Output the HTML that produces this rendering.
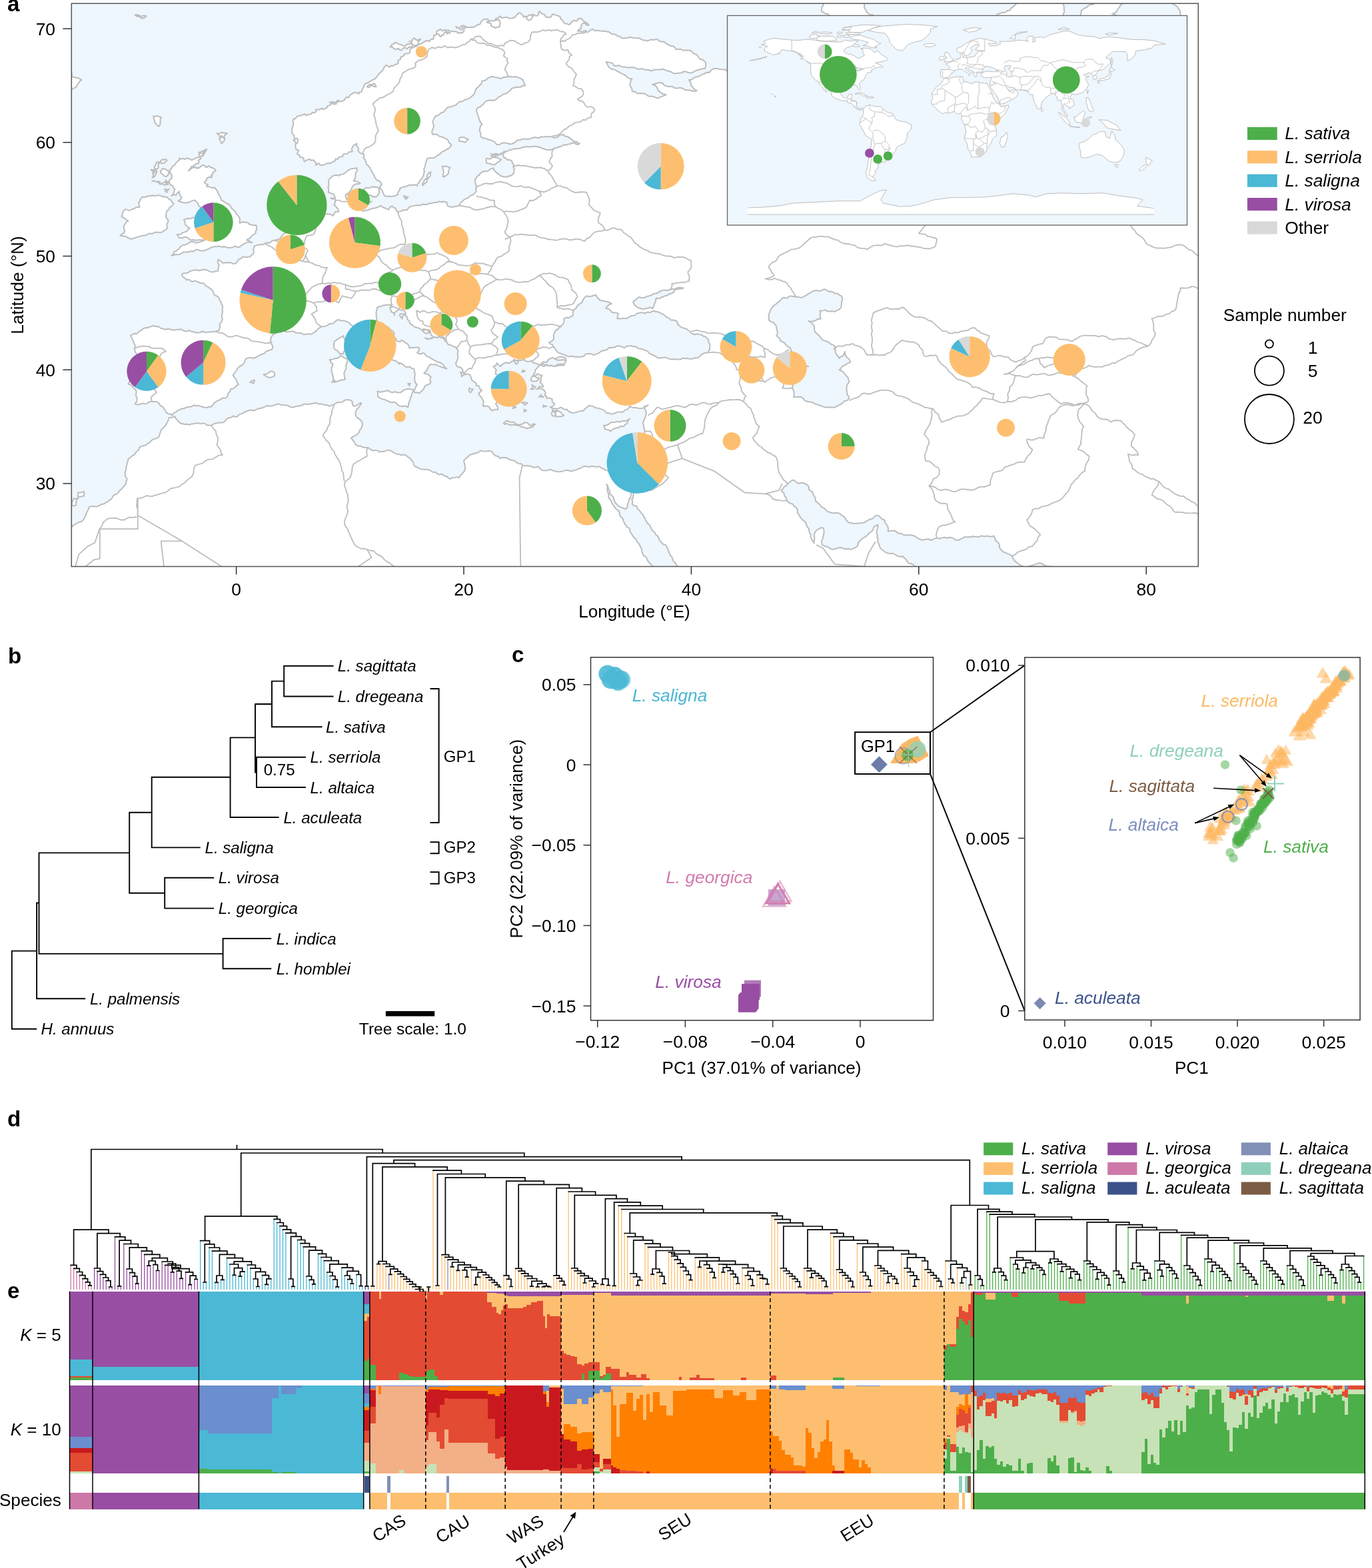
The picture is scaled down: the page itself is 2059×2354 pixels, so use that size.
<!DOCTYPE html><html><head><meta charset="utf-8"><title>Figure</title><style>html,body{margin:0;padding:0;background:#fff;}svg{display:block;}</style></head><body><svg xmlns="http://www.w3.org/2000/svg" width="2059" height="2354" viewBox="0 0 2059 2354" font-family='"Liberation Sans", Arial, Helvetica, sans-serif'><clipPath id="mapclip"><rect x="107.3" y="5.2" width="1691.0" height="845.3"/></clipPath><g clip-path="url(#mapclip)"><rect x="107.3" y="5.2" width="1691" height="845.3" fill="#EEF6FE"/><path d="M13.2,930.7L15.1,926.6L15.5,922.0L18.7,918.7L21.5,915.2L24.1,911.5L27.9,909.1L30.9,905.8L35.0,903.7L37.2,899.8L40.7,897.0L43.4,893.5L47.0,890.9L51.5,890.1L55.8,888.8L59.8,886.5L62.7,882.9L65.9,881.0L68.8,878.6L70.0,875.0L71.9,871.8L72.1,868.2L72.5,864.6L72.7,861.0L72.9,857.3L74.5,854.5L74.6,851.2L75.5,848.1L75.9,844.9L77.6,842.2L78.5,839.1L80.5,836.5L81.5,833.4L84.1,831.8L85.8,829.1L87.0,826.3L87.9,823.4L90.4,821.7L93.3,820.9L95.7,819.0L98.6,818.1L97.7,815.5L97.9,812.8L97.9,810.1L98.9,807.6L98.5,804.9L99.3,802.3L100.2,799.7L102.0,797.6L102.9,794.5L105.4,792.5L107.9,791.1L109.4,788.7L112.1,787.8L114.3,786.2L116.7,784.9L119.2,783.7L122.0,783.3L124.2,781.4L126.0,779.2L126.9,776.6L128.6,774.3L129.1,771.5L130.5,769.1L131.5,766.5L133.0,764.2L133.5,761.4L136.7,760.3L140.0,759.9L143.3,760.4L146.7,760.2L149.4,758.4L152.5,757.1L155.8,756.6L158.6,754.7L161.4,753.5L163.5,751.4L166.2,750.0L168.3,747.8L169.3,744.8L171.7,742.7L174.8,742.1L177.2,740.1L179.2,736.8L182.2,734.4L185.1,731.0L188.3,727.8L189.4,723.4L190.7,719.1L189.2,716.7L187.5,714.5L188.2,711.6L187.3,708.8L189.3,705.7L189.1,702.0L190.3,698.7L190.7,695.2L191.9,692.2L192.5,689.0L195.2,687.2L197.6,684.9L201.6,682.6L204.3,678.8L206.0,677.1L208.1,675.8L208.6,673.5L209.5,671.3L213.4,669.5L217.6,668.8L221.2,666.5L224.9,664.4L227.3,661.1L231.0,659.1L235.0,658.0L238.5,655.9L239.5,652.2L240.9,648.5L242.2,644.7L245.4,642.3L247.3,639.8L249.3,637.5L250.5,634.6L252.2,632.0L252.8,629.4L253.9,626.9L258.3,626.7L262.4,625.2L264.1,628.6L266.9,631.7L269.8,634.8L273.7,636.3L277.8,637.1L281.3,636.8L284.7,637.8L287.9,636.2L291.4,636.3L294.7,634.9L298.3,635.6L301.7,636.3L305.1,635.4L308.3,636.3L310.7,638.4L313.9,638.6L317.0,638.8L320.8,636.3L325.2,635.1L329.6,634.4L334.1,634.6L337.0,632.9L338.9,630.3L341.5,628.4L344.4,626.9L347.5,626.5L350.1,624.6L353.1,625.7L356.3,625.2L359.5,621.9L363.9,620.7L367.6,618.3L371.7,616.7L376.1,615.6L380.5,616.5L384.6,614.9L388.7,613.2L393.1,612.5L397.1,610.8L401.3,609.0L405.8,609.8L410.1,608.9L414.2,607.2L418.6,606.6L422.9,608.1L427.3,608.3L431.7,608.4L435.4,611.0L440.0,611.5L444.2,610.1L448.6,609.4L453.1,608.6L457.0,606.4L461.3,607.0L465.7,606.5L469.9,605.7L474.1,604.7L477.3,606.3L480.9,606.4L484.4,606.8L487.7,608.1L491.4,608.2L494.7,609.9L498.0,608.4L501.4,607.3L504.8,604.8L509.0,604.1L513.3,603.7L516.8,601.3L519.8,600.1L523.0,600.3L526.2,600.8L528.7,603.0L528.9,606.6L530.4,609.8L533.7,609.2L536.6,607.8L539.3,605.8L542.4,604.7L540.6,608.3L538.5,611.8L535.5,614.6L533.8,618.4L533.6,622.8L535.5,626.9L538.6,628.5L541.2,630.8L543.3,633.7L544.1,637.1L543.3,640.3L542.1,643.3L539.7,645.8L539.0,649.1L536.3,651.7L533.3,653.8L530.0,655.4L527.0,657.6L529.7,660.9L532.1,664.4L534.0,667.7L537.1,669.6L540.8,669.5L544.1,671.3L548.2,671.9L552.4,672.0L555.7,674.5L559.4,676.4L562.2,675.9L564.9,676.1L567.6,676.9L569.7,678.8L572.1,677.6L574.9,677.9L577.5,677.4L579.9,676.4L582.9,675.6L585.9,676.5L588.6,677.9L591.1,679.6L593.8,680.8L596.4,682.1L599.4,682.1L602.1,683.2L606.0,682.5L609.7,683.8L612.5,686.4L615.8,688.3L617.7,691.3L620.2,693.8L620.7,697.3L622.6,700.3L626.4,701.7L629.9,703.6L633.8,704.6L637.8,705.0L641.9,704.7L645.7,706.3L649.2,708.7L653.3,708.8L655.8,710.9L658.6,712.5L661.8,711.8L665.0,712.7L667.4,714.8L670.6,715.3L672.8,717.5L675.5,719.1L678.6,717.2L682.2,717.0L685.7,716.1L689.2,717.4L690.6,713.9L693.4,711.4L695.9,708.6L697.7,705.4L698.0,701.9L697.7,698.5L696.8,695.1L696.0,691.8L697.9,689.4L700.2,687.4L702.7,685.7L704.5,683.2L708.9,681.8L713.3,680.5L717.8,679.1L721.6,676.4L725.8,677.6L730.1,677.4L734.5,676.7L738.7,678.1L740.5,681.8L743.8,684.2L747.8,685.3L750.6,688.3L753.3,687.1L756.3,686.8L759.2,687.3L762.0,688.0L764.3,690.0L767.2,690.5L770.0,691.3L772.8,691.8L775.1,694.5L778.4,695.9L781.9,696.3L784.8,698.6L787.5,699.4L790.3,699.1L793.0,699.7L795.8,699.6L798.5,700.8L801.3,701.7L804.3,701.5L807.0,700.3L809.7,702.6L812.1,705.1L815.5,706.4L819.1,706.3L822.6,705.9L825.9,704.7L829.0,706.5L832.6,707.1L836.6,708.3L840.8,708.0L844.9,707.4L848.8,705.9L853.0,706.0L856.9,707.7L860.9,706.4L865.0,705.4L867.5,703.8L870.4,703.5L872.9,702.0L875.2,700.3L879.5,700.1L883.8,700.9L888.0,700.1L892.3,700.3L895.9,700.9L899.6,700.3L902.5,702.6L906.0,703.7L908.1,705.4L910.6,706.4L913.3,707.1L916.0,706.7L918.6,707.4L921.2,706.8L923.8,707.2L926.4,707.1L929.7,708.2L932.9,707.2L936.1,706.1L938.4,703.7L940.6,700.8L943.5,698.6L946.2,695.1L946.5,690.7L948.0,686.7L950.3,683.2L950.9,680.5L951.2,677.8L952.8,675.6L953.8,673.0L955.4,669.5L957.2,666.2L958.3,662.4L960.6,659.3L962.3,655.6L965.8,653.4L967.3,649.7L967.4,645.7L966.2,642.4L965.9,638.9L964.9,635.5L965.7,632.0L967.8,627.9L969.1,623.5L969.9,620.0L969.1,616.5L967.3,613.4L967.4,609.8L970.1,609.4L972.5,608.1L969.8,610.0L966.8,611.3L964.0,613.1L960.6,613.2L956.7,612.5L952.8,612.1L948.8,611.7L945.2,609.8L943.4,612.7L940.8,614.9L937.5,615.9L935.0,618.4L930.6,618.6L926.2,618.8L922.1,620.5L917.9,621.8L914.2,620.2L910.2,620.2L907.7,617.0L904.3,614.9L901.7,614.1L899.2,613.2L896.6,612.6L893.9,612.2L891.6,610.9L889.2,609.5L886.5,609.5L883.8,609.0L881.5,610.8L879.4,612.7L877.2,614.5L875.2,616.7L871.3,616.9L867.5,618.1L863.7,619.2L859.9,620.1L857.3,619.3L854.8,618.5L852.5,616.9L851.0,614.6L848.3,614.7L845.7,614.3L843.6,612.5L841.1,611.5L837.5,613.5L833.4,613.4L829.5,612.7L825.7,611.5L829.7,609.7L832.6,606.4L828.9,603.8L828.6,599.3L824.8,597.6L820.6,597.9L820.2,595.2L817.8,594.0L818.1,591.6L818.9,589.3L816.7,585.9L813.2,583.8L809.2,583.0L805.2,584.2L807.7,582.4L809.6,580.1L812.5,580.7L815.5,580.8L813.7,576.8L810.4,574.0L811.9,571.5L811.3,568.6L812.2,566.0L813.8,563.7L810.2,563.0L807.0,561.2L804.0,563.8L800.1,563.7L801.5,561.2L803.2,558.9L803.1,555.8L805.2,553.5L808.1,550.1L811.8,547.5L813.5,549.4L816.0,550.0L818.3,549.1L820.6,548.4L823.8,549.3L827.1,548.9L830.6,547.7L833.4,550.1L836.5,548.9L839.7,548.6L843.0,548.3L846.2,548.4L846.6,545.6L846.9,542.9L848.1,540.4L849.6,538.1L847.9,537.3L844.2,535.8L840.1,535.4L836.4,537.1L832.6,538.1L830.4,540.8L827.4,542.6L823.9,541.5L820.6,543.3L818.3,545.5L815.1,545.0L813.2,547.3L810.4,548.4L806.3,546.1L801.8,545.0L799.3,544.1L798.4,541.5L795.4,542.5L792.2,542.7L788.8,542.3L786.5,539.8L782.7,540.9L778.8,540.8L774.9,541.1L771.1,539.8L769.8,542.3L767.1,542.9L765.3,544.9L762.6,545.0L759.1,544.2L755.9,545.9L753.2,547.9L750.6,550.1L748.2,547.4L745.5,545.0L744.2,548.8L740.4,550.1L742.6,552.6L744.8,555.3L743.7,558.6L743.8,562.0L746.9,562.6L749.0,564.9L749.1,567.9L750.6,570.6L747.6,573.1L743.8,574.0L746.7,576.5L748.3,580.0L752.2,578.3L755.7,580.8L757.1,583.3L759.9,583.5L762.0,584.9L764.3,585.9L763.9,590.0L760.9,592.8L757.9,591.8L755.1,590.6L752.0,590.7L748.9,591.0L750.8,595.1L750.6,599.6L749.8,602.0L748.0,603.8L745.5,604.4L743.8,606.4L746.7,610.2L747.2,614.9L742.7,614.7L738.7,616.7L736.9,615.0L735.2,613.3L734.3,610.9L731.8,609.8L728.4,609.6L725.0,609.8L725.2,606.7L725.7,603.6L724.7,600.7L723.3,597.9L720.7,594.5L718.2,591.0L720.8,588.5L723.3,585.9L720.6,584.6L719.7,581.7L718.0,579.0L714.8,579.1L714.7,576.0L712.6,573.8L710.3,572.1L707.9,570.6L707.1,567.2L706.0,564.0L703.2,561.4L699.4,562.0L695.3,559.8L694.3,555.2L692.9,552.9L690.8,551.3L688.2,551.2L685.8,550.1L683.9,545.8L685.8,541.5L687.2,537.8L686.9,533.9L686.7,530.0L687.5,526.2L685.4,523.8L684.1,521.1L680.1,520.3L676.8,518.0L672.5,517.2L670.4,513.4L667.5,511.1L665.4,508.0L662.0,506.7L658.4,505.7L656.0,507.2L653.5,505.9L650.7,506.4L648.8,504.4L646.9,502.6L646.0,500.3L645.5,497.8L644.8,495.5L641.7,495.6L638.8,494.4L635.7,494.0L632.8,495.5L629.8,492.9L626.0,492.0L622.1,490.8L619.0,488.2L615.4,485.9L614.1,481.8L611.3,479.5L611.3,475.9L608.5,473.5L608.9,469.9L607.3,467.2L604.8,465.3L601.7,465.4L598.7,464.7L596.2,466.1L594.1,468.0L591.6,470.1L591.9,473.3L590.6,469.4L586.8,468.1L586.8,465.0L584.9,462.6L586.7,460.3L588.5,457.9L585.9,457.4L583.3,457.7L580.8,457.7L578.2,457.9L575.1,458.5L572.3,459.8L569.2,460.2L566.3,461.3L565.6,463.8L565.1,466.4L564.6,468.9L564.6,471.6L564.7,474.6L565.4,477.5L565.3,480.6L566.3,483.5L569.4,483.7L572.1,485.2L575.1,486.2L577.0,488.7L579.7,489.9L582.4,491.3L584.6,493.4L586.8,495.5L589.1,496.9L591.1,498.9L591.2,501.6L591.2,504.4L592.4,506.7L594.3,508.3L594.6,511.0L597.0,512.5L600.2,513.0L602.7,510.8L605.5,512.0L607.5,514.3L610.3,515.3L612.3,517.4L614.2,519.7L614.1,522.8L617.9,522.0L621.7,521.9L625.7,521.3L629.4,522.8L628.7,526.6L626.0,529.6L628.4,531.0L631.1,531.5L633.7,530.5L636.4,530.1L638.2,532.2L639.8,534.4L642.2,535.6L644.8,536.4L646.6,538.1L648.8,539.0L650.8,540.3L653.0,541.3L655.1,542.6L657.1,544.0L659.6,543.8L661.9,545.0L664.4,546.7L665.9,549.4L668.0,551.6L670.4,553.5L667.7,553.0L665.3,551.7L662.6,551.4L660.2,550.1L656.7,548.9L653.7,547.0L650.0,547.6L646.5,546.7L643.3,549.7L641.8,553.8L639.3,557.3L636.3,560.3L639.1,561.2L642.1,561.5L644.0,563.8L646.5,565.4L645.3,569.7L646.5,574.0L644.2,576.7L640.9,577.7L637.9,579.5L636.3,582.5L635.1,584.8L633.3,586.8L631.2,588.3L629.4,590.2L625.7,589.2L621.7,589.3L621.6,586.0L623.1,583.1L624.2,580.1L626.0,577.4L623.3,574.7L622.4,571.0L622.1,567.4L622.6,563.7L622.8,561.1L622.0,558.6L622.1,555.9L620.9,553.5L617.6,553.0L615.3,550.6L612.1,551.0L608.9,550.9L607.0,549.2L605.1,547.3L602.8,546.0L600.4,545.0L596.5,544.3L593.6,541.5L589.0,540.5L585.3,537.4L580.7,536.6L576.5,534.7L573.1,532.3L569.2,530.7L565.5,528.6L562.9,525.3L560.8,523.8L558.4,522.8L555.9,522.1L554.1,520.1L552.4,518.2L550.5,516.4L547.8,516.0L545.8,514.2L543.3,511.2L539.7,509.6L536.5,507.6L533.8,504.8L532.1,500.9L531.0,496.8L530.9,492.4L528.7,488.6L526.0,487.1L524.1,484.6L521.4,483.2L518.4,482.2L515.5,481.6L512.5,481.3L509.5,480.6L506.5,480.1L502.9,482.7L499.6,485.7L495.0,486.0L491.2,488.6L487.0,489.9L482.6,490.3L478.5,492.8L475.1,496.1L471.4,499.1L467.3,501.4L464.2,501.5L461.2,501.2L458.3,502.1L455.3,502.3L451.8,499.9L447.6,499.9L443.5,499.4L440.0,497.2L436.5,497.8L433.0,498.1L429.4,498.2L426.3,496.3L423.8,496.4L421.5,495.6L419.6,497.1L417.2,497.6L413.6,500.6L409.2,502.3L408.0,504.8L406.4,507.0L406.6,509.8L405.8,512.5L406.6,515.1L408.0,517.5L409.2,520.0L409.2,522.8L407.6,524.7L405.1,525.4L402.9,526.6L400.5,527.0L398.5,528.5L396.7,530.3L394.5,531.3L392.2,532.2L389.6,533.2L387.3,534.6L384.9,535.8L382.5,537.3L379.8,538.0L377.1,537.1L374.4,537.0L371.7,537.3L369.4,538.3L368.1,540.4L367.2,542.7L366.5,545.0L363.5,548.0L359.6,550.0L356.4,552.9L354.6,556.9L351.6,560.0L349.5,563.7L352.0,566.9L354.6,570.0L355.8,573.9L358.0,577.4L354.9,579.0L352.6,581.7L349.5,583.5L346.1,584.2L345.3,587.6L342.8,589.9L341.9,593.0L340.9,596.2L337.4,597.8L333.6,597.4L330.8,599.9L327.3,601.3L324.1,602.8L321.3,605.0L319.3,608.0L317.0,610.7L313.4,610.5L310.2,612.1L306.8,611.5L303.4,610.7L300.5,609.6L297.5,608.7L294.4,609.3L291.3,608.2L288.6,609.7L285.6,610.7L282.5,610.9L279.5,611.5L276.2,613.3L272.5,613.7L269.2,615.3L265.8,616.7L264.2,618.6L261.7,619.4L259.8,621.0L259.0,623.5L255.6,621.7L251.8,620.9L248.9,618.4L247.1,614.9L244.7,611.2L240.9,609.1L238.6,605.5L235.1,603.0L231.7,603.1L228.3,603.0L225.5,602.7L222.9,604.0L220.7,605.6L218.0,606.4L214.1,605.5L210.4,606.8L206.5,607.6L202.7,606.4L205.2,602.6L205.8,598.1L204.0,593.9L204.4,589.3L204.5,586.6L203.0,584.4L200.7,583.0L199.3,580.8L196.4,577.8L192.4,576.5L193.8,574.4L194.6,572.0L195.7,569.7L195.8,567.1L195.5,562.7L197.0,558.5L199.4,554.7L202.7,551.8L203.7,547.3L206.4,543.6L205.0,539.2L206.1,534.7L204.8,531.4L203.0,528.2L201.7,524.7L202.7,521.1L202.7,518.2L201.3,515.8L200.6,513.2L199.3,510.8L197.8,507.3L195.8,504.0L198.0,502.7L200.0,501.2L202.5,500.8L205.0,500.9L207.0,499.5L208.5,497.6L210.7,496.4L212.9,495.5L214.8,493.2L217.6,492.3L220.5,492.3L223.2,491.2L226.8,490.1L230.4,489.0L234.0,490.3L237.9,489.9L240.7,492.6L244.6,493.5L248.3,494.8L252.2,493.7L255.4,494.2L258.5,495.4L261.8,495.4L265.1,494.8L268.4,494.8L271.7,494.3L274.6,496.0L277.8,497.2L281.3,497.3L284.3,495.7L287.1,497.8L290.6,498.2L293.7,499.6L297.1,499.5L300.6,499.1L303.4,497.2L305.8,498.4L308.4,498.8L311.0,498.9L313.6,498.5L316.2,498.5L318.8,497.9L321.4,498.1L323.9,497.2L326.6,496.8L329.0,495.5L329.9,491.0L329.9,486.4L332.7,482.7L334.1,478.4L332.9,476.2L333.0,473.7L333.1,471.2L334.2,469.0L333.7,464.3L334.1,459.6L332.5,456.7L331.8,453.5L329.8,450.9L329.0,447.7L326.0,444.7L322.0,443.3L320.3,439.5L318.8,435.7L315.3,433.1L311.9,430.6L308.2,428.8L306.1,425.2L302.0,425.3L298.3,423.8L295.9,422.9L293.6,421.8L291.1,421.9L288.7,422.9L286.4,422.0L284.5,420.3L282.0,419.7L279.5,420.3L278.0,417.9L275.6,416.5L273.5,414.5L272.7,411.8L276.1,410.2L279.9,410.3L283.2,408.6L286.3,406.7L290.5,405.6L294.8,405.3L299.1,406.2L303.4,405.0L307.9,404.5L312.0,406.4L316.1,407.9L320.5,408.4L323.8,407.1L327.3,406.7L327.5,402.3L328.8,398.2L326.8,394.1L327.3,389.6L331.0,391.8L334.1,394.7L336.7,394.5L339.2,394.2L341.8,394.5L344.4,394.1L347.1,394.5L349.4,395.9L352.1,395.7L354.6,394.7L356.5,392.3L358.0,389.6L361.1,388.6L363.3,386.3L366.4,385.4L369.5,386.3L372.5,385.6L375.6,385.3L377.6,382.8L380.2,381.1L380.9,378.0L380.0,375.0L381.0,372.1L381.9,369.1L385.7,368.2L389.5,367.1L393.6,367.5L397.3,365.7L401.2,364.3L405.4,364.6L408.4,361.4L412.6,360.6L416.0,359.7L419.5,358.9L422.1,355.5L424.6,352.1L426.6,350.4L429.1,349.7L430.3,347.5L431.4,345.2L430.6,342.2L431.6,339.2L432.5,336.2L434.8,334.1L437.7,332.2L440.1,329.8L443.4,329.0L446.8,328.2L449.0,326.5L451.6,325.5L454.3,325.3L457.0,325.6L460.7,326.8L464.6,327.5L468.5,326.3L472.4,327.3L474.9,325.2L477.5,323.0L480.7,321.4L484.1,320.5L487.5,321.8L491.2,321.3L495.7,321.6L499.7,323.9L501.4,320.9L503.1,317.9L505.7,318.0L508.2,317.9L507.5,314.0L504.8,311.1L503.5,309.0L501.4,307.7L502.9,304.4L503.1,300.9L502.8,296.5L501.4,292.3L497.3,290.2L492.9,288.9L493.1,285.0L492.5,281.2L493.6,277.4L492.9,273.5L493.6,269.7L496.3,266.7L498.6,264.7L501.4,263.3L505.0,262.7L508.4,263.8L511.4,261.8L515.1,261.6L517.2,260.0L519.4,258.7L521.0,256.5L523.6,255.6L526.1,253.5L529.3,253.0L532.4,252.7L535.5,252.2L535.9,256.3L533.8,259.9L533.4,263.0L533.3,266.2L532.3,269.2L530.4,271.8L533.2,271.9L535.8,272.9L538.4,273.7L540.7,275.3L537.4,276.3L534.0,276.2L531.1,277.9L528.7,280.4L527.5,284.0L525.3,287.2L522.3,290.4L518.5,292.3L519.0,295.8L520.2,299.1L522.1,301.2L523.6,303.4L525.3,307.7L529.3,307.4L533.2,308.2L536.5,310.7L540.7,311.1L541.6,314.5L544.1,317.1L548.0,316.1L551.9,315.5L555.6,314.0L559.4,312.8L562.6,312.5L565.7,311.5L568.8,310.4L571.4,308.5L573.9,310.8L577.1,312.0L580.1,313.6L583.3,314.5L585.1,311.2L588.5,309.4L590.7,311.7L593.8,312.6L594.6,315.7L597.0,317.9L600.5,317.4L603.7,316.2L607.1,315.0L610.7,315.4L612.9,312.5L615.5,310.0L619.1,309.4L622.6,308.4L626.1,308.1L629.5,308.8L632.7,307.0L636.3,306.8L639.1,307.2L641.9,306.5L644.5,305.2L647.5,305.3L650.1,304.3L653.0,304.1L655.9,303.9L658.4,302.6L661.4,302.9L664.4,302.7L667.4,303.1L670.4,303.4L670.7,306.6L672.1,309.4L676.3,310.7L680.7,310.5L685.0,309.6L689.2,308.5L690.3,306.0L691.9,303.7L694.3,302.2L696.0,300.0L698.5,298.5L701.2,297.6L703.7,296.1L705.6,293.9L708.3,292.8L711.0,291.7L712.8,289.4L714.8,287.2L714.2,283.5L715.8,280.1L713.9,277.1L713.1,273.5L713.0,269.9L714.8,266.7L716.6,264.2L719.5,262.9L720.7,260.0L723.3,258.2L727.8,257.0L732.4,256.8L736.0,253.8L740.4,252.2L741.6,256.0L744.6,258.6L747.6,260.9L750.6,263.3L753.3,264.8L756.4,265.3L759.5,265.8L762.6,265.0L765.0,264.0L767.5,263.6L769.4,261.8L771.1,259.9L771.4,256.9L771.7,253.9L770.5,251.0L771.1,247.9L769.1,244.7L767.7,241.1L764.5,240.0L761.2,239.9L758.8,237.5L755.7,236.0L754.9,231.7L755.7,227.5L758.5,227.3L761.2,227.4L763.2,225.5L766.0,224.9L768.6,224.6L771.1,223.7L773.6,223.0L776.2,223.2L778.7,223.1L781.0,222.6L783.3,221.7L785.5,220.7L787.9,220.7L790.2,220.0L792.6,220.3L795.0,220.6L797.6,220.2L800.2,219.9L802.9,219.6L805.5,219.8L808.0,221.1L810.7,220.8L812.9,222.4L815.5,223.2L819.7,224.8L824.1,225.0L828.6,224.5L832.6,222.3L836.1,221.5L839.5,220.2L843.2,219.4L846.2,217.2L849.4,217.8L852.3,216.6L855.5,216.3L858.2,214.7L861.3,214.5L864.1,216.0L867.2,217.2L870.1,215.5L867.1,215.0L865.4,212.5L862.4,212.7L859.9,211.2L856.4,208.4L852.8,205.6L848.3,204.6L844.5,201.9L839.8,202.8L836.5,206.2L831.9,206.8L827.4,205.3L824.8,204.8L822.3,205.4L819.7,205.4L817.1,205.1L814.5,205.9L811.9,205.1L809.7,206.8L807.0,207.0L802.6,206.0L798.4,207.3L794.3,208.9L789.9,208.7L785.3,208.4L781.0,210.0L776.3,210.6L772.8,213.8L770.6,214.9L768.4,216.0L766.0,216.3L763.5,216.1L761.3,214.9L758.9,214.8L756.5,214.1L754.0,214.7L750.0,216.7L745.5,217.2L743.8,214.9L742.1,212.8L739.5,211.7L737.0,210.4L733.0,209.5L729.3,207.8L725.2,207.4L721.6,205.3L721.4,200.9L719.9,196.7L719.9,194.0L720.6,191.3L721.4,188.6L723.3,186.5L721.7,184.1L720.0,181.7L719.1,179.0L718.2,176.2L717.6,173.6L716.4,171.1L715.8,168.5L714.8,166.0L715.6,163.6L717.2,161.6L719.8,161.0L721.6,159.2L725.3,156.5L728.2,152.9L732.3,150.7L737.0,150.6L741.4,150.8L745.3,148.8L748.4,145.6L752.3,143.8L755.1,141.6L758.5,140.8L761.7,139.3L764.3,137.0L766.6,134.8L768.5,132.2L771.8,132.1L774.5,130.2L778.0,131.3L781.5,130.6L784.5,128.6L788.2,128.5L786.3,124.3L784.8,119.9L782.3,118.4L779.8,117.1L777.0,116.3L774.5,114.8L771.6,115.5L768.5,115.6L765.6,115.1L762.6,114.8L759.6,115.9L756.4,115.7L753.6,117.0L750.6,118.0L747.7,116.7L744.6,116.6L741.6,115.8L738.7,114.8L734.6,116.0L731.0,118.2L727.7,121.1L723.3,121.6L722.7,124.2L722.1,126.7L719.6,127.8L718.2,130.2L714.8,132.9L713.1,137.0L711.6,141.2L708.4,144.3L705.1,147.1L701.1,148.9L697.5,149.7L694.5,152.0L690.8,152.5L687.5,154.1L684.6,157.5L680.4,158.9L676.4,160.6L672.1,160.9L669.7,163.2L667.7,166.0L665.3,168.5L661.9,169.4L660.0,171.1L658.1,172.8L655.8,173.8L653.3,174.5L652.0,177.0L650.5,179.3L649.6,182.0L649.9,184.8L650.7,187.8L650.9,191.0L649.6,193.9L648.2,196.7L648.3,199.5L649.9,201.9L653.1,201.5L656.3,202.1L658.7,204.4L661.9,205.3L664.6,206.1L667.2,207.4L670.0,208.4L672.1,210.4L674.0,214.3L677.2,217.2L676.5,219.7L674.6,221.4L672.8,223.2L670.4,224.0L668.5,225.7L666.2,226.8L663.9,227.6L661.9,229.2L658.8,232.2L655.0,234.3L652.1,236.5L648.5,237.3L644.9,237.3L641.4,237.7L640.3,240.6L639.1,243.5L638.5,246.6L638.0,249.6L636.9,252.1L636.0,254.6L636.9,257.2L636.3,259.9L635.7,262.7L634.4,265.4L633.3,268.1L631.1,270.1L629.7,272.2L628.5,274.3L626.7,276.2L626.0,278.7L622.2,277.3L618.3,278.1L614.2,277.6L610.7,279.5L608.1,280.0L605.5,280.7L603.0,281.5L600.4,282.1L600.2,284.9L598.5,287.1L597.0,289.5L597.0,292.3L594.5,293.3L592.1,294.4L589.4,294.6L586.9,295.4L584.3,294.5L581.6,294.7L578.8,294.7L576.5,293.2L574.8,288.9L573.0,284.9L569.7,282.1L571.0,279.2L573.1,277.0L571.6,274.2L569.7,271.8L565.7,270.5L562.9,267.3L561.5,263.4L559.4,259.9L557.4,256.6L556.0,253.1L554.2,250.6L552.0,248.3L549.7,246.0L549.2,242.8L548.0,239.7L545.7,237.3L546.0,234.1L545.8,230.9L543.1,230.8L540.7,229.7L538.6,228.0L537.2,225.7L538.4,223.0L536.7,220.6L534.8,218.3L535.5,215.5L532.2,217.3L529.5,220.0L527.7,223.6L528.7,227.5L526.0,227.9L523.3,228.3L521.5,230.8L518.5,230.9L515.2,231.6L514.2,234.7L511.4,235.5L508.6,236.1L506.8,238.9L503.5,238.6L502.8,241.8L499.7,242.8L495.7,245.2L491.1,245.1L487.1,247.2L482.6,247.9L480.0,247.4L478.4,245.2L476.0,246.3L474.1,247.9L474.1,244.9L472.5,242.4L470.2,240.2L467.0,240.7L464.5,239.0L461.6,239.9L459.2,241.2L457.0,242.8L455.9,240.2L455.7,237.3L453.0,236.3L450.2,236.0L449.3,232.7L446.2,231.4L446.7,228.3L448.5,225.7L444.6,224.5L443.4,220.6L443.5,216.7L445.7,213.4L443.7,210.1L441.7,207.0L441.6,204.2L440.1,201.8L438.1,199.6L438.2,196.7L438.3,192.3L440.0,188.2L440.4,185.2L439.4,182.3L440.2,179.0L443.4,178.0L445.8,174.7L449.7,173.6L453.5,172.9L457.0,171.1L459.2,173.0L462.0,172.3L464.4,171.6L466.9,171.0L469.0,168.8L472.0,169.3L474.5,167.4L474.1,164.3L478.8,164.8L482.9,162.6L485.3,164.1L487.8,162.9L490.6,162.0L491.2,159.2L494.4,158.4L496.9,156.1L500.0,155.1L503.1,154.1L507.1,152.1L511.5,152.3L516.0,151.1L518.5,147.2L520.7,145.6L523.2,146.5L524.4,144.4L525.9,142.5L529.4,139.7L533.8,138.7L536.4,139.2L538.3,141.0L539.4,138.3L542.4,138.1L543.8,134.0L545.8,130.2L547.8,126.0L552.1,124.3L555.6,121.9L559.4,119.9L562.8,118.3L565.2,115.5L567.5,112.6L569.7,109.7L572.8,107.3L575.3,104.1L576.8,100.3L579.9,97.7L582.2,99.5L584.8,100.7L587.2,98.5L590.3,98.9L592.6,96.9L595.5,96.5L598.0,94.2L597.0,90.9L600.8,89.3L601.6,85.3L605.5,84.3L607.2,80.7L611.2,80.6L615.0,79.5L615.2,75.5L617.5,72.1L620.3,71.5L622.7,69.9L625.9,69.6L627.7,67.0L632.1,65.8L635.9,63.2L640.1,61.0L644.8,61.9L646.6,59.0L650.0,58.9L651.1,56.0L651.0,52.9L654.2,52.5L656.5,50.3L659.3,51.6L661.9,53.3L664.7,52.7L665.9,50.0L665.5,47.2L667.4,45.1L669.9,45.9L672.4,45.1L674.6,46.5L677.2,46.5L679.9,47.4L682.8,47.1L685.7,47.7L687.5,50.0L690.7,49.0L694.0,49.2L696.4,46.6L696.0,43.1L700.0,41.0L704.4,41.0L708.9,41.0L713.1,39.7L716.2,37.2L720.1,36.5L721.9,33.1L724.2,30.0L728.1,29.0L732.0,28.4L734.0,32.7L738.7,32.9L742.2,31.4L744.1,28.0L747.7,27.0L750.3,24.2L753.2,27.1L757.2,26.1L761.0,26.0L764.3,27.7L768.7,27.2L772.9,25.8L775.5,22.2L778.9,19.2L781.4,19.7L783.1,21.7L785.1,23.3L785.7,25.8L788.1,24.6L790.5,26.0L792.7,24.9L795.0,24.3L797.3,23.1L799.3,21.5L801.6,22.7L804.0,23.7L806.5,23.4L808.2,21.5L808.0,18.8L810.0,17.0L812.8,20.3L816.9,21.7L819.4,25.6L824.0,26.0L826.9,25.6L828.0,22.9L830.3,21.1L833.0,22.2L835.4,23.1L837.8,23.9L840.6,24.9L841.1,27.7L843.1,29.5L844.8,31.4L846.1,33.7L848.1,35.4L851.1,35.7L853.9,37.1L856.4,35.4L858.2,32.9L861.8,30.7L865.8,31.6L868.2,27.9L872.5,27.6L874.7,30.8L878.0,32.9L881.3,35.0L883.8,38.0L880.6,37.7L878.4,35.3L874.9,34.5L872.7,37.3L872.1,40.2L871.7,43.2L868.9,44.5L866.7,46.5L871.4,46.7L875.1,49.8L877.6,49.1L879.0,46.9L881.2,48.6L883.8,47.4L886.3,44.9L889.7,43.7L892.7,46.2L896.5,45.5L899.7,46.2L902.9,46.4L906.1,46.9L909.4,46.5L911.5,47.8L914.0,47.8L915.8,49.4L917.7,50.8L920.1,51.3L922.5,51.5L924.8,52.3L926.4,54.2L929.9,54.6L932.5,56.9L935.8,57.4L939.1,57.0L942.5,56.8L945.5,55.5L948.7,56.8L952.1,56.8L955.4,57.6L958.8,56.9L961.6,58.7L964.6,60.2L968.0,60.4L971.3,61.5L974.4,60.4L977.7,59.3L981.2,60.1L984.6,58.7L987.9,60.1L990.8,62.2L994.2,62.6L997.5,63.3L1000.1,65.6L1003.3,67.0L1006.4,69.1L1010.1,69.1L1012.9,71.4L1015.0,74.3L1018.5,73.8L1022.0,73.9L1025.2,75.8L1028.9,75.5L1031.3,75.5L1033.7,75.5L1036.0,75.8L1038.2,76.9L1039.5,79.0L1041.4,80.5L1043.7,81.3L1045.9,82.4L1048.1,85.8L1050.7,88.9L1054.8,89.8L1057.9,92.6L1059.2,95.0L1059.1,97.7L1058.9,100.4L1057.9,102.8L1053.4,103.2L1049.2,104.8L1044.7,105.7L1040.8,108.0L1037.3,109.6L1033.4,109.1L1029.9,107.8L1026.1,107.2L1022.9,109.3L1019.2,109.8L1015.5,110.1L1011.8,110.5L1007.9,108.3L1003.7,106.7L999.3,105.7L995.3,103.6L990.9,104.5L986.4,104.4L981.9,104.7L977.7,106.3L974.1,105.3L970.4,104.8L966.7,104.6L963.3,103.0L959.6,103.9L955.8,103.3L952.5,101.4L948.6,101.1L945.2,101.4L941.7,101.6L938.4,100.4L934.9,100.4L931.5,99.6L928.3,98.0L924.9,99.0L921.3,98.6L919.6,95.4L916.3,93.8L912.8,93.4L909.4,92.6L910.9,95.3L912.2,98.1L913.7,100.9L916.2,102.8L918.6,104.2L921.3,104.1L923.7,105.1L925.7,106.8L928.2,107.6L930.3,109.1L932.8,110.1L935.0,111.4L938.5,113.0L941.3,115.7L944.6,118.0L948.6,118.2L946.8,120.4L946.5,123.2L945.6,125.8L945.2,128.5L948.1,132.2L948.6,137.0L953.1,137.7L956.8,140.3L961.3,140.0L965.7,140.4L968.4,141.0L970.7,142.5L972.9,144.1L975.6,144.9L978.4,144.3L981.1,145.1L983.5,146.4L986.2,147.2L989.8,146.5L993.0,144.7L996.6,143.7L999.8,142.1L995.4,141.3L991.5,138.9L988.0,136.1L986.2,131.9L983.5,128.3L979.4,126.7L983.2,125.7L986.9,124.6L990.9,124.0L994.7,125.0L995.9,127.3L998.0,128.5L1000.3,129.3L1002.7,129.9L1005.1,130.0L1007.5,129.7L1009.9,130.2L1011.8,131.9L1016.3,132.5L1020.7,131.6L1025.0,133.0L1028.9,135.3L1033.2,135.2L1037.4,136.0L1041.6,137.3L1045.9,136.1L1043.3,134.9L1041.2,132.8L1039.4,130.5L1037.4,128.5L1036.5,123.9L1034.0,119.9L1036.9,119.9L1039.4,118.6L1041.5,116.5L1044.3,115.9L1047.0,115.0L1049.7,114.3L1051.9,112.5L1054.5,111.4L1057.0,111.0L1058.9,109.2L1061.4,108.7L1063.9,108.9L1065.9,107.4L1067.2,105.3L1069.4,104.1L1071.5,102.8L1075.8,103.1L1080.1,103.9L1084.3,104.2L1088.6,104.6L1092.3,107.4L1096.9,107.9L1101.4,108.1L1105.7,109.7L1106.8,107.4L1107.5,105.0L1109.3,103.1L1110.8,101.1L1108.3,98.4L1105.7,95.8L1104.8,92.0L1102.3,89.2L1099.8,87.5L1098.2,85.1L1096.7,82.6L1095.7,79.9L1095.4,77.1L1094.7,74.3L1094.5,71.4L1093.7,68.7L1096.9,68.7L1099.6,67.1L1102.6,68.2L1105.7,67.9L1109.0,68.4L1112.2,67.5L1115.6,67.7L1118.6,66.1L1121.8,66.8L1125.1,66.6L1128.0,68.0L1131.3,68.7L1133.4,71.6L1136.6,73.3L1139.9,74.4L1143.2,75.5L1146.4,77.5L1148.4,80.7L1151.8,81.3L1154.3,83.7L1157.6,84.3L1160.8,85.2L1163.7,83.3L1167.2,82.7L1170.8,82.5L1174.0,84.1L1177.3,83.5L1180.6,83.3L1183.9,84.4L1187.3,84.0L1189.6,81.4L1192.9,80.3L1196.3,79.7L1199.6,78.9L1202.0,79.5L1204.3,78.5L1206.5,77.4L1208.1,75.6L1210.5,74.8L1212.9,75.2L1215.1,74.1L1216.6,72.1L1219.2,69.9L1222.5,69.0L1225.9,68.9L1229.2,68.5L1232.2,70.1L1235.7,69.9L1239.0,69.3L1242.2,68.7L1245.0,66.7L1247.9,65.0L1251.4,64.9L1254.5,63.2L1257.6,64.8L1261.1,65.3L1264.4,64.2L1267.8,63.6L1269.5,65.5L1271.5,66.9L1273.3,68.7L1275.2,70.2L1277.7,70.4L1280.2,70.4L1282.3,71.9L1284.9,72.1L1288.3,71.5L1291.5,70.5L1294.8,71.4L1298.1,72.3L1300.9,70.4L1303.9,68.9L1307.3,68.9L1310.5,67.9L1313.6,68.8L1316.9,68.9L1320.1,68.0L1323.3,68.4L1326.4,67.3L1329.7,67.0L1332.8,68.4L1336.1,67.9L1338.7,65.6L1341.8,64.2L1345.1,63.3L1348.4,62.5L1351.5,60.9L1355.0,60.5L1358.3,61.3L1361.7,61.9L1365.4,61.2L1369.1,61.6L1372.9,61.3L1376.2,59.6L1379.6,58.0L1382.6,55.7L1385.4,53.2L1387.3,49.9L1390.1,47.5L1392.5,44.8L1394.9,45.6L1397.5,45.5L1400.0,45.1L1402.5,45.9L1405.2,46.3L1407.1,48.2L1408.6,50.3L1410.6,51.9L1413.0,51.4L1415.3,50.3L1417.8,50.6L1420.2,50.2L1422.7,50.2L1425.1,49.4L1427.5,50.4L1430.0,49.9L1433.4,50.2L1436.6,51.5L1439.5,53.3L1442.3,55.2L1445.6,54.5L1448.9,54.2L1452.4,53.6L1455.6,55.0L1458.8,56.3L1461.4,58.4L1464.8,59.0L1467.8,60.5L1471.1,59.3L1474.5,60.0L1477.9,60.6L1481.2,60.2L1483.9,60.7L1486.6,60.8L1488.7,62.5L1491.2,63.6L1493.6,62.3L1496.4,62.0L1499.1,62.7L1501.7,63.6L1504.8,64.7L1507.9,65.4L1511.1,65.5L1514.4,65.3L1516.9,67.7L1520.3,68.3L1522.1,71.1L1523.9,73.8L1526.1,70.8L1527.4,67.3L1529.6,64.3L1532.4,61.9L1529.0,61.1L1525.4,61.1L1522.2,59.7L1518.7,59.1L1516.4,56.3L1513.3,54.5L1509.8,53.8L1506.8,51.6L1503.9,49.3L1501.0,47.1L1497.8,45.4L1494.9,43.1L1497.4,39.2L1498.3,34.6L1498.0,32.0L1496.4,29.9L1494.3,28.4L1493.2,26.0L1495.4,23.7L1497.3,21.1L1500.5,20.5L1503.3,18.9L1506.5,19.0L1509.5,17.9L1512.1,15.9L1515.4,15.8L1517.5,12.4L1520.6,9.9L1523.9,7.5L1525.6,3.8L1526.6,1.0L1528.3,-1.4L1530.4,-3.5L1532.8,-5.4L1532.8,-8.4L1533.2,-11.3L1534.5,-14.0L1535.8,-16.6L1538.8,-15.8L1541.9,-15.9L1544.9,-15.6L1547.7,-14.4L1550.8,-14.9L1553.9,-15.5L1556.5,-13.4L1559.7,-13.1L1562.7,-12.1L1565.9,-12.4L1568.9,-13.2L1572.0,-12.5L1575.3,-12.1L1578.5,-12.9L1580.8,-15.1L1583.6,-16.6L1584.2,-14.1L1586.0,-12.1L1587.9,-10.3L1590.4,-9.3L1590.9,-6.9L1591.1,-4.4L1591.3,-1.9L1592.2,0.4L1594.4,4.4L1596.6,8.4L1596.8,13.0L1597.3,17.5L1595.6,21.8L1593.6,25.9L1591.1,29.9L1590.5,34.6L1591.5,39.1L1594.5,42.6L1595.6,47.2L1593.9,51.6L1592.7,56.0L1592.1,60.4L1591.7,65.1L1588.8,68.7L1591.0,69.9L1592.5,72.0L1593.0,74.5L1594.8,76.4L1596.5,78.3L1597.1,80.8L1596.6,83.3L1597.3,85.8L1598.9,87.9L1601.5,88.6L1602.3,91.2L1604.5,92.7L1607.0,91.8L1609.7,92.1L1612.3,92.6L1614.4,94.3L1616.6,93.2L1618.4,91.6L1620.2,89.9L1621.5,87.8L1622.9,85.8L1624.6,84.0L1626.8,82.9L1628.0,80.7L1629.3,77.0L1631.7,74.0L1632.9,70.3L1634.8,67.0L1631.5,65.1L1629.5,61.8L1627.4,58.7L1626.3,55.0L1624.2,53.8L1622.5,51.9L1620.5,50.3L1619.7,47.8L1618.4,45.8L1616.8,43.9L1615.2,42.0L1614.4,39.7L1613.7,36.1L1614.4,32.4L1615.1,28.7L1617.8,26.0L1620.0,24.3L1621.6,22.0L1622.8,19.3L1622.5,16.5L1624.4,14.6L1626.6,13.1L1628.9,11.7L1631.4,10.7L1633.3,8.5L1635.7,7.0L1638.6,7.0L1641.2,6.0L1643.8,4.7L1646.3,3.3L1649.1,4.0L1651.9,3.8L1656.6,3.6L1660.3,0.8L1664.4,-1.2L1669.0,-1.2L1673.4,0.1L1677.1,2.9L1681.6,2.6L1686.1,3.8L1684.0,6.1L1681.4,7.8L1680.2,10.6L1678.0,12.9L1676.6,15.7L1674.7,18.3L1672.1,20.0L1669.0,20.9L1672.1,22.0L1675.2,23.1L1678.2,24.7L1681.4,25.4L1684.8,25.7L1688.0,24.9L1691.3,25.6L1694.6,26.0L1699.0,26.0L1703.3,24.9L1707.5,26.2L1711.7,27.7L1716.2,28.8L1720.7,29.9L1724.9,31.9L1728.7,34.6L1727.3,37.1L1725.9,39.7L1723.6,41.6L1721.5,43.7L1719.6,46.0L1717.3,48.0L1714.7,49.5L1711.7,49.9L1715.1,51.2L1718.7,51.7L1721.3,54.3L1723.4,57.3L1726.8,56.3L1730.3,55.9L1733.7,56.8L1737.3,56.8L1740.6,57.2L1744.0,56.7L1746.5,54.2L1749.9,53.5L1752.9,51.8L1756.1,50.8L1759.4,51.9L1762.9,51.6L1759.8,48.9L1757.8,45.3L1755.8,41.8L1754.3,38.0L1756.7,36.6L1759.3,35.8L1761.8,36.9L1764.6,36.5L1767.0,35.4L1769.5,34.4L1772.2,33.7L1774.8,34.6L1773.6,30.2L1771.0,26.5L1771.4,22.0L1771.4,17.5L1770.1,15.0L1768.3,12.8L1767.0,10.2L1764.6,8.5L1762.0,7.2L1759.8,5.6L1757.2,4.1L1754.3,3.8L1751.9,1.3L1750.2,-1.8L1749.4,-5.2L1748.4,-8.6L1745.9,-10.9L1743.0,-12.8L1739.9,-14.5L1737.3,-16.6L1976.2,-42.2L1976.2,982.0L13.2,982.0Z" fill="#fff" stroke="#BDBDBD" stroke-width="2" stroke-linejoin="round"/><path d="M851.3,534.7L855.2,535.5L859.1,534.5L862.7,536.0L866.7,535.6L869.9,536.3L873.1,535.5L876.2,534.5L878.4,532.0L881.4,530.9L884.6,530.9L887.8,531.4L890.6,533.0L894.6,531.6L898.5,530.1L901.9,527.5L906.0,526.2L910.6,525.2L913.9,521.7L918.5,522.0L923.0,521.1L926.4,519.3L930.1,519.7L933.7,520.5L936.7,522.5L939.5,520.0L943.2,519.4L946.9,518.9L950.3,520.2L953.0,520.1L955.5,521.1L958.4,523.4L962.2,523.8L965.7,524.8L969.1,526.2L972.0,527.5L973.9,530.0L976.5,531.7L979.4,533.0L981.8,533.8L983.9,535.1L985.9,536.6L988.2,537.7L990.7,537.0L993.2,537.4L995.7,536.8L998.1,536.4L1001.1,537.4L1003.9,538.6L1007.0,539.4L1010.1,539.0L1012.8,539.5L1015.7,539.5L1018.4,539.6L1021.2,539.8L1023.6,538.1L1026.6,537.9L1029.4,538.2L1032.3,538.1L1036.1,539.0L1040.0,538.3L1043.7,537.2L1047.6,537.3L1050.9,534.2L1054.2,531.2L1058.5,529.8L1063.0,529.6L1063.3,526.8L1065.2,524.7L1064.7,522.0L1065.6,519.4L1065.2,516.7L1063.7,514.4L1063.3,511.7L1063.0,509.1L1060.4,507.8L1058.8,505.3L1055.9,504.9L1053.7,503.0L1050.9,502.4L1048.2,501.6L1045.2,501.2L1042.5,502.3L1039.6,501.3L1037.0,499.5L1034.8,497.3L1032.3,495.5L1030.0,493.6L1027.1,493.0L1024.5,491.9L1021.8,491.1L1019.7,489.0L1017.2,487.3L1016.5,484.5L1015.2,481.8L1011.1,480.5L1006.9,480.5L1003.9,477.4L999.8,475.8L997.9,474.0L996.1,472.1L993.6,471.3L991.3,469.9L988.8,468.7L986.2,468.0L983.5,467.9L981.1,466.4L978.5,467.7L975.9,469.0L971.5,468.6L967.5,470.5L963.3,468.9L958.9,469.9L955.6,470.6L953.3,473.1L950.2,473.9L946.9,474.1L944.9,476.0L942.3,476.9L939.9,478.2L937.1,478.1L934.4,477.7L931.8,478.6L929.1,478.0L926.4,478.4L926.7,474.8L928.2,471.6L926.0,469.9L923.3,469.4L920.7,469.3L918.1,468.7L916.5,466.5L914.6,464.5L912.1,463.5L909.4,463.0L910.7,460.5L912.8,458.6L915.0,456.7L917.9,456.2L914.1,453.7L909.6,452.8L905.3,451.6L900.8,451.1L899.1,449.0L896.9,447.3L895.4,444.9L894.0,442.5L890.7,443.8L887.3,444.7L883.8,445.2L880.4,444.2L877.3,446.8L875.0,450.1L873.5,453.9L870.1,456.2L867.5,457.8L865.7,460.3L864.2,463.0L861.6,464.7L859.9,468.8L859.9,473.3L856.8,475.4L853.5,477.1L849.7,476.8L846.2,478.4L846.9,481.2L845.9,484.0L844.9,486.7L842.8,488.6L839.5,490.4L837.8,493.8L834.4,495.5L832.6,498.9L831.2,501.2L830.6,503.8L831.1,506.4L830.9,509.1L827.9,512.3L824.0,514.2L826.3,516.6L829.3,517.4L830.2,520.6L832.6,522.8L834.9,526.3L837.7,529.6L840.7,530.4L843.7,531.6L846.7,532.5L849.6,533.9ZM950.3,452.8L951.0,455.4L952.1,457.9L954.4,459.1L955.8,461.3L958.3,461.9L960.6,463.0L963.0,463.4L965.3,464.0L967.7,463.7L970.0,462.8L972.4,462.5L974.7,461.6L977.2,461.9L979.4,463.0L981.2,459.4L982.3,455.5L984.2,451.8L984.5,447.7L987.5,447.9L990.4,447.7L992.9,445.9L995.9,445.3L998.5,443.8L1001.6,443.8L1003.8,441.8L1006.7,440.8L1009.4,440.0L1011.1,437.9L1012.9,435.8L1014.9,434.0L1017.6,434.1L1020.3,433.6L1023.0,433.6L1025.5,432.3L1021.1,431.8L1016.8,431.8L1012.9,434.0L1008.4,434.0L1005.0,434.7L1001.7,435.9L998.2,435.6L994.7,435.7L991.2,436.9L988.2,439.1L984.8,440.5L981.1,440.8L978.7,442.6L976.0,443.7L973.2,444.6L970.3,445.0L967.8,446.7L964.8,447.2L961.8,446.8L958.9,446.0L956.6,447.5L954.8,449.6L952.5,451.1ZM810.4,547.5L812.9,546.9L815.5,546.4L817.9,547.8L820.6,547.5L823.7,549.1L827.1,548.4L830.1,549.7L833.4,549.7L836.1,547.5L839.5,546.9L842.9,546.5L846.2,547.5L848.1,544.6L849.6,541.5L845.4,540.1L841.0,540.7L836.6,540.7L832.6,539.0L829.0,536.9L825.3,538.6L822.2,540.7L820.6,544.1L817.6,543.6L814.6,543.2L812.9,545.8ZM1153.5,480.1L1154.2,477.3L1153.5,474.5L1153.9,471.8L1155.0,469.2L1155.9,466.6L1157.2,464.1L1158.6,461.8L1160.3,459.6L1164.0,457.0L1167.3,453.9L1171.1,451.2L1174.0,447.7L1176.6,446.8L1179.3,447.5L1182.0,447.0L1184.1,445.0L1186.7,444.4L1189.3,445.0L1192.0,444.8L1194.4,446.0L1198.8,445.9L1202.9,446.9L1206.8,445.1L1210.5,442.9L1213.9,440.6L1217.4,438.5L1221.2,436.7L1225.2,435.7L1228.5,436.9L1231.9,436.4L1235.0,434.9L1238.4,434.3L1241.3,436.0L1244.1,437.8L1247.7,437.5L1250.8,439.1L1253.8,440.8L1257.3,440.5L1259.5,443.1L1262.7,444.2L1264.0,446.7L1264.2,449.5L1263.5,452.1L1263.0,454.8L1262.7,457.6L1262.7,460.3L1261.2,462.7L1259.3,464.7L1255.8,466.2L1252.5,468.1L1248.8,466.9L1244.9,467.8L1241.2,467.0L1237.8,465.4L1234.1,466.6L1230.3,466.4L1231.4,469.4L1230.8,472.5L1230.6,475.6L1232.0,478.4L1229.5,479.3L1227.0,478.6L1225.4,480.6L1222.8,481.3L1220.5,482.2L1218.1,482.8L1215.6,482.4L1213.2,481.8L1215.9,483.1L1218.0,485.1L1220.2,487.1L1221.7,489.6L1222.3,492.6L1222.0,495.6L1223.4,498.2L1225.2,500.6L1228.9,503.2L1231.5,506.9L1234.5,510.4L1238.9,511.9L1243.1,513.5L1246.6,516.4L1250.8,518.2L1254.2,521.1L1253.4,525.3L1254.2,529.6L1255.1,532.0L1256.8,533.8L1258.3,535.8L1259.3,538.1L1261.7,535.4L1265.2,534.3L1266.5,531.1L1267.8,527.9L1268.4,532.4L1270.7,536.4L1274.2,539.2L1276.4,543.3L1274.2,544.8L1271.7,545.6L1269.7,547.5L1267.2,548.3L1264.9,549.7L1262.8,551.3L1261.7,553.8L1259.3,555.2L1262.0,556.5L1264.7,557.8L1266.6,560.1L1268.7,562.2L1270.3,564.8L1272.7,566.6L1273.0,569.7L1274.7,572.3L1273.1,575.3L1271.0,578.1L1270.4,581.6L1270.8,585.1L1270.9,588.5L1271.2,591.9L1273.2,594.7L1274.7,597.9L1273.0,599.6L1271.3,601.3L1268.9,601.8L1266.6,602.4L1263.5,606.0L1259.3,608.1L1257.0,609.4L1254.6,610.5L1252.1,611.7L1249.3,611.5L1246.7,611.3L1244.1,612.1L1241.6,611.0L1238.8,611.5L1235.6,610.6L1232.5,609.3L1229.2,608.3L1226.1,607.1L1222.6,606.6L1219.9,604.3L1216.6,603.5L1213.2,603.0L1210.1,602.6L1207.4,601.0L1205.5,598.4L1203.1,596.5L1200.1,595.5L1197.1,595.9L1194.0,596.1L1191.0,596.2L1191.6,592.7L1191.7,589.1L1190.7,585.8L1189.3,582.5L1189.5,578.5L1191.1,574.9L1191.9,571.0L1191.0,567.1L1194.0,564.8L1195.4,561.2L1196.6,557.6L1199.6,555.2L1202.7,553.3L1206.2,552.1L1209.5,550.3L1213.2,550.1L1209.7,548.9L1206.1,548.3L1202.3,547.6L1199.6,545.0L1197.1,541.1L1194.4,537.3L1190.8,534.1L1189.3,529.6L1187.1,526.1L1186.0,522.1L1182.2,520.4L1179.1,517.6L1177.9,515.3L1175.8,513.9L1173.4,513.0L1171.3,511.8L1170.5,509.4L1169.2,507.3L1167.3,505.7L1165.4,504.0L1166.8,500.7L1166.6,497.2L1165.4,493.9L1165.4,490.3L1163.2,487.0L1160.5,484.0L1156.5,482.9ZM910.2,726.8L911.9,730.5L911.1,734.4L912.3,738.9L913.6,743.4L913.1,745.9L914.0,748.2L915.7,749.9L917.0,752.0L919.0,756.3L921.6,760.2L924.3,764.0L928.2,766.9L929.8,769.4L929.8,772.4L931.0,775.2L933.3,777.1L935.1,779.2L935.4,782.0L936.9,784.2L937.6,786.8L939.6,788.7L940.5,791.4L943.3,792.1L945.2,794.2L945.5,798.1L947.8,801.2L949.6,804.6L952.0,807.5L955.0,810.0L956.4,813.6L959.0,816.3L960.6,819.8L961.8,822.2L962.9,824.7L963.2,827.4L964.0,830.0L965.0,832.3L966.2,834.5L968.6,835.5L970.3,837.4L971.4,839.6L971.9,842.0L973.8,843.6L975.0,845.8L977.1,847.1L978.6,849.1L979.8,851.3L981.3,853.2L982.5,855.5L982.2,858.1L982.9,860.5L984.5,862.5L983.9,866.9L985.5,871.1L985.7,875.5L986.3,879.8L984.6,884.1L985.5,888.5L986.4,893.0L985.0,897.3L985.3,901.9L983.8,906.3L983.5,911.0L985.4,915.3L988.4,918.8L991.1,922.4L994.2,926.0L994.7,930.7L998.5,929.1L1001.8,926.8L1005.9,925.7L1010.0,927.0L1014.0,926.7L1017.6,925.1L1020.6,922.3L1024.6,921.3L1027.9,923.9L1031.8,925.3L1035.5,927.3L1038.1,930.5L1042.1,931.9L1046.3,931.9L1050.4,931.4L1054.5,930.7L1052.8,926.6L1049.1,924.1L1047.0,920.3L1043.3,917.8L1041.2,914.1L1038.8,910.6L1035.7,907.5L1034.5,903.3L1033.5,899.0L1032.7,894.8L1031.1,890.7L1028.0,887.5L1025.9,883.7L1024.3,879.6L1024.5,875.3L1023.7,871.0L1022.1,868.7L1020.8,866.2L1020.5,863.4L1020.9,860.6L1020.2,857.9L1019.0,855.5L1018.7,852.7L1016.9,850.5L1014.9,847.9L1013.6,844.9L1010.8,842.9L1009.6,839.7L1008.6,836.5L1006.0,834.2L1005.1,831.0L1003.3,828.3L1003.0,825.4L1001.6,822.9L1000.3,820.3L998.9,817.8L995.9,817.5L993.5,815.6L991.9,813.1L989.6,811.2L988.9,808.6L987.7,806.3L986.3,803.9L983.8,802.6L983.1,800.0L981.1,798.1L979.0,796.5L977.7,794.2L976.1,790.9L974.5,787.8L971.7,785.4L969.9,782.3L968.3,779.1L966.4,776.1L965.1,772.7L962.3,770.3L960.7,767.6L958.5,765.4L956.3,763.1L955.5,760.0L951.6,759.3L948.6,756.6L949.4,753.1L948.2,749.6L950.3,746.6L950.3,743.0L951.4,738.3L952.1,733.6L949.8,735.3L948.0,737.5L946.9,740.1L946.9,743.0L946.2,746.6L944.0,749.6L943.4,753.3L941.8,756.6L941.7,760.9L939.2,764.3L936.4,763.3L933.8,762.0L930.9,761.1L928.2,760.0L926.3,757.5L923.9,755.5L922.6,752.6L921.3,749.8L921.0,747.2L919.3,745.3L917.9,743.2L915.6,742.0L914.9,739.6L915.0,737.1L913.9,734.9L912.8,732.7L912.1,729.5ZM1182.5,725.9L1180.4,729.0L1176.9,730.6L1175.0,733.7L1172.3,736.1L1173.9,738.2L1176.1,739.7L1176.9,742.2L1177.3,744.7L1179.3,746.3L1180.2,748.8L1181.1,751.1L1182.5,753.2L1185.8,755.6L1189.7,756.8L1192.0,760.2L1195.5,762.3L1197.0,766.1L1197.0,770.2L1199.4,773.5L1201.3,777.1L1203.5,779.2L1205.5,781.4L1208.0,783.2L1209.8,785.6L1210.9,790.2L1213.9,793.9L1214.5,798.6L1216.6,802.7L1216.6,806.3L1218.0,809.6L1219.8,812.6L1221.8,815.5L1221.3,813.0L1222.0,810.5L1222.5,808.0L1222.0,805.5L1221.8,802.8L1222.6,800.3L1224.0,798.2L1225.2,795.9L1227.7,794.8L1230.0,793.2L1232.6,792.3L1235.4,792.5L1236.4,795.8L1236.6,799.3L1236.0,802.7L1235.4,806.1L1234.5,809.1L1233.1,811.9L1233.3,815.0L1233.7,818.1L1237.9,820.1L1242.4,821.1L1246.2,823.8L1250.8,824.9L1253.8,823.7L1257.1,823.1L1260.2,821.9L1263.6,822.5L1266.6,823.8L1269.9,824.2L1273.2,823.7L1276.4,824.9L1279.2,824.2L1281.7,822.8L1284.5,821.8L1286.6,819.8L1287.7,817.5L1287.6,815.0L1289.6,813.6L1290.8,811.4L1294.3,808.2L1298.6,806.1L1301.8,803.4L1304.6,800.2L1308.3,798.0L1310.5,794.2L1311.3,791.7L1312.9,789.7L1315.5,789.2L1317.3,787.4L1317.3,790.8L1316.5,794.2L1315.7,797.5L1315.6,801.0L1316.8,803.9L1316.4,807.0L1317.7,809.8L1317.3,813.0L1319.1,817.4L1320.6,821.9L1322.1,823.7L1323.8,825.5L1325.8,826.7L1327.6,828.3L1331.6,830.4L1336.1,831.0L1340.7,831.0L1344.7,833.4L1347.0,834.7L1349.6,835.3L1352.3,836.0L1354.9,835.1L1357.1,837.9L1360.0,840.0L1361.5,843.3L1364.0,845.8L1367.7,846.2L1370.9,848.1L1373.4,850.8L1375.4,853.9L1378.8,982.0L1600.7,982.0L1592.2,862.5L1590.1,859.8L1588.5,856.9L1585.9,854.7L1583.6,852.2L1580.2,852.0L1577.2,850.2L1573.9,850.6L1570.6,849.9L1567.4,848.6L1564.6,846.8L1561.5,845.3L1558.0,845.4L1553.9,847.4L1549.4,848.7L1545.0,850.0L1541.0,852.2L1537.9,851.2L1534.7,850.3L1531.9,848.6L1529.0,847.1L1525.9,844.5L1522.7,842.1L1520.5,838.8L1518.8,835.1L1515.8,832.6L1512.1,831.5L1508.8,829.5L1505.1,828.3L1502.4,825.5L1500.1,822.3L1499.9,818.3L1498.3,814.7L1495.7,812.8L1493.7,810.3L1492.8,807.3L1491.5,804.4L1489.2,805.5L1486.8,805.4L1484.3,805.5L1482.1,804.6L1477.4,805.2L1472.7,804.4L1469.7,805.8L1466.3,806.0L1463.0,806.0L1459.9,805.0L1456.8,806.2L1453.5,806.0L1450.3,806.5L1447.1,806.1L1444.5,808.4L1441.1,809.3L1438.0,811.0L1434.5,810.7L1431.7,808.6L1428.4,807.3L1424.9,806.8L1421.5,807.8L1417.7,806.8L1413.8,807.6L1410.0,808.4L1406.1,807.8L1401.7,808.9L1397.6,811.0L1393.3,809.3L1388.7,809.8L1384.1,810.7L1379.6,809.3L1375.8,806.8L1372.0,804.4L1369.6,804.0L1367.3,803.2L1364.9,802.9L1362.5,803.3L1360.0,803.2L1357.5,803.6L1355.1,802.6L1353.2,801.0L1350.4,801.1L1347.7,800.3L1345.4,798.8L1343.4,796.8L1340.7,797.0L1338.0,796.4L1335.4,797.4L1332.7,797.6L1333.1,793.0L1331.5,788.7L1328.3,785.2L1327.6,780.5L1324.1,779.7L1321.6,777.1L1319.1,774.6L1315.6,773.7L1312.4,775.3L1310.4,778.3L1307.0,779.2L1303.7,780.5L1300.5,782.4L1297.3,784.4L1293.7,784.9L1290.0,785.6L1287.6,785.9L1285.2,785.6L1282.8,786.1L1280.3,785.8L1277.9,785.0L1275.4,784.9L1273.1,784.0L1271.3,782.2L1269.1,779.9L1267.9,776.9L1265.5,774.8L1262.7,773.4L1260.4,771.0L1257.2,770.1L1254.0,769.9L1250.8,770.3L1248.1,769.9L1245.5,769.0L1242.9,768.2L1240.5,766.8L1238.6,764.8L1236.8,762.7L1234.1,762.0L1232.0,760.0L1230.2,757.6L1227.9,755.5L1225.6,753.5L1223.5,751.3L1223.8,748.1L1222.2,745.3L1220.4,742.7L1220.0,739.6L1217.1,737.0L1213.9,734.9L1213.8,730.9L1211.5,727.6L1208.6,726.5L1205.8,725.0L1202.6,724.8L1199.6,725.9L1196.8,725.0L1194.4,723.4L1192.3,721.3L1189.3,720.8L1185.8,723.2ZM1797.0,879.5L1801.5,878.9L1805.6,880.8L1809.8,880.0L1814.1,879.4L1818.4,880.5L1822.6,882.0L1827.0,881.0L1831.2,879.5L1828.9,883.5L1828.7,888.1L1829.7,892.4L1831.2,896.6L1828.4,894.8L1825.2,894.7L1822.0,894.6L1819.1,896.0L1816.6,897.8L1814.1,899.5L1811.6,901.2L1808.6,902.0L1806.2,903.8L1803.5,905.0L1800.7,905.9L1797.8,906.7L1794.9,907.4L1792.1,908.8L1791.0,911.7L1788.5,913.7L1787.4,916.9L1786.2,920.2L1783.6,922.4L1781.8,925.4L1779.1,927.9L1777.8,931.2L1775.0,933.5L1771.4,934.2L1770.5,938.2L1768.0,941.5L1765.7,944.9L1762.9,947.8L1720.2,982.0L1976.2,982.0L1976.2,862.5L1856.8,862.5L1852.9,864.4L1848.5,864.1L1844.9,861.8L1840.7,861.1L1836.7,861.9L1832.9,863.6L1828.9,863.3L1824.8,863.7L1820.5,864.5L1816.3,863.8L1812.9,866.5L1808.8,867.9L1806.4,871.4L1804.0,874.8L1799.8,876.2Z" fill="#EEF6FE" stroke="#BDBDBD" stroke-width="2" stroke-linejoin="round"/><path d="M257.3,383.6L260.4,383.4L263.2,382.0L266.2,382.3L269.2,381.9L270.9,381.2L272.6,380.4L274.0,379.3L275.6,378.4L277.4,378.5L279.3,378.4L281.1,378.2L282.9,378.5L285.9,377.1L289.3,377.5L292.2,376.0L294.9,374.3L296.9,375.2L299.0,375.8L301.2,376.4L303.4,376.5L305.6,376.2L307.8,376.0L309.7,374.7L311.9,374.3L314.4,373.2L316.5,371.4L319.2,370.9L321.8,370.3L324.5,370.3L327.1,369.6L329.9,369.7L332.4,370.8L334.3,370.9L335.8,369.8L337.4,370.7L339.3,370.9L340.9,371.6L342.6,372.1L344.4,372.1L346.1,371.6L347.9,371.7L349.7,371.5L351.0,370.1L352.8,369.6L354.5,370.2L356.2,370.8L357.9,371.2L359.7,370.8L361.5,369.0L363.7,367.6L365.9,366.2L368.3,365.2L370.6,363.9L373.2,363.1L375.8,364.0L378.5,364.0L376.1,363.5L374.4,361.8L372.3,360.8L370.0,360.6L371.5,359.1L373.6,358.4L375.6,357.4L376.8,355.5L378.0,353.7L380.0,352.6L381.8,351.5L383.6,350.4L383.7,347.3L385.1,344.5L385.1,341.4L384.5,338.4L382.7,338.0L381.0,338.7L379.4,337.8L377.6,337.6L375.9,337.0L374.1,336.7L373.3,335.1L371.7,334.1L368.6,333.9L365.6,333.3L362.5,333.6L359.7,335.0L359.6,332.3L360.0,329.7L359.4,327.1L358.0,324.8L356.3,322.6L354.3,320.7L353.4,318.1L351.2,316.2L349.3,314.1L347.1,312.5L346.1,309.9L344.4,307.7L343.1,306.4L341.3,306.0L339.7,305.3L338.6,303.9L336.9,303.5L335.5,302.4L334.2,301.2L332.4,300.9L331.2,297.8L330.2,294.7L328.2,292.1L327.3,288.9L325.9,286.4L324.1,284.1L322.0,281.5L318.8,282.1L316.6,281.6L314.6,280.7L312.5,279.6L310.2,280.4L310.8,278.5L311.9,277.0L308.8,276.1L306.8,273.5L308.0,272.2L309.5,271.2L310.0,269.5L310.3,267.7L311.9,266.8L313.5,265.9L315.4,265.7L317.0,266.7L317.9,264.9L316.7,263.2L318.6,262.7L319.4,260.9L319.3,259.0L320.7,257.7L322.4,257.4L323.9,256.5L322.8,254.1L320.5,253.1L319.1,251.9L317.4,251.5L315.5,251.2L314.5,249.6L312.2,249.3L310.9,251.2L308.7,250.9L307.7,249.0L305.9,248.2L304.0,248.0L302.3,248.7L301.0,250.1L299.6,251.3L298.3,252.5L296.4,251.8L294.9,253.1L293.9,251.0L291.7,250.8L289.9,252.0L287.9,251.2L287.2,253.0L285.8,254.3L284.3,255.3L282.9,256.5L284.2,254.4L286.0,252.8L287.1,250.3L289.7,249.6L291.1,247.8L293.3,246.9L295.2,245.3L297.7,245.6L298.9,243.2L297.7,240.7L299.9,239.4L301.7,237.7L299.0,235.9L295.9,236.8L293.0,237.6L290.6,239.3L287.6,240.4L285.0,238.5L282.3,238.1L279.5,237.7L277.0,239.1L274.4,237.8L271.8,238.8L269.2,237.7L269.3,240.2L267.1,241.5L265.9,243.2L264.1,244.5L263.0,246.0L262.3,247.9L260.8,249.0L259.0,249.6L257.6,252.2L255.7,254.2L255.3,257.1L255.6,259.9L256.9,261.8L258.1,263.8L257.4,266.1L257.3,268.4L254.7,270.0L253.9,272.9L250.6,272.6L248.8,275.3L251.6,274.2L254.6,274.8L255.9,277.8L259.0,278.7L260.0,281.7L262.4,283.8L261.4,286.5L260.8,289.4L259.6,292.1L257.3,294.0L258.9,293.1L260.8,292.7L262.6,292.4L264.5,292.7L265.0,290.9L266.5,289.6L267.9,288.5L269.2,287.2L268.9,289.6L269.9,291.9L270.7,294.2L272.7,295.7L272.1,297.7L270.9,299.4L269.3,300.6L267.5,301.7L270.4,302.8L273.4,303.7L276.4,304.6L279.5,304.3L281.3,304.2L283.1,304.0L284.7,303.2L286.3,302.4L288.0,301.8L289.6,301.1L291.3,300.5L293.1,300.9L294.6,303.0L296.7,304.6L297.8,306.9L298.3,309.4L300.3,310.3L301.7,312.2L302.5,314.2L303.4,316.2L303.8,318.9L304.8,321.3L304.7,324.1L303.4,326.5L301.2,326.3L299.1,325.6L296.9,325.7L294.7,325.5L292.6,326.6L290.4,326.4L288.3,327.1L286.3,328.2L283.7,328.2L281.0,328.0L278.5,328.8L276.1,329.9L276.7,331.6L277.7,333.1L277.7,334.9L277.8,336.7L279.2,338.3L280.8,339.8L282.4,341.4L284.6,341.8L283.7,343.7L282.0,344.8L281.1,346.6L279.5,347.8L277.7,348.1L276.1,348.8L274.3,349.2L272.7,350.1L271.4,351.6L269.6,352.1L267.7,351.9L265.8,352.1L267.2,354.9L269.2,357.2L271.1,356.8L272.8,357.4L274.7,357.1L276.2,356.0L278.0,355.8L279.8,356.1L281.6,356.7L282.9,358.0L284.7,359.5L286.8,360.4L289.0,359.9L291.3,360.2L293.5,360.8L295.7,360.6L297.9,360.4L300.0,359.7L302.1,360.6L304.3,360.2L306.6,360.0L308.5,358.9L306.4,361.0L303.5,361.8L301.0,363.1L298.3,364.0L296.2,364.3L294.3,364.9L292.7,363.5L290.5,363.3L288.5,362.8L286.5,363.1L284.8,364.1L282.9,364.9L281.5,366.1L279.7,366.6L278.0,367.6L276.1,367.4L273.6,368.7L271.1,369.9L269.6,372.3L267.5,374.3L266.1,375.4L264.8,376.6L263.1,377.3L261.3,377.8L261.1,379.6L260.0,381.1L258.9,382.7ZM252.2,329.9L252.3,331.7L252.3,333.5L251.0,334.9L250.2,336.6L250.3,338.3L250.7,340.0L251.0,341.8L250.5,343.5L247.9,345.2L245.4,346.9L243.1,348.5L240.4,348.9L237.8,348.7L235.1,348.7L232.1,348.7L229.6,350.4L226.8,350.8L223.9,350.6L221.2,351.8L218.7,353.3L215.8,353.8L212.9,353.8L210.5,354.8L207.9,355.4L205.3,356.0L203.0,357.2L200.3,357.8L197.7,358.8L195.0,358.2L192.4,357.2L189.8,355.5L186.7,354.7L183.6,354.0L180.5,353.8L182.2,352.0L184.2,350.7L186.4,349.3L187.3,346.9L186.4,345.4L186.4,343.6L185.8,341.9L185.6,340.1L186.8,337.6L188.5,335.4L189.9,332.9L192.4,331.6L189.7,330.1L187.5,327.8L184.7,326.6L182.2,324.8L183.9,322.2L183.9,319.2L185.5,316.8L187.3,314.5L190.4,314.5L193.0,316.0L195.9,315.4L198.6,314.2L201.3,313.2L203.8,311.6L206.6,311.0L209.5,311.1L209.0,309.4L208.6,307.7L208.4,305.9L207.8,304.3L209.8,302.3L210.6,299.5L212.1,297.1L214.6,295.7L216.6,296.4L218.6,295.9L220.2,294.6L222.3,294.4L224.2,294.2L226.1,293.7L228.1,293.7L230.0,293.2L232.3,294.1L234.7,293.9L237.1,292.9L239.5,293.4L242.0,293.8L243.9,295.4L246.4,295.0L248.8,295.7L250.8,296.1L252.3,297.6L253.6,299.2L255.6,299.8L257.0,301.3L258.0,303.1L259.2,304.6L260.7,306.0L259.6,307.5L258.3,308.7L256.9,309.9L255.3,310.8L254.1,312.4L253.7,314.3L252.2,315.4L250.5,316.2L249.9,318.3L249.3,320.4L249.3,322.6L248.8,324.8L249.8,327.8ZM81.5,101.1L84.2,102.7L87.3,103.5L90.4,104.5L92.9,106.4L96.1,106.2L99.2,105.8L102.4,105.5L105.4,104.6L105.7,106.9L107.2,108.6L107.9,110.9L107.1,113.1L108.5,114.8L110.4,115.9L112.5,116.1L114.6,116.9L116.7,117.0L118.8,117.6L120.5,119.0L122.4,119.9L120.2,121.5L118.7,123.9L116.7,125.9L115.6,128.5L114.3,130.4L112.5,132.0L110.1,132.4L108.3,134.0L106.8,136.0L104.6,136.9L102.4,137.8L100.3,138.7L97.7,139.3L95.1,139.5L93.8,141.8L91.3,143.0L88.8,142.8L86.4,143.0L83.8,143.1L81.5,142.1L80.8,139.4L81.2,136.7L80.7,134.0L79.0,131.8L79.6,129.2L80.2,126.6L81.9,124.4L82.1,121.6L82.0,119.0L81.4,116.5L80.7,114.0L80.8,111.4L81.9,109.0L82.2,106.3L81.4,103.8ZM515.1,504.0L515.9,505.6L516.2,507.5L517.2,509.0L517.6,510.8L518.2,513.4L517.4,516.0L517.6,518.6L517.7,521.2L517.2,523.8L516.8,526.4L515.5,528.7L515.1,531.3L512.5,530.9L509.9,531.3L508.2,528.8L506.4,526.3L503.5,525.1L501.4,522.8L501.4,520.6L500.9,518.5L501.3,516.4L501.4,514.2L502.1,512.4L503.7,511.3L505.3,510.3L506.8,509.1L508.3,508.1L509.9,507.1L511.6,506.3L513.4,505.7ZM511.6,533.9L514.2,535.4L516.6,537.2L519.5,538.0L521.9,539.8L521.7,541.9L520.4,543.5L520.7,545.6L519.7,547.4L519.0,549.4L519.5,551.4L519.4,553.4L518.5,555.2L517.6,556.8L517.0,558.5L516.3,560.2L516.4,562.0L516.9,563.8L516.9,565.6L517.4,567.4L518.5,568.9L516.1,570.4L513.3,570.3L510.6,571.0L508.2,572.3L505.6,572.6L503.2,573.8L500.6,573.2L498.0,574.0L499.3,572.4L500.2,570.5L500.4,568.4L500.2,566.3L499.3,564.5L499.0,562.5L498.7,560.5L498.0,558.6L497.2,555.6L497.7,552.5L498.6,549.6L499.7,546.7L498.1,545.1L496.1,544.0L495.9,541.7L494.6,539.8L497.6,539.9L500.6,539.1L503.4,537.7L506.5,538.1L509.2,536.1ZM566.3,587.6L568.4,587.6L570.1,588.8L572.1,588.2L574.1,588.3L575.9,587.4L577.9,587.3L579.9,587.0L581.6,585.9L583.4,586.9L585.0,588.3L587.0,588.5L588.9,589.3L590.8,588.4L593.0,588.3L595.0,588.7L597.0,589.3L600.4,589.6L603.3,587.9L605.8,585.7L608.9,584.6L612.1,583.8L615.4,584.1L618.5,584.7L621.7,585.1L620.5,586.4L619.5,587.9L618.8,589.5L618.0,591.1L617.5,592.9L617.8,594.8L616.4,596.1L615.8,597.9L615.4,599.6L615.2,601.4L614.1,602.8L613.5,604.6L613.2,606.3L613.0,608.1L612.5,609.8L612.4,611.5L610.0,610.3L607.5,609.3L604.8,610.3L602.1,609.8L599.0,609.3L596.6,607.2L594.5,605.0L591.8,603.6L588.7,603.8L585.6,603.9L583.0,602.1L579.9,601.3L577.0,599.7L573.7,599.2L570.7,597.9L568.0,596.2L567.0,594.2L566.9,591.9L567.1,589.7ZM755.7,635.4L757.2,634.2L758.6,632.9L760.1,631.5L762.2,631.7L763.5,633.2L765.6,633.4L767.5,634.2L769.4,633.7L772.6,634.4L773.8,637.4L776.7,637.1L779.5,638.0L782.0,636.9L784.7,636.5L786.8,634.2L789.9,634.6L792.0,634.9L793.1,636.8L794.9,637.7L796.1,639.3L798.3,638.7L799.3,636.6L801.5,636.7L803.5,637.1L801.0,638.0L800.1,640.5L797.9,641.6L795.5,642.1L793.0,642.4L790.7,643.4L788.5,642.3L786.2,641.3L783.8,641.0L781.4,640.5L779.6,639.1L777.6,638.0L775.2,638.7L773.2,637.1L771.0,638.0L768.7,637.5L766.4,638.3L764.3,637.1L762.1,637.1L760.9,635.3L759.1,636.1L757.5,637.1ZM906.0,638.8L909.3,638.8L912.4,637.5L915.1,635.5L917.9,633.7L920.1,633.9L922.3,634.1L924.4,633.5L926.4,632.6L928.7,632.9L930.8,633.7L932.7,632.4L935.0,632.0L937.8,632.4L940.4,631.2L943.1,630.5L945.2,628.6L943.5,629.8L942.8,631.8L941.5,633.5L941.3,635.6L939.5,636.6L937.8,637.7L936.6,639.3L935.0,640.5L932.8,639.9L930.4,640.1L928.8,641.8L926.4,642.3L923.6,643.0L920.8,643.8L918.4,645.5L916.2,647.4L914.3,646.0L912.2,645.1L909.9,644.8L907.7,644.0L907.1,641.3ZM395.6,562.0L398.9,561.8L401.9,560.3L404.8,558.7L407.5,556.9L409.3,557.6L410.8,558.7L412.0,560.2L412.6,562.0L411.7,564.1L409.9,565.5L407.7,566.0L405.8,567.1L403.6,566.4L401.2,566.3L399.4,564.7L397.3,563.7ZM375.1,574.0L377.0,573.1L378.1,571.4L380.0,571.3L381.9,570.6L381.5,573.3L380.2,575.7L377.9,574.2ZM542.4,287.2L544.0,285.5L546.0,284.1L547.8,282.6L550.0,281.6L552.4,282.5L554.9,281.9L557.0,280.7L559.4,280.4L562.0,280.7L564.6,281.1L567.1,281.6L569.7,282.1L568.9,283.7L568.7,285.5L569.1,287.2L569.7,288.9L568.1,290.5L567.7,292.8L565.9,294.0L564.6,295.7L562.0,295.0L559.5,295.7L557.7,293.7L555.2,293.0L552.6,293.0L550.5,294.4L548.3,295.5L545.8,295.7L544.6,293.6L542.4,292.3L542.7,289.8ZM521.9,292.3L524.8,291.5L527.8,290.8L530.7,289.4L533.8,289.8L535.4,290.5L537.1,291.1L538.4,292.3L539.0,294.0L536.6,296.4L533.8,298.3L531.3,297.6L528.7,298.1L526.2,297.3L523.6,297.4L522.9,294.8ZM663.6,249.6L666.6,250.0L669.7,249.5L672.5,250.7L675.5,251.4L674.3,253.8L672.9,256.2L673.3,259.0L672.1,261.6L670.5,262.8L669.0,264.2L666.9,264.6L665.3,265.9L664.6,263.5L665.4,261.2L665.8,258.8L665.3,256.5L665.1,254.7L664.4,253.1L664.2,251.3ZM634.5,278.7L635.6,277.1L636.9,275.6L638.5,274.6L640.2,273.7L640.7,271.7L640.6,269.8L642.0,268.4L643.1,266.7L645.0,265.2L646.1,263.0L646.0,260.6L646.5,258.2L644.7,258.9L643.1,259.9L642.6,261.8L641.0,263.0L641.5,264.8L641.1,266.7L639.7,267.8L638.4,269.0L637.2,270.3L636.3,271.8L635.6,273.6L634.3,275.0L634.1,276.8ZM730.1,237.7L733.1,238.4L736.1,238.4L738.6,236.7L741.5,235.7L744.3,236.5L747.2,236.6L749.4,238.6L752.3,239.4L750.1,241.9L747.1,243.6L744.4,245.5L742.1,247.9L739.2,246.9L736.2,246.0L733.1,245.4L730.1,244.5L729.9,242.8L729.5,241.1L729.4,239.3ZM737.0,230.9L739.2,232.4L742.0,232.5L744.6,232.4L747.2,232.6L745.3,233.2L744.0,234.7L742.1,235.2L740.4,236.0L739.2,233.1ZM689.2,207.0L690.9,206.4L692.6,206.0L694.4,206.2L696.2,205.9L698.0,206.7L699.1,208.3L701.0,208.5L702.8,208.7L701.5,209.9L700.6,211.6L699.3,212.9L697.7,213.8L695.7,212.8L693.6,212.3L691.4,212.3L689.2,212.1L689.2,209.5ZM747.2,575.7L749.4,576.9L751.7,576.3L754.0,576.0L756.3,576.4L758.2,578.1L760.7,577.9L762.3,579.6L764.3,580.8L766.0,583.5L768.4,585.7L770.1,586.5L771.0,588.0L772.9,588.5L774.5,587.6L773.3,586.0L771.6,584.9L769.7,585.6L767.7,585.9L766.1,584.3L763.9,584.0L761.6,584.3L759.9,582.8L758.0,581.6L756.7,579.8L754.4,579.8L752.3,579.1L749.1,578.4ZM798.4,565.4L801.1,564.9L803.6,565.8L805.9,567.4L808.7,567.1L808.4,568.8L808.2,570.5L806.4,570.9L805.2,572.3L803.0,572.5L800.9,572.0L798.4,572.4L796.7,570.6L797.2,567.9ZM829.1,614.9L830.4,616.5L832.3,617.3L834.1,616.4L836.0,615.8L834.4,618.0L833.7,620.7L833.5,623.7L830.9,625.2L829.3,623.4L827.4,621.8L827.9,619.9L829.1,618.6L829.0,616.8ZM332.4,203.6L334.4,206.1L337.5,207.0L336.8,209.4L336.1,211.9L334.2,213.6L332.4,215.5L331.6,213.7L331.0,211.9L330.4,210.1L329.0,208.7L330.9,206.3ZM298.3,229.2L300.3,228.2L302.4,227.6L304.6,227.4L306.8,227.5L305.7,229.1L304.2,230.4L305.3,232.2L305.1,234.3L303.1,233.7L301.4,234.7L299.5,234.1L298.3,232.6L299.2,230.9ZM230.0,174.5L233.1,174.7L236.2,173.9L238.9,175.6L241.9,176.2L241.3,178.0L240.4,179.5L240.6,181.3L240.6,183.2L240.3,185.0L240.6,186.9L239.2,188.1L238.5,189.9L236.1,188.5L234.4,186.2L232.6,184.0L231.7,181.4L231.6,179.6L230.7,178.0L230.8,176.2ZM243.6,239.4L245.7,240.2L247.4,238.9L249.3,239.4L250.5,241.1L248.1,242.8L246.4,245.1L243.5,245.3L240.9,243.9L238.4,245.3L237.0,247.7L238.1,250.4L236.8,253.1L234.8,253.9L232.9,254.9L230.7,255.9L230.0,258.2L229.3,260.4L230.0,262.6L230.3,265.1L228.3,266.7L230.1,266.2L231.7,265.1L233.1,263.8L233.6,261.9L234.7,260.2L235.5,258.3L234.8,256.3L233.4,254.8L231.7,252.3L232.3,249.4L233.9,247.2L234.6,244.5L237.3,243.2L240.2,243.8L241.4,241.2ZM243.6,253.1L246.3,253.5L249.0,254.1L250.9,256.3L253.9,256.5L253.0,258.4L254.2,260.2L252.4,261.2L252.2,263.3L249.4,264.9L246.2,264.2L244.3,261.9L241.9,259.9L240.9,258.1L241.4,256.1L242.9,254.9ZM1233.7,17.5L1235.9,18.4L1237.7,19.9L1240.0,20.7L1242.3,20.8L1243.8,22.6L1245.9,23.8L1247.5,25.6L1249.8,26.3L1252.0,25.3L1254.4,24.8L1256.8,25.4L1259.2,25.9L1261.5,26.3L1263.9,26.6L1266.1,27.7L1267.8,29.4L1269.9,29.2L1271.7,28.1L1273.6,27.6L1275.6,27.1L1277.6,27.4L1279.6,27.1L1281.6,27.5L1283.7,27.4L1285.7,28.0L1287.4,29.3L1289.4,29.4L1291.5,29.4L1293.6,29.2L1295.6,30.0L1297.6,29.7L1299.5,29.0L1301.4,30.2L1303.7,30.4L1305.8,29.9L1308.0,29.8L1309.9,30.9L1312.0,31.5L1313.9,32.8L1314.8,34.9L1316.8,34.4L1318.8,34.4L1320.9,34.9L1322.9,34.1L1324.7,32.9L1326.8,32.6L1328.9,32.4L1331.0,32.9L1328.9,32.8L1326.9,32.2L1324.8,31.6L1322.7,32.0L1320.7,31.5L1319.2,29.8L1317.4,28.8L1315.8,27.5L1314.0,26.6L1312.4,25.2L1311.5,23.3L1309.6,22.3L1307.4,22.6L1305.4,21.6L1303.6,20.5L1302.0,19.2L1300.2,17.3L1299.3,14.8L1297.7,12.7L1297.0,10.1L1297.4,7.4L1296.2,4.9L1294.3,3.0L1293.5,0.4L1291.3,1.2L1289.0,1.6L1286.8,1.4L1284.5,1.6L1282.2,1.1L1279.9,0.4L1278.7,-1.7L1276.5,-2.7L1274.2,-2.6L1272.2,-3.7L1270.4,-5.2L1268.1,-5.5L1265.7,-5.2L1263.6,-6.3L1261.4,-5.6L1259.3,-4.7L1255.9,-4.2L1252.6,-4.6L1249.8,-2.7L1246.7,-1.4L1243.4,-0.7L1240.3,0.3L1238.7,-0.2L1237.0,-0.6L1235.4,0.2L1233.7,0.4L1233.7,2.7L1234.9,4.6L1235.6,6.8L1235.0,9.0L1233.4,10.7L1233.2,13.1L1232.8,15.3ZM1191.0,53.3L1192.9,53.4L1194.4,54.4L1196.2,54.4L1198.0,54.6L1199.5,55.6L1201.3,55.9L1203.0,56.0L1204.7,56.8L1202.9,57.5L1201.3,58.6L1199.4,57.9L1197.5,58.4L1196.1,59.6L1194.5,60.6L1192.6,60.7L1191.0,61.9L1187.7,61.5L1184.4,60.9L1181.4,59.2L1179.1,56.8L1181.6,54.7L1184.6,53.3L1187.8,53.3ZM1353.2,36.3L1355.3,37.1L1357.5,37.9L1359.7,38.7L1362.1,38.1L1364.3,39.0L1366.5,39.7L1367.8,41.6L1369.6,43.3L1372.0,43.3L1374.0,44.5L1376.2,45.5L1378.5,45.9L1380.6,44.8L1383.0,44.8L1385.3,44.4L1387.3,43.1L1386.2,44.4L1384.8,45.4L1383.0,45.4L1381.4,46.2L1379.7,45.8L1378.0,45.3L1376.2,45.6L1374.7,46.5L1373.5,47.9L1371.8,48.4L1370.1,47.9L1368.3,48.4L1366.8,47.7L1365.1,47.4L1363.3,47.4L1361.7,48.2L1361.3,46.3L1361.1,44.4L1359.9,42.9L1358.7,41.4L1357.2,40.2L1355.8,39.0L1354.2,37.9ZM202.7,22.6L204.9,22.3L207.2,22.5L209.3,23.2L211.1,24.7L213.3,24.3L215.4,23.7L217.6,23.5L219.7,24.3L218.1,25.4L216.7,26.8L214.8,27.0L212.9,27.7L210.6,26.1L208.1,24.6L205.1,24.4ZM117.3,739.6L119.5,739.4L121.7,739.3L123.8,738.7L125.9,737.8L126.0,739.6L126.6,741.3L126.0,742.9L125.9,744.7L123.7,744.9L121.6,745.6L119.4,745.9L117.3,746.4L116.7,744.7L117.0,743.0L117.1,741.3ZM110.5,748.1L112.2,748.6L113.9,748.9L115.6,748.4L117.3,748.1L115.2,750.0L114.4,752.8L114.1,755.6L113.9,758.3L112.3,759.3L110.5,759.2L108.7,759.2L107.1,760.0L108.0,757.0L108.0,753.8L109.7,751.1ZM84.9,756.6L86.6,756.7L88.3,756.6L90.0,756.4L91.7,756.6L90.8,758.2L90.5,759.9L90.0,761.7L90.0,763.5L87.5,762.8L84.9,763.5L85.1,761.7L85.7,760.0L85.7,758.2ZM66.1,749.8L67.9,749.9L69.5,750.7L71.2,751.1L72.9,750.9L74.6,750.3L76.3,749.7L78.0,749.3L79.8,749.8L78.6,752.7L77.2,755.5L75.3,758.0L72.9,760.0L71.0,757.3L67.9,756.0L67.7,752.7ZM585.0,70.4L587.8,69.3L588.1,66.3L590.9,66.0L592.6,63.8L595.1,64.2L597.3,65.5L599.5,67.0L602.1,67.0L604.2,68.4L606.7,68.7L609.5,68.5L610.8,66.0L613.4,66.1L615.7,65.2L618.3,66.1L619.2,68.7L617.5,70.8L614.9,70.5L612.6,71.5L611.2,73.4L608.9,71.7L606.0,71.8L604.0,73.6L602.1,75.5L599.5,74.9L598.1,72.6L595.8,73.5L593.3,73.9L591.0,73.1L589.6,71.1L587.3,70.6ZM614.1,61.9L616.6,62.2L618.9,61.0L619.5,58.3L622.0,57.2L623.7,59.4L626.2,60.5L628.6,59.3L631.1,58.5L630.0,60.8L627.6,62.0L628.1,64.5L627.7,67.0L625.7,67.3L623.7,67.9L621.7,68.2L619.7,67.7L618.6,65.9L617.7,64.0L616.4,62.0ZM655.0,49.9L654.8,47.5L656.7,45.9L658.9,45.4L660.5,43.7L662.4,45.0L664.3,46.3L666.5,45.4L668.7,44.8L669.4,47.1L671.0,48.8L673.5,48.3L675.5,49.9L673.1,49.1L671.1,50.6L669.7,48.5L667.2,48.4L666.6,50.6L665.5,52.5L662.9,52.6L661.9,55.0L659.4,54.1L659.1,51.6L656.9,51.2ZM684.1,39.7L685.7,41.1L687.7,42.1L689.6,41.0L691.7,40.6L692.9,38.5L695.4,38.4L697.3,39.3L699.4,39.7L697.0,39.7L694.6,40.4L693.6,42.6L692.6,44.8L690.1,44.0L688.5,41.9L685.8,41.8ZM730.1,32.9L732.4,32.0L734.9,32.2L737.1,30.8L739.6,31.5L742.1,31.3L744.1,30.0L746.6,30.1L748.9,29.4L750.2,31.9L750.6,34.6L750.1,36.5L750.2,38.4L749.1,40.4L746.9,40.5L745.0,41.1L743.3,42.2L741.9,40.7L739.8,40.3L738.2,39.4L736.7,38.4L737.1,36.5L736.3,34.8L733.0,34.5ZM788.2,24.3L789.8,25.2L791.7,24.7L792.8,23.4L794.2,22.3L797.2,23.1L800.1,24.3L798.5,26.9L796.7,29.4L793.8,30.5L791.1,29.2L790.1,26.4ZM550.9,130.2L553.0,128.0L555.4,126.4L558.6,127.3L561.1,125.0L563.3,127.3L564.6,130.2L562.8,130.3L561.1,129.7L559.6,128.6L557.7,128.6L555.6,128.8L554.6,130.8L552.6,131.5ZM494.6,154.1L496.4,153.5L498.2,153.7L500.1,152.8L501.8,154.1L503.8,154.2L505.7,153.6L507.8,152.8L508.2,150.6L506.4,150.9L505.2,152.3L504.0,153.9L504.8,155.8L502.2,156.6L499.6,155.6L497.6,153.3ZM440.0,210.4L441.8,210.1L443.2,208.7L445.0,207.7L446.8,208.7L447.2,210.5L446.5,212.2L446.5,214.2L445.1,215.5L443.3,214.5L443.0,212.5L441.5,211.4ZM228.3,271.8L231.1,271.6L233.7,272.8L236.6,273.3L238.9,275.0L242.0,276.2L244.7,274.3L247.9,273.4L248.8,270.1L249.0,272.4L251.1,273.3L250.5,275.4L252.2,277.0L250.3,276.6L248.8,277.6L247.0,277.8L245.4,277.0L242.7,275.9L240.0,276.8L240.1,273.7L237.5,272.0L235.3,273.1L232.9,272.6L230.8,271.2ZM247.1,283.8L248.6,284.8L250.5,284.6L252.4,285.0L253.9,283.8L251.3,285.8L250.5,288.9L248.1,286.8ZM226.6,254.8L228.4,254.9L230.3,255.2L232.3,254.8L233.4,253.1L232.3,255.8L233.0,258.6L230.3,260.2L230.0,263.3L230.7,260.8L229.9,258.4L228.3,256.5ZM298.3,229.2L301.5,228.5L304.3,226.8L307.2,225.4L310.2,224.0L309.5,225.8L308.4,227.4L307.2,228.9L306.8,230.9L304.7,230.2L302.4,230.6L300.5,229.5ZM325.6,200.1L327.5,200.5L329.5,200.2L331.3,199.3L333.3,199.0L335.2,199.2L337.1,199.8L339.0,200.0L340.9,200.1L339.2,201.5L337.4,202.8L336.4,204.8L335.8,207.0L332.8,205.9L329.6,205.2L328.3,202.1ZM634.5,497.2L635.5,495.5L637.5,495.3L639.2,495.0L640.9,495.2L643.4,497.4L646.5,498.9L644.7,499.6L642.9,499.0L641.6,500.5L639.7,500.6L636.9,499.3ZM638.0,507.4L640.7,509.0L643.9,508.8L646.9,508.1L649.9,507.4L647.0,507.2L644.8,509.1L643.1,508.6L641.4,508.2L639.7,507.6ZM600.4,471.6L602.2,471.5L603.8,471.0L605.5,471.4L607.2,471.6L606.5,473.6L604.4,474.4L603.6,476.3L603.8,478.4L602.2,477.2L601.1,475.5L599.9,473.7ZM783.1,604.7L785.2,604.2L787.3,603.8L789.3,604.9L791.6,604.7L789.9,606.4L788.2,608.1L785.7,606.2ZM779.6,591.0L781.5,592.5L783.9,592.3L786.3,592.5L788.2,591.0L787.8,592.8L786.5,594.1L784.7,593.6L783.1,594.5L781.5,592.6ZM798.4,577.4L800.5,579.8L803.5,580.8L802.6,582.8L800.9,584.0L798.8,584.6L796.7,584.2L798.4,583.1L799.4,581.3L799.3,579.2ZM812.1,592.8L813.2,595.0L815.5,596.2L813.5,596.0L812.1,594.7L810.4,595.5L808.7,596.2L810.3,594.4ZM771.1,609.8L772.9,610.5L774.5,611.5L771.9,612.3L769.4,613.2L770.3,611.5ZM786.5,614.9L788.5,615.2L789.9,616.7L787.7,616.6L786.5,618.4L787.2,616.7ZM815.5,608.1L817.6,610.3L820.6,609.8L817.6,609.4L815.5,611.5ZM704.5,582.5L706.8,584.2L709.7,584.2L708.0,586.8L706.2,589.3L704.5,588.2L703.7,586.4L703.9,584.4ZM690.9,558.6L692.9,559.5L695.0,558.9L695.7,561.0L697.7,562.0L694.9,563.4L692.6,565.4L692.9,563.6L692.7,561.8L691.7,560.2ZM784.8,555.2L786.0,557.0L788.2,556.9L785.8,558.2L783.1,558.6L784.1,557.0ZM771.1,541.5L772.9,540.7L774.7,541.5L776.5,542.1L777.9,543.3L776.8,545.5L774.5,546.7L773.0,544.0ZM598.7,545.0L600.4,545.0L598.7,546.7ZM612.4,575.7L614.1,575.9L615.8,575.7L614.9,577.4L614.1,579.1L613.1,577.4ZM600.4,621.8L602.0,623.5L603.8,625.2L601.3,625.0L598.7,625.2L599.6,623.5ZM501.4,570.6L503.1,572.3L501.3,572.2L499.7,573.1ZM530.4,506.6L532.1,508.3L530.4,508.0L528.7,508.3ZM496.3,297.4L498.8,297.5L501.4,297.4L499.7,299.1L498.0,298.3ZM545.8,302.6L548.8,302.9L551.8,302.4L554.7,303.0L557.7,302.6L554.9,303.9L552.6,306.0L550.9,305.1L549.0,304.6L547.2,303.9ZM605.5,294.0L607.2,294.5L608.9,295.2L610.5,296.0L612.4,295.7L610.8,297.6L608.9,299.1L607.6,296.3ZM453.6,324.8L455.7,324.8L457.9,324.7L460.0,325.3L462.1,324.8L459.7,325.9L457.0,326.5L455.1,326.1ZM438.2,329.9L440.2,329.7L441.9,328.7L443.2,327.2L445.1,326.5L444.0,329.4L441.7,331.6L440.1,330.4ZM757.5,229.2L754.3,229.8L751.7,231.7L748.5,232.2L745.5,230.9L743.1,230.8L740.8,231.5L739.0,233.0L737.0,234.3L739.3,232.7L742.1,232.1L744.7,233.1L747.5,232.9L750.2,232.0L752.0,229.9L754.8,230.2ZM846.2,623.5L843.5,625.2L840.4,625.3L837.3,625.5L834.3,625.2L833.9,622.9L832.9,620.8L831.8,618.7L830.9,616.7L833.0,617.1L835.2,617.6L837.4,617.2L839.6,617.7L841.3,619.1L842.9,620.6L844.2,622.5Z" fill="#fff" stroke="#BDBDBD" stroke-width="2" stroke-linejoin="round"/><path d="M202.7,522.8L205.6,521.7L208.5,520.4L211.6,520.3L214.6,519.4L218.9,520.2L223.3,520.1L227.2,522.4L231.7,522.8L236.8,522.8L241.9,522.8L245.9,524.6L248.8,527.9L244.7,528.9L241.5,531.5L239.8,535.3L236.8,538.1L235.9,541.0L235.7,544.1L236.6,547.0L236.8,550.1L233.9,555.0L231.7,560.3L233.2,565.5L235.1,570.6L232.8,573.0L231.7,576.2L231.0,579.4L230.0,582.5L232.7,585.8L235.1,589.3L232.6,591.0L230.2,593.0L227.9,595.0L226.6,597.9L228.3,603.0M323.9,498.0L328.8,499.7L334.0,500.0L338.4,502.8L342.7,505.7L345.8,505.4L348.9,505.8L351.7,504.3L354.8,503.5L357.7,504.6L360.7,505.3L363.6,506.6L366.5,507.4L370.3,507.5L373.8,508.9L376.6,511.5L380.2,512.5L383.6,512.7L387.1,512.9L390.4,513.8L393.9,514.2L397.5,515.3L401.2,515.3L404.8,514.5L408.4,513.4M398.1,366.1L402.8,368.5L407.5,370.8L410.1,372.7L412.6,374.7L415.5,376.3L417.8,378.5L422.6,380.7L426.3,384.5L431.4,384.1L436.5,384.5L438.2,387.9L441.6,390.3L445.7,390.8L449.8,390.6L453.6,392.2L458.7,393.0L463.8,393.5L469.2,395.4L474.1,398.2L478.5,398.7L482.4,400.8L486.7,401.9L491.2,401.6L489.2,405.3L488.3,409.5L486.0,413.0L484.3,416.9L483.9,421.2L483.5,425.5L477.7,426.6L472.4,428.9L468.1,431.3L464.8,435.0L461.6,438.6L458.7,442.5L457.1,446.2L457.0,450.2L460.6,451.6L464.4,452.5L468.0,453.9L471.5,455.3L472.8,458.1L474.8,460.4L475.1,463.5L475.8,466.4L471.6,469.1L467.3,471.6L469.7,474.1L471.8,476.9L473.4,480.0L474.1,483.5L477.8,487.6L482.6,490.3M412.6,361.5L416.5,362.1L420.4,362.6L424.4,362.3L428.0,360.6L431.0,360.5L434.0,360.2L437.0,359.9L440.0,359.7L443.4,361.5L447.3,361.6L450.2,364.0L453.6,365.7L455.0,368.5L455.3,371.7L459.3,373.0L462.1,376.0L460.1,379.2L458.7,382.8L457.2,388.1L453.6,392.2M458.7,382.8L459.7,385.6L460.6,388.5L462.4,390.9L463.8,393.5M455.3,371.7L456.1,367.8L457.0,364.0L458.1,358.7L460.4,353.8L465.6,353.1L470.7,352.1L472.4,347.8L474.1,343.5L474.7,340.0L476.0,336.8L477.0,333.4L477.5,329.9L477.5,328.2M503.1,300.9L506.2,300.6L509.2,300.7L511.9,302.4L515.1,302.6L519.3,302.7L523.6,302.6M597.0,317.9L598.4,323.1L600.4,328.2L602.3,330.7L603.0,333.9L602.7,337.1L603.8,340.1L605.4,344.2L605.5,348.7L606.7,353.3L608.1,357.9L608.8,362.8L607.2,367.4L603.0,366.7L598.7,367.4L595.6,369.5L592.5,371.6L588.8,372.4L585.0,372.6L580.8,373.9L576.3,374.5L572.0,375.6L568.0,377.7L564.6,378.8L561.1,379.4L564.9,383.4L569.7,386.2L570.4,389.3L572.2,391.9L574.2,394.3L576.5,396.4L580.3,398.2L582.8,401.5L586.2,404.0L590.2,405.0L587.1,407.7L583.3,409.2L579.4,410.5L576.5,413.5L575.7,418.9L573.1,423.8L568.0,424.7L562.9,423.8L557.8,425.5L552.4,425.6L547.0,426.0L542.4,428.9L538.9,429.2L535.6,430.2L532.1,430.2L528.7,430.6L523.4,429.5L518.5,427.2L514.1,426.6L510.1,424.8L505.6,425.2L501.4,423.8L497.3,425.4L492.9,424.8L488.7,425.9L484.3,425.5M471.5,454.5L477.0,453.0L482.6,453.6L486.6,451.8L490.6,450.5L494.4,448.4L498.0,446.0L500.3,448.4L502.7,450.8L505.1,453.1L508.2,454.5L510.7,449.3L513.4,444.2L516.8,445.1L520.2,445.8L523.6,446.9L527.0,447.7L529.4,445.6L531.1,443.0L532.9,440.4L533.8,437.4L530.0,436.5L526.2,435.5L522.4,434.2L518.5,434.0L518.7,430.6L518.5,427.2M533.8,437.4L538.1,436.7L542.3,435.4L546.6,435.5L550.9,435.7L554.4,435.8L557.7,434.3L561.1,433.6L564.6,434.0L567.5,435.7L570.8,436.0L573.8,437.2L576.5,439.2L579.7,439.9L583.1,440.3L586.0,441.9L588.5,444.2L586.8,449.4L586.8,453.8L588.5,457.9M588.5,444.2L592.4,444.4L596.0,446.0L599.9,446.3L603.8,446.0L608.3,445.5L612.6,444.2L617.0,443.2L620.9,440.8L625.3,440.1L629.4,438.3L630.6,435.2L632.2,432.3L634.9,430.2L636.3,427.2L639.3,425.6L642.0,423.6L643.8,420.8L646.5,418.6L644.9,413.5L643.1,408.4L639.4,406.2L635.1,406.0L630.9,405.6L627.1,403.7L622.9,403.2L619.0,401.7L614.8,402.2L610.7,401.6L605.4,401.0L600.1,401.6L595.1,403.1L590.2,405.0M607.2,369.1L610.3,369.5L613.1,371.1L616.1,371.5L619.2,370.8L622.7,370.6L626.2,370.4L629.5,371.6L632.8,372.6L635.0,377.1L638.0,381.1L642.7,382.2L647.5,381.6L652.3,381.4L656.7,379.4L659.8,381.8L663.6,382.7L667.0,384.5L670.4,386.2L673.0,389.6L675.5,393.0M643.1,408.4L646.6,406.2L650.7,405.6L654.7,405.0L658.4,403.3L661.1,400.2L664.7,398.5L667.8,396.0L670.4,393.0L675.5,393.0L679.9,394.0L684.1,395.4L688.0,397.7L692.6,398.2L697.9,398.8L703.2,398.9L708.5,397.5L713.1,394.7L716.3,395.3L719.6,395.3L722.9,395.6L726.2,395.6L729.0,397.4L732.4,398.0L735.5,399.1L738.7,399.9L737.1,402.9L736.0,406.2L733.4,408.7L731.8,411.8M646.5,418.6L650.3,419.7L654.1,420.5L658.0,421.2L661.9,422.1L665.2,420.8L668.6,420.2L672.3,420.3L675.5,418.6L680.9,418.0L685.6,415.4L690.6,413.4L696.0,413.5L700.2,412.1L704.3,410.8L708.7,410.2L713.1,410.1L717.7,411.2L722.5,410.7L727.2,410.9L731.8,411.8L735.7,413.0L739.5,414.2L742.1,417.3L745.5,419.5L742.1,421.5L738.8,423.5L735.3,425.3L731.8,427.2L728.0,429.4L725.3,432.9L723.4,436.9L721.6,440.8L716.7,443.8L711.3,445.8L706.8,449.6L701.1,451.1L698.3,449.9L695.3,449.4L692.2,449.3L689.2,449.4L686.1,450.4L683.2,451.8L680.0,452.8L677.2,454.5L673.2,455.1L669.4,453.9L665.6,455.1L661.9,456.2L658.7,456.0L655.8,454.7L652.7,454.4L649.9,452.8L646.6,450.5L643.4,448.0L640.0,445.8L636.3,444.2L633.2,440.8L629.4,438.3M738.7,399.9L740.4,396.2L743.1,393.1L744.6,389.4L747.2,386.2L752.1,384.8L756.1,381.7L760.7,379.5L764.3,376.0L763.7,371.2L765.3,366.6L766.5,362.0L766.0,357.2L763.6,355.4L761.3,353.3L759.4,351.0L757.5,348.7L759.1,344.9L761.1,341.3L761.3,337.2L762.6,333.3L762.1,329.0L760.4,325.1L758.2,321.4L755.7,317.9L753.1,315.5L750.1,313.5L746.7,312.4L743.8,310.2L740.3,310.3L736.7,309.9L733.4,311.5L729.8,311.3L726.8,313.3L723.2,313.6L719.8,314.5L716.3,315.1L712.7,315.1L709.4,313.7L706.4,311.8L703.0,310.6L699.5,310.6L696.1,309.6L692.7,309.0L689.2,308.5M743.8,310.2L741.8,305.8L742.1,300.9L739.0,300.6L735.9,300.5L732.8,299.6L730.3,297.8L727.1,297.8L724.3,296.5L721.3,295.6L718.2,295.7L714.8,294.0M713.9,281.2L717.8,279.2L721.9,278.0L725.8,275.9L730.1,275.3L734.5,276.0L739.0,276.0L743.0,274.2L747.4,273.1L751.8,273.0L756.1,274.0L760.4,274.8L764.3,277.0L768.1,279.3L772.6,279.9L777.1,280.3L781.4,278.7L784.7,280.2L788.2,281.3L791.8,280.8L795.5,281.4L798.8,282.9L802.2,284.1L805.5,285.5L808.7,287.2L811.2,290.2L812.1,294.0L807.7,295.8L804.2,299.1L799.8,301.0L795.0,300.9L792.4,305.9L789.9,311.1L785.4,313.4L780.7,315.2L776.1,317.1L771.1,317.9L767.3,317.5L763.4,317.6L759.6,317.2L755.7,317.9M769.4,250.5L773.5,249.0L777.8,248.0L782.1,248.9L786.5,248.3L789.4,249.3L792.4,249.5L795.3,250.8L798.4,250.5L801.4,251.8L804.7,251.5L807.8,251.9L811.0,251.1L813.9,252.7L817.1,252.8L819.5,255.0L822.3,256.5L826.3,253.6L829.1,249.6L826.8,246.1L824.0,242.8L825.9,238.6L828.7,234.9L828.2,230.3L829.1,225.7L832.6,222.3M822.3,256.5L823.3,259.5L825.5,261.7L827.7,264.0L829.1,266.7L830.8,269.7L832.6,272.7L834.4,275.6L836.0,278.7L833.2,280.8L829.8,281.7L826.6,283.2L824.0,285.5L820.3,286.9L816.6,288.3L812.6,287.5L808.7,287.2M829.1,204.4L832.1,203.5L835.2,203.9L837.7,202.2L840.4,200.7L842.8,198.9L844.5,196.4L846.8,194.4L849.6,193.3L852.5,191.0L855.2,188.5L858.8,187.5L861.6,184.9L865.1,183.7L868.9,183.4L872.4,182.2L875.2,179.7L878.7,180.3L881.4,177.9L884.4,176.7L887.6,176.2L887.1,172.8L888.3,169.6L891.4,167.8L892.3,164.3L889.8,161.1L885.9,160.0L881.8,161.0L878.4,158.4L876.7,154.8L874.1,151.8L870.0,151.5L866.7,148.9L870.0,146.7L873.5,144.7L875.5,141.1L875.2,137.0L872.3,133.1L867.5,132.8L864.0,130.1L859.9,128.5L861.5,124.2L861.4,119.6L863.5,115.6L865.0,111.4L861.2,107.4L858.3,102.7L853.3,100.2L849.6,96.0L851.4,92.3L854.3,89.4L854.5,84.9L858.2,82.4L854.0,79.6L852.2,74.9L847.4,75.6L842.8,73.8L841.8,70.9L842.2,67.8L841.1,65.0L841.1,61.9L844.3,61.5L847.5,61.9L850.1,59.8L853.0,58.5L856.7,56.2L858.7,52.3L862.9,51.9L866.7,49.9L870.3,50.1L873.6,48.6L876.5,45.9L880.4,46.5M762.6,114.8L760.8,109.3L757.5,104.6L759.4,99.1L762.6,94.3L760.8,91.3L761.2,87.8L758.5,86.0L755.7,84.1L757.5,78.9L755.9,76.3L753.9,74.0L750.8,73.4L748.3,71.6L742.5,70.8L737.0,68.7L733.9,67.7L730.6,67.8L728.1,65.7L724.8,64.9L721.4,65.1L718.0,64.8L714.9,63.2L713.1,60.2L709.3,60.6L706.2,58.5L710.6,58.3L713.6,55.2L717.6,54.3L721.6,55.0L724.5,58.8L728.3,61.6L732.0,65.0L737.0,65.3L739.7,67.0L742.9,67.8L745.9,69.1L749.2,68.7L752.8,68.2L756.2,68.9L757.3,65.1L760.9,63.6L765.9,60.6L771.8,61.2L776.5,64.2L781.4,67.0L785.2,66.3L788.6,64.4L792.4,63.3L795.0,60.2L796.2,57.2L795.9,54.0L797.2,51.1L798.4,48.2L802.9,48.1L807.3,48.2L811.4,46.6L815.5,44.8L818.3,46.2L821.4,45.6L824.6,44.6L827.4,46.5L830.2,45.2L833.4,45.4L836.6,44.5L839.4,46.5L842.3,47.5L845.3,47.4L847.9,49.1L849.6,51.6L845.9,52.4L844.3,55.8L841.5,58.2L841.1,61.9M544.1,230.9L545.4,227.2L547.1,223.7L550.4,221.3L554.3,220.6L558.8,217.5L562.9,213.8L563.7,209.3L563.4,204.7L565.2,200.4L568.0,196.7L566.2,191.6L564.6,186.5L563.8,183.0L563.6,179.5L562.3,176.2L561.1,172.8L562.7,167.8L562.9,162.6L561.1,159.2L559.4,155.8L561.9,153.5L564.5,151.4L567.2,149.5L569.7,147.2L575.4,146.0L580.2,142.7L585.4,140.2L590.2,137.0L590.8,133.9L592.3,131.0L594.6,128.8L597.0,126.7L599.5,122.8L600.5,118.3L603.1,114.3L603.8,109.7L608.5,107.4L612.7,104.2L617.8,103.2L622.6,101.1L624.0,98.1L622.9,94.9L625.5,93.2L627.7,90.9L632.6,90.0L636.9,87.7L641.0,84.2L641.4,78.9L643.6,74.0L648.2,71.3L653.5,72.5L658.4,70.4L663.1,71.6L667.0,68.7L671.7,71.5L677.1,70.4L682.3,71.6L687.5,70.4L691.0,69.0L694.3,67.1L698.5,66.9L701.1,63.6L704.8,62.2L706.2,58.5M836.0,278.7L839.0,278.8L842.0,279.2L844.6,281.0L847.7,281.4L850.7,282.0L853.1,283.9L855.6,285.6L858.2,287.2L863.5,289.2L869.2,288.5L874.8,288.2L880.4,288.9L882.1,293.5L884.2,297.9L884.6,302.8L883.8,307.7L887.6,311.4L891.1,315.4L895.9,317.7L900.8,319.6L900.0,323.1L898.2,326.2L898.0,329.8L897.4,333.3L900.4,335.9L903.7,338.3L905.9,341.6L907.7,345.2L904.0,346.7L900.0,346.8L896.1,347.6L892.3,348.7L888.5,352.2L885.3,356.3L880.4,358.3L876.9,362.3L872.0,359.9L866.7,358.9L863.4,358.8L860.3,359.8L857.1,360.0L853.9,360.4L851.0,358.8L847.6,358.4L844.4,358.8L841.1,358.9L838.0,360.0L834.7,360.8L831.5,360.1L828.2,359.8L824.9,359.1L821.6,359.4L818.8,357.8L815.5,357.2L812.2,356.8L808.9,356.1L806.2,354.2L803.0,353.1L799.7,353.2L796.4,352.9L793.0,353.3L789.9,352.1L785.6,352.3L781.4,351.5L777.1,352.6L772.8,352.1L769.3,354.5L765.1,355.3L761.7,358.0L757.5,358.9M907.7,345.2L910.8,345.8L913.9,344.9L916.6,343.3L919.5,342.1L922.6,342.6L925.4,343.9L928.5,344.6L931.6,344.4L934.2,346.7L936.1,349.7L939.4,351.2L941.8,353.8L946.6,356.1L949.7,360.3L952.6,364.8L957.2,367.4L959.0,369.9L961.5,371.6L964.2,372.9L966.6,374.7L969.5,375.5L972.4,376.4L974.8,378.3L977.7,379.4L980.9,379.7L984.1,380.7L987.4,380.9L990.6,381.0L993.5,382.8L996.7,383.6L999.9,384.5L1003.3,384.5L1007.8,385.0L1011.9,387.1L1016.3,386.0L1020.8,385.7L1025.2,385.9L1029.5,387.4L1033.2,389.8L1037.4,391.3L1037.3,396.4L1037.4,401.6L1035.0,405.1L1032.3,408.4L1033.1,411.8L1034.7,415.0L1034.2,418.5L1034.0,422.1L1030.6,422.5L1027.8,424.3L1024.5,423.6L1021.2,424.2L1018.0,424.3L1014.8,425.1L1011.6,425.9L1008.4,425.5L1008.5,429.9L1006.7,434.0M808.7,413.5L812.4,412.1L816.0,410.5L820.1,411.2L824.0,410.1L827.3,410.7L830.4,411.6L833.6,412.8L836.0,415.2L840.4,416.3L844.9,416.6L849.0,418.4L853.0,420.3L854.2,424.4L856.9,427.6L857.4,431.7L858.2,435.7L861.3,437.3L863.7,439.8L865.7,442.6L866.7,446.0L863.4,449.8L861.6,454.5L858.9,456.6L855.5,457.3L852.2,457.9L849.1,459.0L845.7,459.3L842.3,458.8L839.1,460.1L836.0,461.3M808.7,413.5L811.7,415.0L814.2,417.3L816.4,419.8L818.9,422.1L821.8,426.0L825.3,429.3L829.6,431.8L832.6,435.7L834.5,439.7L835.5,444.0L835.4,448.4L836.0,452.8L836.4,457.0L836.0,461.3L839.0,462.8L842.3,463.1L845.5,464.1L848.8,463.8L852.1,463.4L855.3,464.4L858.5,465.4L861.6,466.4M745.5,419.5L750.2,420.2L754.9,419.9L759.5,418.6L764.3,419.5L768.7,420.4L772.5,422.8L776.9,423.6L781.4,423.8L786.7,422.9L792.1,423.2L796.9,420.7L801.8,418.6L805.6,416.5L808.7,413.5M701.1,451.1L703.8,453.6L706.4,456.4L709.7,458.0L713.1,459.6L716.5,464.1L721.6,466.4L725.3,469.5L729.9,471.2L734.5,472.6L738.7,475.0L740.0,479.4L742.1,483.5L745.2,484.1L747.8,485.8L750.9,486.0L754.0,485.6L756.1,487.9L758.4,490.0L761.2,491.3L764.3,492.0L767.6,492.1L770.8,492.6L774.0,493.7L777.0,495.0L780.1,493.7L783.2,492.6L786.5,493.0L789.9,492.9L794.3,492.0L798.5,490.0L803.0,489.2L807.0,486.9L811.2,488.1L815.5,487.6L819.8,487.9L824.0,486.9L828.9,486.8L833.7,488.0L838.3,489.3L842.8,491.2M586.8,461.3L590.8,460.2L594.4,462.4L598.4,463.0L602.1,461.3L605.7,461.2L609.1,460.1L612.2,458.2L615.8,457.9L620.3,454.5L622.6,449.4L626.1,448.2L629.2,446.2L632.5,444.4L636.3,444.2M624.3,466.4L627.6,467.0L630.3,468.9L633.2,467.4L636.3,466.4L640.1,468.8L644.5,469.7L648.7,467.8L653.3,468.1L656.8,468.7L659.7,470.7L662.6,468.6L666.2,468.6L669.2,466.6L672.7,467.2L675.8,468.6L678.9,469.9L683.1,469.6L685.8,466.4L683.3,463.6L682.0,460.1L679.8,457.2L677.2,454.5M624.3,466.4L625.9,469.3L625.6,472.5L626.5,475.5L627.7,478.4L630.4,481.5L634.5,481.9L634.7,486.0L638.0,488.6L641.8,489.7L645.8,490.3L648.0,493.6L649.9,497.2L654.0,500.8L658.4,504.0L662.3,504.5L665.8,506.3L669.0,508.7L670.4,512.5M678.9,469.9L682.0,471.2L684.1,473.8L683.9,477.2L685.8,480.1L685.5,483.9L683.7,487.3L686.1,490.2L687.5,493.7L684.4,495.2L681.1,495.5L678.7,497.7L675.5,498.9L673.4,502.3L670.0,504.6L669.3,508.6L670.4,512.5M687.5,493.7L691.3,495.9L695.3,497.5L698.0,500.9L701.1,504.0L700.4,507.4L701.1,510.8L697.0,512.3L692.6,512.5L690.7,515.0L689.2,517.6L687.1,520.0L685.8,522.8M701.1,510.8L702.9,516.3L706.2,521.1L704.3,526.0L704.5,531.3L707.0,533.1L708.9,535.5L711.0,537.6L713.1,539.8L713.2,543.7L710.9,546.8L709.5,550.2L707.9,553.5L704.1,553.1L701.1,555.4L698.9,558.2L696.0,560.3M706.2,521.1L709.6,518.8L713.6,518.1L717.6,517.9L721.6,517.6L725.4,517.0L729.2,516.4L733.1,516.0L737.0,515.9L739.7,513.4L741.3,510.0L744.7,508.5L747.2,505.7L744.1,503.7L741.0,501.6L738.5,498.9L737.0,495.5L739.3,493.0L740.7,490.0L742.1,486.9L742.1,483.5M737.0,515.9L739.6,518.1L742.7,519.4L745.2,521.7L747.2,524.5L746.2,528.7L745.5,533.0L741.5,533.5L737.9,535.3L734.0,535.4L730.1,536.4L725.9,537.7L721.4,537.2L716.8,537.2L713.1,539.8M745.5,533.0L749.0,533.1L752.3,531.7L755.7,531.5L759.2,531.3L762.7,530.8L766.1,529.9L769.2,528.1L772.8,527.9L775.8,526.4L778.9,525.5L782.2,526.4L785.5,525.7L788.8,526.1L792.0,526.6L795.2,526.4L798.4,526.2L803.5,526.2L806.1,524.1L809.3,523.2L812.4,522.1L815.5,521.1L819.9,521.3L824.0,523.2L828.1,521.3L832.6,521.1M803.5,526.2L806.4,529.4L808.7,533.0L806.7,535.8L803.8,537.6L801.7,540.3L798.4,541.5M1063.0,529.6L1067.2,528.8L1071.5,528.7L1075.8,529.3L1080.1,529.6L1083.4,532.3L1087.5,533.5L1091.2,535.8L1095.4,536.4L1098.1,540.6L1100.6,545.0L1104.1,549.6L1105.7,555.2L1109.5,554.8L1113.1,556.1L1115.9,558.7L1119.3,560.3L1114.9,562.6L1110.8,565.4L1110.8,569.9L1109.1,574.0L1110.5,578.4L1112.5,582.5L1112.7,586.1L1114.5,589.3L1116.6,592.1L1119.3,594.5L1116.8,598.4L1115.9,603.0L1112.8,601.3L1109.5,600.0L1105.9,599.9L1102.4,600.1L1098.9,600.3L1095.4,600.0L1092.0,600.6L1088.6,601.3L1083.1,601.7L1078.4,604.7L1075.3,604.7L1072.3,605.2L1069.2,605.5L1066.4,606.9L1063.4,606.4L1060.4,605.8L1057.6,604.5L1054.5,604.7L1051.2,605.6L1048.2,607.2L1044.8,608.0L1041.4,607.3L1038.0,606.8L1034.7,607.9L1031.6,609.5L1028.9,611.5L1024.6,610.9L1020.4,609.8L1016.1,608.8L1011.8,609.8L1008.6,610.6L1005.6,612.1L1002.3,612.1L999.2,613.3L995.9,614.1L992.5,613.9L989.5,612.3L986.2,611.5L982.6,615.7L979.4,620.1L975.7,621.4L972.5,623.5M967.4,647.4L971.7,647.5L975.9,647.4L978.2,650.5L979.4,654.2L976.3,655.8L973.3,657.3L970.5,659.5L969.1,662.7L967.8,666.3L965.7,669.6L962.5,669.3L959.4,670.0L956.9,672.2L953.8,673.0M965.7,669.6L965.5,674.8L964.0,679.8L966.9,682.2L970.6,683.0L974.0,684.3L977.7,684.9L982.0,684.4L986.2,683.2L990.0,681.0L993.2,678.0L996.4,675.1L1000.3,673.0L1004.1,670.8L1008.6,670.4L1012.7,668.8L1016.9,667.9L1021.5,665.3L1026.5,663.8L1030.8,660.9L1035.1,657.9L1040.2,657.0L1044.8,654.4L1049.4,652.0L1054.5,650.8L1056.1,645.8L1057.3,640.7L1057.5,635.5L1057.9,630.3L1059.8,626.5L1061.2,622.5L1063.2,618.8L1065.0,615.0L1067.9,611.9L1071.7,609.8L1075.7,608.1L1078.4,604.7M1016.9,667.9L1023.7,688.3L986.2,700.3L1003.3,717.4L994.7,725.9L977.7,736.1L952.1,736.1M962.3,679.8L961.6,684.9L960.8,690.0L960.2,695.1L960.6,700.3L960.6,703.3L959.9,706.3L959.7,709.3L958.9,712.2L957.2,717.8L956.4,723.6L954.8,729.3L952.1,734.4M939.2,703.7L950.3,734.4M783.9,698.6L779.6,717.4L781.4,862.5M551.8,672.1L550.7,675.2L550.1,678.4L550.7,681.7L550.9,684.9L545.6,687.6L540.5,690.7L535.3,693.5L530.4,696.9L528.6,701.9L528.2,707.2L527.2,712.4L525.3,717.4L522.9,719.3L520.6,721.2L518.3,723.2L516.8,725.9L517.4,730.3L519.0,734.5L520.1,738.9L521.9,743.0L521.8,746.2L522.8,749.4L522.4,752.6L521.9,755.8L520.8,758.9L520.7,762.2L522.0,765.2L521.9,768.6L520.8,772.9L519.0,777.0L517.3,781.2L516.8,785.6L518.6,790.1L521.6,793.9L523.1,798.4L525.3,802.7L527.0,807.2L529.0,811.5L531.3,815.7L533.8,819.8L537.9,821.7L541.9,823.8L546.5,823.7L550.9,824.9L555.8,826.5L560.9,827.2L564.4,831.0L568.9,833.6L573.5,835.9L576.6,840.0L580.6,843.1L585.0,845.4L587.8,847.8L590.8,850.0L593.9,852.0L597.0,853.9M501.4,608.1L499.8,612.4L498.0,616.7L497.7,621.9L495.5,626.8L495.3,632.0L494.6,637.1L491.8,641.3L490.1,646.1L486.7,649.8L484.3,654.2L487.1,657.1L488.9,660.7L492.0,663.1L494.6,666.2L495.5,669.6L496.8,672.8L499.1,675.6L501.7,677.9L502.3,681.4L504.2,684.4L506.0,687.4L508.2,690.1L509.8,694.0L511.3,697.9L512.4,702.0L512.9,706.2L515.0,709.9L515.7,714.1L515.9,718.3L516.8,722.5M317.0,638.8L320.2,643.3L323.9,647.4L324.7,652.7L327.1,657.4L326.7,662.7L325.6,667.9L328.0,671.5L330.7,675.1L331.5,679.5L334.1,683.2L328.5,683.6L323.7,686.5L318.8,689.3L313.1,689.6L308.1,692.0L303.8,695.6L298.4,697.0L293.1,698.6L291.5,701.8L290.5,705.2L290.7,708.8L289.7,712.2L287.4,716.3L283.4,718.7L280.1,721.8L277.0,725.0L272.8,727.1L269.6,730.4L265.1,731.5L260.7,732.7L257.1,733.0L254.0,735.0L251.4,737.3L248.6,739.6L245.0,739.5L241.8,741.2L238.4,741.8L235.1,743.0L231.4,743.8L227.9,745.3L224.1,744.8L220.4,744.2L216.9,745.5L213.5,747.2L209.8,748.0L206.1,748.1L205.5,751.1L205.7,754.1L205.2,757.0L205.1,760.0L206.1,763.0L207.0,765.9L206.9,769.0L206.1,772.0M113.1,852.2L113.1,849.7L118.4,832.2L131.7,820.1L142.4,814.8L149.2,794.2M125.9,852.2L129.3,849.7L141.2,840.3L149.8,838.6L149.8,794.2L206.8,794.2L206.8,748.8M206.8,773.7L273.3,812.4L331.4,849.8L354.6,864.2M246.2,852.2L241.6,812.3L273.3,812.4M149.2,794.2L153.0,789.6L154.9,783.9L157.9,782.2L160.0,779.5L164.6,778.1L169.4,777.6L175.2,777.9L180.5,780.5L183.9,780.4L187.3,780.5L190.4,778.1L194.1,776.6L199.9,777.0L205.4,775.6M457.0,905.1L557.7,836.9L550.9,824.9M1115.9,603.0L1118.7,605.4L1121.2,608.1L1123.3,611.2L1126.5,613.1L1127.8,616.5L1129.1,619.9L1130.9,623.2L1131.3,626.9L1133.6,630.5L1134.0,634.7L1136.5,638.0L1139.8,640.5L1137.5,645.1L1136.0,649.9L1132.7,653.7L1129.6,657.6L1132.1,661.9L1135.5,665.4L1138.7,669.2L1143.2,671.3L1145.0,673.9L1147.4,676.0L1150.2,677.4L1152.4,679.7L1155.5,680.2L1158.2,682.1L1160.8,683.8L1163.7,684.9L1165.4,687.6L1166.2,690.6L1167.2,693.6L1167.2,696.7L1167.3,699.8L1167.6,702.8L1168.2,705.8L1168.8,708.8L1171.3,713.1L1174.0,717.4L1175.6,720.2L1178.2,722.1L1180.2,724.5L1182.5,726.8M1174.0,725.9L1168.8,736.1L1148.4,741.3L1117.6,739.6L1071.5,707.1L1023.7,688.3M1148.4,741.3L1152.7,742.4L1156.6,744.6L1159.2,748.4L1163.3,750.5L1167.7,750.5L1172.0,751.7L1176.4,751.9L1180.8,751.5M1225.2,818.1L1235.4,823.2L1252.5,847.1L1296.9,850.5L1303.7,830.0L1313.9,813.0M1119.3,560.3L1122.5,563.4L1126.7,564.9L1129.1,568.6L1131.3,572.3L1135.7,572.4L1140.0,571.6L1144.4,571.8L1148.4,574.0L1150.6,571.3L1153.6,569.8L1156.4,567.7L1159.6,566.6L1162.9,565.8L1166.0,564.5L1169.4,563.9L1172.3,562.0L1174.4,564.6L1176.9,566.9L1179.0,569.4L1180.8,572.3L1178.9,574.8L1176.2,576.6L1175.8,579.8L1174.0,582.5L1177.8,582.8L1181.6,583.4L1185.5,582.9L1189.3,582.5M1095.4,536.4L1098.8,535.7L1102.1,534.6L1105.5,533.6L1109.0,533.3L1112.6,533.9L1116.0,532.7L1119.3,533.8L1122.8,534.7L1124.9,536.9L1127.8,538.3L1130.7,539.5L1133.0,541.5L1131.9,544.9L1131.3,548.4L1132.6,551.7L1133.0,555.2L1134.9,557.6L1137.4,559.5L1138.6,562.3L1140.8,564.5L1143.0,566.7L1144.2,569.5L1145.9,572.1L1148.4,574.0M1122.8,534.7L1125.9,535.5L1129.0,536.2L1132.3,535.7L1135.5,536.3L1138.8,535.8L1141.9,534.8L1145.1,535.9L1148.4,536.4L1148.2,533.0L1147.6,529.6L1146.7,526.2L1146.6,522.8M1037.4,497.2L1040.8,497.2L1043.9,495.8L1047.3,495.9L1050.5,497.0L1053.6,498.2L1056.9,498.1L1060.0,499.2L1063.0,500.6L1067.2,499.9L1071.5,499.7L1075.8,500.1L1080.1,500.6L1083.5,501.4L1086.5,503.1L1089.9,503.1L1093.3,503.5L1096.4,504.9L1099.5,506.2L1102.7,507.6L1105.7,509.1L1108.9,508.3L1112.2,508.6L1115.5,509.3L1118.8,508.8L1121.5,510.8L1124.6,512.2L1127.9,512.5L1131.3,512.5L1135.0,515.3L1139.1,517.4L1143.4,519.4L1146.6,522.8L1151.8,524.6L1155.9,528.1L1160.4,531.1L1165.4,533.0L1170.6,532.0L1175.5,530.4L1179.8,527.3L1184.2,524.5M1274.7,601.3L1279.6,599.0L1284.7,597.4L1289.8,595.2L1293.5,591.0L1297.8,590.4L1302.1,591.5L1306.6,591.4L1310.5,589.3L1316.0,587.7L1321.3,585.8L1327.0,585.8L1332.7,585.9L1336.5,587.2L1340.3,588.7L1342.9,591.8L1346.4,593.9L1350.3,594.4L1354.2,595.4L1357.9,596.7L1361.7,597.9L1364.7,600.1L1367.5,602.3L1370.7,604.3L1374.3,605.1L1377.8,606.3L1380.9,608.2L1384.4,609.3L1387.3,611.5L1390.3,611.9L1393.3,612.3L1396.2,613.5L1399.3,613.2L1398.0,618.4L1398.7,623.6L1397.6,628.7L1396.4,633.8L1394.5,638.7L1391.7,643.1L1388.7,647.4L1387.3,652.5L1389.9,655.5L1392.5,658.5L1393.9,662.2L1394.2,666.2L1392.4,669.0L1391.0,672.0L1390.9,675.4L1389.7,678.6L1388.0,681.6L1387.8,685.1L1388.4,688.4L1389.0,691.8L1394.5,692.6L1399.0,695.8L1402.9,699.7L1407.8,702.0L1409.9,706.9L1409.5,712.2L1405.7,716.8L1400.3,719.4L1399.4,722.3L1398.4,725.1L1396.5,727.4L1394.2,729.3L1396.4,731.5L1398.5,733.9L1399.7,736.8L1401.0,739.6L1401.8,742.6L1402.2,745.7L1402.9,748.8L1404.4,751.5L1408.3,753.9L1412.4,755.9L1417.0,755.7L1421.5,756.6L1421.7,760.8L1422.6,764.8L1424.7,768.3L1426.6,772.0L1428.1,775.1L1429.1,778.5L1430.8,781.6L1433.4,783.9L1430.3,784.2L1427.5,785.8L1424.5,786.7L1421.5,787.3L1418.5,788.6L1415.3,788.5L1412.3,789.4L1409.5,790.8L1407.1,794.6L1405.9,798.9L1404.9,803.4L1406.1,807.8M1394.2,729.3L1399.1,730.2L1403.9,731.9L1407.9,735.1L1412.9,736.1L1417.3,734.7L1421.8,735.1L1426.1,736.3L1430.2,738.2L1434.6,738.0L1438.5,735.9L1442.7,734.4L1447.1,734.4L1452.2,735.0L1457.3,735.9L1462.4,735.1L1467.0,732.4L1471.8,730.7L1476.9,731.1L1481.6,729.4L1486.3,727.6L1486.2,723.2L1487.2,718.9L1489.0,714.9L1489.8,710.5L1493.0,709.0L1496.4,708.0L1499.9,707.2L1503.4,706.3L1506.2,703.9L1508.4,701.0L1512.0,700.1L1515.4,698.6L1521.0,697.2L1526.1,694.5L1531.8,693.6L1537.6,693.5L1539.9,688.4L1543.1,683.8L1547.1,679.8L1549.5,674.7L1545.8,672.0L1543.3,668.1L1541.5,663.9L1541.0,659.3L1544.3,659.7L1547.4,660.7L1550.8,660.5L1553.8,659.1L1557.0,658.1L1560.0,656.7L1563.2,657.5L1566.6,657.6L1566.8,653.2L1568.6,649.1L1570.1,645.0L1570.0,640.5L1572.2,636.5L1573.2,631.9L1575.3,627.9L1576.8,623.5L1581.5,621.2L1585.5,617.7L1588.0,613.1L1592.2,609.8L1596.3,608.0L1600.7,607.4L1605.2,607.6L1609.4,609.3L1613.7,608.4L1617.5,606.1L1622.0,605.5L1626.3,606.4M1399.3,613.2L1401.7,615.4L1403.1,618.4L1405.7,620.2L1408.3,622.0L1409.2,625.1L1409.6,628.3L1412.0,630.6L1412.9,633.7L1417.3,632.3L1421.6,630.5L1426.1,629.5L1430.0,626.9L1433.5,626.4L1436.5,624.7L1440.0,624.7L1443.4,624.4L1446.8,623.8L1449.9,622.1L1453.1,620.8L1455.6,618.4L1458.4,616.2L1460.7,613.6L1462.9,610.8L1465.8,608.9L1467.8,605.9L1470.6,603.7L1472.5,600.8L1474.4,597.9L1478.3,597.8L1482.1,598.8L1485.9,599.2L1489.8,599.6L1495.1,601.6L1500.5,603.8L1506.3,604.7L1511.9,603.0L1515.0,602.9L1518.1,603.4L1520.8,601.9L1523.9,601.3L1527.4,598.2L1531.8,596.7L1536.4,596.2L1541.0,596.2L1543.9,597.0L1546.9,597.3L1549.9,596.6L1552.9,596.2L1558.2,593.8L1564.1,593.9L1569.5,592.0L1575.1,591.0L1578.7,595.5L1583.1,599.4L1587.7,602.8L1592.2,606.4L1597.3,604.7L1602.7,604.9L1607.8,606.3L1612.9,607.8L1618.2,608.1L1623.2,606.0L1628.3,604.9L1633.1,603.0M1259.3,519.4L1264.6,519.8L1269.6,517.7L1274.8,517.7L1279.8,515.9L1282.7,518.2L1286.2,519.1L1289.7,520.1L1292.9,521.9L1295.8,524.1L1297.8,527.1L1299.3,530.5L1302.0,533.0L1306.3,532.5L1310.5,533.0L1310.2,529.0L1309.7,525.1L1308.3,521.3L1308.0,517.3L1308.9,513.4L1309.1,509.3L1308.6,505.3L1307.6,501.4L1309.0,497.6L1308.4,493.5L1307.7,489.5L1308.9,485.6L1307.8,481.7L1308.5,477.6L1309.8,473.8L1310.5,469.9L1315.6,467.1L1321.2,465.6L1326.5,463.4L1332.0,461.8L1334.5,463.6L1337.5,464.2L1340.5,464.1L1343.5,463.8L1346.5,463.5L1349.5,464.0L1351.9,462.1L1354.9,461.3L1357.6,462.8L1359.7,465.1L1361.9,467.1L1363.8,469.6L1365.9,471.9L1368.6,473.4L1371.2,475.1L1374.2,475.9L1377.3,476.3L1380.3,475.7L1383.3,476.5L1386.4,476.9L1389.1,478.3L1391.7,479.9L1394.4,481.5L1397.6,481.8L1401.8,485.7L1406.0,489.6L1410.5,493.2L1414.6,497.2L1417.8,497.1L1421.0,497.6L1423.5,499.8L1426.7,500.5L1429.9,500.4L1432.7,498.9L1435.9,499.4L1439.0,499.0L1441.8,497.4L1444.9,497.3L1447.9,496.2L1451.0,496.4L1454.0,495.3L1456.2,492.9L1459.3,492.4L1462.4,492.0L1464.9,494.1L1467.1,496.5L1470.2,497.7L1472.4,500.1L1475.5,500.9L1478.5,502.2L1481.5,503.2L1484.6,504.0L1483.6,508.4L1481.2,512.2L1480.4,516.6L1481.2,521.1L1483.3,524.6L1486.4,527.3L1487.8,531.2L1489.8,534.7L1492.8,535.3L1495.8,534.5L1498.8,533.7L1501.8,534.0L1504.7,534.9L1507.6,535.9L1510.6,535.9L1513.7,536.4L1515.7,539.4L1518.8,541.3L1522.0,542.9L1525.6,543.3L1528.5,541.3L1532.0,540.6L1535.2,539.1L1537.6,536.4L1542.1,534.2L1545.4,530.2L1548.3,526.0L1549.5,521.1L1553.0,518.8L1556.9,517.8L1560.8,516.5L1564.9,515.9L1567.1,511.5L1570.0,507.4L1574.9,505.6L1580.1,505.9L1585.3,506.5L1589.7,509.4L1594.7,509.7L1599.7,509.6L1604.5,511.1L1609.2,512.5L1612.7,509.6L1616.9,508.2L1620.2,505.1L1624.6,504.0L1627.6,503.3L1630.6,503.6L1633.6,503.7L1636.6,503.8L1639.7,504.0L1642.8,503.6L1645.7,504.4L1648.5,505.7L1651.4,504.7L1654.4,504.0L1657.4,505.0L1660.5,505.3L1662.5,507.7L1665.3,509.1L1668.4,509.4L1671.4,510.2L1677.1,508.6L1683.0,508.3L1688.9,508.9L1694.6,507.4L1698.1,509.1L1701.8,510.6L1705.4,512.2L1708.9,514.0L1712.7,515.0L1716.2,516.7L1719.7,518.5L1723.6,519.4M1250.8,524.5L1254.4,520.9L1259.3,519.4M1310.5,533.0L1314.8,532.4L1319.1,533.5L1323.3,532.8L1327.6,533.0L1331.2,530.5L1335.4,529.3L1338.8,526.6L1341.4,523.1L1343.2,519.1L1346.5,516.2L1349.9,513.6L1353.2,510.8L1356.5,511.3L1359.6,512.7L1363.0,512.5L1366.2,513.6L1369.6,513.4L1372.9,514.3L1375.8,516.1L1378.8,517.6L1380.8,522.2L1384.5,525.5L1385.2,530.3L1387.3,534.7L1391.7,534.8L1395.8,533.4L1400.2,534.2L1404.4,533.0L1406.2,535.5L1407.2,538.5L1408.7,541.2L1410.6,543.6L1412.3,546.3L1415.0,547.9L1417.2,550.1L1419.8,551.8L1422.4,555.2L1425.0,558.8L1428.6,561.3L1431.5,564.7L1434.6,567.8L1438.5,570.0L1442.9,570.8L1447.1,572.3L1450.8,573.6L1454.3,575.5L1457.5,578.1L1459.5,581.6L1463.5,581.0L1467.4,582.1L1471.3,583.3L1474.4,585.9L1478.8,586.9L1482.8,588.9L1486.9,591.1L1491.5,591.0L1490.4,595.3L1489.8,599.6M1511.9,603.0L1513.0,597.4L1512.2,591.7L1514.8,586.6L1515.4,580.8L1519.1,577.6L1521.4,573.2L1522.3,568.3L1523.9,563.7L1519.5,562.8L1515.6,560.8L1511.2,561.2L1506.8,562.0L1511.6,561.0L1515.9,558.8L1520.5,557.1L1523.9,553.5L1526.9,549.5L1531.2,547.0L1534.9,543.9L1539.3,541.5L1537.6,536.4M1523.9,553.5L1527.2,550.0L1531.7,548.2L1536.4,547.1L1540.3,544.2L1544.5,542.1L1549.0,540.8L1553.3,538.7L1558.0,538.1L1560.4,541.6L1561.0,545.7L1564.5,548.1L1566.6,551.8L1569.8,550.9L1572.6,549.0L1575.8,548.2L1578.9,547.0L1582.2,546.1L1585.5,545.7L1588.9,545.7L1592.2,546.7L1595.4,547.9L1597.9,550.2L1599.9,553.0L1602.4,555.2L1599.6,557.6L1596.0,558.5L1592.5,559.8L1588.8,559.7L1585.2,560.2L1582.1,562.0L1578.5,562.5L1575.1,563.7L1571.9,562.9L1569.0,561.3L1565.7,560.7L1562.4,561.5L1559.2,562.1L1556.0,562.7L1552.8,562.1L1549.5,562.0L1546.5,563.6L1543.7,565.6L1540.4,566.5L1536.9,566.1L1533.7,565.1L1530.6,564.0L1527.2,564.4L1523.9,563.7M1558.0,538.1L1561.0,537.7L1564.0,537.2L1567.1,537.3L1570.0,536.4L1573.5,536.1L1576.8,537.2L1580.3,537.1L1583.6,538.1L1588.5,537.5L1593.4,537.7L1598.4,538.5L1602.4,541.5L1604.0,545.1L1606.1,548.3L1607.2,551.9L1609.2,555.2L1612.5,558.0L1616.1,560.3L1614.1,562.7L1612.7,565.4L1617.9,568.1L1622.0,572.3L1626.8,575.6L1631.4,579.1L1630.4,582.0L1630.2,585.1L1630.2,588.2L1630.0,591.2L1630.7,594.3L1632.4,596.9L1633.3,599.9L1633.1,603.0M1609.2,565.4L1611.6,562.3L1614.5,559.6L1617.2,556.8L1620.7,554.9L1624.4,553.5L1628.1,552.3L1631.6,550.6L1634.8,548.4L1637.7,550.2L1641.0,550.7L1644.3,551.1L1647.7,550.7L1651.0,550.7L1654.3,550.9L1657.2,549.2L1660.5,548.4L1664.0,547.8L1667.0,545.9L1670.5,545.0L1674.0,545.2L1676.6,542.8L1679.8,541.2L1682.9,539.6L1686.1,538.1L1689.6,536.6L1692.7,534.3L1696.4,533.2L1700.2,532.6L1702.8,529.8L1705.1,526.7L1708.4,524.7L1711.7,522.8L1714.6,521.6L1717.5,520.6L1720.6,520.3L1723.6,519.4M1626.3,606.4L1631.9,607.8L1636.2,611.6L1638.8,616.6L1643.4,620.1L1645.1,622.7L1646.6,625.3L1649.1,627.3L1651.9,628.6L1655.9,629.6L1660.0,629.3L1663.9,630.8L1666.9,633.7L1670.5,631.6L1674.6,631.0L1678.6,631.4L1682.6,632.0L1685.0,634.8L1687.7,637.3L1689.7,640.3L1692.5,642.7L1695.0,645.3L1698.3,647.1L1700.6,649.9L1703.1,652.5L1701.6,656.7L1699.9,660.8L1697.9,665.0L1698.0,669.6L1701.1,672.5L1704.0,675.7L1707.0,679.0L1708.3,683.2L1704.4,682.5L1700.5,683.3L1696.6,682.8L1692.9,681.5L1694.3,687.2L1695.1,693.0L1697.0,695.3L1698.6,697.8L1699.2,700.8L1699.7,703.7L1702.8,705.4L1705.4,707.7L1708.0,709.9L1711.2,711.3L1714.7,712.2L1717.3,714.6L1720.5,715.9L1723.6,717.4L1727.5,719.0L1731.7,718.7L1735.0,721.3L1739.0,722.5M1626.3,606.4L1624.3,609.1L1622.2,611.7L1619.8,614.0L1617.8,616.7L1617.9,620.0L1617.1,623.3L1617.8,626.6L1619.0,629.7L1620.2,632.8L1622.3,635.4L1624.4,637.9L1626.3,640.5L1624.1,644.4L1623.7,648.9L1623.3,653.3L1622.9,657.6L1622.0,662.1L1622.1,666.7L1619.6,670.5L1617.8,674.7L1622.6,676.2L1627.0,678.6L1630.6,682.1L1634.8,684.9L1633.6,690.7L1630.4,695.7L1628.5,701.3L1628.0,707.1L1624.8,708.9L1621.9,711.3L1619.7,714.2L1617.8,717.4L1614.6,719.3L1612.2,722.0L1609.9,724.9L1607.5,727.6L1605.5,732.9L1603.0,737.9L1598.9,741.8L1595.6,746.4L1592.7,749.3L1589.2,751.4L1585.5,753.1L1581.7,754.4L1577.9,756.0L1574.4,758.1L1570.6,759.4L1566.6,760.0L1562.2,761.2L1558.4,763.8L1553.8,763.3L1549.5,765.2L1548.6,769.6L1546.7,773.7L1544.2,777.4L1541.0,780.5L1543.2,784.6L1545.2,788.9L1549.1,791.5L1552.9,794.2L1555.0,796.3L1557.1,798.5L1559.2,800.7L1561.4,802.7L1557.8,806.7L1556.5,811.9L1552.7,815.6L1549.5,819.8L1543.9,821.1L1539.6,824.8L1534.2,826.4L1529.0,828.3L1526.2,829.8L1524.2,832.1L1521.4,833.6L1518.8,835.1M1723.6,717.4L1727.5,719.0L1731.7,718.7L1735.0,721.3L1739.0,722.5L1742.3,726.2L1745.3,730.3L1749.5,733.0L1754.3,734.4L1756.5,736.7L1759.1,738.6L1761.8,740.2L1764.2,742.2L1767.2,743.2L1770.2,744.3L1773.3,745.1L1776.5,744.7L1778.6,747.2L1781.3,749.0L1784.2,750.4L1786.8,752.4L1789.8,753.6L1792.8,755.0L1795.1,757.4L1797.0,760.0M1739.0,722.5L1738.0,728.3L1734.4,733.0L1730.8,737.5L1728.7,743.0L1732.7,745.7L1736.5,748.7L1741.3,749.8L1745.8,751.5L1747.4,754.1L1749.8,756.1L1752.2,758.1L1754.9,759.5L1757.3,761.4L1759.3,763.6L1760.5,766.6L1762.9,768.6L1766.1,769.0L1769.3,768.7L1772.5,769.3L1775.7,769.1L1778.7,770.4L1782.0,770.4L1785.3,770.4L1788.5,770.3L1792.9,770.0L1797.2,771.0L1801.7,770.8L1805.6,768.6M1723.6,519.4L1727.1,515.2L1729.0,510.1L1732.4,505.8L1733.9,500.6L1731.2,495.4L1731.3,489.5L1730.6,483.8L1728.7,478.4L1733.1,477.0L1737.3,475.0L1741.9,475.1L1746.4,474.2L1750.3,471.6L1754.9,470.9L1758.4,467.7L1762.9,466.4L1765.2,462.5L1765.6,458.1L1766.4,453.7L1767.2,449.4L1768.0,445.0L1769.0,440.8L1771.2,436.8L1771.4,432.3L1775.9,432.5L1780.4,432.7L1784.8,431.9L1788.9,429.9L1793.2,430.8L1797.2,432.7L1801.4,434.2L1805.6,435.7M1153.5,401.6L1154.5,398.6L1156.8,396.4L1159.0,394.0L1162.0,393.0L1164.8,391.2L1166.5,388.2L1168.2,385.4L1170.6,383.1L1173.6,381.9L1176.5,380.3L1179.4,378.8L1182.5,377.7L1185.0,375.9L1187.6,374.3L1192.0,374.2L1196.3,373.2L1200.5,371.6L1203.8,368.6L1207.1,365.8L1210.2,362.9L1213.4,360.0L1216.6,357.2L1220.9,356.0L1225.2,355.7L1229.5,354.8L1233.9,354.7L1238.3,355.7L1242.8,355.1L1246.7,357.2L1250.8,358.9L1254.0,360.2L1257.5,360.3L1260.1,362.6L1263.0,364.5L1266.2,365.5L1269.6,366.0L1273.0,365.9L1276.2,367.1L1279.6,368.0L1283.0,368.3L1285.5,370.7L1288.7,372.1L1292.0,372.8L1295.4,372.9L1298.7,373.3L1302.0,374.3L1304.7,372.1L1307.6,370.2L1310.7,368.6L1314.2,368.3L1317.7,367.8L1321.2,368.6L1324.7,367.9L1327.6,365.7L1330.6,367.0L1333.8,367.6L1336.9,368.7L1340.1,369.4L1343.4,370.1L1346.7,370.4L1349.8,369.3L1353.2,369.1L1356.2,369.4L1359.2,368.7L1362.2,368.4L1365.2,368.6L1368.1,369.8L1371.2,369.7L1374.2,370.0L1377.1,370.8L1380.4,370.8L1383.5,372.0L1386.6,373.0L1389.9,373.1L1393.2,373.5L1396.5,372.9L1399.6,371.9L1402.7,370.8L1404.2,368.1L1404.8,365.0L1405.8,362.0L1406.1,358.9L1402.9,357.1L1399.3,356.5L1396.0,355.1L1392.3,355.0L1389.7,352.4L1386.1,351.3L1382.4,351.2L1378.8,350.4L1382.6,345.9L1385.9,341.1L1390.5,337.3L1395.9,335.0L1397.7,331.0L1398.4,326.6L1398.6,322.3L1399.3,317.9L1403.4,317.2L1407.5,316.4L1411.1,314.3L1414.2,311.5L1418.4,311.8L1422.5,311.2L1426.2,309.3L1430.0,307.7L1434.4,308.2L1438.7,307.8L1442.9,309.2L1447.2,309.6L1451.5,308.6L1455.9,308.9L1460.0,307.3L1464.2,306.0L1467.0,304.2L1470.3,303.6L1473.2,302.0L1476.6,301.6L1479.7,303.0L1483.0,303.8L1486.2,302.7L1489.7,302.7L1492.7,301.4L1495.9,300.7L1499.2,300.0L1502.4,300.7L1505.7,300.6L1508.9,300.0L1512.1,300.5L1515.4,300.9L1520.8,300.3L1526.1,299.4L1531.5,300.4L1536.9,300.3L1541.8,297.8L1547.1,296.3L1552.5,295.4L1558.0,295.7L1560.7,300.7L1564.9,304.5L1567.4,309.6L1570.0,314.5L1574.7,316.6L1579.7,317.6L1584.8,317.7L1589.6,315.8L1594.7,316.7L1599.6,315.3L1604.1,317.8L1609.2,317.9L1614.4,318.6L1619.0,321.1L1622.1,325.2L1626.3,328.2L1629.9,323.8L1633.6,319.6L1638.8,317.3L1643.9,315.0L1649.0,312.4L1654.7,312.6L1660.1,311.3L1665.6,311.1L1669.4,313.9L1672.5,317.6L1677.0,318.9L1681.5,320.3L1685.4,323.1L1687.5,327.4L1690.7,330.8L1694.6,333.3L1696.5,338.2L1699.2,342.7L1703.2,346.1L1705.7,350.8L1710.2,353.7L1714.5,356.8L1717.9,360.9L1720.2,365.7L1723.1,367.5L1726.3,368.6L1729.2,370.4L1732.4,371.4L1735.6,372.5L1739.1,372.5L1742.4,372.5L1745.8,372.6L1749.1,372.6L1752.3,371.9L1755.6,371.4L1758.8,370.8L1761.6,368.9L1764.9,368.4L1768.1,367.2L1771.4,367.4L1776.4,368.6L1780.4,371.8L1784.4,374.9L1789.3,376.3L1792.6,380.2L1796.7,383.1L1800.6,386.5L1805.6,387.9M1153.5,401.6L1155.9,404.4L1157.6,407.6L1159.6,410.7L1162.0,413.5L1158.9,415.5L1155.5,416.8L1152.0,418.0L1148.4,418.6L1151.7,419.2L1155.0,419.9L1158.5,419.7L1161.5,417.9L1164.7,418.7L1167.6,420.2L1171.0,420.4L1174.0,422.1L1178.0,423.2L1181.4,425.6L1183.1,429.5L1186.5,432.1L1188.2,435.7L1190.5,439.0L1192.9,442.2L1194.4,446.0" fill="none" stroke="#BDBDBD" stroke-width="1.8" stroke-linejoin="round"/><path d="M320.4,333.6L320.40,304.30A29.3,29.3 0 0 1 320.40,362.90Z" fill="#4DAF4A"/><path d="M320.4,333.6L320.40,362.90A29.3,29.3 0 0 1 292.53,342.65Z" fill="#FDBF6F"/><path d="M320.4,333.6L292.53,342.65A29.3,29.3 0 0 1 303.18,309.90Z" fill="#4BB8D6"/><path d="M320.4,333.6L303.18,309.90A29.3,29.3 0 0 1 320.40,304.30Z" fill="#984EA3"/><path d="M445.4,307.9L445.40,262.80A45.1,45.1 0 1 1 417.53,272.44Z" fill="#4DAF4A"/><path d="M445.4,307.9L417.53,272.44A45.1,45.1 0 0 1 445.40,262.80Z" fill="#FDBF6F"/><path d="M538,299.8L538.00,282.80A17,17 0 0 1 552.72,308.30Z" fill="#4DAF4A"/><path d="M538,299.8L552.72,308.30A17,17 0 1 1 538.00,282.80Z" fill="#FDBF6F"/><path d="M435.9,374.6L435.90,352.60A22,22 0 0 1 456.82,367.80Z" fill="#4DAF4A"/><path d="M435.9,374.6L456.82,367.80A22,22 0 1 1 435.90,352.60Z" fill="#FDBF6F"/><path d="M532.5,364.3L532.50,325.80A38.5,38.5 0 0 1 570.70,369.13Z" fill="#4DAF4A"/><path d="M532.5,364.3L570.70,369.13A38.5,38.5 0 1 1 522.93,327.01Z" fill="#FDBF6F"/><path d="M532.5,364.3L522.93,327.01A38.5,38.5 0 0 1 532.50,325.80Z" fill="#984EA3"/><path d="M409.7,450.5L409.70,400.30A50.2,50.2 0 1 1 404.98,500.48Z" fill="#4DAF4A"/><path d="M409.7,450.5L404.98,500.48A50.2,50.2 0 0 1 360.71,439.55Z" fill="#FDBF6F"/><path d="M409.7,450.5L360.71,439.55A50.2,50.2 0 0 1 361.96,434.99Z" fill="#4BB8D6"/><path d="M409.7,450.5L361.96,434.99A50.2,50.2 0 0 1 409.70,400.30Z" fill="#984EA3"/><path d="M496.8,440.7L496.80,427.30A13.4,13.4 0 0 1 496.80,454.10Z" fill="#FDBF6F"/><path d="M496.8,440.7L496.80,454.10A13.4,13.4 0 0 1 496.80,427.30Z" fill="#984EA3"/><circle cx="585" cy="426.2" r="17.2" fill="#4DAF4A"/><path d="M220,557.4L220.00,527.80A29.6,29.6 0 0 1 237.40,533.45Z" fill="#4DAF4A"/><path d="M220,557.4L237.40,533.45A29.6,29.6 0 0 1 237.40,581.35Z" fill="#FDBF6F"/><path d="M220,557.4L237.40,581.35A29.6,29.6 0 0 1 202.60,581.35Z" fill="#4BB8D6"/><path d="M220,557.4L202.60,581.35A29.6,29.6 0 0 1 220.00,527.80Z" fill="#984EA3"/><path d="M305.1,544.3L305.10,510.80A33.5,33.5 0 0 1 319.36,513.99Z" fill="#4DAF4A"/><path d="M305.1,544.3L319.36,513.99A33.5,33.5 0 0 1 305.10,577.80Z" fill="#FDBF6F"/><path d="M305.1,544.3L305.10,577.80A33.5,33.5 0 0 1 279.29,565.65Z" fill="#4BB8D6"/><path d="M305.1,544.3L279.29,565.65A33.5,33.5 0 0 1 305.10,510.80Z" fill="#984EA3"/><path d="M555.4,518.9L555.40,479.70A39.2,39.2 0 0 1 565.15,480.93Z" fill="#4DAF4A"/><path d="M555.4,518.9L565.15,480.93A39.2,39.2 0 1 1 540.97,555.35Z" fill="#FDBF6F"/><path d="M555.4,518.9L540.97,555.35A39.2,39.2 0 0 1 555.40,479.70Z" fill="#4BB8D6"/><circle cx="632.3" cy="77.6" r="8.6" fill="#FDBF6F"/><path d="M611.1,181.6L611.10,161.80A19.8,19.8 0 0 1 611.10,201.40Z" fill="#4DAF4A"/><path d="M611.1,181.6L611.10,201.40A19.8,19.8 0 0 1 611.10,161.80Z" fill="#FDBF6F"/><path d="M991.7,249.7L991.70,214.80A34.9,34.9 0 0 1 991.70,284.60Z" fill="#FDBF6F"/><path d="M991.7,249.7L991.70,284.60A34.9,34.9 0 0 1 967.02,274.38Z" fill="#4BB8D6"/><path d="M991.7,249.7L967.02,274.38A34.9,34.9 0 0 1 991.70,214.80Z" fill="#D9D9D9"/><path d="M618.4,386.8L618.40,364.80A22,22 0 0 1 639.32,380.00Z" fill="#4DAF4A"/><path d="M618.4,386.8L639.32,380.00A22,22 0 1 1 597.48,380.00Z" fill="#FDBF6F"/><path d="M618.4,386.8L597.48,380.00A22,22 0 0 1 618.40,364.80Z" fill="#D9D9D9"/><circle cx="680.9" cy="361" r="22" fill="#FDBF6F"/><circle cx="713.5" cy="404.8" r="8.6" fill="#FDBF6F"/><path d="M888.4,410.7L888.40,397.30A13.4,13.4 0 0 1 888.40,424.10Z" fill="#4DAF4A"/><path d="M888.4,410.7L888.40,424.10A13.4,13.4 0 0 1 888.40,397.30Z" fill="#FDBF6F"/><circle cx="686.4" cy="441.2" r="35.6" fill="#FDBF6F"/><path d="M608.3,451.3L608.30,437.90A13.4,13.4 0 0 1 608.30,464.70Z" fill="#4DAF4A"/><path d="M608.3,451.3L608.30,464.70A13.4,13.4 0 0 1 608.30,437.90Z" fill="#FDBF6F"/><circle cx="773.7" cy="456" r="17" fill="#FDBF6F"/><path d="M662.4,487.6L662.40,470.70A16.9,16.9 0 0 1 677.04,496.05Z" fill="#4DAF4A"/><path d="M662.4,487.6L677.04,496.05A16.9,16.9 0 1 1 662.40,470.70Z" fill="#FDBF6F"/><circle cx="709.3" cy="483.1" r="8.6" fill="#4DAF4A"/><path d="M781.3,511L781.30,482.50A28.5,28.5 0 0 1 799.47,489.04Z" fill="#4DAF4A"/><path d="M781.3,511L799.47,489.04A28.5,28.5 0 1 1 756.33,524.73Z" fill="#FDBF6F"/><path d="M781.3,511L756.33,524.73A28.5,28.5 0 0 1 781.30,482.50Z" fill="#4BB8D6"/><path d="M763.7,583.8L763.70,556.80A27,27 0 1 1 736.70,583.80Z" fill="#FDBF6F"/><path d="M763.7,583.8L736.70,583.80A27,27 0 0 1 763.70,556.80Z" fill="#4BB8D6"/><path d="M940.7,572L940.70,535.00A37,37 0 0 1 963.43,542.80Z" fill="#4DAF4A"/><path d="M940.7,572L963.43,542.80A37,37 0 1 1 904.83,562.92Z" fill="#FDBF6F"/><path d="M940.7,572L904.83,562.92A37,37 0 0 1 928.69,537.00Z" fill="#4BB8D6"/><path d="M940.7,572L928.69,537.00A37,37 0 0 1 940.70,535.00Z" fill="#D9D9D9"/><circle cx="600.2" cy="624.8" r="8.6" fill="#FDBF6F"/><path d="M956.4,694.9L956.40,649.10A45.8,45.8 0 0 1 988.79,727.29Z" fill="#FDBF6F"/><path d="M956.4,694.9L988.79,727.29A45.8,45.8 0 1 1 949.24,649.66Z" fill="#4BB8D6"/><path d="M956.4,694.9L949.24,649.66A45.8,45.8 0 0 1 956.40,649.10Z" fill="#D9D9D9"/><path d="M880.9,766.6L880.90,744.60A22,22 0 0 1 893.83,784.40Z" fill="#4DAF4A"/><path d="M880.9,766.6L893.83,784.40A22,22 0 1 1 880.90,744.60Z" fill="#FDBF6F"/><path d="M1005.5,639.1L1005.50,615.10A24,24 0 0 1 1005.50,663.10Z" fill="#4DAF4A"/><path d="M1005.5,639.1L1005.50,663.10A24,24 0 0 1 1005.50,615.10Z" fill="#FDBF6F"/><circle cx="1098.1" cy="662.3" r="13.4" fill="#FDBF6F"/><path d="M1104.5,520.8L1104.50,496.90A23.9,23.9 0 1 1 1083.80,508.85Z" fill="#FDBF6F"/><path d="M1104.5,520.8L1083.80,508.85A23.9,23.9 0 0 1 1104.50,496.90Z" fill="#4BB8D6"/><circle cx="1127.7" cy="555.7" r="19.7" fill="#FDBF6F"/><path d="M1185.2,552.6L1185.20,527.10A25.5,25.5 0 1 1 1165.55,536.35Z" fill="#FDBF6F"/><path d="M1185.2,552.6L1165.55,536.35A25.5,25.5 0 0 1 1185.20,527.10Z" fill="#D9D9D9"/><path d="M1262.7,670.1L1262.70,650.10A20,20 0 0 1 1282.70,670.10Z" fill="#4DAF4A"/><path d="M1262.7,670.1L1282.70,670.10A20,20 0 1 1 1262.70,650.10Z" fill="#FDBF6F"/><path d="M1455.1,535.6L1455.10,504.90A30.7,30.7 0 1 1 1427.17,522.85Z" fill="#FDBF6F"/><path d="M1455.1,535.6L1427.17,522.85A30.7,30.7 0 0 1 1438.50,509.77Z" fill="#4BB8D6"/><path d="M1455.1,535.6L1438.50,509.77A30.7,30.7 0 0 1 1455.10,504.90Z" fill="#D9D9D9"/><circle cx="1604.7" cy="540.1" r="24" fill="#FDBF6F"/><circle cx="1509.5" cy="642.2" r="13.4" fill="#FDBF6F"/></g><rect x="107.3" y="5.2" width="1691" height="845.3" fill="none" stroke="#555" stroke-width="1.5"/><clipPath id="insclip"><rect x="1091.5" y="23.4" width="690" height="314.6"/></clipPath><g clip-path="url(#insclip)"><rect x="1091.5" y="23.4" width="690" height="314.6" fill="#EEF6FE"/><path d="M1142.3,67.0L1152.5,69.6L1147.4,72.1L1147.4,76.3L1152.5,78.9L1159.3,82.3L1169.4,80.6L1172.8,74.6L1179.6,75.5L1189.8,76.8L1198.2,80.6L1203.3,85.7L1210.1,91.6L1216.0,95.8L1216.9,100.1L1216.5,106.8L1217.7,112.8L1222.6,119.4L1228.4,122.8L1230.8,127.2L1233.8,130.6L1237.2,135.6L1240.6,139.0L1239.8,136.5L1237.2,128.9L1233.0,124.6L1235.5,125.1L1238.9,129.7L1242.3,134.8L1247.4,139.0L1248.2,144.1L1252.5,147.2L1257.6,149.2L1264.3,151.4L1269.4,151.2L1272.8,154.4L1277.9,155.6L1281.3,158.5L1281.8,161.1L1284.7,162.8L1287.2,163.9L1291.4,165.6L1294.8,163.9L1296.0,164.4L1295.7,166.1L1295.7,171.2L1293.5,175.5L1291.4,177.2L1291.4,181.4L1289.7,186.5L1293.1,191.6L1296.5,198.3L1299.1,203.4L1307.9,209.3L1307.5,217.0L1306.2,225.4L1305.8,232.2L1302.8,240.7L1302.5,245.8L1301.6,252.6L1299.1,259.3L1301.6,267.0L1308.4,271.2L1314.3,271.2L1310.9,267.0L1310.1,264.4L1315.2,259.3L1312.6,256.8L1316.0,254.2L1318.6,250.0L1316.9,247.5L1321.9,244.1L1329.6,242.4L1328.7,236.5L1333.8,237.3L1337.2,235.3L1340.6,230.5L1344.3,226.3L1344.8,222.1L1351.6,217.5L1357.5,215.3L1360.9,207.7L1361.8,200.0L1367.7,193.2L1367.7,187.3L1359.2,183.1L1352.4,182.2L1344.8,179.7L1342.3,175.5L1338.9,170.4L1330.4,167.8L1325.3,163.6L1321.9,159.9L1315.2,160.0L1308.4,158.5L1305.0,157.3L1299.1,159.7L1296.5,162.8L1293.1,161.9L1288.9,162.8L1285.5,159.4L1285.5,152.6L1283.0,150.9L1277.4,150.9L1277.9,146.7L1278.7,141.6L1273.6,141.9L1272.0,146.5L1266.9,147.2L1264.3,145.0L1261.8,140.7L1262.3,134.3L1262.0,130.9L1266.9,128.0L1274.5,128.5L1276.2,126.7L1283.0,127.7L1286.4,128.9L1287.2,132.3L1289.7,135.3L1291.3,133.9L1290.4,129.7L1289.1,126.3L1292.3,122.1L1297.4,118.7L1298.2,115.3L1301.6,109.4L1308.4,107.7L1307.5,105.1L1313.5,102.6L1317.7,100.9L1323.6,101.4L1325.3,100.1L1317.7,95.8L1313.5,94.5L1321.9,92.9L1330.4,90.7L1332.6,89.0L1329.6,85.7L1322.8,82.3L1317.7,75.8L1311.8,78.9L1308.4,74.6L1303.3,72.4L1294.8,72.1L1294.8,78.9L1297.4,83.1L1292.3,85.7L1288.1,88.2L1283.0,84.3L1277.9,81.9L1270.3,80.6L1266.9,78.0L1266.9,74.6L1271.1,71.3L1277.9,69.6L1281.3,66.2L1284.7,63.6L1288.1,61.9L1283.0,60.2L1277.9,61.9L1274.5,61.1L1267.7,60.2L1264.3,62.8L1257.6,63.1L1244.0,62.3L1232.1,61.9L1223.7,60.2L1210.1,59.1L1198.2,60.6L1188.1,60.1L1172.8,58.7L1161.8,57.2L1152.5,59.4L1145.7,61.9L1149.1,65.3ZM1303.3,45.8L1311.8,41.6L1325.3,39.1L1359.2,36.5L1384.6,37.4L1406.7,39.9L1396.5,43.3L1396.5,48.4L1389.7,56.0L1382.9,61.1L1372.8,62.8L1362.6,67.0L1354.1,76.3L1345.7,74.6L1340.6,69.6L1335.5,64.5L1333.8,57.7L1328.7,50.1L1315.2,48.4ZM1274.5,56.0L1283.0,53.5L1291.4,53.1L1298.2,55.2L1306.7,58.0L1311.8,59.1L1313.5,61.1L1320.2,64.5L1322.1,65.2L1318.6,67.0L1316.0,68.7L1312.6,70.4L1316.9,71.6L1311.8,72.1L1305.8,70.6L1301.6,68.7L1294.8,68.5L1299.9,66.2L1303.3,63.6L1296.5,61.9L1291.4,60.2L1283.0,59.4L1276.2,57.7ZM1274.5,48.4L1288.1,48.7L1294.8,48.4L1299.9,45.8L1305.0,45.0L1311.8,41.6L1321.9,39.1L1311.8,37.7L1294.8,37.2L1274.5,39.9L1269.4,41.6L1264.3,44.1L1274.5,45.8ZM1271.1,51.6L1281.3,51.3L1291.4,51.8L1288.1,49.2L1277.9,48.4L1269.4,49.2ZM1227.1,60.6L1237.2,61.9L1249.1,61.4L1255.9,60.1L1254.2,57.7L1249.1,54.3L1235.5,54.3L1227.1,55.2L1225.4,57.7ZM1214.3,56.3L1216.9,52.1L1223.7,51.8L1230.4,54.3L1225.4,57.2L1218.6,57.7ZM1255.9,56.0L1262.6,56.0L1264.3,53.5L1257.6,52.6ZM1266.0,56.0L1272.8,56.0L1274.5,52.6L1266.0,53.0ZM1230.4,50.4L1244.0,50.9L1249.1,49.2L1240.6,48.0L1230.4,48.5ZM1264.3,45.8L1276.2,44.1L1277.9,40.8L1266.0,40.8L1264.3,42.4ZM1255.9,49.9L1262.6,50.6L1264.3,48.4L1257.6,48.0ZM1279.6,69.6L1289.7,70.4L1289.7,67.9L1282.1,66.2L1279.6,67.9ZM1291.4,72.9L1294.8,72.4L1293.1,73.8ZM1218.6,49.2L1227.1,49.7L1228.7,48.2L1222.0,47.0ZM1150.8,84.8L1138.9,88.2L1125.4,90.6L1125.4,91.2L1138.9,89.0L1150.8,85.5ZM1162.8,143.8L1164.7,145.0L1162.8,146.0ZM1158.9,141.4L1160.0,141.9L1159.1,142.1ZM1156.4,140.4L1157.1,140.6L1156.6,140.9ZM1167.7,80.1L1169.1,79.7L1168.6,81.1ZM1196.6,79.7L1201.6,80.6L1204.2,84.8L1200.8,84.0ZM1202.5,86.8L1204.2,88.2L1203.3,89.6L1201.6,88.2ZM1210.1,91.9L1217.7,96.0L1216.9,95.5L1211.8,93.3ZM1283.0,141.1L1288.1,138.7L1295.7,140.7L1301.3,143.8L1295.7,144.3L1291.4,141.2ZM1300.9,144.5L1310.9,145.8L1310.9,147.0L1300.9,147.3ZM1410.9,112.3L1412.1,104.6L1424.5,104.3L1425.0,100.1L1419.4,96.0L1424.5,94.0L1429.7,91.8L1434.6,89.0L1441.4,87.2L1440.9,82.3L1444.8,80.2L1444.8,85.7L1450.7,86.5L1462.6,84.8L1467.7,77.2L1477.8,76.3L1469.4,75.8L1463.4,74.6L1469.9,67.9L1464.3,66.5L1456.6,72.1L1458.8,76.7L1454.9,81.4L1451.1,84.0L1448.2,83.1L1446.0,78.0L1440.5,79.7L1435.5,76.3L1436.0,72.6L1443.9,69.6L1450.7,64.5L1460.9,59.4L1470.7,57.5L1479.5,58.9L1494.8,63.3L1496.5,65.3L1486.3,65.3L1482.9,64.8L1486.3,69.1L1495.6,68.7L1501.5,66.0L1500.4,61.9L1504.9,62.4L1516.8,61.9L1528.7,60.2L1538.8,61.1L1543.1,62.4L1540.5,58.5L1543.9,54.3L1550.7,54.3L1549.8,63.6L1554.1,61.8L1552.4,56.9L1562.5,55.2L1566.8,56.9L1574.4,52.6L1596.4,46.7L1604.9,46.7L1618.5,52.6L1630.3,54.3L1643.9,55.2L1649.0,57.7L1664.2,55.2L1681.2,56.9L1698.1,59.4L1715.0,59.4L1732.0,61.1L1748.9,66.2L1732.0,67.9L1728.6,72.1L1718.4,74.6L1704.9,76.3L1703.2,83.1L1698.1,88.2L1692.2,91.6L1691.3,80.6L1689.6,77.7L1681.2,77.2L1669.3,77.5L1659.1,86.5L1665.9,89.0L1666.7,95.0L1664.2,96.7L1655.7,104.3L1649.0,106.0L1646.4,109.4L1643.9,112.8L1646.1,115.3L1645.6,118.4L1641.3,119.5L1640.8,115.3L1637.9,111.1L1632.9,108.9L1632.0,111.1L1626.9,111.6L1626.6,113.1L1628.6,115.0L1634.6,114.6L1630.3,117.0L1629.5,118.7L1631.7,123.8L1633.7,126.3L1632.0,130.6L1629.5,134.8L1624.4,139.0L1619.3,140.4L1614.2,142.4L1612.5,141.6L1608.3,141.6L1606.6,144.1L1606.1,146.1L1607.4,148.3L1611.3,151.7L1612.2,157.7L1608.3,160.2L1604.9,163.4L1604.6,160.2L1601.5,159.4L1597.3,155.1L1595.1,161.1L1597.1,166.1L1600.7,171.2L1602.4,175.5L1598.6,173.3L1596.9,168.7L1593.6,164.4L1593.9,159.4L1592.2,150.0L1587.1,150.9L1586.3,145.8L1583.4,142.4L1582.0,139.9L1577.8,141.1L1573.9,143.3L1571.0,145.0L1566.4,149.9L1562.9,155.1L1562.2,160.5L1558.3,164.4L1556.6,161.9L1553.7,156.3L1551.4,150.9L1550.3,145.8L1550.0,141.6L1545.9,142.4L1543.1,138.2L1539.7,135.0L1531.4,135.3L1524.1,134.3L1522.4,131.9L1514.1,130.6L1509.5,127.2L1508.2,128.2L1511.9,133.1L1514.4,136.8L1522.4,133.6L1526.3,138.0L1528.3,139.9L1524.9,145.8L1521.0,148.3L1515.1,151.2L1509.3,154.3L1503.2,156.0L1500.4,156.3L1499.2,151.7L1495.6,143.3L1493.1,140.7L1490.0,135.6L1486.3,130.6L1486.1,128.0L1485.4,124.6L1487.1,119.5L1488.0,116.2L1478.7,116.5L1472.7,114.5L1471.9,110.2L1476.1,108.5L1474.4,108.0L1471.0,108.9L1466.0,109.4L1466.0,114.5L1463.4,115.3L1460.0,108.5L1459.7,106.8L1454.1,104.3L1450.2,100.6L1447.8,102.6L1454.1,107.7L1458.3,109.9L1454.1,113.6L1453.4,110.2L1447.3,106.8L1443.9,103.4L1438.9,104.3L1432.1,106.0L1432.1,107.3L1427.0,110.6L1426.1,113.6L1423.6,115.6L1417.7,117.0L1412.1,115.3ZM1417.0,117.3L1423.6,118.5L1432.1,115.6L1444.4,114.8L1445.6,122.1L1453.3,123.8L1460.0,126.3L1460.9,123.8L1466.0,122.9L1477.7,125.1L1481.7,125.0L1482.2,127.3L1484.6,131.4L1487.5,137.5L1490.5,146.7L1493.9,151.7L1500.4,156.8L1501.5,160.2L1513.7,158.0L1513.1,161.9L1508.3,170.4L1500.7,178.0L1494.8,183.9L1493.1,189.0L1495.6,195.8L1495.6,203.4L1489.7,208.5L1486.8,216.1L1482.1,222.1L1479.5,228.0L1472.7,235.1L1464.3,235.6L1458.3,236.1L1457.5,231.4L1452.4,222.9L1451.6,216.1L1447.0,207.7L1449.9,197.5L1447.7,188.2L1442.9,179.0L1443.6,172.1L1441.4,170.4L1436.3,170.9L1432.1,167.3L1425.3,169.5L1419.4,169.2L1414.3,170.5L1407.5,166.1L1404.1,161.9L1399.0,156.8L1397.3,153.1L1399.9,146.7L1398.2,142.4L1399.9,137.8L1405.0,130.7L1410.6,127.2L1415.5,120.4ZM1619.3,215.3L1620.2,222.1L1621.8,228.8L1621.8,235.6L1626.9,237.3L1636.3,235.4L1645.6,231.5L1654.0,233.1L1660.0,238.2L1664.2,242.0L1674.4,244.1L1681.2,241.5L1686.7,232.2L1687.1,225.4L1682.8,217.8L1674.4,210.2L1673.2,203.4L1668.4,196.1L1666.7,203.4L1665.4,207.7L1660.0,205.1L1658.8,198.3L1651.5,197.1L1647.3,200.0L1642.2,201.7L1639.6,202.6L1633.7,208.5L1628.6,211.9L1621.8,214.4ZM1672.7,247.1L1678.3,247.5L1676.9,251.4L1673.5,250.0ZM1648.8,120.4L1651.5,118.0L1656.6,117.5L1660.0,115.5L1664.2,112.8L1664.2,109.4L1666.7,108.0L1667.6,111.1L1665.9,115.3L1665.2,117.8L1662.5,119.0L1659.1,119.4L1655.7,121.1L1650.7,120.7ZM1664.2,106.8L1666.7,101.1L1673.5,104.6L1669.3,106.8ZM1646.9,121.2L1649.8,120.4L1649.8,124.6L1647.8,125.0ZM1667.6,100.1L1670.1,94.1L1668.4,86.0L1667.6,91.6ZM1416.8,93.3L1429.5,91.6L1429.9,88.5L1426.1,85.7L1423.6,80.2L1421.9,78.7L1418.5,78.7L1417.3,83.1L1421.9,86.5L1419.0,88.2L1418.5,90.6ZM1416.8,87.9L1416.1,89.6L1410.0,90.4L1410.0,86.5L1413.4,84.3L1417.2,85.5ZM1386.3,67.0L1389.7,65.5L1401.6,65.3L1404.1,67.5L1396.5,70.6L1388.9,69.9ZM1510.5,198.3L1512.6,204.3L1507.5,220.2L1503.2,221.2L1500.4,215.3L1502.1,206.0L1506.6,204.3ZM1588.5,168.5L1593.0,171.2L1602.9,179.7L1606.6,187.8L1603.2,187.5L1596.9,181.4L1592.2,174.6ZM1611.7,175.5L1615.1,175.5L1625.2,166.1L1628.6,169.5L1626.1,176.3L1623.5,184.8L1614.2,183.1ZM1604.9,189.5L1621.0,191.2L1613.4,191.2L1606.6,189.9ZM1629.5,187.3L1631.2,176.3L1638.8,175.5L1632.0,179.7L1635.4,184.8L1632.0,186.5ZM1649.0,179.7L1660.8,180.5L1676.1,188.2L1682.0,195.8L1665.9,193.2L1660.8,191.6L1655.7,184.8ZM1630.3,146.7L1633.7,146.7L1637.1,156.0L1641.3,166.1L1638.8,167.8L1633.7,166.1L1630.3,154.3ZM1719.6,236.3L1729.4,241.5L1723.5,248.3L1720.1,244.9ZM1719.3,246.6L1721.8,248.3L1716.7,253.4L1711.7,256.8L1709.1,255.1L1715.0,249.2ZM1562.5,161.4L1565.6,165.3L1563.4,167.8L1562.2,164.4ZM1631.2,135.6L1633.7,135.6L1632.0,140.7ZM1445.6,45.0L1460.9,41.6L1472.7,42.4L1464.3,46.7L1454.1,48.4ZM1515.1,57.7L1520.2,53.5L1528.7,48.4L1542.2,47.5L1523.6,51.8L1523.6,58.5ZM1588.0,44.1L1596.4,40.8L1604.9,44.1ZM1659.1,50.9L1667.6,49.2L1677.8,50.1L1664.2,52.6ZM1138.9,70.4L1142.3,70.4L1140.6,71.3Z" fill="#fff" stroke="#BDBDBD" stroke-width="1" stroke-linejoin="round"/><path d="M1122.0,322.0L1122.0,310.2L1147.4,311.0L1172.8,308.5L1189.8,305.1L1223.7,303.4L1257.6,301.7L1291.4,301.7L1299.9,296.6L1320.2,286.4L1330.4,285.3L1325.3,293.2L1321.9,300.0L1325.3,305.1L1350.7,310.2L1367.7,309.3L1379.5,306.8L1401.6,300.0L1427.0,296.6L1452.4,296.6L1477.8,295.8L1494.8,294.1L1520.2,290.7L1545.6,293.2L1554.1,295.8L1571.0,290.7L1596.4,289.8L1621.8,290.7L1655.7,289.8L1681.2,294.1L1706.6,297.5L1715.0,300.0L1706.6,309.3L1732.0,311.0L1732.0,322.0Z" fill="#fff"/><path d="M1122.0,311.9L1147.4,311.0L1172.8,308.5L1189.8,305.1L1223.7,303.4L1257.6,301.7L1291.4,301.7L1299.9,296.6L1320.2,286.4L1330.4,285.3L1325.3,293.2L1321.9,300.0L1325.3,305.1L1350.7,310.2L1367.7,309.3L1379.5,306.8L1401.6,300.0L1427.0,296.6L1452.4,296.6L1477.8,295.8L1494.8,294.1L1520.2,290.7L1545.6,293.2L1554.1,295.8L1571.0,290.7L1596.4,289.8L1621.8,290.7L1655.7,289.8L1681.2,294.1L1706.6,297.5L1715.0,300.0L1706.6,309.3L1732.0,312.7M1122.0,322.0L1732.0,322.0" fill="none" stroke="#BDBDBD" stroke-width="1"/><path d="M1473.6,106.8L1476.1,108.2L1482.9,106.8L1488.0,107.7L1497.3,107.7L1494.8,104.3L1490.5,101.8L1482.9,100.1L1478.7,99.2L1475.8,102.6ZM1506.6,102.6L1508.3,99.2L1516.8,98.4L1516.8,101.8L1513.4,102.6L1516.8,106.8L1518.5,109.4L1518.5,115.0L1513.4,115.6L1510.0,114.3L1510.9,109.7L1509.2,107.2ZM1271.1,99.2L1277.9,95.8L1283.8,99.2L1277.9,106.8L1288.1,106.0L1291.4,104.3L1296.5,103.4Z" fill="#EEF6FE" stroke="#BDBDBD" stroke-width="1" stroke-linejoin="round"/><path d="M1188.1,60.1L1188.1,75.8L1194.9,78.0L1201.6,83.1L1206.7,84.8M1218.6,95.0L1266.0,95.0L1276.2,96.7L1283.8,99.2L1287.2,106.8L1293.1,104.8L1299.9,101.8L1306.7,101.8L1312.1,98.4L1313.5,101.8M1228.6,122.9L1238.9,125.0L1243.7,125.0L1246.5,124.1L1249.9,128.0L1252.5,128.9L1255.9,127.5L1258.4,131.4L1262.3,134.1M1271.1,153.4L1272.0,148.3L1276.2,147.8L1276.2,150.9M1275.3,154.4L1277.9,151.7L1284.7,152.6L1286.4,156.0M1282.1,159.4L1284.7,160.2L1286.4,163.6L1291.4,164.4L1296.0,164.4M1305.0,157.7L1305.0,164.4L1312.6,167.8L1312.6,174.6L1308.4,176.3L1309.2,179.7L1308.4,184.8L1303.3,181.4L1299.9,178.0L1293.5,175.5M1312.6,167.8L1323.6,168.7L1325.3,163.6M1323.6,168.7L1328.7,171.2L1332.1,174.6L1338.9,174.1L1339.7,170.9M1299.9,178.0L1291.1,183.9M1308.4,184.8L1303.3,193.2L1307.5,196.6L1310.1,200.0L1310.1,206.8L1307.9,209.0M1310.1,196.6L1316.9,194.9L1325.3,200.9L1328.7,206.0L1328.7,211.9L1321.9,215.3L1316.9,215.3L1312.6,216.6L1310.1,208.5M1328.7,211.9L1334.6,217.8L1333.8,224.6L1327.9,224.3L1321.9,215.3M1334.6,221.2L1336.3,223.7L1329.6,229.3L1336.3,235.3M1327.9,224.3L1327.9,235.6M1312.6,216.6L1310.9,223.7L1308.4,233.9L1306.7,245.8L1305.8,254.2L1304.1,262.7L1310.1,266.1M1412.3,131.1L1412.3,133.9L1406.7,133.9L1406.7,141.9L1398.2,141.9M1412.3,131.1L1418.5,135.6L1433.8,145.8L1437.2,145.0L1446.5,138.2L1450.7,139.9L1452.4,139.0M1418.5,135.6L1417.7,150.9L1406.7,153.4L1406.7,156.0L1398.7,156.8M1423.6,118.7L1424.5,123.8L1418.5,127.2L1412.3,129.4M1441.4,115.3L1439.7,120.4L1443.1,127.2L1443.9,135.6L1446.5,138.2M1446.6,122.1L1443.9,126.3M1469.4,124.3L1469.4,140.7L1467.7,144.1L1467.7,163.6M1452.4,139.0L1454.1,144.1L1453.3,155.1L1450.7,157.7L1452.4,162.8L1451.6,166.1L1454.1,165.3L1464.3,159.4L1466.8,163.6L1467.7,163.6M1433.8,145.8L1433.8,155.1L1427.0,159.4L1422.2,161.9L1422.8,169.5M1433.8,155.1L1432.9,158.5L1432.1,167.0M1447.3,155.1L1450.7,157.7M1432.9,158.5L1440.5,156.0L1447.3,155.1M1441.4,170.4L1443.9,166.1L1449.9,160.2L1451.6,166.1M1443.6,174.1L1446.1,174.3L1454.1,174.6L1454.1,172.1L1458.3,171.2L1465.1,170.4L1472.7,169.5L1479.5,171.7L1484.6,170.4L1487.8,170.2M1454.1,174.6L1456.6,179.7L1454.1,184.8L1447.7,188.2M1467.7,163.6L1473.6,161.9L1482.9,161.1L1484.6,163.6L1484.6,170.4M1482.9,140.7L1489.5,140.7M1488.0,152.6L1488.8,153.8L1491.4,156.8L1494.8,153.4L1499.0,156.8M1488.8,153.8L1486.3,157.7L1484.6,163.6M1487.8,170.2L1491.4,171.7L1496.5,171.2L1497.8,171.4L1499.9,170.0L1502.4,169.7L1508.3,164.4L1508.3,159.0M1496.5,171.2L1496.5,180.9M1484.6,170.4L1484.6,176.3L1484.6,179.7L1490.5,183.9L1493.4,186.0M1477.8,179.7L1484.6,179.7M1476.1,180.5L1477.0,185.6L1478.7,191.9L1482.9,194.1L1486.3,197.5L1495.4,195.8M1482.9,194.1L1482.9,201.7L1477.8,204.3L1470.2,208.5L1466.0,208.2L1464.3,200.0L1467.7,196.6L1474.4,198.3L1478.7,191.9M1447.3,187.3L1449.0,186.5L1454.1,188.2L1456.6,191.6L1464.3,189.9L1467.7,196.6M1464.3,200.0L1464.3,208.2L1460.9,208.5L1447.0,207.3M1460.9,208.5L1460.9,215.3L1460.9,219.9L1460.9,226.3L1455.8,226.3M1460.9,215.3L1467.7,221.2L1472.7,218.7L1477.0,215.6L1481.2,215.3L1480.9,222.1M1470.2,208.5L1477.0,215.6M1481.2,215.3L1482.1,205.1L1486.3,197.5M1477.8,100.9L1480.4,99.2M1487.1,116.2L1498.7,115.1L1502.9,110.7L1500.7,108.2L1494.8,104.3M1488.0,122.1L1493.1,123.8L1498.2,125.5L1505.8,128.9L1508.3,127.2M1491.4,127.2L1486.3,128.0M1501.5,115.3L1504.9,118.7L1508.3,126.3M1502.9,110.7L1508.3,111.9L1510.0,112.8M1501.5,109.4L1503.2,108.0L1506.1,108.2M1494.8,104.3L1507.5,107.7M1488.8,128.0L1490.5,126.3L1493.1,123.8L1493.9,128.4M1500.4,156.3L1501.5,150.0L1505.8,148.7L1515.1,145.8L1516.8,149.2M1513.4,136.5L1521.0,139.5L1522.4,134.3M1518.2,114.8L1523.6,113.6L1530.4,116.0L1530.4,118.7L1530.4,124.6L1533.7,128.0L1531.5,135.3M1530.4,116.0L1537.1,114.5L1545.6,114.5L1553.2,115.0M1530.4,124.6L1533.7,128.0L1539.7,127.3L1544.8,124.6L1547.3,120.4L1553.2,115.0M1532.0,134.8L1543.9,137.3M1542.2,137.8L1547.3,130.6L1552.4,126.3L1554.1,122.1L1557.5,117.8L1562.5,122.9L1564.2,127.2L1569.3,131.4L1576.1,130.9L1576.4,133.1L1582.9,132.3L1591.3,130.2L1592.2,135.6L1586.6,137.3L1583.7,140.7M1576.4,133.1L1577.8,140.7M1583.7,142.1L1584.6,136.5M1592.2,135.6L1593.9,140.7L1598.1,141.6L1596.4,147.5L1593.9,150.0M1598.1,141.6L1599.8,139.9L1607.4,139.9L1610.0,141.6M1599.8,139.9L1604.9,147.5L1607.4,149.2M1596.4,147.5L1603.2,147.8L1605.8,153.4L1601.5,154.3L1599.8,156.5M1516.8,106.8L1521.0,108.0L1521.9,101.8L1530.4,102.6L1538.8,105.1L1538.8,107.7L1543.9,108.5L1547.3,106.0L1551.5,106.0L1562.5,106.0L1563.4,101.8L1567.6,97.5L1571.9,98.4L1575.3,95.0M1506.3,95.0L1509.2,92.4L1515.1,90.7L1521.9,92.3L1531.2,91.9L1530.4,88.2L1537.1,85.7L1545.6,84.8L1551.5,86.5L1557.1,86.0L1562.5,91.6L1567.6,91.6L1575.3,94.6L1582.9,92.4L1593.0,89.9L1599.8,90.7L1608.3,93.3L1615.1,94.1L1623.5,93.6L1626.1,94.0L1630.3,89.0L1640.5,89.0L1643.9,94.0L1649.0,96.7L1655.7,95.8L1652.3,101.8L1648.1,106.0M1575.3,94.6L1579.5,96.8L1582.9,101.8L1589.7,105.6L1598.1,106.0L1604.9,107.7L1615.1,105.1L1616.8,101.8L1623.5,100.9L1629.5,98.4L1626.1,94.0M1553.2,115.0L1557.5,114.0L1562.5,117.8L1562.5,122.9M1637.1,110.2L1641.3,107.2L1648.1,106.0M1640.5,113.6L1644.7,112.8M1466.0,95.0L1467.7,89.9L1467.7,86.5L1472.7,83.1L1474.4,80.6L1473.6,77.5M1450.7,86.5L1452.4,91.6L1450.7,95.0L1455.8,96.7L1465.1,96.7M1465.1,96.7L1467.7,96.7L1476.1,97.5L1474.4,100.9M1440.5,95.0L1437.2,99.2L1438.9,103.4M1423.9,104.5L1432.1,106.0M1415.1,106.8L1414.3,115.0M1447.3,78.0L1450.7,71.3L1455.8,62.8L1460.9,61.1M1467.7,66.2L1467.7,62.8L1460.9,61.1M1477.8,76.3L1477.8,59.4M1437.2,90.7L1438.9,87.3M1431.2,91.6L1437.2,93.3M1443.1,97.5L1449.0,97.5L1454.9,99.2L1459.2,100.1L1464.3,97.5M1452.4,100.9L1459.2,101.8L1465.1,103.1L1475.3,103.8M1459.2,106.8L1462.6,109.4L1465.1,108.5L1471.0,107.7" fill="none" stroke="#BDBDBD" stroke-width="0.9" stroke-linejoin="round"/><path d="M1237.7,77.4L1237.70,66.60A10.8,10.8 0 0 1 1237.70,88.20Z" fill="#4DAF4A"/><path d="M1237.7,77.4L1237.70,88.20A10.8,10.8 0 0 1 1237.70,66.60Z" fill="#D9D9D9"/><circle cx="1257.9" cy="111.7" r="27.8" fill="#4DAF4A"/><circle cx="1304.9" cy="229.9" r="6.9" fill="#984EA3"/><circle cx="1317.2" cy="238.9" r="6.9" fill="#4DAF4A"/><circle cx="1332.6" cy="234.1" r="6.9" fill="#4DAF4A"/><circle cx="1600.3" cy="119.9" r="20.4" fill="#4DAF4A"/><path d="M1491.3,178.1L1491.30,167.80A10.3,10.3 0 0 1 1491.30,188.40Z" fill="#FDBF6F"/><path d="M1491.3,178.1L1491.30,188.40A10.3,10.3 0 0 1 1491.30,167.80Z" fill="#D9D9D9"/><circle cx="1470.6" cy="227.9" r="7" fill="#D9D9D9"/><circle cx="1629.5" cy="184.3" r="6.6" fill="#D9D9D9"/></g><rect x="1091.5" y="23.4" width="690" height="314.6" fill="none" stroke="#666" stroke-width="1.3"/><line x1="94.4" y1="725.9" x2="107.3" y2="725.9" stroke="#333" stroke-width="1.5"/><text x="83" y="735.4" font-size="26.4" text-anchor="end" fill="#000">30</text><line x1="94.4" y1="555.2" x2="107.3" y2="555.2" stroke="#333" stroke-width="1.5"/><text x="83" y="564.7" font-size="26.4" text-anchor="end" fill="#000">40</text><line x1="94.4" y1="384.5" x2="107.3" y2="384.5" stroke="#333" stroke-width="1.5"/><text x="83" y="394" font-size="26.4" text-anchor="end" fill="#000">50</text><line x1="94.4" y1="213.8" x2="107.3" y2="213.8" stroke="#333" stroke-width="1.5"/><text x="83" y="223.3" font-size="26.4" text-anchor="end" fill="#000">60</text><line x1="94.4" y1="43.1" x2="107.3" y2="43.1" stroke="#333" stroke-width="1.5"/><text x="83" y="52.6" font-size="26.4" text-anchor="end" fill="#000">70</text><line x1="354.6" y1="850.5" x2="354.6" y2="862.5" stroke="#333" stroke-width="1.5"/><text x="354.6" y="893.5" font-size="26.4" text-anchor="middle" fill="#000">0</text><line x1="696" y1="850.5" x2="696" y2="862.5" stroke="#333" stroke-width="1.5"/><text x="696" y="893.5" font-size="26.4" text-anchor="middle" fill="#000">20</text><line x1="1037.4" y1="850.5" x2="1037.4" y2="862.5" stroke="#333" stroke-width="1.5"/><text x="1037.4" y="893.5" font-size="26.4" text-anchor="middle" fill="#000">40</text><line x1="1378.8" y1="850.5" x2="1378.8" y2="862.5" stroke="#333" stroke-width="1.5"/><text x="1378.8" y="893.5" font-size="26.4" text-anchor="middle" fill="#000">60</text><line x1="1720.2" y1="850.5" x2="1720.2" y2="862.5" stroke="#333" stroke-width="1.5"/><text x="1720.2" y="893.5" font-size="26.4" text-anchor="middle" fill="#000">80</text><text x="952" y="927" font-size="26.2" text-anchor="middle" fill="#000">Longitude (°E)</text><text x="0" y="0" font-size="26.2" text-anchor="middle" transform="translate(35,428) rotate(-90)">Latitude (°N)</text><text x="11" y="17" font-size="33" text-anchor="start" fill="#000" font-weight="bold">a</text><rect x="1871.9" y="190.8" width="44.8" height="19.2" fill="#4DAF4A"/><text x="1928.3" y="209.4" font-size="26.3" text-anchor="start" fill="#000" font-style="italic">L. sativa</text><rect x="1871.9" y="226.2" width="44.8" height="19.2" fill="#FDBF6F"/><text x="1928.3" y="244.8" font-size="26.3" text-anchor="start" fill="#000" font-style="italic">L. serriola</text><rect x="1871.9" y="261.6" width="44.8" height="19.2" fill="#4BB8D6"/><text x="1928.3" y="280.2" font-size="26.3" text-anchor="start" fill="#000" font-style="italic">L. saligna</text><rect x="1871.9" y="297" width="44.8" height="19.2" fill="#984EA3"/><text x="1928.3" y="315.6" font-size="26.3" text-anchor="start" fill="#000" font-style="italic">L. virosa</text><rect x="1871.9" y="332.4" width="44.8" height="19.2" fill="#D9D9D9"/><text x="1928.3" y="351" font-size="26.3" text-anchor="start" fill="#000">Other</text><text x="1928.3" y="482.3" font-size="26.2" text-anchor="middle" fill="#000">Sample number</text><circle cx="1904.9" cy="516.3" r="6" fill="none" stroke="#000" stroke-width="1.8"/><text x="1970" y="530.6" font-size="26.5" text-anchor="middle" fill="#000">1</text><circle cx="1904.9" cy="556.6" r="22" fill="none" stroke="#000" stroke-width="1.8"/><text x="1970" y="566.2" font-size="26.5" text-anchor="middle" fill="#000">5</text><circle cx="1904.9" cy="629" r="37" fill="none" stroke="#000" stroke-width="1.8"/><text x="1970" y="636.4" font-size="26.5" text-anchor="middle" fill="#000">20</text><path d="M17.8,1427.6L17.8,1544.7M17.8,1544.7L54.3,1544.7M17.8,1427.6L55.1,1427.6M55.1,1355.5L55.1,1499.3M55.1,1499.3L127.2,1499.3M55.1,1355.5L58.5,1355.5M58.5,1280.4L58.5,1431.9M58.5,1431.9L334.6,1431.9M334.6,1409L334.6,1454.3M334.6,1409L406.3,1409M334.6,1454.3L406.3,1454.3M58.5,1280.4L194.2,1280.4M194.2,1219.8L194.2,1340.7M194.2,1340.7L247.2,1340.7M247.2,1317.8L247.2,1363.6M247.2,1317.8L320.2,1317.8M247.2,1363.6L320.2,1363.6M194.2,1219.8L227.7,1219.8M227.7,1166.8L227.7,1272.4M227.7,1272.4L299.8,1272.4M227.7,1166.8L345.6,1166.8M345.6,1107.4L345.6,1227M345.6,1227L417.7,1227M345.6,1107.4L383,1107.4M383,1057L383,1159.6M383,1159.6L385,1159.6M385,1136.7L385,1182M385,1136.7L458,1136.7M385,1182L458,1182M384.2,1136.7L384.2,1159.6M383,1057L408,1057M408,1022.6L408,1091.3M408,1091.3L482.6,1091.3M408,1022.6L426.2,1022.6M426.2,999.7L426.2,1045.5M426.2,999.7L499.6,999.7M426.2,1045.5L499.6,1045.5" stroke="#000" stroke-width="1.9" fill="none" stroke-linecap="square"/><text x="506.8" y="1008.2" font-size="24.1" text-anchor="start" fill="#000" font-style="italic">L. sagittata</text><text x="506.8" y="1054" font-size="24.1" text-anchor="start" fill="#000" font-style="italic">L. dregeana</text><text x="489" y="1099.8" font-size="24.1" text-anchor="start" fill="#000" font-style="italic">L. sativa</text><text x="465.6" y="1145.2" font-size="24.1" text-anchor="start" fill="#000" font-style="italic">L. serriola</text><text x="465.6" y="1190.5" font-size="24.1" text-anchor="start" fill="#000" font-style="italic">L. altaica</text><text x="425.4" y="1235.5" font-size="24.1" text-anchor="start" fill="#000" font-style="italic">L. aculeata</text><text x="307.5" y="1280.9" font-size="24.1" text-anchor="start" fill="#000" font-style="italic">L. saligna</text><text x="327.8" y="1326.3" font-size="24.1" text-anchor="start" fill="#000" font-style="italic">L. virosa</text><text x="327.8" y="1372.1" font-size="24.1" text-anchor="start" fill="#000" font-style="italic">L. georgica</text><text x="414.8" y="1417.5" font-size="24.1" text-anchor="start" fill="#000" font-style="italic">L. indica</text><text x="414.8" y="1462.8" font-size="24.1" text-anchor="start" fill="#000" font-style="italic">L. homblei</text><text x="134.9" y="1507.8" font-size="24.1" text-anchor="start" fill="#000" font-style="italic">L. palmensis</text><text x="61.5" y="1553.2" font-size="24.1" text-anchor="start" fill="#000" font-style="italic">H. annuus</text><text x="395.7" y="1163.8" font-size="24.1" text-anchor="start" fill="#000">0.75</text><path d="M645.5,1034L658.6,1034L658.6,1235L645.5,1235M645.5,1264.3L658.6,1264.3L658.6,1281.3L645.5,1281.3M645.5,1309.3L658.6,1309.3L658.6,1326.7L645.5,1326.7" stroke="#000" stroke-width="2" fill="none"/><text x="665.8" y="1143.9" font-size="24" text-anchor="start" fill="#000">GP1</text><text x="665.8" y="1280.4" font-size="24" text-anchor="start" fill="#000">GP2</text><text x="665.8" y="1325.8" font-size="24" text-anchor="start" fill="#000">GP3</text><rect x="578.9" y="1518" width="73.3" height="7.6" fill="#000"/><text x="619.4" y="1552.7" font-size="24.5" text-anchor="middle" fill="#000">Tree scale: 1.0</text><text x="12" y="996" font-size="33" text-anchor="start" fill="#000" font-weight="bold">b</text><rect x="886.5" y="986.8" width="514" height="545" fill="none" stroke="#333" stroke-width="1.5"/><line x1="875.5" y1="1027.8" x2="886.5" y2="1027.8" stroke="#333" stroke-width="1.5"/><text x="864.5" y="1037.3" font-size="26.5" text-anchor="end" fill="#000">0.05</text><line x1="875.5" y1="1148.1" x2="886.5" y2="1148.1" stroke="#333" stroke-width="1.5"/><text x="864.5" y="1157.6" font-size="26.5" text-anchor="end" fill="#000">0</text><line x1="875.5" y1="1268.8" x2="886.5" y2="1268.8" stroke="#333" stroke-width="1.5"/><text x="864.5" y="1278.3" font-size="26.5" text-anchor="end" fill="#000">−0.05</text><line x1="875.5" y1="1389.5" x2="886.5" y2="1389.5" stroke="#333" stroke-width="1.5"/><text x="864.5" y="1399" font-size="26.5" text-anchor="end" fill="#000">−0.10</text><line x1="875.5" y1="1510.2" x2="886.5" y2="1510.2" stroke="#333" stroke-width="1.5"/><text x="864.5" y="1519.7" font-size="26.5" text-anchor="end" fill="#000">−0.15</text><line x1="896.7" y1="1531.8" x2="896.7" y2="1542.3" stroke="#333" stroke-width="1.5"/><text x="896.7" y="1573" font-size="26.5" text-anchor="middle" fill="#000">−0.12</text><line x1="1028.4" y1="1531.8" x2="1028.4" y2="1542.3" stroke="#333" stroke-width="1.5"/><text x="1028.4" y="1573" font-size="26.5" text-anchor="middle" fill="#000">−0.08</text><line x1="1159.7" y1="1531.8" x2="1159.7" y2="1542.3" stroke="#333" stroke-width="1.5"/><text x="1159.7" y="1573" font-size="26.5" text-anchor="middle" fill="#000">−0.04</text><line x1="1291" y1="1531.8" x2="1291" y2="1542.3" stroke="#333" stroke-width="1.5"/><text x="1291" y="1573" font-size="26.5" text-anchor="middle" fill="#000">0</text><text x="1143" y="1612.2" font-size="26.1" text-anchor="middle" fill="#000">PC1 (37.01% of variance)</text><text x="0" y="0" font-size="26.1" text-anchor="middle" transform="translate(783.5,1259.3) rotate(-90)">PC2 (22.09% of variance)</text><text x="768" y="993.6" font-size="33" text-anchor="start" fill="#000" font-weight="bold">c</text><circle cx="911.8" cy="1011.8" r="13.4" fill="#4BB8D6" fill-opacity="0.9"/><circle cx="916.3" cy="1020.5" r="13.4" fill="#4BB8D6" fill-opacity="0.9"/><circle cx="922.5" cy="1014.5" r="13.4" fill="#4BB8D6" fill-opacity="0.9"/><circle cx="927" cy="1022.5" r="13.4" fill="#4BB8D6" fill-opacity="0.85"/><circle cx="931.2" cy="1019.8" r="13.4" fill="#4BB8D6" fill-opacity="0.8"/><circle cx="933.5" cy="1020.5" r="13.4" fill="#4BB8D6" fill-opacity="0.45"/><circle cx="928" cy="1024" r="13.4" fill="#4BB8D6" fill-opacity="0.5"/><text x="948.7" y="1053.2" font-size="26.3" text-anchor="start" fill="#4AB6D3" font-style="italic">L. saligna</text><rect x="1152.9" y="1335.2" width="25.1" height="24.5" fill="#C9A5D1"/><path d="M1161.9,1331.3L1145.1,1360.8L1179.2,1360.8Z" fill="none" stroke="#D27CAE" stroke-opacity=".5" stroke-width="2.6"/><path d="M1170.5,1323.4L1154,1353L1187.5,1353Z" fill="none" stroke="#D27CAE" stroke-opacity=".5" stroke-width="2.6"/><path d="M1167.4,1326.8L1149.6,1356.1L1184.7,1356.1Z" fill="none" stroke="#D27CAE" stroke-width="2.8"/><text x="999.2" y="1325.7" font-size="26.3" text-anchor="start" fill="#D27CAE" font-style="italic">L. georgica</text><rect x="1117" y="1471.6" width="25" height="25" fill="#984EA3" fill-opacity=".75"/><rect x="1113" y="1477" width="27" height="24" fill="#984EA3"/><path d="M1108,1493.7L1111,1490L1139,1490L1138.5,1514L1134,1519.7L1108,1519.7Z" fill="#984EA3"/><text x="983.3" y="1483.2" font-size="26.3" text-anchor="start" fill="#984EA3" font-style="italic">L. virosa</text><path d="M1336.2,1145.9L1353,1117L1366,1109L1377.2,1104.8L1394,1134.3L1380,1143L1370,1146Z" fill="#FDB863"/><circle cx="1377.2" cy="1124.8" r="12.3" fill="#8FCFB9" fill-opacity=".8"/><circle cx="1355.4" cy="1134.6" r="12" fill="none" stroke="#8190B6" stroke-width="1.6" stroke-opacity=".7"/><circle cx="1362" cy="1133.5" r="9" fill="#4DAF4A" fill-opacity=".75"/><path d="M1350,1121L1376,1146M1376,1121L1350,1146" stroke="#7C5C44" stroke-width="1.6" stroke-opacity=".7"/><path d="M1344.5,1132.8L1382.3,1132.8M1363.4,1114L1363.4,1151.7" stroke="#8ECFBB" stroke-width="1.6" stroke-opacity=".8"/><path d="M1319.4,1135.3L1331.8,1147.7L1319.4,1160.1L1307,1147.7Z" fill="#6B7DA8"/><rect x="1283.1" y="1099.2" width="112.9" height="62.8" fill="none" stroke="#000" stroke-width="2"/><text x="1292" y="1129.2" font-size="25.5" text-anchor="start" fill="#000">GP1</text><line x1="1396" y1="1099.2" x2="1537.8" y2="998.9" stroke="#000" stroke-width="2"/><line x1="1396" y1="1162" x2="1537.8" y2="1517.5" stroke="#000" stroke-width="2"/><rect x="1537.8" y="987" width="503.3" height="544.3" fill="none" stroke="#333" stroke-width="1.5"/><line x1="1528.1" y1="998.9" x2="1537.8" y2="998.9" stroke="#333" stroke-width="1.5"/><text x="1515.5" y="1008.4" font-size="26.5" text-anchor="end" fill="#000">0.010</text><line x1="1528.1" y1="1258.4" x2="1537.8" y2="1258.4" stroke="#333" stroke-width="1.5"/><text x="1515.5" y="1267.9" font-size="26.5" text-anchor="end" fill="#000">0.005</text><line x1="1528.1" y1="1517.5" x2="1537.8" y2="1517.5" stroke="#333" stroke-width="1.5"/><text x="1515.5" y="1527" font-size="26.5" text-anchor="end" fill="#000">0</text><line x1="1597.9" y1="1531.3" x2="1597.9" y2="1541.3" stroke="#333" stroke-width="1.5"/><text x="1597.9" y="1574" font-size="26.5" text-anchor="middle" fill="#000">0.010</text><line x1="1727.5" y1="1531.3" x2="1727.5" y2="1541.3" stroke="#333" stroke-width="1.5"/><text x="1727.5" y="1574" font-size="26.5" text-anchor="middle" fill="#000">0.015</text><line x1="1857" y1="1531.3" x2="1857" y2="1541.3" stroke="#333" stroke-width="1.5"/><text x="1857" y="1574" font-size="26.5" text-anchor="middle" fill="#000">0.020</text><line x1="1986.6" y1="1531.3" x2="1986.6" y2="1541.3" stroke="#333" stroke-width="1.5"/><text x="1986.6" y="1574" font-size="26.5" text-anchor="middle" fill="#000">0.025</text><text x="1788.3" y="1612" font-size="26.1" text-anchor="middle" fill="#000">PC1</text><g fill="#FDB863" fill-opacity=".55"><path d="M1976.8,1059.7L1968.6,1073.8L1984.9,1073.8Z"/><path d="M1988.9,1038.5L1979.9,1054.1L1998.0,1054.1Z"/><path d="M1953.8,1080.0L1945.6,1094.2L1961.9,1094.2Z"/><path d="M1982.3,1046.2L1973.9,1060.8L1990.8,1060.8Z"/><path d="M1999.0,1029.2L1990.2,1044.5L2007.8,1044.5Z"/><path d="M2025.1,1003.9L2016.5,1018.7L2033.7,1018.7Z"/><path d="M1963.7,1070.9L1954.1,1087.6L1973.3,1087.6Z"/><path d="M1961.5,1065.1L1952.8,1080.2L1970.3,1080.2Z"/><path d="M1991.2,1037.9L1982.7,1052.4L1999.6,1052.4Z"/><path d="M1997.7,1026.9L1988.5,1042.8L2006.8,1042.8Z"/><path d="M1982.4,1049.2L1973.0,1065.5L1991.8,1065.5Z"/><path d="M1966.4,1059.2L1956.6,1076.1L1976.1,1076.1Z"/><path d="M2001.4,1030.9L1993.2,1045.2L2009.6,1045.2Z"/><path d="M1981.3,1045.7L1972.4,1061.3L1990.3,1061.3Z"/><path d="M1952.7,1073.9L1943.5,1089.7L1961.8,1089.7Z"/><path d="M2011.8,1014.0L2002.6,1029.9L2021.0,1029.9Z"/><path d="M1988.0,1034.7L1978.1,1051.8L1997.9,1051.8Z"/><path d="M1984.7,1041.5L1975.3,1057.8L1994.1,1057.8Z"/><path d="M2001.9,1028.9L1993.4,1043.7L2010.5,1043.7Z"/><path d="M1978.7,1049.6L1969.8,1065.1L1987.7,1065.1Z"/><path d="M1964.4,1068.0L1954.9,1084.5L1973.9,1084.5Z"/><path d="M1961.1,1073.2L1951.3,1090.1L1970.8,1090.1Z"/><path d="M1954.6,1075.4L1944.9,1092.3L1964.4,1092.3Z"/><path d="M2010.7,1012.9L2001.8,1028.2L2019.5,1028.2Z"/><path d="M1981.8,1048.1L1973.5,1062.5L1990.1,1062.5Z"/><path d="M1964.5,1069.5L1955.6,1085.0L1973.5,1085.0Z"/><path d="M1993.2,1033.9L1984.4,1049.2L2002.1,1049.2Z"/><path d="M1972.2,1048.0L1962.8,1064.2L1981.6,1064.2Z"/><path d="M1985.3,1037.4L1977.2,1051.5L1993.4,1051.5Z"/><path d="M2015.9,1001.3L2006.3,1017.9L2025.5,1017.9Z"/><path d="M1978.5,1050.1L1969.3,1066.1L1987.8,1066.1Z"/><path d="M1957.9,1078.2L1949.6,1092.6L1966.2,1092.6Z"/><path d="M1975.9,1054.6L1967.6,1069.0L1984.2,1069.0Z"/><path d="M1958.7,1073.1L1949.0,1089.9L1968.5,1089.9Z"/><path d="M1996.1,1033.5L1987.4,1048.6L2004.8,1048.6Z"/><path d="M1981.0,1054.8L1971.0,1072.1L1991.0,1072.1Z"/><path d="M1983.6,1044.5L1975.4,1058.7L1991.8,1058.7Z"/><path d="M1975.5,1060.0L1967.2,1074.4L1983.9,1074.4Z"/><path d="M1956.5,1079.5L1948.2,1093.9L1964.8,1093.9Z"/><path d="M1993.0,1036.7L1983.1,1053.9L2003.0,1053.9Z"/><path d="M2011.8,1009.0L2003.1,1024.1L2020.5,1024.1Z"/><path d="M1964.1,1063.7L1954.6,1080.3L1973.7,1080.3Z"/><path d="M1975.8,1059.0L1965.9,1076.2L1985.8,1076.2Z"/><path d="M2013.3,1006.0L2003.8,1022.5L2022.8,1022.5Z"/><path d="M1965.5,1063.9L1957.5,1077.8L1973.6,1077.8Z"/><path d="M1953.6,1081.3L1944.2,1097.5L1963.0,1097.5Z"/><path d="M2013.4,1004.5L2003.4,1021.7L2023.4,1021.7Z"/><path d="M2017.7,1005.6L2009.2,1020.3L2026.1,1020.3Z"/><path d="M1966.8,1068.7L1957.0,1085.7L1976.6,1085.7Z"/><path d="M2007.2,1012.7L1997.6,1029.3L2016.8,1029.3Z"/><path d="M1955.0,1068.5L1945.4,1085.1L1964.6,1085.1Z"/><path d="M2003.0,1019.8L1993.4,1036.4L2012.5,1036.4Z"/><path d="M1977.4,1047.1L1968.6,1062.3L1986.2,1062.3Z"/><path d="M1983.9,1048.0L1975.6,1062.4L1992.2,1062.4Z"/><path d="M1964.0,1075.9L1954.4,1092.5L1973.7,1092.5Z"/><path d="M1965.5,1061.9L1956.2,1078.0L1974.8,1078.0Z"/><path d="M1975.3,1053.6L1967.2,1067.5L1983.3,1067.5Z"/><path d="M2018.2,998.1L2008.3,1015.2L2028.0,1015.2Z"/><path d="M1985.6,1042.8L1977.2,1057.3L1994.0,1057.3Z"/><path d="M1969.1,1063.0L1960.0,1078.9L1978.3,1078.9Z"/><path d="M1969.0,1060.3L1959.2,1077.3L1978.8,1077.3Z"/><path d="M1973.6,1052.8L1963.8,1069.8L1983.4,1069.8Z"/><path d="M1984.0,1045.4L1974.9,1061.1L1993.1,1061.1Z"/><path d="M1991.3,1039.9L1983.0,1054.4L1999.7,1054.4Z"/><path d="M1952.7,1079.7L1943.8,1095.2L1961.7,1095.2Z"/><path d="M2000.7,1021.3L1991.6,1036.9L2009.7,1036.9Z"/><path d="M1991.1,1034.6L1982.0,1050.4L2000.3,1050.4Z"/><path d="M1968.7,1066.4L1959.7,1082.0L1977.7,1082.0Z"/><path d="M1991.7,1029.2L1982.8,1044.6L2000.6,1044.6Z"/><path d="M1991.9,1030.9L1982.5,1047.2L2001.3,1047.2Z"/><path d="M1980.9,1042.9L1971.0,1060.0L1990.8,1060.0Z"/><path d="M2005.2,1019.9L1996.7,1034.7L2013.7,1034.7Z"/><path d="M1995.7,1034.7L1987.4,1049.0L2003.9,1049.0Z"/><path d="M1959.6,1072.7L1951.1,1087.4L1968.1,1087.4Z"/><path d="M1955.0,1070.2L1945.2,1087.2L1964.8,1087.2Z"/><path d="M1962.0,1065.6L1953.7,1079.9L1970.3,1079.9Z"/><path d="M2015.5,1007.9L2005.6,1025.0L2025.4,1025.0Z"/><path d="M1972.3,1049.0L1962.7,1065.8L1982.0,1065.8Z"/><path d="M1960.6,1070.3L1951.9,1085.4L1969.2,1085.4Z"/><path d="M1964.0,1071.1L1956.0,1085.0L1972.1,1085.0Z"/><path d="M1990.3,1036.9L1981.7,1051.9L1999.0,1051.9Z"/><path d="M1994.8,1029.4L1984.8,1046.6L2004.7,1046.6Z"/><path d="M2008.3,1017.4L1999.8,1032.1L2016.9,1032.1Z"/><path d="M1955.1,1077.0L1946.9,1091.3L1963.4,1091.3Z"/><path d="M1985.5,1044.7L1977.0,1059.5L1994.0,1059.5Z"/><path d="M1965.3,1067.1L1955.9,1083.4L1974.7,1083.4Z"/><path d="M1961.8,1076.2L1953.0,1091.5L1970.7,1091.5Z"/><path d="M1960.4,1073.5L1950.7,1090.1L1970.0,1090.1Z"/><path d="M1958.4,1073.1L1948.7,1090.0L1968.2,1090.0Z"/><path d="M1982.1,1046.8L1972.2,1063.8L1991.9,1063.8Z"/><path d="M1972.9,1063.0L1964.4,1077.7L1981.3,1077.7Z"/><path d="M1960.1,1074.2L1951.7,1088.8L1968.5,1088.8Z"/><path d="M1972.4,1061.4L1963.8,1076.2L1981.0,1076.2Z"/><path d="M1988.0,1044.3L1980.0,1058.2L1996.1,1058.2Z"/><path d="M1973.6,1061.5L1964.5,1077.3L1982.7,1077.3Z"/><path d="M1959.5,1068.2L1951.3,1082.4L1967.7,1082.4Z"/><path d="M2006.7,1015.2L1997.0,1032.0L2016.3,1032.0Z"/><path d="M1975.7,1048.2L1965.7,1065.4L1985.7,1065.4Z"/><path d="M1977.9,1049.2L1968.7,1065.3L1987.2,1065.3Z"/><path d="M1979.8,1050.2L1971.6,1064.5L1988.1,1064.5Z"/><path d="M1956.8,1074.4L1948.5,1088.8L1965.2,1088.8Z"/><path d="M1960.7,1069.3L1951.3,1085.5L1970.0,1085.5Z"/><path d="M1971.8,1061.2L1962.9,1076.6L1980.8,1076.6Z"/><path d="M1961.2,1068.5L1951.3,1085.7L1971.1,1085.7Z"/><path d="M2018.3,1000.2L2008.4,1017.4L2028.2,1017.4Z"/><path d="M1973.6,1056.7L1964.8,1071.9L1982.4,1071.9Z"/><path d="M1983.6,1042.7L1974.5,1058.3L1992.6,1058.3Z"/><path d="M1952.3,1082.8L1943.5,1098.1L1961.0,1098.1Z"/><path d="M1957.0,1079.3L1948.6,1093.9L1965.5,1093.9Z"/><path d="M1988.9,1032.4L1979.6,1048.6L1998.2,1048.6Z"/><path d="M2003.9,1021.3L1995.3,1036.3L2012.6,1036.3Z"/><path d="M2023.3,1004.5L2014.0,1020.6L2032.6,1020.6Z"/><path d="M1957.8,1072.4L1948.5,1088.4L1967.0,1088.4Z"/><path d="M2003.9,1020.0L1994.8,1035.6L2012.9,1035.6Z"/><path d="M1989.6,1034.9L1980.0,1051.7L1999.3,1051.7Z"/><path d="M1995.8,1030.5L1986.5,1046.8L2005.2,1046.8Z"/><path d="M1969.4,1063.5L1960.7,1078.6L1978.1,1078.6Z"/><path d="M1961.0,1069.5L1951.7,1085.6L1970.2,1085.6Z"/><path d="M1994.6,1028.3L1986.6,1042.2L2002.6,1042.2Z"/><path d="M2007.8,1012.7L1998.7,1028.4L2016.9,1028.4Z"/><path d="M2001.9,1030.2L1993.4,1044.9L2010.4,1044.9Z"/><path d="M1956.8,1081.1L1948.4,1095.7L1965.2,1095.7Z"/><path d="M2006.7,1020.8L1997.9,1036.0L2015.4,1036.0Z"/><path d="M1983.8,1037.5L1974.6,1053.5L1993.0,1053.5Z"/><path d="M1998.2,1030.4L1989.7,1045.1L2006.7,1045.1Z"/><path d="M2002.9,1025.5L1994.9,1039.4L2011.0,1039.4Z"/><path d="M1955.8,1080.7L1946.4,1097.0L1965.2,1097.0Z"/><path d="M1998.5,1029.9L1989.6,1045.3L2007.5,1045.3Z"/><path d="M1988.5,1048.5L1980.1,1063.0L1996.9,1063.0Z"/><path d="M2020.9,1001.4L2012.0,1016.8L2029.8,1016.8Z"/><path d="M2012.1,1014.4L2003.5,1029.1L2020.6,1029.1Z"/><path d="M1968.3,1063.6L1959.1,1079.5L1977.5,1079.5Z"/><path d="M1955.8,1069.8L1947.6,1084.1L1964.1,1084.1Z"/><path d="M2004.2,1013.6L1994.8,1029.9L2013.6,1029.9Z"/><path d="M1970.5,1061.7L1962.5,1075.7L1978.6,1075.7Z"/><path d="M1949.5,1082.0L1940.9,1096.9L1958.1,1096.9Z"/><path d="M1960.6,1071.6L1951.0,1088.3L1970.3,1088.3Z"/><path d="M1952.1,1076.7L1943.9,1091.0L1960.4,1091.0Z"/><path d="M2015.6,999.9L2007.0,1014.8L2024.2,1014.8Z"/><path d="M1970.9,1057.8L1961.7,1073.7L1980.1,1073.7Z"/><path d="M1975.4,1054.2L1967.3,1068.2L1983.5,1068.2Z"/><path d="M1960.2,1070.3L1950.3,1087.4L1970.0,1087.4Z"/><path d="M1969.2,1065.5L1960.8,1080.1L1977.5,1080.1Z"/><path d="M1983.1,1048.7L1973.5,1065.4L1992.8,1065.4Z"/><path d="M2001.2,1026.2L1992.1,1041.9L2010.3,1041.9Z"/><path d="M2006.2,1024.3L1997.3,1039.7L2015.1,1039.7Z"/><path d="M2003.4,1019.1L1995.3,1033.1L2011.5,1033.1Z"/><path d="M2018.8,1008.5L2010.2,1023.6L2027.5,1023.6Z"/><path d="M1972.4,1049.7L1963.9,1064.4L1980.9,1064.4Z"/><path d="M1996.9,1031.8L1988.1,1047.0L2005.7,1047.0Z"/><path d="M1943.0,1089.1L1933.5,1105.6L1952.5,1105.6Z"/><path d="M1950.0,1095.1L1940.5,1111.6L1959.5,1111.6Z"/><path d="M1957.0,1089.1L1947.5,1105.6L1966.5,1105.6Z"/><path d="M1962.0,1079.1L1952.5,1095.6L1971.5,1095.6Z"/><path d="M1966.0,1093.1L1956.5,1109.6L1975.5,1109.6Z"/><path d="M1947.0,1083.1L1937.5,1099.6L1956.5,1099.6Z"/><path d="M1985.0,1001.1L1975.5,1017.6L1994.5,1017.6Z"/><path d="M1990.0,1009.1L1980.5,1025.6L1999.5,1025.6Z"/><path d="M1835.7,1226.9L1825.4,1244.7L1846.0,1244.7Z"/><path d="M1873.8,1192.6L1863.3,1210.7L1884.3,1210.7Z"/><path d="M1868.4,1192.4L1859.7,1207.5L1877.1,1207.5Z"/><path d="M1856.8,1205.3L1847.8,1220.9L1865.8,1220.9Z"/><path d="M1885.6,1168.6L1876.2,1184.7L1894.9,1184.7Z"/><path d="M1858.8,1193.2L1849.6,1209.1L1867.9,1209.1Z"/><path d="M1820.3,1252.0L1811.6,1267.2L1829.1,1267.2Z"/><path d="M1867.4,1175.6L1858.5,1191.1L1876.4,1191.1Z"/><path d="M1846.2,1216.9L1836.8,1233.2L1855.6,1233.2Z"/><path d="M1929.4,1117.8L1920.9,1132.6L1938.0,1132.6Z"/><path d="M1816.6,1231.8L1807.1,1248.2L1826.0,1248.2Z"/><path d="M1886.5,1170.6L1876.2,1188.5L1896.9,1188.5Z"/><path d="M1916.5,1131.3L1907.5,1146.9L1925.5,1146.9Z"/><path d="M1830.3,1236.9L1820.4,1254.0L1840.2,1254.0Z"/><path d="M1922.3,1118.9L1912.2,1136.2L1932.3,1136.2Z"/><path d="M1866.5,1187.0L1856.5,1204.4L1876.6,1204.4Z"/><path d="M1846.8,1213.6L1837.7,1229.4L1855.9,1229.4Z"/><path d="M1829.7,1236.5L1819.8,1253.7L1839.5,1253.7Z"/><path d="M1832.3,1234.3L1822.6,1251.1L1842.0,1251.1Z"/><path d="M1860.5,1204.7L1852.0,1219.4L1869.0,1219.4Z"/><path d="M1839.9,1210.6L1830.1,1227.6L1849.7,1227.6Z"/><path d="M1913.7,1135.0L1904.7,1150.6L1922.7,1150.6Z"/><path d="M1924.5,1121.1L1916.0,1135.9L1933.1,1135.9Z"/><path d="M1870.4,1178.8L1861.4,1194.4L1879.4,1194.4Z"/><path d="M1894.3,1160.8L1885.7,1175.7L1902.9,1175.7Z"/><path d="M1848.6,1207.5L1839.7,1222.9L1857.5,1222.9Z"/><path d="M1906.3,1139.7L1897.4,1155.1L1915.2,1155.1Z"/><path d="M1923.7,1132.2L1914.8,1147.7L1932.7,1147.7Z"/><path d="M1840.7,1212.8L1830.3,1230.8L1851.1,1230.8Z"/><path d="M1873.1,1186.7L1863.8,1202.8L1882.4,1202.8Z"/><path d="M1893.6,1161.0L1884.4,1177.1L1902.9,1177.1Z"/><path d="M1841.7,1219.7L1833.1,1234.6L1850.3,1234.6Z"/><path d="M1815.2,1244.3L1804.9,1262.0L1825.5,1262.0Z"/><path d="M1908.5,1153.3L1899.4,1169.2L1917.7,1169.2Z"/><path d="M1842.4,1220.4L1833.9,1235.2L1851.0,1235.2Z"/><path d="M1888.6,1165.5L1879.4,1181.4L1897.8,1181.4Z"/><path d="M1837.7,1225.1L1828.5,1241.0L1846.9,1241.0Z"/><path d="M1932.2,1134.5L1923.3,1150.0L1941.2,1150.0Z"/><path d="M1859.2,1192.6L1849.9,1208.9L1868.6,1208.9Z"/><path d="M1816.9,1239.7L1806.5,1257.6L1827.2,1257.6Z"/><path d="M1831.6,1230.7L1823.0,1245.6L1840.1,1245.6Z"/><path d="M1864.8,1187.1L1856.2,1202.0L1873.4,1202.0Z"/><path d="M1827.3,1246.6L1818.3,1262.2L1836.3,1262.2Z"/><path d="M1903.9,1149.0L1894.8,1164.7L1912.9,1164.7Z"/><path d="M1922.8,1121.4L1912.9,1138.6L1932.8,1138.6Z"/><path d="M1851.3,1205.8L1841.3,1223.1L1861.4,1223.1Z"/><path d="M1914.0,1121.9L1905.5,1136.7L1922.6,1136.7Z"/><path d="M1832.0,1217.3L1821.6,1235.4L1842.4,1235.4Z"/><path d="M1859.4,1202.4L1849.9,1218.8L1868.9,1218.8Z"/><path d="M1924.7,1135.9L1914.7,1153.2L1934.7,1153.2Z"/><path d="M1910.4,1135.3L1901.2,1151.1L1919.6,1151.1Z"/><path d="M1847.2,1213.2L1838.6,1228.2L1855.9,1228.2Z"/><path d="M1837.7,1218.3L1829.1,1233.3L1846.4,1233.3Z"/><path d="M1815.5,1239.3L1805.1,1257.4L1826.0,1257.4Z"/><path d="M1919.7,1134.6L1911.1,1149.6L1928.4,1149.6Z"/><path d="M1819.8,1234.1L1810.4,1250.4L1829.2,1250.4Z"/><path d="M1837.1,1219.5L1827.3,1236.5L1847.0,1236.5Z"/><path d="M1904.4,1146.0L1895.7,1161.1L1913.1,1161.1Z"/><path d="M1910.3,1145.9L1901.0,1161.9L1919.5,1161.9Z"/><path d="M1900.8,1156.6L1891.8,1172.1L1909.8,1172.1Z"/><path d="M1836.6,1222.7L1827.4,1238.5L1845.7,1238.5Z"/><path d="M1865.3,1196.2L1856.3,1211.7L1874.3,1211.7Z"/><path d="M1901.0,1131.8L1892.3,1146.9L1909.7,1146.9Z"/><path d="M1872.8,1176.2L1862.5,1194.1L1883.2,1194.1Z"/><path d="M1819.1,1244.1L1810.2,1259.5L1828.0,1259.5Z"/><path d="M1918.9,1117.1L1909.6,1133.1L1928.1,1133.1Z"/><path d="M1911.7,1136.7L1901.6,1154.1L1921.7,1154.1Z"/><path d="M1928.0,1129.9L1918.3,1146.8L1937.7,1146.8Z"/><path d="M1838.5,1221.2L1829.6,1236.6L1847.4,1236.6Z"/><path d="M1839.6,1210.2L1830.7,1225.6L1848.5,1225.6Z"/></g><g fill="#4DAF4A" fill-opacity=".5"><circle cx="1855.8" cy="1267.5" r="6.8"/><circle cx="1865.2" cy="1252.7" r="6.8"/><circle cx="1894.3" cy="1205.1" r="6.8"/><circle cx="1859.4" cy="1259.3" r="6.8"/><circle cx="1888.9" cy="1217.9" r="6.8"/><circle cx="1888.7" cy="1213.9" r="6.8"/><circle cx="1873.8" cy="1241.3" r="6.8"/><circle cx="1882.6" cy="1224.5" r="6.8"/><circle cx="1900.9" cy="1200.1" r="6.8"/><circle cx="1866.2" cy="1248.5" r="6.8"/><circle cx="1859.4" cy="1263.0" r="6.8"/><circle cx="1892.1" cy="1206.3" r="6.8"/><circle cx="1879.3" cy="1230.8" r="6.8"/><circle cx="1880.0" cy="1219.4" r="6.8"/><circle cx="1859.5" cy="1256.7" r="6.8"/><circle cx="1882.5" cy="1228.8" r="6.8"/><circle cx="1883.1" cy="1225.4" r="6.8"/><circle cx="1882.7" cy="1222.1" r="6.8"/><circle cx="1870.7" cy="1254.5" r="6.8"/><circle cx="1903.0" cy="1191.9" r="6.8"/><circle cx="1897.3" cy="1199.0" r="6.8"/><circle cx="1887.4" cy="1217.2" r="6.8"/><circle cx="1895.2" cy="1208.6" r="6.8"/><circle cx="1898.4" cy="1200.1" r="6.8"/><circle cx="1865.0" cy="1250.4" r="6.8"/><circle cx="1876.8" cy="1237.5" r="6.8"/><circle cx="1892.4" cy="1210.2" r="6.8"/><circle cx="1884.0" cy="1222.1" r="6.8"/><circle cx="1899.7" cy="1204.4" r="6.8"/><circle cx="1881.9" cy="1222.2" r="6.8"/><circle cx="1874.9" cy="1232.2" r="6.8"/><circle cx="1886.1" cy="1216.5" r="6.8"/><circle cx="1856.0" cy="1261.3" r="6.8"/><circle cx="1868.7" cy="1243.0" r="6.8"/><circle cx="1880.2" cy="1233.2" r="6.8"/><circle cx="1864.0" cy="1258.9" r="6.8"/><circle cx="1858.6" cy="1259.2" r="6.8"/><circle cx="1858.3" cy="1261.2" r="6.8"/><circle cx="1892.7" cy="1207.0" r="6.8"/><circle cx="1857.2" cy="1260.9" r="6.8"/><circle cx="1905.9" cy="1197.4" r="6.8"/><circle cx="1904.3" cy="1185.7" r="6.8"/><circle cx="1869.2" cy="1250.1" r="6.8"/><circle cx="1904.2" cy="1192.5" r="6.8"/><circle cx="1895.7" cy="1205.5" r="6.8"/><circle cx="1873.9" cy="1237.2" r="6.8"/><circle cx="1899.3" cy="1202.3" r="6.8"/><circle cx="1858.3" cy="1254.2" r="6.8"/><circle cx="1866.8" cy="1252.3" r="6.8"/><circle cx="1873.9" cy="1241.4" r="6.8"/><circle cx="1868.2" cy="1251.4" r="6.8"/><circle cx="1902.1" cy="1201.7" r="6.8"/><circle cx="1859.0" cy="1255.7" r="6.8"/><circle cx="1876.5" cy="1235.7" r="6.8"/><circle cx="1885.7" cy="1220.7" r="6.8"/><circle cx="1902.9" cy="1188.7" r="6.8"/><circle cx="1894.6" cy="1212.8" r="6.8"/><circle cx="1882.0" cy="1225.0" r="6.8"/><circle cx="1880.1" cy="1235.5" r="6.8"/><circle cx="1860.1" cy="1259.6" r="6.8"/><circle cx="1891.0" cy="1216.7" r="6.8"/><circle cx="1888.8" cy="1215.4" r="6.8"/><circle cx="1860.7" cy="1265.3" r="6.8"/><circle cx="1872.5" cy="1232.2" r="6.8"/><circle cx="1863.9" cy="1258.7" r="6.8"/><circle cx="1860.4" cy="1263.4" r="6.8"/><circle cx="1861.0" cy="1258.4" r="6.8"/><circle cx="1883.6" cy="1220.3" r="6.8"/><circle cx="1885.6" cy="1218.4" r="6.8"/><circle cx="1902.0" cy="1196.2" r="6.8"/><circle cx="1858.3" cy="1254.0" r="6.8"/><circle cx="1892.9" cy="1207.5" r="6.8"/><circle cx="1855.6" cy="1261.6" r="6.8"/><circle cx="1872.2" cy="1236.6" r="6.8"/><circle cx="1901.8" cy="1192.8" r="6.8"/><circle cx="1903.3" cy="1198.1" r="6.8"/><circle cx="1876.6" cy="1235.4" r="6.8"/><circle cx="1897.5" cy="1206.8" r="6.8"/><circle cx="1903.2" cy="1195.7" r="6.8"/><circle cx="1882.6" cy="1219.2" r="6.8"/><circle cx="1897.0" cy="1205.9" r="6.8"/><circle cx="1876.4" cy="1244.1" r="6.8"/><circle cx="1894.5" cy="1206.0" r="6.8"/><circle cx="1897.4" cy="1198.9" r="6.8"/><circle cx="1890.9" cy="1209.9" r="6.8"/><circle cx="1862.1" cy="1257.8" r="6.8"/><circle cx="1873.1" cy="1236.0" r="6.8"/><circle cx="1897.1" cy="1199.7" r="6.8"/><circle cx="1879.5" cy="1225.2" r="6.8"/><circle cx="1881.8" cy="1229.3" r="6.8"/><circle cx="1838.5" cy="1148" r="6.8"/><circle cx="1846" cy="1280" r="6.8"/><circle cx="1851" cy="1288" r="6.8"/><circle cx="1855" cy="1232" r="6.8"/><circle cx="1869" cy="1240" r="6.8"/><circle cx="1886" cy="1240" r="6.8"/><circle cx="1862" cy="1186" r="6.8"/></g><circle cx="2017.2" cy="1014.2" r="8.8" fill="#8FB8A0" fill-opacity=".9"/><circle cx="1842.8" cy="1226.3" r="8.6" fill="none" stroke="#7C8DBD" stroke-width="1.8"/><circle cx="1863.4" cy="1207.6" r="8.6" fill="none" stroke="#7C8DBD" stroke-width="1.8"/><path d="M1895,1183L1911.5,1199M1911.5,1183L1895,1199" stroke="#7C5C44" stroke-width="2"/><path d="M1902,1176.5L1927,1176.5M1913,1165L1913,1188" stroke="#8ECFBB" stroke-width="2"/><path d="M1560.6,1497.3L1569.6,1506.3L1560.6,1515.3L1551.6,1506.3Z" fill="#6B7DA8" fill-opacity=".9"/><line x1="1860.4" y1="1133.7" x2="1901.6" y2="1163.2" stroke="#000" stroke-width="1.6"/><path d="M1908.9,1168.4L1903.6,1160.3L1899.6,1166.0Z" fill="#000"/><line x1="1860.4" y1="1133.7" x2="1894.9" y2="1173.9" stroke="#000" stroke-width="1.6"/><path d="M1900.7,1180.7L1897.5,1171.6L1892.2,1176.2Z" fill="#000"/><line x1="1821.2" y1="1183.3" x2="1883.1" y2="1186.6" stroke="#000" stroke-width="1.6"/><path d="M1892.1,1187.1L1883.3,1183.1L1883.0,1190.1Z" fill="#000"/><line x1="1793.2" y1="1235.6" x2="1821" y2="1229.1" stroke="#000" stroke-width="1.6"/><path d="M1829.8,1227.0L1820.2,1225.7L1821.8,1232.5Z" fill="#000"/><line x1="1793.2" y1="1235.6" x2="1844.1" y2="1211.5" stroke="#000" stroke-width="1.6"/><path d="M1852.2,1207.6L1842.6,1208.3L1845.6,1214.6Z" fill="#000"/><text x="1802.5" y="1061.3" font-size="26.3" text-anchor="start" fill="#FDB863" font-style="italic">L. serriola</text><text x="1695.4" y="1135.5" font-size="26.3" text-anchor="start" fill="#8ECFBB" font-style="italic">L. dregeana</text><text x="1664.4" y="1188.9" font-size="26.3" text-anchor="start" fill="#7C5C44" font-style="italic">L. sagittata</text><text x="1663.6" y="1246.8" font-size="26.3" text-anchor="start" fill="#7C8DBD" font-style="italic">L. altaica</text><text x="1895.9" y="1279.7" font-size="26.3" text-anchor="start" fill="#4DAF4A" font-style="italic">L. sativa</text><text x="1583" y="1507.4" font-size="26.3" text-anchor="start" fill="#3B5289" font-style="italic">L. aculeata</text><path d="M132.7,1929.9L132.7,1936.0M137.2,1929.9L137.2,1936.0M128.3,1924.8L128.3,1936.0M123.9,1919.7L123.9,1936.0M119.5,1914.6L119.5,1936.0M115.0,1909.5L115.0,1936.0M110.6,1904.4L110.6,1936.0M106.2,1899.3L106.2,1936.0" stroke="#CD78A8" stroke-width="1.3" fill="none"/><path d="M163.7,1932.0L163.7,1936.0M168.1,1932.0L168.1,1936.0M159.2,1922.7L159.2,1936.0M154.8,1918.0L154.8,1936.0M150.4,1913.3L150.4,1936.0M146.0,1908.7L146.0,1936.0M141.6,1904.0L141.6,1936.0M176.9,1930.9L176.9,1936.0M181.4,1930.9L181.4,1936.0M203.5,1927.2L203.5,1936.0M207.9,1927.2L207.9,1936.0M199.0,1916.2L199.0,1936.0M194.6,1910.6L194.6,1936.0M190.2,1905.0L190.2,1936.0M221.1,1900.1L221.1,1936.0M225.6,1900.1L225.6,1936.0M234.4,1907.5L234.4,1936.0M238.8,1907.5L238.8,1936.0M230.0,1898.6L230.0,1936.0M256.5,1909.9L256.5,1936.0M260.9,1909.9L260.9,1936.0M269.8,1919.3L269.8,1936.0M274.2,1919.3L274.2,1936.0M265.3,1908.2L265.3,1936.0M252.1,1897.0L252.1,1936.0M283.0,1928.7L283.0,1936.0M287.4,1928.7L287.4,1936.0M291.9,1920.5L291.9,1936.0M296.3,1920.5L296.3,1936.0M278.6,1909.9L278.6,1936.0M247.7,1899.3L247.7,1936.0M243.2,1894.0L243.2,1936.0M216.7,1883.4L216.7,1936.0M212.3,1878.1L212.3,1936.0M185.8,1867.5L185.8,1936.0M172.5,1856.9L172.5,1936.0" stroke="#984EA3" stroke-width="1.3" fill="none"/><path d="M305.1,1925.0L305.1,1936.0M309.5,1925.0L309.5,1936.0M322.8,1925.4L322.8,1936.0M327.2,1925.4L327.2,1936.0M331.6,1921.4L331.6,1936.0M336.1,1921.4L336.1,1936.0M349.3,1914.4L349.3,1936.0M353.7,1914.4L353.7,1936.0M358.2,1916.1L358.2,1936.0M362.6,1916.1L362.6,1936.0M367.0,1909.2L367.0,1936.0M344.9,1898.0L344.9,1936.0M384.7,1931.5L384.7,1936.0M389.1,1931.5L389.1,1936.0M380.3,1920.0L380.3,1936.0M397.9,1928.4L397.9,1936.0M402.4,1928.4L402.4,1936.0M406.8,1919.8L406.8,1936.0M393.5,1914.6L393.5,1936.0M375.8,1904.2L375.8,1936.0M371.4,1899.0L371.4,1936.0M340.5,1888.6L340.5,1936.0M318.4,1878.2L318.4,1936.0M314.0,1873.0L314.0,1936.0M300.7,1862.6L300.7,1936.0M437.7,1931.4L437.7,1936.0M442.1,1931.4L442.1,1936.0M433.3,1920.0L433.3,1936.0M468.7,1927.9L468.7,1936.0M473.1,1927.9L473.1,1936.0M464.2,1921.3L464.2,1936.0M459.8,1916.0L459.8,1936.0M504.0,1931.9L504.0,1936.0M508.4,1931.9L508.4,1936.0M499.6,1921.0L499.6,1936.0M495.2,1915.5L495.2,1936.0M490.8,1910.0L490.8,1936.0M526.1,1927.2L526.1,1936.0M530.5,1927.2L530.5,1936.0M521.7,1920.6L521.7,1936.0M517.3,1915.0L517.3,1936.0M539.4,1930.6L539.4,1936.0M543.8,1930.6L543.8,1936.0M535.0,1913.5L535.0,1936.0M512.9,1903.1L512.9,1936.0M486.3,1892.7L486.3,1936.0M481.9,1887.5L481.9,1936.0M477.5,1882.3L477.5,1936.0M455.4,1871.9L455.4,1936.0M451.0,1866.7L451.0,1936.0M446.6,1861.5L446.6,1936.0M428.9,1851.1L428.9,1936.0M424.5,1845.9L424.5,1936.0M420.0,1840.7L420.0,1936.0M415.6,1835.5L415.6,1936.0M411.2,1830.3L411.2,1936.0" stroke="#4BB8D6" stroke-width="1.3" fill="none"/><path d="M548.2,1930.8L548.2,1936.0M552.6,1930.8L552.6,1936.0" stroke="#3B5289" stroke-width="1.3" fill="none"/><path d="M557.1,1930.8L557.1,1936.0M561.5,1930.8L561.5,1936.0M565.9,1897.6L565.9,1936.0M570.3,1897.6L570.3,1936.0M588.0,1913.4L588.0,1936.0M627.8,1932.0L627.8,1936.0M632.2,1932.0L632.2,1936.0M641.0,1932.0L641.0,1936.0M645.5,1932.0L645.5,1936.0M636.6,1943.1L636.6,1936.0M623.4,1935.5L623.4,1936.0M618.9,1931.7L618.9,1936.0M614.5,1927.9L614.5,1936.0M610.1,1924.1L610.1,1936.0M605.7,1920.3L605.7,1936.0M601.3,1916.5L601.3,1936.0M596.8,1912.7L596.8,1936.0M592.4,1908.9L592.4,1936.0M579.2,1901.3L579.2,1936.0M574.7,1897.5L574.7,1936.0M654.3,1930.0L654.3,1936.0M658.7,1930.0L658.7,1936.0M676.4,1901.9L676.4,1936.0M680.8,1901.9L680.8,1936.0M685.2,1907.3L685.2,1936.0M689.7,1907.3L689.7,1936.0M698.5,1917.2L698.5,1936.0M702.9,1917.2L702.9,1936.0M694.1,1906.8L694.1,1936.0M711.8,1928.7L711.8,1936.0M716.2,1928.7L716.2,1936.0M720.6,1917.4L720.6,1936.0M747.1,1932.0L747.1,1936.0M751.5,1932.0L751.5,1936.0M742.7,1929.2L742.7,1936.0M738.3,1925.4L738.3,1936.0M733.9,1921.6L733.9,1936.0M729.4,1917.8L729.4,1936.0M725.0,1914.0L725.0,1936.0M707.3,1906.4L707.3,1936.0M667.6,1887.4L667.6,1936.0M663.1,1883.6L663.1,1936.0M764.8,1931.5L764.8,1936.0M769.2,1931.5L769.2,1936.0M760.4,1920.4L760.4,1936.0M756.0,1914.8L756.0,1936.0M795.7,1931.2L795.7,1936.0M800.2,1931.2L800.2,1936.0M804.6,1932.0L804.6,1936.0M809.0,1932.0L809.0,1936.0M813.4,1932.0L813.4,1936.0M817.8,1932.0L817.8,1936.0M822.3,1932.0L822.3,1936.0M826.7,1932.0L826.7,1936.0M791.3,1919.5L791.3,1936.0M786.9,1915.7L786.9,1936.0M782.5,1911.9L782.5,1936.0M778.1,1908.1L778.1,1936.0M773.6,1904.3L773.6,1936.0M844.4,1929.1L844.4,1936.0M848.8,1929.1L848.8,1936.0M839.9,1923.4L839.9,1936.0M835.5,1919.1L835.5,1936.0M831.1,1914.8L831.1,1936.0M875.3,1926.0L875.3,1936.0M879.7,1926.0L879.7,1936.0M888.6,1932.0L888.6,1936.0M893.0,1932.0L893.0,1936.0M897.4,1926.8L897.4,1936.0M884.1,1923.0L884.1,1936.0M870.9,1915.4L870.9,1936.0M866.5,1911.6L866.5,1936.0M862.0,1907.8L862.0,1936.0M857.6,1904.0L857.6,1936.0M901.8,1928.3L901.8,1936.0M906.2,1928.3L906.2,1936.0M910.7,1929.6L910.7,1936.0M915.1,1929.6L915.1,1936.0M919.5,1930.4L919.5,1936.0M923.9,1930.4L923.9,1936.0M954.9,1929.6L954.9,1936.0M959.3,1929.6L959.3,1936.0M963.7,1922.0L963.7,1936.0M950.4,1917.0L950.4,1936.0M946.0,1912.0L946.0,1936.0M977.0,1913.1L977.0,1936.0M981.4,1913.1L981.4,1936.0M994.6,1927.2L994.6,1936.0M999.1,1927.2L999.1,1936.0M990.2,1915.8L990.2,1936.0M985.8,1910.4L985.8,1936.0M1034.4,1921.6L1034.4,1936.0M1038.8,1921.6L1038.8,1936.0M1030.0,1913.6L1030.0,1936.0M1025.6,1908.0L1025.6,1936.0M1021.2,1902.4L1021.2,1936.0M1016.7,1896.8L1016.7,1936.0M1012.3,1891.2L1012.3,1936.0M1007.9,1885.6L1007.9,1936.0M1003.5,1880.0L1003.5,1936.0M1047.7,1902.4L1047.7,1936.0M1052.1,1902.4L1052.1,1936.0M1069.8,1918.4L1069.8,1936.0M1074.2,1918.4L1074.2,1936.0M1065.4,1909.8L1065.4,1936.0M1060.9,1904.2L1060.9,1936.0M1056.5,1898.6L1056.5,1936.0M1083.0,1909.9L1083.0,1936.0M1087.5,1909.9L1087.5,1936.0M1105.1,1927.0L1105.1,1936.0M1109.6,1927.0L1109.6,1936.0M1100.7,1917.4L1100.7,1936.0M1096.3,1912.6L1096.3,1936.0M1091.9,1907.7L1091.9,1936.0M1078.6,1898.0L1078.6,1936.0M1127.2,1930.2L1127.2,1936.0M1131.7,1930.2L1131.7,1936.0M1122.8,1920.6L1122.8,1936.0M1118.4,1915.0L1118.4,1936.0M1149.3,1927.8L1149.3,1936.0M1153.8,1927.8L1153.8,1936.0M1144.9,1920.0L1144.9,1936.0M1140.5,1919.1L1140.5,1936.0M1136.1,1913.9L1136.1,1936.0M1114.0,1903.5L1114.0,1936.0M1043.3,1887.9L1043.3,1936.0M972.5,1872.3L972.5,1936.0M968.1,1867.1L968.1,1936.0M941.6,1856.7L941.6,1936.0M937.2,1851.5L937.2,1936.0M1198.0,1932.0L1198.0,1936.0M1202.4,1932.0L1202.4,1936.0M1193.5,1924.0L1193.5,1936.0M1189.1,1920.0L1189.1,1936.0M1184.7,1916.0L1184.7,1936.0M1180.3,1912.0L1180.3,1936.0M1175.9,1908.0L1175.9,1936.0M1171.4,1904.0L1171.4,1936.0M1215.6,1918.2L1215.6,1936.0M1220.1,1918.2L1220.1,1936.0M1237.7,1931.7L1237.7,1936.0M1242.2,1931.7L1242.2,1936.0M1233.3,1923.0L1233.3,1936.0M1228.9,1919.2L1228.9,1936.0M1224.5,1915.4L1224.5,1936.0M1211.2,1907.8L1211.2,1936.0M1206.8,1904.0L1206.8,1936.0M1277.5,1932.0L1277.5,1936.0M1281.9,1932.0L1281.9,1936.0M1273.1,1923.3L1273.1,1936.0M1268.7,1919.0L1268.7,1936.0M1264.3,1914.7L1264.3,1936.0M1259.8,1910.3L1259.8,1936.0M1255.4,1906.0L1255.4,1936.0M1304.0,1930.6L1304.0,1936.0M1308.5,1930.6L1308.5,1936.0M1299.6,1921.0L1299.6,1936.0M1295.2,1915.5L1295.2,1936.0M1290.8,1910.0L1290.8,1936.0M1330.6,1925.6L1330.6,1936.0M1335.0,1925.6L1335.0,1936.0M1343.8,1926.9L1343.8,1936.0M1348.2,1926.9L1348.2,1936.0M1339.4,1920.0L1339.4,1936.0M1326.1,1912.0L1326.1,1936.0M1321.7,1908.0L1321.7,1936.0M1317.3,1904.0L1317.3,1936.0M1312.9,1900.0L1312.9,1936.0M1370.3,1931.1L1370.3,1936.0M1374.8,1931.1L1374.8,1936.0M1379.2,1920.8L1379.2,1936.0M1365.9,1915.2L1365.9,1936.0M1361.5,1909.6L1361.5,1936.0M1357.1,1904.0L1357.1,1936.0M1410.1,1931.5L1410.1,1936.0M1414.5,1931.5L1414.5,1936.0M1405.7,1923.3L1405.7,1936.0M1401.3,1919.0L1401.3,1936.0M1396.9,1914.7L1396.9,1936.0M1392.4,1910.3L1392.4,1936.0M1388.0,1906.0L1388.0,1936.0M1383.6,1893.0L1383.6,1936.0M1352.7,1882.6L1352.7,1936.0M1286.4,1867.0L1286.4,1936.0M1251.0,1856.6L1251.0,1936.0M1246.6,1851.4L1246.6,1936.0M1167.0,1835.8L1167.0,1936.0M1162.6,1830.6L1162.6,1936.0M1158.2,1825.4L1158.2,1936.0M932.8,1815.5L932.8,1936.0M928.3,1810.2L928.3,1936.0M853.2,1789.0L853.2,1936.0M649.9,1757.2L649.9,1936.0M1427.8,1925.8L1427.8,1936.0M1432.2,1925.8L1432.2,1936.0M1423.4,1920.0L1423.4,1936.0M1445.5,1926.2L1445.5,1936.0M1458.7,1929.0L1458.7,1936.0M1436.6,1903.4L1436.6,1936.0M1419.0,1893.0L1419.0,1936.0" stroke="#FDBF6F" stroke-width="1.3" fill="none"/><path d="M583.6,1913.4L583.6,1936.0M672.0,1891.2L672.0,1936.0" stroke="#8190B6" stroke-width="1.3" fill="none"/><path d="M1441.1,1926.2L1441.1,1936.0M1449.9,1918.0L1449.9,1936.0" stroke="#8ECFBB" stroke-width="1.3" fill="none"/><path d="M1454.3,1929.0L1454.3,1936.0" stroke="#7C5C44" stroke-width="1.3" fill="none"/><path d="M1472.0,1930.0L1472.0,1936.0M1476.4,1930.0L1476.4,1936.0M1467.6,1920.6L1467.6,1936.0M1463.2,1915.0L1463.2,1936.0M1489.7,1909.9L1489.7,1936.0M1494.1,1909.9L1494.1,1936.0M1507.4,1921.6L1507.4,1936.0M1511.8,1921.6L1511.8,1936.0M1502.9,1915.2L1502.9,1936.0M1498.5,1909.6L1498.5,1936.0M1525.0,1905.1L1525.0,1936.0M1529.5,1905.1L1529.5,1936.0M1520.6,1898.0L1520.6,1936.0M1533.9,1911.0L1533.9,1936.0M1538.3,1911.0L1538.3,1936.0M1542.7,1903.0L1542.7,1936.0M1547.1,1904.9L1547.1,1936.0M1551.6,1904.9L1551.6,1936.0M1564.8,1913.3L1564.8,1936.0M1569.2,1913.3L1569.2,1936.0M1560.4,1907.0L1560.4,1936.0M1556.0,1903.2L1556.0,1936.0M1516.2,1888.0L1516.2,1936.0M1573.7,1895.9L1573.7,1936.0M1578.1,1895.9L1578.1,1936.0M1591.3,1908.8L1591.3,1936.0M1595.8,1908.8L1595.8,1936.0M1604.6,1918.7L1604.6,1936.0M1609.0,1918.7L1609.0,1936.0M1617.9,1921.6L1617.9,1936.0M1622.3,1921.6L1622.3,1936.0M1613.4,1912.9L1613.4,1936.0M1600.2,1905.3L1600.2,1936.0M1586.9,1897.6L1586.9,1936.0M1582.5,1893.8L1582.5,1936.0M1644.4,1920.4L1644.4,1936.0M1648.8,1920.4L1648.8,1936.0M1662.1,1929.1L1662.1,1936.0M1666.5,1929.1L1666.5,1936.0M1657.6,1919.0L1657.6,1936.0M1653.2,1914.7L1653.2,1936.0M1640.0,1906.0L1640.0,1936.0M1635.5,1901.7L1635.5,1936.0M1631.1,1897.3L1631.1,1936.0M1626.7,1893.0L1626.7,1936.0M1684.2,1924.8L1684.2,1936.0M1688.6,1924.8L1688.6,1936.0M1679.7,1919.2L1679.7,1936.0M1675.3,1913.6L1675.3,1936.0M1670.9,1908.0L1670.9,1936.0M1697.4,1904.9L1697.4,1936.0M1701.8,1904.9L1701.8,1936.0M1715.1,1921.9L1715.1,1936.0M1719.5,1921.9L1719.5,1936.0M1723.9,1918.8L1723.9,1936.0M1728.4,1918.8L1728.4,1936.0M1710.7,1906.3L1710.7,1936.0M1706.3,1901.1L1706.3,1936.0M1741.6,1915.8L1741.6,1936.0M1746.0,1915.8L1746.0,1936.0M1737.2,1906.6L1737.2,1936.0M1763.7,1918.9L1763.7,1936.0M1768.1,1918.9L1768.1,1936.0M1759.3,1912.5L1759.3,1936.0M1754.9,1907.6L1754.9,1936.0M1750.5,1902.8L1750.5,1936.0M1732.8,1893.0L1732.8,1936.0M1799.1,1929.6L1799.1,1936.0M1803.5,1929.6L1803.5,1936.0M1794.7,1921.3L1794.7,1936.0M1790.2,1916.0L1790.2,1936.0M1785.8,1910.7L1785.8,1936.0M1781.4,1905.3L1781.4,1936.0M1777.0,1900.0L1777.0,1936.0M1816.8,1909.0L1816.8,1936.0M1821.2,1909.0L1821.2,1936.0M1843.3,1922.7L1843.3,1936.0M1847.7,1922.7L1847.7,1936.0M1838.9,1918.0L1838.9,1936.0M1834.4,1913.3L1834.4,1936.0M1830.0,1908.7L1830.0,1936.0M1825.6,1904.0L1825.6,1936.0M1812.3,1894.7L1812.3,1936.0M1807.9,1890.0L1807.9,1936.0M1883.1,1927.9L1883.1,1936.0M1887.5,1927.9L1887.5,1936.0M1878.6,1922.0L1878.6,1936.0M1874.2,1917.0L1874.2,1936.0M1869.8,1912.0L1869.8,1936.0M1865.4,1907.0L1865.4,1936.0M1861.0,1902.0L1861.0,1936.0M1856.5,1897.0L1856.5,1936.0M1922.8,1927.8L1922.8,1936.0M1927.3,1927.8L1927.3,1936.0M1918.4,1922.2L1918.4,1936.0M1914.0,1917.4L1914.0,1936.0M1909.6,1912.5L1909.6,1936.0M1905.2,1907.6L1905.2,1936.0M1900.7,1902.8L1900.7,1936.0M1896.3,1897.9L1896.3,1936.0M1891.9,1893.0L1891.9,1936.0M1953.8,1929.8L1953.8,1936.0M1958.2,1929.8L1958.2,1936.0M1949.4,1921.3L1949.4,1936.0M1944.9,1916.0L1944.9,1936.0M1940.5,1910.7L1940.5,1936.0M1936.1,1905.3L1936.1,1936.0M1931.7,1900.0L1931.7,1936.0M1980.3,1914.3L1980.3,1936.0M1984.7,1914.3L1984.7,1936.0M2002.4,1926.1L2002.4,1936.0M2006.8,1926.1L2006.8,1936.0M1998.0,1918.2L1998.0,1936.0M1993.6,1913.6L1993.6,1936.0M1989.1,1909.0L1989.1,1936.0M1975.9,1899.8L1975.9,1936.0M1971.5,1895.2L1971.5,1936.0M1967.0,1890.6L1967.0,1936.0M1962.6,1886.0L1962.6,1936.0M2011.2,1906.7L2011.2,1936.0M2015.7,1906.7L2015.7,1936.0M2037.8,1925.2L2037.8,1936.0M2042.2,1925.2L2042.2,1936.0M2033.3,1917.4L2033.3,1936.0M2028.9,1912.6L2028.9,1936.0M2024.5,1907.7L2024.5,1936.0M2020.1,1902.9L2020.1,1936.0M2046.6,1885.5L2046.6,1936.0M1852.1,1866.0L1852.1,1936.0M1772.6,1854.3L1772.6,1936.0M1693.0,1842.6L1693.0,1936.0M1485.3,1823.1L1485.3,1936.0M1480.8,1819.2L1480.8,1936.0" stroke="#4DAF4A" stroke-width="1.3" fill="none"/><path d="M132.7,1929.9L137.2,1929.9M134.9,1924.8L134.9,1929.9M128.3,1924.8L134.9,1924.8M131.6,1919.7L131.6,1924.8M123.9,1919.7L131.6,1919.7M127.8,1914.6L127.8,1919.7M119.5,1914.6L127.8,1914.6M123.6,1909.5L123.6,1914.6M115.0,1909.5L123.6,1909.5M119.3,1904.4L119.3,1909.5M110.6,1904.4L119.3,1904.4M115.0,1899.3L115.0,1904.4M106.2,1899.3L115.0,1899.3M163.7,1932.0L168.1,1932.0M165.9,1922.7L165.9,1932.0M159.2,1922.7L165.9,1922.7M162.6,1918.0L162.6,1922.7M154.8,1918.0L162.6,1918.0M158.7,1913.3L158.7,1918.0M150.4,1913.3L158.7,1913.3M154.6,1908.7L154.6,1913.3M146.0,1908.7L154.6,1908.7M150.3,1904.0L150.3,1908.7M141.6,1904.0L150.3,1904.0M176.9,1930.9L181.4,1930.9M203.5,1927.2L207.9,1927.2M205.7,1916.2L205.7,1927.2M199.0,1916.2L205.7,1916.2M202.3,1910.6L202.3,1916.2M194.6,1910.6L202.3,1910.6M198.5,1905.0L198.5,1910.6M190.2,1905.0L198.5,1905.0M221.1,1900.1L225.6,1900.1M234.4,1907.5L238.8,1907.5M236.6,1898.6L236.6,1907.5M230.0,1898.6L236.6,1898.6M223.3,1893.0L223.3,1900.1M233.3,1893.0L233.3,1898.6M223.3,1893.0L233.3,1893.0M256.5,1909.9L260.9,1909.9M269.8,1919.3L274.2,1919.3M272.0,1908.2L272.0,1919.3M265.3,1908.2L272.0,1908.2M258.7,1902.6L258.7,1909.9M268.6,1902.6L268.6,1908.2M258.7,1902.6L268.6,1902.6M263.7,1897.0L263.7,1902.6M252.1,1897.0L263.7,1897.0M283.0,1928.7L287.4,1928.7M291.9,1920.5L296.3,1920.5M285.2,1915.2L285.2,1928.7M294.1,1915.2L294.1,1920.5M285.2,1915.2L294.1,1915.2M289.6,1909.9L289.6,1915.2M278.6,1909.9L289.6,1909.9M257.9,1904.6L257.9,1897.0M284.1,1904.6L284.1,1909.9M257.9,1904.6L284.1,1904.6M271.0,1899.3L271.0,1904.6M247.7,1899.3L271.0,1899.3M259.3,1894.0L259.3,1899.3M243.2,1894.0L259.3,1894.0M228.3,1888.7L228.3,1893.0M251.3,1888.7L251.3,1894.0M228.3,1888.7L251.3,1888.7M239.8,1883.4L239.8,1888.7M216.7,1883.4L239.8,1883.4M228.3,1878.1L228.3,1883.4M212.3,1878.1L228.3,1878.1M194.3,1872.8L194.3,1905.0M220.3,1872.8L220.3,1878.1M194.3,1872.8L220.3,1872.8M207.3,1867.5L207.3,1872.8M185.8,1867.5L207.3,1867.5M179.1,1862.2L179.1,1930.9M196.5,1862.2L196.5,1867.5M179.1,1862.2L196.5,1862.2M187.8,1856.9L187.8,1862.2M172.5,1856.9L187.8,1856.9M145.9,1851.6L145.9,1904.0M180.2,1851.6L180.2,1856.9M145.9,1851.6L180.2,1851.6M110.6,1846.1L110.6,1899.3M163.0,1846.1L163.0,1851.6M110.6,1846.1L163.0,1846.1M305.1,1925.0L309.5,1925.0M322.8,1925.4L327.2,1925.4M331.6,1921.4L336.1,1921.4M325.0,1915.0L325.0,1925.4M333.8,1915.0L333.8,1921.4M325.0,1915.0L333.8,1915.0M349.3,1914.4L353.7,1914.4M358.2,1916.1L362.6,1916.1M360.4,1909.2L360.4,1916.1M360.4,1909.2L367.0,1909.2M351.5,1903.6L351.5,1914.4M363.7,1903.6L363.7,1909.2M351.5,1903.6L363.7,1903.6M357.6,1898.0L357.6,1903.6M344.9,1898.0L357.6,1898.0M384.7,1931.5L389.1,1931.5M386.9,1920.0L386.9,1931.5M380.3,1920.0L386.9,1920.0M397.9,1928.4L402.4,1928.4M400.1,1919.8L400.1,1928.4M400.1,1919.8L406.8,1919.8M403.5,1914.6L403.5,1919.8M393.5,1914.6L403.5,1914.6M383.6,1909.4L383.6,1920.0M398.5,1909.4L398.5,1914.6M383.6,1909.4L398.5,1909.4M391.0,1904.2L391.0,1909.4M375.8,1904.2L391.0,1904.2M383.4,1899.0L383.4,1904.2M371.4,1899.0L383.4,1899.0M351.2,1893.8L351.2,1898.0M377.4,1893.8L377.4,1899.0M351.2,1893.8L377.4,1893.8M364.3,1888.6L364.3,1893.8M340.5,1888.6L364.3,1888.6M329.4,1883.4L329.4,1915.0M352.4,1883.4L352.4,1888.6M329.4,1883.4L352.4,1883.4M340.9,1878.2L340.9,1883.4M318.4,1878.2L340.9,1878.2M329.6,1873.0L329.6,1878.2M314.0,1873.0L329.6,1873.0M307.3,1867.8L307.3,1925.0M321.8,1867.8L321.8,1873.0M307.3,1867.8L321.8,1867.8M314.6,1862.6L314.6,1867.8M300.7,1862.6L314.6,1862.6M437.7,1931.4L442.1,1931.4M439.9,1920.0L439.9,1931.4M433.3,1920.0L439.9,1920.0M468.7,1927.9L473.1,1927.9M470.9,1921.3L470.9,1927.9M464.2,1921.3L470.9,1921.3M467.5,1916.0L467.5,1921.3M459.8,1916.0L467.5,1916.0M504.0,1931.9L508.4,1931.9M506.2,1921.0L506.2,1931.9M499.6,1921.0L506.2,1921.0M502.9,1915.5L502.9,1921.0M495.2,1915.5L502.9,1915.5M499.0,1910.0L499.0,1915.5M490.8,1910.0L499.0,1910.0M526.1,1927.2L530.5,1927.2M528.3,1920.6L528.3,1927.2M521.7,1920.6L528.3,1920.6M525.0,1915.0L525.0,1920.6M517.3,1915.0L525.0,1915.0M539.4,1930.6L543.8,1930.6M541.6,1913.5L541.6,1930.6M535.0,1913.5L541.6,1913.5M521.1,1908.3L521.1,1915.0M538.3,1908.3L538.3,1913.5M521.1,1908.3L538.3,1908.3M529.7,1903.1L529.7,1908.3M512.9,1903.1L529.7,1903.1M494.9,1897.9L494.9,1910.0M521.3,1897.9L521.3,1903.1M494.9,1897.9L521.3,1897.9M508.1,1892.7L508.1,1897.9M486.3,1892.7L508.1,1892.7M497.2,1887.5L497.2,1892.7M481.9,1887.5L497.2,1887.5M489.6,1882.3L489.6,1887.5M477.5,1882.3L489.6,1882.3M463.7,1877.1L463.7,1916.0M483.5,1877.1L483.5,1882.3M463.7,1877.1L483.5,1877.1M473.6,1871.9L473.6,1877.1M455.4,1871.9L473.6,1871.9M464.5,1866.7L464.5,1871.9M451.0,1866.7L464.5,1866.7M457.7,1861.5L457.7,1866.7M446.6,1861.5L457.7,1861.5M436.6,1856.3L436.6,1920.0M452.1,1856.3L452.1,1861.5M436.6,1856.3L452.1,1856.3M444.4,1851.1L444.4,1856.3M428.9,1851.1L444.4,1851.1M436.6,1845.9L436.6,1851.1M424.5,1845.9L436.6,1845.9M430.5,1840.7L430.5,1845.9M420.0,1840.7L430.5,1840.7M425.3,1835.5L425.3,1840.7M415.6,1835.5L425.3,1835.5M420.4,1830.3L420.4,1835.5M411.2,1830.3L420.4,1830.3M307.6,1825.9L307.6,1862.6M415.8,1825.9L415.8,1830.3M307.6,1825.9L415.8,1825.9M548.2,1930.8L552.6,1930.8M557.1,1930.8L561.5,1930.8M565.9,1897.6L570.3,1897.6M583.6,1913.4L588.0,1913.4M627.8,1932.0L632.2,1932.0M641.0,1932.0L645.5,1932.0M643.2,1943.1L643.2,1932.0M636.6,1943.1L643.2,1943.1M630.0,1939.3L630.0,1932.0M639.9,1939.3L639.9,1943.1M630.0,1939.3L639.9,1939.3M635.0,1935.5L635.0,1939.3M623.4,1935.5L635.0,1935.5M629.2,1931.7L629.2,1935.5M618.9,1931.7L629.2,1931.7M624.0,1927.9L624.0,1931.7M614.5,1927.9L624.0,1927.9M619.3,1924.1L619.3,1927.9M610.1,1924.1L619.3,1924.1M614.7,1920.3L614.7,1924.1M605.7,1920.3L614.7,1920.3M610.2,1916.5L610.2,1920.3M601.3,1916.5L610.2,1916.5M605.7,1912.7L605.7,1916.5M596.8,1912.7L605.7,1912.7M601.3,1908.9L601.3,1912.7M592.4,1908.9L601.3,1908.9M585.8,1905.1L585.8,1913.4M596.8,1905.1L596.8,1908.9M585.8,1905.1L596.8,1905.1M591.3,1901.3L591.3,1905.1M579.2,1901.3L591.3,1901.3M585.2,1897.5L585.2,1901.3M574.7,1897.5L585.2,1897.5M568.1,1893.7L568.1,1897.6M580.0,1893.7L580.0,1897.5M568.1,1893.7L580.0,1893.7M654.3,1930.0L658.7,1930.0M676.4,1901.9L680.8,1901.9M685.2,1907.3L689.7,1907.3M698.5,1917.2L702.9,1917.2M700.7,1906.8L700.7,1917.2M694.1,1906.8L700.7,1906.8M711.8,1928.7L716.2,1928.7M714.0,1917.4L714.0,1928.7M714.0,1917.4L720.6,1917.4M747.1,1932.0L751.5,1932.0M749.3,1929.2L749.3,1932.0M742.7,1929.2L749.3,1929.2M746.0,1925.4L746.0,1929.2M738.3,1925.4L746.0,1925.4M742.1,1921.6L742.1,1925.4M733.9,1921.6L742.1,1921.6M738.0,1917.8L738.0,1921.6M729.4,1917.8L738.0,1917.8M733.7,1914.0L733.7,1917.8M725.0,1914.0L733.7,1914.0M717.3,1910.2L717.3,1917.4M729.4,1910.2L729.4,1914.0M717.3,1910.2L729.4,1910.2M723.3,1906.4L723.3,1910.2M707.3,1906.4L723.3,1906.4M697.4,1902.6L697.4,1906.8M715.3,1902.6L715.3,1906.4M697.4,1902.6L715.3,1902.6M687.4,1898.8L687.4,1907.3M706.4,1898.8L706.4,1902.6M687.4,1898.8L706.4,1898.8M678.6,1895.0L678.6,1901.9M696.9,1895.0L696.9,1898.8M678.6,1895.0L696.9,1895.0M687.7,1891.2L687.7,1895.0M672.0,1891.2L687.7,1891.2M679.9,1887.4L679.9,1891.2M667.6,1887.4L679.9,1887.4M673.7,1883.6L673.7,1887.4M663.1,1883.6L673.7,1883.6M764.8,1931.5L769.2,1931.5M767.0,1920.4L767.0,1931.5M760.4,1920.4L767.0,1920.4M763.7,1914.8L763.7,1920.4M756.0,1914.8L763.7,1914.8M795.7,1931.2L800.2,1931.2M804.6,1932.0L809.0,1932.0M813.4,1932.0L817.8,1932.0M822.3,1932.0L826.7,1932.0M815.6,1930.9L815.6,1932.0M824.5,1930.9L824.5,1932.0M815.6,1930.9L824.5,1930.9M806.8,1927.1L806.8,1932.0M820.0,1927.1L820.0,1930.9M806.8,1927.1L820.0,1927.1M797.9,1923.3L797.9,1931.2M813.4,1923.3L813.4,1927.1M797.9,1923.3L813.4,1923.3M805.7,1919.5L805.7,1923.3M791.3,1919.5L805.7,1919.5M798.5,1915.7L798.5,1919.5M786.9,1915.7L798.5,1915.7M792.7,1911.9L792.7,1915.7M782.5,1911.9L792.7,1911.9M787.6,1908.1L787.6,1911.9M778.1,1908.1L787.6,1908.1M782.8,1904.3L782.8,1908.1M773.6,1904.3L782.8,1904.3M844.4,1929.1L848.8,1929.1M846.6,1923.4L846.6,1929.1M839.9,1923.4L846.6,1923.4M843.2,1919.1L843.2,1923.4M835.5,1919.1L843.2,1919.1M839.4,1914.8L839.4,1919.1M831.1,1914.8L839.4,1914.8M875.3,1926.0L879.7,1926.0M888.6,1932.0L893.0,1932.0M890.8,1926.8L890.8,1932.0M890.8,1926.8L897.4,1926.8M894.1,1923.0L894.1,1926.8M884.1,1923.0L894.1,1923.0M877.5,1919.2L877.5,1926.0M889.1,1919.2L889.1,1923.0M877.5,1919.2L889.1,1919.2M883.3,1915.4L883.3,1919.2M870.9,1915.4L883.3,1915.4M877.1,1911.6L877.1,1915.4M866.5,1911.6L877.1,1911.6M871.8,1907.8L871.8,1911.6M862.0,1907.8L871.8,1907.8M866.9,1904.0L866.9,1907.8M857.6,1904.0L866.9,1904.0M901.8,1928.3L906.2,1928.3M910.7,1929.6L915.1,1929.6M904.0,1919.8L904.0,1928.3M912.9,1919.8L912.9,1929.6M904.0,1919.8L912.9,1919.8M919.5,1930.4L923.9,1930.4M954.9,1929.6L959.3,1929.6M957.1,1922.0L957.1,1929.6M957.1,1922.0L963.7,1922.0M960.4,1917.0L960.4,1922.0M950.4,1917.0L960.4,1917.0M955.4,1912.0L955.4,1917.0M946.0,1912.0L955.4,1912.0M977.0,1913.1L981.4,1913.1M994.6,1927.2L999.1,1927.2M996.8,1915.8L996.8,1927.2M990.2,1915.8L996.8,1915.8M993.5,1910.4L993.5,1915.8M985.8,1910.4L993.5,1910.4M979.2,1905.0L979.2,1913.1M989.7,1905.0L989.7,1910.4M979.2,1905.0L989.7,1905.0M1034.4,1921.6L1038.8,1921.6M1036.6,1913.6L1036.6,1921.6M1030.0,1913.6L1036.6,1913.6M1033.3,1908.0L1033.3,1913.6M1025.6,1908.0L1033.3,1908.0M1029.4,1902.4L1029.4,1908.0M1021.2,1902.4L1029.4,1902.4M1025.3,1896.8L1025.3,1902.4M1016.7,1896.8L1025.3,1896.8M1021.0,1891.2L1021.0,1896.8M1012.3,1891.2L1021.0,1891.2M1016.7,1885.6L1016.7,1891.2M1007.9,1885.6L1016.7,1885.6M1012.3,1880.0L1012.3,1885.6M1003.5,1880.0L1012.3,1880.0M1047.7,1902.4L1052.1,1902.4M1069.8,1918.4L1074.2,1918.4M1072.0,1909.8L1072.0,1918.4M1065.4,1909.8L1072.0,1909.8M1068.7,1904.2L1068.7,1909.8M1060.9,1904.2L1068.7,1904.2M1064.8,1898.6L1064.8,1904.2M1056.5,1898.6L1064.8,1898.6M1049.9,1893.0L1049.9,1902.4M1060.7,1893.0L1060.7,1898.6M1049.9,1893.0L1060.7,1893.0M1083.0,1909.9L1087.5,1909.9M1105.1,1927.0L1109.6,1927.0M1107.3,1917.4L1107.3,1927.0M1100.7,1917.4L1107.3,1917.4M1104.0,1912.6L1104.0,1917.4M1096.3,1912.6L1104.0,1912.6M1100.2,1907.7L1100.2,1912.6M1091.9,1907.7L1100.2,1907.7M1085.2,1902.9L1085.2,1909.9M1096.0,1902.9L1096.0,1907.7M1085.2,1902.9L1096.0,1902.9M1090.6,1898.0L1090.6,1902.9M1078.6,1898.0L1090.6,1898.0M1127.2,1930.2L1131.7,1930.2M1129.4,1920.6L1129.4,1930.2M1122.8,1920.6L1129.4,1920.6M1126.1,1915.0L1126.1,1920.6M1118.4,1915.0L1126.1,1915.0M1149.3,1927.8L1153.8,1927.8M1151.5,1920.0L1151.5,1927.8M1144.9,1920.0L1151.5,1920.0M1148.2,1919.1L1148.2,1920.0M1140.5,1919.1L1148.2,1919.1M1144.4,1913.9L1144.4,1919.1M1136.1,1913.9L1144.4,1913.9M1122.3,1908.7L1122.3,1915.0M1140.2,1908.7L1140.2,1913.9M1122.3,1908.7L1140.2,1908.7M1131.2,1903.5L1131.2,1908.7M1114.0,1903.5L1131.2,1903.5M1084.6,1898.3L1084.6,1898.0M1122.6,1898.3L1122.6,1903.5M1084.6,1898.3L1122.6,1898.3M1055.3,1893.1L1055.3,1893.0M1103.6,1893.1L1103.6,1898.3M1055.3,1893.1L1103.6,1893.1M1079.4,1887.9L1079.4,1893.1M1043.3,1887.9L1079.4,1887.9M1007.9,1882.7L1007.9,1880.0M1061.3,1882.7L1061.3,1887.9M1007.9,1882.7L1061.3,1882.7M984.4,1877.5L984.4,1905.0M1034.6,1877.5L1034.6,1882.7M984.4,1877.5L1034.6,1877.5M1009.5,1872.3L1009.5,1877.5M972.5,1872.3L1009.5,1872.3M991.0,1867.1L991.0,1872.3M968.1,1867.1L991.0,1867.1M950.7,1861.9L950.7,1912.0M979.6,1861.9L979.6,1867.1M950.7,1861.9L979.6,1861.9M965.1,1856.7L965.1,1861.9M941.6,1856.7L965.1,1856.7M953.4,1851.5L953.4,1856.7M937.2,1851.5L953.4,1851.5M1198.0,1932.0L1202.4,1932.0M1200.2,1924.0L1200.2,1932.0M1193.5,1924.0L1200.2,1924.0M1196.8,1920.0L1196.8,1924.0M1189.1,1920.0L1196.8,1920.0M1193.0,1916.0L1193.0,1920.0M1184.7,1916.0L1193.0,1916.0M1188.8,1912.0L1188.8,1916.0M1180.3,1912.0L1188.8,1912.0M1184.6,1908.0L1184.6,1912.0M1175.9,1908.0L1184.6,1908.0M1180.2,1904.0L1180.2,1908.0M1171.4,1904.0L1180.2,1904.0M1215.6,1918.2L1220.1,1918.2M1237.7,1931.7L1242.2,1931.7M1239.9,1923.0L1239.9,1931.7M1233.3,1923.0L1239.9,1923.0M1236.6,1919.2L1236.6,1923.0M1228.9,1919.2L1236.6,1919.2M1232.8,1915.4L1232.8,1919.2M1224.5,1915.4L1232.8,1915.4M1217.8,1911.6L1217.8,1918.2M1228.6,1911.6L1228.6,1915.4M1217.8,1911.6L1228.6,1911.6M1223.2,1907.8L1223.2,1911.6M1211.2,1907.8L1223.2,1907.8M1217.2,1904.0L1217.2,1907.8M1206.8,1904.0L1217.2,1904.0M1277.5,1932.0L1281.9,1932.0M1279.7,1923.3L1279.7,1932.0M1273.1,1923.3L1279.7,1923.3M1276.4,1919.0L1276.4,1923.3M1268.7,1919.0L1276.4,1919.0M1272.5,1914.7L1272.5,1919.0M1264.3,1914.7L1272.5,1914.7M1268.4,1910.3L1268.4,1914.7M1259.8,1910.3L1268.4,1910.3M1264.1,1906.0L1264.1,1910.3M1255.4,1906.0L1264.1,1906.0M1304.0,1930.6L1308.5,1930.6M1306.2,1921.0L1306.2,1930.6M1299.6,1921.0L1306.2,1921.0M1302.9,1915.5L1302.9,1921.0M1295.2,1915.5L1302.9,1915.5M1299.1,1910.0L1299.1,1915.5M1290.8,1910.0L1299.1,1910.0M1330.6,1925.6L1335.0,1925.6M1343.8,1926.9L1348.2,1926.9M1346.0,1920.0L1346.0,1926.9M1339.4,1920.0L1346.0,1920.0M1332.8,1916.0L1332.8,1925.6M1342.7,1916.0L1342.7,1920.0M1332.8,1916.0L1342.7,1916.0M1337.7,1912.0L1337.7,1916.0M1326.1,1912.0L1337.7,1912.0M1331.9,1908.0L1331.9,1912.0M1321.7,1908.0L1331.9,1908.0M1326.8,1904.0L1326.8,1908.0M1317.3,1904.0L1326.8,1904.0M1322.1,1900.0L1322.1,1904.0M1312.9,1900.0L1322.1,1900.0M1370.3,1931.1L1374.8,1931.1M1372.5,1920.8L1372.5,1931.1M1372.5,1920.8L1379.2,1920.8M1375.9,1915.2L1375.9,1920.8M1365.9,1915.2L1375.9,1915.2M1370.9,1909.6L1370.9,1915.2M1361.5,1909.6L1370.9,1909.6M1366.2,1904.0L1366.2,1909.6M1357.1,1904.0L1366.2,1904.0M1410.1,1931.5L1414.5,1931.5M1412.3,1923.3L1412.3,1931.5M1405.7,1923.3L1412.3,1923.3M1409.0,1919.0L1409.0,1923.3M1401.3,1919.0L1409.0,1919.0M1405.1,1914.7L1405.1,1919.0M1396.9,1914.7L1405.1,1914.7M1401.0,1910.3L1401.0,1914.7M1392.4,1910.3L1401.0,1910.3M1396.7,1906.0L1396.7,1910.3M1388.0,1906.0L1396.7,1906.0M1392.4,1893.0L1392.4,1906.0M1383.6,1893.0L1392.4,1893.0M1361.6,1887.8L1361.6,1904.0M1388.0,1887.8L1388.0,1893.0M1361.6,1887.8L1388.0,1887.8M1374.8,1882.6L1374.8,1887.8M1352.7,1882.6L1374.8,1882.6M1317.5,1877.4L1317.5,1900.0M1363.7,1877.4L1363.7,1882.6M1317.5,1877.4L1363.7,1877.4M1294.9,1872.2L1294.9,1910.0M1340.6,1872.2L1340.6,1877.4M1294.9,1872.2L1340.6,1872.2M1317.8,1867.0L1317.8,1872.2M1286.4,1867.0L1317.8,1867.0M1259.8,1861.8L1259.8,1906.0M1302.1,1861.8L1302.1,1867.0M1259.8,1861.8L1302.1,1861.8M1280.9,1856.6L1280.9,1861.8M1251.0,1856.6L1280.9,1856.6M1265.9,1851.4L1265.9,1856.6M1246.6,1851.4L1265.9,1851.4M1212.0,1846.2L1212.0,1904.0M1256.3,1846.2L1256.3,1851.4M1212.0,1846.2L1256.3,1846.2M1175.8,1841.0L1175.8,1904.0M1234.1,1841.0L1234.1,1846.2M1175.8,1841.0L1234.1,1841.0M1205.0,1835.8L1205.0,1841.0M1167.0,1835.8L1205.0,1835.8M1186.0,1830.6L1186.0,1835.8M1162.6,1830.6L1186.0,1830.6M1174.3,1825.4L1174.3,1830.6M1158.2,1825.4L1174.3,1825.4M945.3,1820.8L945.3,1851.5M1166.2,1820.8L1166.2,1825.4M945.3,1820.8L1166.2,1820.8M1055.7,1815.5L1055.7,1820.8M932.8,1815.5L1055.7,1815.5M994.2,1810.2L994.2,1815.5M928.3,1810.2L994.2,1810.2M921.7,1804.9L921.7,1930.4M961.3,1804.9L961.3,1810.2M921.7,1804.9L961.3,1804.9M908.4,1799.6L908.4,1919.8M941.5,1799.6L941.5,1804.9M908.4,1799.6L941.5,1799.6M862.3,1794.3L862.3,1904.0M925.0,1794.3L925.0,1799.6M862.3,1794.3L925.0,1794.3M893.6,1789.0L893.6,1794.3M853.2,1789.0L893.6,1789.0M835.2,1783.7L835.2,1914.8M873.4,1783.7L873.4,1789.0M835.2,1783.7L873.4,1783.7M778.2,1778.4L778.2,1904.3M854.3,1778.4L854.3,1783.7M778.2,1778.4L854.3,1778.4M759.8,1773.1L759.8,1914.8M816.3,1773.1L816.3,1778.4M759.8,1773.1L816.3,1773.1M668.4,1767.8L668.4,1883.6M788.0,1767.8L788.0,1773.1M668.4,1767.8L788.0,1767.8M656.5,1762.5L656.5,1930.0M728.2,1762.5L728.2,1767.8M656.5,1762.5L728.2,1762.5M692.4,1757.2L692.4,1762.5M649.9,1757.2L692.4,1757.2M574.0,1751.9L574.0,1893.7M671.1,1751.9L671.1,1757.2M574.0,1751.9L671.1,1751.9M559.3,1746.6L559.3,1930.8M622.6,1746.6L622.6,1751.9M559.3,1746.6L622.6,1746.6M1427.8,1925.8L1432.2,1925.8M1430.0,1920.0L1430.0,1925.8M1423.4,1920.0L1430.0,1920.0M1441.1,1926.2L1445.5,1926.2M1443.3,1918.0L1443.3,1926.2M1443.3,1918.0L1449.9,1918.0M1454.3,1929.0L1458.7,1929.0M1446.6,1908.6L1446.6,1918.0M1456.5,1908.6L1456.5,1929.0M1446.6,1908.6L1456.5,1908.6M1451.5,1903.4L1451.5,1908.6M1436.6,1903.4L1451.5,1903.4M1426.7,1898.2L1426.7,1920.0M1444.1,1898.2L1444.1,1903.4M1426.7,1898.2L1444.1,1898.2M1435.4,1893.0L1435.4,1898.2M1419.0,1893.0L1435.4,1893.0M1472.0,1930.0L1476.4,1930.0M1474.2,1920.6L1474.2,1930.0M1467.6,1920.6L1474.2,1920.6M1470.9,1915.0L1470.9,1920.6M1463.2,1915.0L1470.9,1915.0M1489.7,1909.9L1494.1,1909.9M1507.4,1921.6L1511.8,1921.6M1509.6,1915.2L1509.6,1921.6M1502.9,1915.2L1509.6,1915.2M1506.2,1909.6L1506.2,1915.2M1498.5,1909.6L1506.2,1909.6M1491.9,1904.0L1491.9,1909.9M1502.4,1904.0L1502.4,1909.6M1491.9,1904.0L1502.4,1904.0M1525.0,1905.1L1529.5,1905.1M1527.2,1898.0L1527.2,1905.1M1520.6,1898.0L1527.2,1898.0M1533.9,1911.0L1538.3,1911.0M1536.1,1903.0L1536.1,1911.0M1536.1,1903.0L1542.7,1903.0M1547.1,1904.9L1551.6,1904.9M1564.8,1913.3L1569.2,1913.3M1567.0,1907.0L1567.0,1913.3M1560.4,1907.0L1567.0,1907.0M1563.7,1903.2L1563.7,1907.0M1556.0,1903.2L1563.7,1903.2M1549.3,1899.4L1549.3,1904.9M1559.8,1899.4L1559.8,1903.2M1549.3,1899.4L1559.8,1899.4M1539.4,1895.6L1539.4,1903.0M1554.6,1895.6L1554.6,1899.4M1539.4,1895.6L1554.6,1895.6M1523.9,1891.8L1523.9,1898.0M1547.0,1891.8L1547.0,1895.6M1523.9,1891.8L1547.0,1891.8M1535.5,1888.0L1535.5,1891.8M1516.2,1888.0L1535.5,1888.0M1573.7,1895.9L1578.1,1895.9M1591.3,1908.8L1595.8,1908.8M1604.6,1918.7L1609.0,1918.7M1617.9,1921.6L1622.3,1921.6M1620.1,1912.9L1620.1,1921.6M1613.4,1912.9L1620.1,1912.9M1606.8,1909.1L1606.8,1918.7M1616.7,1909.1L1616.7,1912.9M1606.8,1909.1L1616.7,1909.1M1611.8,1905.3L1611.8,1909.1M1600.2,1905.3L1611.8,1905.3M1593.5,1901.5L1593.5,1908.8M1606.0,1901.5L1606.0,1905.3M1593.5,1901.5L1606.0,1901.5M1599.8,1897.6L1599.8,1901.5M1586.9,1897.6L1599.8,1897.6M1593.3,1893.8L1593.3,1897.6M1582.5,1893.8L1593.3,1893.8M1575.9,1890.0L1575.9,1895.9M1587.9,1890.0L1587.9,1893.8M1575.9,1890.0L1587.9,1890.0M1525.8,1878.6L1525.8,1888.0M1581.9,1878.6L1581.9,1890.0M1525.8,1878.6L1581.9,1878.6M1644.4,1920.4L1648.8,1920.4M1662.1,1929.1L1666.5,1929.1M1664.3,1919.0L1664.3,1929.1M1657.6,1919.0L1664.3,1919.0M1660.9,1914.7L1660.9,1919.0M1653.2,1914.7L1660.9,1914.7M1646.6,1910.3L1646.6,1920.4M1657.1,1910.3L1657.1,1914.7M1646.6,1910.3L1657.1,1910.3M1651.8,1906.0L1651.8,1910.3M1640.0,1906.0L1651.8,1906.0M1645.9,1901.7L1645.9,1906.0M1635.5,1901.7L1645.9,1901.7M1640.7,1897.3L1640.7,1901.7M1631.1,1897.3L1640.7,1897.3M1635.9,1893.0L1635.9,1897.3M1626.7,1893.0L1635.9,1893.0M1684.2,1924.8L1688.6,1924.8M1686.4,1919.2L1686.4,1924.8M1679.7,1919.2L1686.4,1919.2M1683.0,1913.6L1683.0,1919.2M1675.3,1913.6L1683.0,1913.6M1679.2,1908.0L1679.2,1913.6M1670.9,1908.0L1679.2,1908.0M1697.4,1904.9L1701.8,1904.9M1715.1,1921.9L1719.5,1921.9M1723.9,1918.8L1728.4,1918.8M1717.3,1911.4L1717.3,1921.9M1726.1,1911.4L1726.1,1918.8M1717.3,1911.4L1726.1,1911.4M1721.7,1906.3L1721.7,1911.4M1710.7,1906.3L1721.7,1906.3M1716.2,1901.1L1716.2,1906.3M1706.3,1901.1L1716.2,1901.1M1699.6,1896.0L1699.6,1904.9M1711.2,1896.0L1711.2,1901.1M1699.6,1896.0L1711.2,1896.0M1741.6,1915.8L1746.0,1915.8M1743.8,1906.6L1743.8,1915.8M1737.2,1906.6L1743.8,1906.6M1763.7,1918.9L1768.1,1918.9M1765.9,1912.5L1765.9,1918.9M1759.3,1912.5L1765.9,1912.5M1762.6,1907.6L1762.6,1912.5M1754.9,1907.6L1762.6,1907.6M1758.7,1902.8L1758.7,1907.6M1750.5,1902.8L1758.7,1902.8M1740.5,1897.9L1740.5,1906.6M1754.6,1897.9L1754.6,1902.8M1740.5,1897.9L1754.6,1897.9M1747.5,1893.0L1747.5,1897.9M1732.8,1893.0L1747.5,1893.0M1799.1,1929.6L1803.5,1929.6M1801.3,1921.3L1801.3,1929.6M1794.7,1921.3L1801.3,1921.3M1798.0,1916.0L1798.0,1921.3M1790.2,1916.0L1798.0,1916.0M1794.1,1910.7L1794.1,1916.0M1785.8,1910.7L1794.1,1910.7M1790.0,1905.3L1790.0,1910.7M1781.4,1905.3L1790.0,1905.3M1785.7,1900.0L1785.7,1905.3M1777.0,1900.0L1785.7,1900.0M1816.8,1909.0L1821.2,1909.0M1843.3,1922.7L1847.7,1922.7M1845.5,1918.0L1845.5,1922.7M1838.9,1918.0L1845.5,1918.0M1842.2,1913.3L1842.2,1918.0M1834.4,1913.3L1842.2,1913.3M1838.3,1908.7L1838.3,1913.3M1830.0,1908.7L1838.3,1908.7M1834.2,1904.0L1834.2,1908.7M1825.6,1904.0L1834.2,1904.0M1819.0,1899.3L1819.0,1909.0M1829.9,1899.3L1829.9,1904.0M1819.0,1899.3L1829.9,1899.3M1824.4,1894.7L1824.4,1899.3M1812.3,1894.7L1824.4,1894.7M1818.4,1890.0L1818.4,1894.7M1807.9,1890.0L1818.4,1890.0M1883.1,1927.9L1887.5,1927.9M1885.3,1922.0L1885.3,1927.9M1878.6,1922.0L1885.3,1922.0M1881.9,1917.0L1881.9,1922.0M1874.2,1917.0L1881.9,1917.0M1878.1,1912.0L1878.1,1917.0M1869.8,1912.0L1878.1,1912.0M1873.9,1907.0L1873.9,1912.0M1865.4,1907.0L1873.9,1907.0M1869.7,1902.0L1869.7,1907.0M1861.0,1902.0L1869.7,1902.0M1865.3,1897.0L1865.3,1902.0M1856.5,1897.0L1865.3,1897.0M1922.8,1927.8L1927.3,1927.8M1925.0,1922.2L1925.0,1927.8M1918.4,1922.2L1925.0,1922.2M1921.7,1917.4L1921.7,1922.2M1914.0,1917.4L1921.7,1917.4M1917.9,1912.5L1917.9,1917.4M1909.6,1912.5L1917.9,1912.5M1913.7,1907.6L1913.7,1912.5M1905.2,1907.6L1913.7,1907.6M1909.4,1902.8L1909.4,1907.6M1900.7,1902.8L1909.4,1902.8M1905.1,1897.9L1905.1,1902.8M1896.3,1897.9L1905.1,1897.9M1900.7,1893.0L1900.7,1897.9M1891.9,1893.0L1900.7,1893.0M1953.8,1929.8L1958.2,1929.8M1956.0,1921.3L1956.0,1929.8M1949.4,1921.3L1956.0,1921.3M1952.7,1916.0L1952.7,1921.3M1944.9,1916.0L1952.7,1916.0M1948.8,1910.7L1948.8,1916.0M1940.5,1910.7L1948.8,1910.7M1944.7,1905.3L1944.7,1910.7M1936.1,1905.3L1944.7,1905.3M1940.4,1900.0L1940.4,1905.3M1931.7,1900.0L1940.4,1900.0M1980.3,1914.3L1984.7,1914.3M2002.4,1926.1L2006.8,1926.1M2004.6,1918.2L2004.6,1926.1M1998.0,1918.2L2004.6,1918.2M2001.3,1913.6L2001.3,1918.2M1993.6,1913.6L2001.3,1913.6M1997.4,1909.0L1997.4,1913.6M1989.1,1909.0L1997.4,1909.0M1982.5,1904.4L1982.5,1914.3M1993.3,1904.4L1993.3,1909.0M1982.5,1904.4L1993.3,1904.4M1987.9,1899.8L1987.9,1904.4M1975.9,1899.8L1987.9,1899.8M1981.9,1895.2L1981.9,1899.8M1971.5,1895.2L1981.9,1895.2M1976.7,1890.6L1976.7,1895.2M1967.0,1890.6L1976.7,1890.6M1971.8,1886.0L1971.8,1890.6M1962.6,1886.0L1971.8,1886.0M2011.2,1906.7L2015.7,1906.7M2037.8,1925.2L2042.2,1925.2M2040.0,1917.4L2040.0,1925.2M2033.3,1917.4L2040.0,1917.4M2036.6,1912.6L2036.6,1917.4M2028.9,1912.6L2036.6,1912.6M2032.8,1907.7L2032.8,1912.6M2024.5,1907.7L2032.8,1907.7M2028.6,1902.9L2028.6,1907.7M2020.1,1902.9L2028.6,1902.9M2013.4,1898.0L2013.4,1906.7M2024.4,1898.0L2024.4,1902.9M2013.4,1898.0L2024.4,1898.0M2018.9,1885.5L2018.9,1898.0M2018.9,1885.5L2046.6,1885.5M1967.2,1881.6L1967.2,1886.0M2032.7,1881.6L2032.7,1885.5M1967.2,1881.6L2032.7,1881.6M1936.0,1877.7L1936.0,1900.0M2000.0,1877.7L2000.0,1881.6M1936.0,1877.7L2000.0,1877.7M1896.3,1873.8L1896.3,1893.0M1968.0,1873.8L1968.0,1877.7M1896.3,1873.8L1968.0,1873.8M1860.9,1869.9L1860.9,1897.0M1932.1,1869.9L1932.1,1873.8M1860.9,1869.9L1932.1,1869.9M1896.5,1866.0L1896.5,1869.9M1852.1,1866.0L1896.5,1866.0M1813.1,1862.1L1813.1,1890.0M1874.3,1862.1L1874.3,1866.0M1813.1,1862.1L1874.3,1862.1M1781.3,1858.2L1781.3,1900.0M1843.7,1858.2L1843.7,1862.1M1781.3,1858.2L1843.7,1858.2M1812.5,1854.3L1812.5,1858.2M1772.6,1854.3L1812.5,1854.3M1740.2,1850.4L1740.2,1893.0M1792.5,1850.4L1792.5,1854.3M1740.2,1850.4L1792.5,1850.4M1705.4,1846.5L1705.4,1896.0M1766.3,1846.5L1766.3,1850.4M1705.4,1846.5L1766.3,1846.5M1735.9,1842.6L1735.9,1846.5M1693.0,1842.6L1735.9,1842.6M1675.0,1838.7L1675.0,1908.0M1714.4,1838.7L1714.4,1842.6M1675.0,1838.7L1714.4,1838.7M1631.3,1834.8L1631.3,1893.0M1694.7,1834.8L1694.7,1838.7M1631.3,1834.8L1694.7,1834.8M1553.9,1830.9L1553.9,1878.6M1663.0,1830.9L1663.0,1834.8M1553.9,1830.9L1663.0,1830.9M1497.1,1827.0L1497.1,1904.0M1608.4,1827.0L1608.4,1830.9M1497.1,1827.0L1608.4,1827.0M1552.8,1823.1L1552.8,1827.0M1485.3,1823.1L1552.8,1823.1M1519.0,1819.2L1519.0,1823.1M1480.8,1819.2L1519.0,1819.2M1467.0,1815.3L1467.0,1915.0M1499.9,1815.3L1499.9,1819.2M1467.0,1815.3L1499.9,1815.3M1427.2,1809.5L1427.2,1893.0M1483.5,1809.5L1483.5,1815.3M1427.2,1809.5L1483.5,1809.5M590.9,1741.6L590.9,1746.6M1455.3,1741.6L1455.3,1809.5M590.9,1741.6L1455.3,1741.6M550.4,1736.6L550.4,1930.8M1023.1,1736.6L1023.1,1741.6M550.4,1736.6L1023.1,1736.6M361.7,1731.0L361.7,1825.9M786.8,1731.0L786.8,1736.6M361.7,1731.0L786.8,1731.0M136.8,1725.5L136.8,1846.1M574.2,1725.5L574.2,1731.0M136.8,1725.5L574.2,1725.5M355.5,1719.5L355.5,1725.5" stroke="#000" stroke-width="1.7" fill="none" stroke-linecap="square"/><text x="11" y="1691" font-size="33" text-anchor="start" fill="#000" font-weight="bold">d</text><rect x="1476.1" y="1715.3" width="44.2" height="19" fill="#4DAF4A"/><text x="1533.1" y="1732.8" font-size="26" text-anchor="start" fill="#000" font-style="italic">L. sativa</text><rect x="1476.1" y="1744.9" width="44.2" height="19" fill="#FDBF6F"/><text x="1533.1" y="1762.4" font-size="26" text-anchor="start" fill="#000" font-style="italic">L. serriola</text><rect x="1476.1" y="1774.5" width="44.2" height="19" fill="#4BB8D6"/><text x="1533.1" y="1792" font-size="26" text-anchor="start" fill="#000" font-style="italic">L. saligna</text><rect x="1662.2" y="1715.3" width="44.2" height="19" fill="#984EA3"/><text x="1719.2" y="1732.8" font-size="26" text-anchor="start" fill="#000" font-style="italic">L. virosa</text><rect x="1662.2" y="1744.9" width="44.2" height="19" fill="#CD78A8"/><text x="1719.2" y="1762.4" font-size="26" text-anchor="start" fill="#000" font-style="italic">L. georgica</text><rect x="1662.2" y="1774.5" width="44.2" height="19" fill="#3B5289"/><text x="1719.2" y="1792" font-size="26" text-anchor="start" fill="#000" font-style="italic">L. aculeata</text><rect x="1862.7" y="1715.3" width="44.2" height="19" fill="#8190B6"/><text x="1919.7" y="1732.8" font-size="26" text-anchor="start" fill="#000" font-style="italic">L. altaica</text><rect x="1862.7" y="1744.9" width="44.2" height="19" fill="#8ECFBB"/><text x="1919.7" y="1762.4" font-size="26" text-anchor="start" fill="#000" font-style="italic">L. dregeana</text><rect x="1862.7" y="1774.5" width="44.2" height="19" fill="#7C5C44"/><text x="1919.7" y="1792" font-size="26" text-anchor="start" fill="#000" font-style="italic">L. sagittata</text><g shape-rendering="crispEdges"><rect x="104" y="1939" width="35" height="101.5" fill="#984EA3"/><rect x="104" y="2040.5" width="35" height="25.5" fill="#4BB8D6"/><rect x="104" y="2066" width="35" height="1.5" fill="#E44B33"/><rect x="104" y="2067.5" width="35" height="4.5" fill="#4DAF4A"/><rect x="139" y="1939" width="159.4" height="113" fill="#984EA3"/><rect x="139" y="2052" width="159.4" height="20" fill="#4BB8D6"/><rect x="298.4" y="1939" width="247.3" height="133" fill="#4BB8D6"/><rect x="545.7" y="1939" width="5" height="19" fill="#984EA3"/><rect x="545.7" y="1958" width="5" height="14" fill="#4BB8D6"/><rect x="545.7" y="1972" width="5" height="10.6" fill="#FDBF6F"/><rect x="545.7" y="1982.6" width="5" height="60.4" fill="#E44B33"/><rect x="545.7" y="2043" width="5" height="29" fill="#4DAF4A"/><rect x="550.7" y="1939" width="4.2" height="19" fill="#984EA3"/><rect x="550.7" y="1958" width="4.2" height="14" fill="#4BB8D6"/><rect x="550.7" y="1972" width="4.2" height="5" fill="#FDBF6F"/><rect x="550.7" y="1977" width="4.2" height="63" fill="#E44B33"/><rect x="550.7" y="2040" width="4.2" height="32" fill="#4DAF4A"/><rect x="554.9" y="1939" width="8.8" height="109.5" fill="#E44B33"/><rect x="554.9" y="2048.5" width="8.8" height="23.5" fill="#4DAF4A"/><rect x="563.7" y="1939" width="5" height="133" fill="#E44B33"/><rect x="568.7" y="1939" width="3.3" height="11" fill="#FDBF6F"/><rect x="568.7" y="1950" width="3.3" height="122" fill="#E44B33"/><rect x="572" y="1939" width="27" height="133" fill="#E44B33"/><rect x="599" y="1939" width="7" height="121.5" fill="#E44B33"/><rect x="599" y="2060.5" width="7" height="11.5" fill="#4DAF4A"/><rect x="606" y="1939" width="7" height="124" fill="#E44B33"/><rect x="606" y="2063" width="7" height="9" fill="#4DAF4A"/><rect x="613" y="1939" width="7" height="126.5" fill="#E44B33"/><rect x="613" y="2065.5" width="7" height="6.5" fill="#4DAF4A"/><rect x="620" y="1939" width="18.8" height="128" fill="#E44B33"/><rect x="620" y="2067" width="18.8" height="5" fill="#4DAF4A"/><rect x="638.8" y="1939" width="2.2" height="12" fill="#FDBF6F"/><rect x="638.8" y="1951" width="2.2" height="109" fill="#E44B33"/><rect x="638.8" y="2060" width="2.2" height="12" fill="#4DAF4A"/><rect x="641" y="1939" width="4" height="118" fill="#E44B33"/><rect x="641" y="2057" width="4" height="15" fill="#4DAF4A"/><rect x="645" y="1939" width="7" height="117" fill="#E44B33"/><rect x="645" y="2056" width="7" height="16" fill="#4DAF4A"/><rect x="652" y="1939" width="4.5" height="127" fill="#E44B33"/><rect x="652" y="2066" width="4.5" height="6" fill="#4DAF4A"/><rect x="656.5" y="1939" width="3.5" height="133" fill="#E44B33"/><rect x="660" y="1939" width="5" height="5" fill="#FDBF6F"/><rect x="660" y="1944" width="5" height="128" fill="#E44B33"/><rect x="665" y="1939" width="66" height="133" fill="#E44B33"/><rect x="731" y="1939" width="7" height="2" fill="#984EA3"/><rect x="731" y="1941" width="7" height="14" fill="#FDBF6F"/><rect x="731" y="1955" width="7" height="117" fill="#E44B33"/><rect x="738" y="1939" width="7" height="2" fill="#984EA3"/><rect x="738" y="1941" width="7" height="21" fill="#FDBF6F"/><rect x="738" y="1962" width="7" height="110" fill="#E44B33"/><rect x="745" y="1939" width="3" height="3" fill="#984EA3"/><rect x="745" y="1942" width="3" height="29" fill="#FDBF6F"/><rect x="745" y="1971" width="3" height="101" fill="#E44B33"/><rect x="748" y="1939" width="4" height="3" fill="#984EA3"/><rect x="748" y="1942" width="4" height="31" fill="#FDBF6F"/><rect x="748" y="1973" width="4" height="99" fill="#E44B33"/><rect x="752" y="1939" width="3" height="3" fill="#984EA3"/><rect x="752" y="1942" width="3" height="25" fill="#FDBF6F"/><rect x="752" y="1967" width="3" height="105" fill="#E44B33"/><rect x="755" y="1939" width="3.2" height="4" fill="#984EA3"/><rect x="755" y="1943" width="3.2" height="17" fill="#FDBF6F"/><rect x="755" y="1960" width="3.2" height="112" fill="#E44B33"/><rect x="758.2" y="1939" width="3.8" height="6" fill="#984EA3"/><rect x="758.2" y="1945" width="3.8" height="13" fill="#FDBF6F"/><rect x="758.2" y="1958" width="3.8" height="114" fill="#E44B33"/><rect x="762" y="1939" width="23" height="7" fill="#984EA3"/><rect x="762" y="1946" width="23" height="18" fill="#FDBF6F"/><rect x="762" y="1964" width="23" height="108" fill="#E44B33"/><rect x="785" y="1939" width="5" height="7" fill="#984EA3"/><rect x="785" y="1946" width="5" height="16" fill="#FDBF6F"/><rect x="785" y="1962" width="5" height="110" fill="#E44B33"/><rect x="790" y="1939" width="7" height="7" fill="#984EA3"/><rect x="790" y="1946" width="7" height="13" fill="#FDBF6F"/><rect x="790" y="1959" width="7" height="113" fill="#E44B33"/><rect x="797" y="1939" width="9" height="7" fill="#984EA3"/><rect x="797" y="1946" width="9" height="9" fill="#FDBF6F"/><rect x="797" y="1955" width="9" height="117" fill="#E44B33"/><rect x="806" y="1939" width="9" height="7" fill="#984EA3"/><rect x="806" y="1946" width="9" height="7" fill="#FDBF6F"/><rect x="806" y="1953" width="9" height="119" fill="#E44B33"/><rect x="815" y="1939" width="3" height="7" fill="#984EA3"/><rect x="815" y="1946" width="3" height="30" fill="#FDBF6F"/><rect x="815" y="1976" width="3" height="96" fill="#E44B33"/><rect x="818" y="1939" width="3" height="7" fill="#984EA3"/><rect x="818" y="1946" width="3" height="48" fill="#FDBF6F"/><rect x="818" y="1994" width="3" height="78" fill="#E44B33"/><rect x="821" y="1939" width="4" height="7" fill="#984EA3"/><rect x="821" y="1946" width="4" height="27" fill="#FDBF6F"/><rect x="821" y="1973" width="4" height="99" fill="#E44B33"/><rect x="825" y="1939" width="17.1" height="7" fill="#984EA3"/><rect x="825" y="1946" width="17.1" height="30" fill="#FDBF6F"/><rect x="825" y="1976" width="17.1" height="96" fill="#E44B33"/><rect x="842.1" y="1939" width="3.9" height="5" fill="#984EA3"/><rect x="842.1" y="1944" width="3.9" height="84" fill="#FDBF6F"/><rect x="842.1" y="2028" width="3.9" height="44" fill="#E44B33"/><rect x="846" y="1939" width="4" height="5" fill="#984EA3"/><rect x="846" y="1944" width="4" height="88" fill="#FDBF6F"/><rect x="846" y="2032" width="4" height="40" fill="#E44B33"/><rect x="850" y="1939" width="6" height="5" fill="#984EA3"/><rect x="850" y="1944" width="6" height="90" fill="#FDBF6F"/><rect x="850" y="2034" width="6" height="38" fill="#E44B33"/><rect x="856" y="1939" width="6" height="5" fill="#984EA3"/><rect x="856" y="1944" width="6" height="92" fill="#FDBF6F"/><rect x="856" y="2036" width="6" height="36" fill="#E44B33"/><rect x="862" y="1939" width="4" height="5" fill="#984EA3"/><rect x="862" y="1944" width="4" height="93" fill="#FDBF6F"/><rect x="862" y="2037" width="4" height="35" fill="#E44B33"/><rect x="866" y="1939" width="7" height="5" fill="#984EA3"/><rect x="866" y="1944" width="7" height="104" fill="#FDBF6F"/><rect x="866" y="2048" width="7" height="24" fill="#E44B33"/><rect x="873" y="1939" width="4" height="5" fill="#984EA3"/><rect x="873" y="1944" width="4" height="106" fill="#FDBF6F"/><rect x="873" y="2050" width="4" height="12" fill="#E44B33"/><rect x="873" y="2062" width="4" height="10" fill="#4DAF4A"/><rect x="877" y="1939" width="6" height="5" fill="#984EA3"/><rect x="877" y="1944" width="6" height="103" fill="#FDBF6F"/><rect x="877" y="2047" width="6" height="25" fill="#E44B33"/><rect x="883" y="1939" width="7.9" height="5" fill="#984EA3"/><rect x="883" y="1944" width="7.9" height="101" fill="#FDBF6F"/><rect x="883" y="2045" width="7.9" height="13" fill="#E44B33"/><rect x="883" y="2058" width="7.9" height="14" fill="#4DAF4A"/><rect x="890.9" y="1939" width="9.1" height="2" fill="#984EA3"/><rect x="890.9" y="1941" width="9.1" height="104" fill="#FDBF6F"/><rect x="890.9" y="2045" width="9.1" height="13" fill="#E44B33"/><rect x="890.9" y="2058" width="9.1" height="14" fill="#4DAF4A"/><rect x="900" y="1939" width="5" height="2" fill="#984EA3"/><rect x="900" y="1941" width="5" height="125" fill="#FDBF6F"/><rect x="900" y="2066" width="5" height="3" fill="#E44B33"/><rect x="900" y="2069" width="5" height="3" fill="#4DAF4A"/><rect x="905" y="1939" width="4" height="2" fill="#984EA3"/><rect x="905" y="1941" width="4" height="123" fill="#FDBF6F"/><rect x="905" y="2064" width="4" height="2" fill="#E44B33"/><rect x="905" y="2066" width="4" height="6" fill="#4DAF4A"/><rect x="909" y="1939" width="8" height="2" fill="#984EA3"/><rect x="909" y="1941" width="8" height="111" fill="#FDBF6F"/><rect x="909" y="2052" width="8" height="10" fill="#E44B33"/><rect x="909" y="2062" width="8" height="10" fill="#4DAF4A"/><rect x="917" y="1939" width="13" height="6" fill="#984EA3"/><rect x="917" y="1945" width="13" height="110" fill="#FDBF6F"/><rect x="917" y="2055" width="13" height="17" fill="#E44B33"/><rect x="930" y="1939" width="10" height="6" fill="#984EA3"/><rect x="930" y="1945" width="10" height="122" fill="#FDBF6F"/><rect x="930" y="2067" width="10" height="5" fill="#E44B33"/><rect x="940" y="1939" width="4" height="6" fill="#984EA3"/><rect x="940" y="1945" width="4" height="115" fill="#FDBF6F"/><rect x="940" y="2060" width="4" height="12" fill="#E44B33"/><rect x="944" y="1939" width="11" height="6" fill="#984EA3"/><rect x="944" y="1945" width="11" height="119" fill="#FDBF6F"/><rect x="944" y="2064" width="11" height="8" fill="#E44B33"/><rect x="955" y="1939" width="7" height="6" fill="#984EA3"/><rect x="955" y="1945" width="7" height="123" fill="#FDBF6F"/><rect x="955" y="2068" width="7" height="4" fill="#E44B33"/><rect x="962" y="1939" width="8" height="6" fill="#984EA3"/><rect x="962" y="1945" width="8" height="118" fill="#FDBF6F"/><rect x="962" y="2063" width="8" height="9" fill="#E44B33"/><rect x="970" y="1939" width="5" height="6" fill="#984EA3"/><rect x="970" y="1945" width="5" height="124" fill="#FDBF6F"/><rect x="970" y="2069" width="5" height="3" fill="#E44B33"/><rect x="975" y="1939" width="44" height="6" fill="#984EA3"/><rect x="975" y="1945" width="44" height="127" fill="#FDBF6F"/><rect x="1019" y="1939" width="4" height="6" fill="#984EA3"/><rect x="1019" y="1945" width="4" height="122" fill="#FDBF6F"/><rect x="1019" y="2067" width="4" height="5" fill="#E44B33"/><rect x="1023" y="1939" width="12" height="6" fill="#984EA3"/><rect x="1023" y="1945" width="12" height="127" fill="#FDBF6F"/><rect x="1035" y="1939" width="10" height="6" fill="#984EA3"/><rect x="1035" y="1945" width="10" height="123" fill="#FDBF6F"/><rect x="1035" y="2068" width="10" height="4" fill="#E44B33"/><rect x="1045" y="1939" width="5" height="6" fill="#984EA3"/><rect x="1045" y="1945" width="5" height="119" fill="#FDBF6F"/><rect x="1045" y="2064" width="5" height="8" fill="#E44B33"/><rect x="1050" y="1939" width="22" height="6" fill="#984EA3"/><rect x="1050" y="1945" width="22" height="124" fill="#FDBF6F"/><rect x="1050" y="2069" width="22" height="3" fill="#E44B33"/><rect x="1072" y="1939" width="40" height="6" fill="#984EA3"/><rect x="1072" y="1945" width="40" height="127" fill="#FDBF6F"/><rect x="1112" y="1939" width="8" height="6" fill="#984EA3"/><rect x="1112" y="1945" width="8" height="123" fill="#FDBF6F"/><rect x="1112" y="2068" width="8" height="4" fill="#E44B33"/><rect x="1120" y="1939" width="35.9" height="6" fill="#984EA3"/><rect x="1120" y="1945" width="35.9" height="127" fill="#FDBF6F"/><rect x="1155.9" y="1939" width="9.1" height="3" fill="#984EA3"/><rect x="1155.9" y="1942" width="9.1" height="123" fill="#FDBF6F"/><rect x="1155.9" y="2065" width="9.1" height="7" fill="#E44B33"/><rect x="1165" y="1939" width="44" height="3" fill="#984EA3"/><rect x="1165" y="1942" width="44" height="130" fill="#FDBF6F"/><rect x="1209" y="1939" width="41" height="4" fill="#984EA3"/><rect x="1209" y="1943" width="41" height="129" fill="#FDBF6F"/><rect x="1250" y="1939" width="17" height="2" fill="#984EA3"/><rect x="1250" y="1941" width="17" height="127" fill="#FDBF6F"/><rect x="1250" y="2068" width="17" height="4" fill="#4DAF4A"/><rect x="1267" y="1939" width="40" height="2" fill="#984EA3"/><rect x="1267" y="1941" width="40" height="131" fill="#FDBF6F"/><rect x="1307" y="1939" width="110" height="133" fill="#FDBF6F"/><rect x="1417" y="1939" width="4.4" height="81" fill="#FDBF6F"/><rect x="1417" y="2020" width="4.4" height="6" fill="#E44B33"/><rect x="1417" y="2026" width="4.4" height="46" fill="#4DAF4A"/><rect x="1421.4" y="1939" width="4.5" height="79" fill="#FDBF6F"/><rect x="1421.4" y="2018" width="4.5" height="54" fill="#4DAF4A"/><rect x="1425.9" y="1939" width="8.9" height="79" fill="#FDBF6F"/><rect x="1425.9" y="2018" width="8.9" height="4" fill="#E44B33"/><rect x="1425.9" y="2022" width="8.9" height="50" fill="#4DAF4A"/><rect x="1434.8" y="1939" width="4.5" height="38" fill="#FDBF6F"/><rect x="1434.8" y="1977" width="4.5" height="18" fill="#E44B33"/><rect x="1434.8" y="1995" width="4.5" height="77" fill="#4DAF4A"/><rect x="1439.3" y="1939" width="4.5" height="22" fill="#FDBF6F"/><rect x="1439.3" y="1961" width="4.5" height="19" fill="#E44B33"/><rect x="1439.3" y="1980" width="4.5" height="92" fill="#4DAF4A"/><rect x="1443.8" y="1939" width="4.5" height="29" fill="#FDBF6F"/><rect x="1443.8" y="1968" width="4.5" height="16" fill="#E44B33"/><rect x="1443.8" y="1984" width="4.5" height="88" fill="#4DAF4A"/><rect x="1448.2" y="1939" width="4.5" height="31" fill="#FDBF6F"/><rect x="1448.2" y="1970" width="4.5" height="19" fill="#E44B33"/><rect x="1448.2" y="1989" width="4.5" height="83" fill="#4DAF4A"/><rect x="1452.7" y="1939" width="4.4" height="19" fill="#FDBF6F"/><rect x="1452.7" y="1958" width="4.4" height="24" fill="#E44B33"/><rect x="1452.7" y="1982" width="4.4" height="90" fill="#4DAF4A"/><rect x="1457.1" y="1939" width="4.2" height="1" fill="#FDBF6F"/><rect x="1457.1" y="1940" width="4.2" height="67" fill="#E44B33"/><rect x="1457.1" y="2007" width="4.2" height="65" fill="#4DAF4A"/><rect x="1461.2" y="1939" width="1.8" height="2" fill="#984EA3"/><rect x="1461.2" y="1941" width="1.8" height="131" fill="#4DAF4A"/><rect x="1463" y="1939" width="12" height="2" fill="#984EA3"/><rect x="1463" y="1941" width="12" height="3" fill="#E44B33"/><rect x="1463" y="1944" width="12" height="128" fill="#4DAF4A"/><rect x="1475" y="1939" width="3.5" height="2" fill="#984EA3"/><rect x="1475" y="1941" width="3.5" height="131" fill="#4DAF4A"/><rect x="1478.5" y="1939" width="15.5" height="2" fill="#984EA3"/><rect x="1478.5" y="1941" width="15.5" height="10" fill="#FDBF6F"/><rect x="1478.5" y="1951" width="15.5" height="121" fill="#4DAF4A"/><rect x="1494" y="1939" width="24" height="2" fill="#984EA3"/><rect x="1494" y="1941" width="24" height="131" fill="#4DAF4A"/><rect x="1518" y="1939" width="10" height="2" fill="#984EA3"/><rect x="1518" y="1941" width="10" height="6" fill="#E44B33"/><rect x="1518" y="1947" width="10" height="125" fill="#4DAF4A"/><rect x="1528" y="1939" width="61" height="2" fill="#984EA3"/><rect x="1528" y="1941" width="61" height="131" fill="#4DAF4A"/><rect x="1589" y="1939" width="15" height="2" fill="#984EA3"/><rect x="1589" y="1941" width="15" height="12" fill="#E44B33"/><rect x="1589" y="1953" width="15" height="119" fill="#4DAF4A"/><rect x="1604" y="1939" width="25" height="2" fill="#984EA3"/><rect x="1604" y="1941" width="25" height="16" fill="#E44B33"/><rect x="1604" y="1957" width="25" height="115" fill="#4DAF4A"/><rect x="1629" y="1939" width="84" height="2" fill="#984EA3"/><rect x="1629" y="1941" width="84" height="131" fill="#4DAF4A"/><rect x="1713" y="1939" width="67" height="6" fill="#984EA3"/><rect x="1713" y="1945" width="67" height="127" fill="#4DAF4A"/><rect x="1780" y="1939" width="4" height="6" fill="#984EA3"/><rect x="1780" y="1945" width="4" height="12" fill="#FDBF6F"/><rect x="1780" y="1957" width="4" height="115" fill="#4DAF4A"/><rect x="1784" y="1939" width="85" height="6" fill="#984EA3"/><rect x="1784" y="1945" width="85" height="127" fill="#4DAF4A"/><rect x="1869" y="1939" width="4" height="6" fill="#984EA3"/><rect x="1869" y="1945" width="4" height="2" fill="#FDBF6F"/><rect x="1869" y="1947" width="4" height="125" fill="#4DAF4A"/><rect x="1873" y="1939" width="119" height="6" fill="#984EA3"/><rect x="1873" y="1945" width="119" height="127" fill="#4DAF4A"/><rect x="1992" y="1939" width="9.5" height="6" fill="#984EA3"/><rect x="1992" y="1945" width="9.5" height="8" fill="#FDBF6F"/><rect x="1992" y="1953" width="9.5" height="119" fill="#4DAF4A"/><rect x="2001.5" y="1939" width="12.1" height="6" fill="#984EA3"/><rect x="2001.5" y="1945" width="12.1" height="127" fill="#4DAF4A"/><rect x="2013.6" y="1939" width="4.9" height="6" fill="#984EA3"/><rect x="2013.6" y="1945" width="4.9" height="12" fill="#FDBF6F"/><rect x="2013.6" y="1957" width="4.9" height="115" fill="#4DAF4A"/><rect x="2018.5" y="1939" width="30.3" height="6" fill="#984EA3"/><rect x="2018.5" y="1945" width="30.3" height="127" fill="#4DAF4A"/><rect x="104" y="2079.5" width="35" height="77.5" fill="#984EA3"/><rect x="104" y="2157" width="35" height="17" fill="#6A8ECE"/><rect x="104" y="2174" width="35" height="7" fill="#C9191E"/><rect x="104" y="2181" width="35" height="28" fill="#E44B33"/><rect x="104" y="2209" width="35" height="3" fill="#C7E2B6"/><rect x="139" y="2079.5" width="159.4" height="132.5" fill="#984EA3"/><rect x="298.4" y="2079.5" width="13.4" height="67" fill="#6A8ECE"/><rect x="298.4" y="2146.5" width="13.4" height="58.5" fill="#4BB8D6"/><rect x="298.4" y="2205" width="13.4" height="7" fill="#4DAF4A"/><rect x="311.8" y="2079.5" width="96.2" height="72.5" fill="#6A8ECE"/><rect x="311.8" y="2152" width="96.2" height="54" fill="#4BB8D6"/><rect x="311.8" y="2206" width="96.2" height="6" fill="#4DAF4A"/><rect x="408" y="2079.5" width="10.3" height="19.5" fill="#6A8ECE"/><rect x="408" y="2099" width="10.3" height="111" fill="#4BB8D6"/><rect x="408" y="2210" width="10.3" height="2" fill="#4DAF4A"/><rect x="418.3" y="2079.5" width="3.7" height="132.5" fill="#4BB8D6"/><rect x="422" y="2079.5" width="22" height="13.5" fill="#6A8ECE"/><rect x="422" y="2093" width="22" height="117" fill="#4BB8D6"/><rect x="422" y="2210" width="22" height="2" fill="#4DAF4A"/><rect x="444" y="2079.5" width="9" height="4.5" fill="#6A8ECE"/><rect x="444" y="2084" width="9" height="128" fill="#4BB8D6"/><rect x="453" y="2079.5" width="92.7" height="132.5" fill="#4BB8D6"/><rect x="545.7" y="2079.5" width="9.2" height="12.2" fill="#984EA3"/><rect x="545.7" y="2091.7" width="9.2" height="15.3" fill="#6A8ECE"/><rect x="545.7" y="2107" width="9.2" height="5" fill="#4BB8D6"/><rect x="545.7" y="2112" width="9.2" height="5" fill="#FF7F00"/><rect x="545.7" y="2117" width="9.2" height="31" fill="#C9191E"/><rect x="545.7" y="2148" width="9.2" height="18" fill="#E44B33"/><rect x="545.7" y="2166" width="9.2" height="27" fill="#F3AF86"/><rect x="545.7" y="2193" width="9.2" height="15.5" fill="#C7E2B6"/><rect x="545.7" y="2208.5" width="9.2" height="3.5" fill="#4DAF4A"/><rect x="554.9" y="2079.5" width="8.8" height="5.5" fill="#6A8ECE"/><rect x="554.9" y="2085" width="8.8" height="1.5" fill="#FF7F00"/><rect x="554.9" y="2086.5" width="8.8" height="25.5" fill="#C9191E"/><rect x="554.9" y="2112" width="8.8" height="25" fill="#E44B33"/><rect x="554.9" y="2137" width="8.8" height="60" fill="#F3AF86"/><rect x="554.9" y="2197" width="8.8" height="15" fill="#C7E2B6"/><rect x="563.7" y="2079.5" width="4.3" height="1.5" fill="#6A8ECE"/><rect x="563.7" y="2081" width="4.3" height="131" fill="#F3AF86"/><rect x="568" y="2079.5" width="4" height="13.5" fill="#FF7F00"/><rect x="568" y="2093" width="4" height="119" fill="#F3AF86"/><rect x="572" y="2079.5" width="27" height="1.5" fill="#6A8ECE"/><rect x="572" y="2081" width="27" height="131" fill="#F3AF86"/><rect x="599" y="2079.5" width="7" height="1.5" fill="#6A8ECE"/><rect x="599" y="2081" width="7" height="126" fill="#F3AF86"/><rect x="599" y="2207" width="7" height="5" fill="#C7E2B6"/><rect x="606" y="2079.5" width="32.8" height="1.5" fill="#6A8ECE"/><rect x="606" y="2081" width="32.8" height="131" fill="#F3AF86"/><rect x="638.8" y="2079.5" width="4.2" height="6.5" fill="#6A8ECE"/><rect x="638.8" y="2086" width="4.2" height="4" fill="#FF7F00"/><rect x="638.8" y="2090" width="4.2" height="50" fill="#C9191E"/><rect x="638.8" y="2140" width="4.2" height="22" fill="#E44B33"/><rect x="638.8" y="2162" width="4.2" height="40" fill="#F3AF86"/><rect x="638.8" y="2202" width="4.2" height="10" fill="#C7E2B6"/><rect x="643" y="2079.5" width="12" height="2.5" fill="#6A8ECE"/><rect x="643" y="2082" width="12" height="4" fill="#FF7F00"/><rect x="643" y="2086" width="12" height="35" fill="#C9191E"/><rect x="643" y="2121" width="12" height="29" fill="#E44B33"/><rect x="643" y="2150" width="12" height="48" fill="#F3AF86"/><rect x="643" y="2198" width="12" height="14" fill="#C7E2B6"/><rect x="655" y="2079.5" width="5" height="2.5" fill="#6A8ECE"/><rect x="655" y="2082" width="5" height="4" fill="#FF7F00"/><rect x="655" y="2086" width="5" height="42" fill="#C9191E"/><rect x="655" y="2128" width="5" height="36" fill="#E44B33"/><rect x="655" y="2164" width="5" height="48" fill="#F3AF86"/><rect x="660" y="2079.5" width="7" height="2.5" fill="#6A8ECE"/><rect x="660" y="2082" width="7" height="5" fill="#FF7F00"/><rect x="660" y="2087" width="7" height="22" fill="#C9191E"/><rect x="660" y="2109" width="7" height="66" fill="#E44B33"/><rect x="660" y="2175" width="7" height="37" fill="#F3AF86"/><rect x="667" y="2079.5" width="6" height="2.5" fill="#6A8ECE"/><rect x="667" y="2082" width="6" height="5" fill="#FF7F00"/><rect x="667" y="2087" width="6" height="12" fill="#C9191E"/><rect x="667" y="2099" width="6" height="47" fill="#E44B33"/><rect x="667" y="2146" width="6" height="66" fill="#F3AF86"/><rect x="673" y="2079.5" width="59" height="1.5" fill="#6A8ECE"/><rect x="673" y="2081" width="59" height="7" fill="#FF7F00"/><rect x="673" y="2088" width="59" height="12" fill="#C9191E"/><rect x="673" y="2100" width="59" height="66" fill="#E44B33"/><rect x="673" y="2166" width="59" height="46" fill="#F3AF86"/><rect x="732" y="2079.5" width="11" height="1.5" fill="#6A8ECE"/><rect x="732" y="2081" width="11" height="12" fill="#FF7F00"/><rect x="732" y="2093" width="11" height="37" fill="#C9191E"/><rect x="732" y="2130" width="11" height="52" fill="#E44B33"/><rect x="732" y="2182" width="11" height="30" fill="#F3AF86"/><rect x="743" y="2079.5" width="7" height="1.5" fill="#6A8ECE"/><rect x="743" y="2081" width="7" height="15" fill="#FF7F00"/><rect x="743" y="2096" width="7" height="64" fill="#C9191E"/><rect x="743" y="2160" width="7" height="30" fill="#E44B33"/><rect x="743" y="2190" width="7" height="22" fill="#F3AF86"/><rect x="750" y="2079.5" width="8.2" height="1.5" fill="#6A8ECE"/><rect x="750" y="2081" width="8.2" height="11" fill="#FF7F00"/><rect x="750" y="2092" width="8.2" height="65" fill="#C9191E"/><rect x="750" y="2157" width="8.2" height="31" fill="#E44B33"/><rect x="750" y="2188" width="8.2" height="24" fill="#F3AF86"/><rect x="758.2" y="2079.5" width="2.8" height="122.5" fill="#C9191E"/><rect x="758.2" y="2202" width="2.8" height="10" fill="#F3AF86"/><rect x="761" y="2079.5" width="54" height="127" fill="#C9191E"/><rect x="761" y="2206.5" width="54" height="5.5" fill="#F3AF86"/><rect x="815" y="2079.5" width="5" height="9.5" fill="#6A8ECE"/><rect x="815" y="2089" width="5" height="4" fill="#FF7F00"/><rect x="815" y="2093" width="5" height="113" fill="#C9191E"/><rect x="815" y="2206" width="5" height="6" fill="#F3AF86"/><rect x="820" y="2079.5" width="4" height="8.5" fill="#6A8ECE"/><rect x="820" y="2088" width="4" height="17" fill="#FDBF6F"/><rect x="820" y="2105" width="4" height="7" fill="#FF7F00"/><rect x="820" y="2112" width="4" height="94" fill="#C9191E"/><rect x="820" y="2206" width="4" height="6" fill="#F3AF86"/><rect x="824" y="2079.5" width="18.1" height="3.5" fill="#FDBF6F"/><rect x="824" y="2083" width="18.1" height="124.5" fill="#C9191E"/><rect x="824" y="2207.5" width="18.1" height="4.5" fill="#F3AF86"/><rect x="842.1" y="2079.5" width="3.9" height="5.5" fill="#6A8ECE"/><rect x="842.1" y="2085" width="3.9" height="68" fill="#FDBF6F"/><rect x="842.1" y="2153" width="3.9" height="50" fill="#C9191E"/><rect x="842.1" y="2203" width="3.9" height="9" fill="#E44B33"/><rect x="846" y="2079.5" width="10" height="28.5" fill="#6A8ECE"/><rect x="846" y="2108" width="10" height="30" fill="#FDBF6F"/><rect x="846" y="2138" width="10" height="23" fill="#FF7F00"/><rect x="846" y="2161" width="10" height="43" fill="#C9191E"/><rect x="846" y="2204" width="10" height="8" fill="#E44B33"/><rect x="856" y="2079.5" width="10" height="28.5" fill="#6A8ECE"/><rect x="856" y="2108" width="10" height="34" fill="#FDBF6F"/><rect x="856" y="2142" width="10" height="22" fill="#FF7F00"/><rect x="856" y="2164" width="10" height="40" fill="#C9191E"/><rect x="856" y="2204" width="10" height="8" fill="#E44B33"/><rect x="866" y="2079.5" width="7" height="20.5" fill="#6A8ECE"/><rect x="866" y="2100" width="7" height="52" fill="#FDBF6F"/><rect x="866" y="2152" width="7" height="26" fill="#FF7F00"/><rect x="866" y="2178" width="7" height="20" fill="#C9191E"/><rect x="866" y="2198" width="7" height="14" fill="#E44B33"/><rect x="873" y="2079.5" width="10" height="28.5" fill="#6A8ECE"/><rect x="873" y="2108" width="10" height="42" fill="#FDBF6F"/><rect x="873" y="2150" width="10" height="26" fill="#FF7F00"/><rect x="873" y="2176" width="10" height="30" fill="#C9191E"/><rect x="873" y="2206" width="10" height="6" fill="#E44B33"/><rect x="883" y="2079.5" width="7.9" height="18.5" fill="#6A8ECE"/><rect x="883" y="2098" width="7.9" height="52" fill="#FDBF6F"/><rect x="883" y="2150" width="7.9" height="25" fill="#FF7F00"/><rect x="883" y="2175" width="7.9" height="30" fill="#C9191E"/><rect x="883" y="2205" width="7.9" height="7" fill="#E44B33"/><rect x="890.9" y="2079.5" width="9.1" height="12.5" fill="#6A8ECE"/><rect x="890.9" y="2092" width="9.1" height="91" fill="#FDBF6F"/><rect x="890.9" y="2183" width="9.1" height="12" fill="#C9191E"/><rect x="890.9" y="2195" width="9.1" height="8" fill="#E44B33"/><rect x="890.9" y="2203" width="9.1" height="6" fill="#C7E2B6"/><rect x="890.9" y="2209" width="9.1" height="3" fill="#4DAF4A"/><rect x="900" y="2079.5" width="5" height="6.5" fill="#6A8ECE"/><rect x="900" y="2086" width="5" height="119" fill="#FDBF6F"/><rect x="900" y="2205" width="5" height="4" fill="#E44B33"/><rect x="900" y="2209" width="5" height="3" fill="#C7E2B6"/><rect x="905" y="2079.5" width="12" height="10.5" fill="#6A8ECE"/><rect x="905" y="2090" width="12" height="100" fill="#FDBF6F"/><rect x="905" y="2190" width="12" height="8" fill="#C9191E"/><rect x="905" y="2198" width="12" height="8" fill="#E44B33"/><rect x="905" y="2206" width="12" height="6" fill="#C7E2B6"/><rect x="917" y="2079.5" width="3" height="1.5" fill="#6A8ECE"/><rect x="917" y="2081" width="3" height="5" fill="#FDBF6F"/><rect x="917" y="2086" width="3" height="114" fill="#FF7F00"/><rect x="917" y="2200" width="3" height="12" fill="#C9191E"/><rect x="920" y="2079.5" width="5" height="1.5" fill="#6A8ECE"/><rect x="920" y="2081" width="5" height="29" fill="#FDBF6F"/><rect x="920" y="2110" width="5" height="93" fill="#FF7F00"/><rect x="920" y="2203" width="5" height="9" fill="#C9191E"/><rect x="925" y="2079.5" width="5" height="1.5" fill="#6A8ECE"/><rect x="925" y="2081" width="5" height="76" fill="#FDBF6F"/><rect x="925" y="2157" width="5" height="48" fill="#FF7F00"/><rect x="925" y="2205" width="5" height="7" fill="#C9191E"/><rect x="930" y="2079.5" width="10" height="1.5" fill="#6A8ECE"/><rect x="930" y="2081" width="10" height="27" fill="#FDBF6F"/><rect x="930" y="2108" width="10" height="99" fill="#FF7F00"/><rect x="930" y="2207" width="10" height="5" fill="#E44B33"/><rect x="940" y="2079.5" width="10" height="1.5" fill="#6A8ECE"/><rect x="940" y="2081" width="10" height="10" fill="#FDBF6F"/><rect x="940" y="2091" width="10" height="117" fill="#FF7F00"/><rect x="940" y="2208" width="10" height="4" fill="#E44B33"/><rect x="950" y="2079.5" width="5" height="1.5" fill="#6A8ECE"/><rect x="950" y="2081" width="5" height="37" fill="#FDBF6F"/><rect x="950" y="2118" width="5" height="90" fill="#FF7F00"/><rect x="950" y="2208" width="5" height="4" fill="#E44B33"/><rect x="955" y="2079.5" width="5" height="1.5" fill="#6A8ECE"/><rect x="955" y="2081" width="5" height="19" fill="#FDBF6F"/><rect x="955" y="2100" width="5" height="109" fill="#FF7F00"/><rect x="955" y="2209" width="5" height="3" fill="#E44B33"/><rect x="960" y="2079.5" width="5" height="1.5" fill="#6A8ECE"/><rect x="960" y="2081" width="5" height="13" fill="#FDBF6F"/><rect x="960" y="2094" width="5" height="115" fill="#FF7F00"/><rect x="960" y="2209" width="5" height="3" fill="#E44B33"/><rect x="965" y="2079.5" width="5" height="52.5" fill="#FDBF6F"/><rect x="965" y="2132" width="5" height="80" fill="#FF7F00"/><rect x="970" y="2079.5" width="5" height="13.5" fill="#FDBF6F"/><rect x="970" y="2093" width="5" height="116" fill="#FF7F00"/><rect x="970" y="2209" width="5" height="3" fill="#C9191E"/><rect x="975" y="2079.5" width="5" height="40.5" fill="#FDBF6F"/><rect x="975" y="2120" width="5" height="92" fill="#FF7F00"/><rect x="980" y="2079.5" width="10" height="10.5" fill="#FDBF6F"/><rect x="980" y="2090" width="10" height="122" fill="#FF7F00"/><rect x="990" y="2079.5" width="10" height="30.5" fill="#FDBF6F"/><rect x="990" y="2110" width="10" height="102" fill="#FF7F00"/><rect x="1000" y="2079.5" width="10" height="45.5" fill="#FDBF6F"/><rect x="1000" y="2125" width="10" height="87" fill="#FF7F00"/><rect x="1010" y="2079.5" width="20" height="8.5" fill="#FDBF6F"/><rect x="1010" y="2088" width="20" height="124" fill="#FF7F00"/><rect x="1030" y="2079.5" width="42" height="6" fill="#FDBF6F"/><rect x="1030" y="2085.5" width="42" height="126.5" fill="#FF7F00"/><rect x="1072" y="2079.5" width="13" height="19.5" fill="#FDBF6F"/><rect x="1072" y="2099" width="13" height="113" fill="#FF7F00"/><rect x="1085" y="2079.5" width="15" height="7.5" fill="#FDBF6F"/><rect x="1085" y="2087" width="15" height="125" fill="#FF7F00"/><rect x="1100" y="2079.5" width="10" height="15.5" fill="#FDBF6F"/><rect x="1100" y="2095" width="10" height="117" fill="#FF7F00"/><rect x="1110" y="2079.5" width="10" height="10.5" fill="#FDBF6F"/><rect x="1110" y="2090" width="10" height="122" fill="#FF7F00"/><rect x="1120" y="2079.5" width="15" height="22.5" fill="#FDBF6F"/><rect x="1120" y="2102" width="15" height="110" fill="#FF7F00"/><rect x="1135" y="2079.5" width="20.9" height="6" fill="#FDBF6F"/><rect x="1135" y="2085.5" width="20.9" height="126.5" fill="#FF7F00"/><rect x="1155.9" y="2079.5" width="4.1" height="5.5" fill="#6A8ECE"/><rect x="1155.9" y="2085" width="4.1" height="64" fill="#FDBF6F"/><rect x="1155.9" y="2149" width="4.1" height="56" fill="#FF7F00"/><rect x="1155.9" y="2205" width="4.1" height="7" fill="#C9191E"/><rect x="1160" y="2079.5" width="5" height="5.5" fill="#6A8ECE"/><rect x="1160" y="2085" width="5" height="71" fill="#FDBF6F"/><rect x="1160" y="2156" width="5" height="49" fill="#FF7F00"/><rect x="1160" y="2205" width="5" height="7" fill="#E44B33"/><rect x="1165" y="2079.5" width="4" height="76.5" fill="#FDBF6F"/><rect x="1165" y="2156" width="4" height="52" fill="#FF7F00"/><rect x="1165" y="2208" width="4" height="4" fill="#E44B33"/><rect x="1169" y="2079.5" width="4" height="6.5" fill="#6A8ECE"/><rect x="1169" y="2086" width="4" height="77" fill="#FDBF6F"/><rect x="1169" y="2163" width="4" height="45" fill="#FF7F00"/><rect x="1169" y="2208" width="4" height="4" fill="#E44B33"/><rect x="1173" y="2079.5" width="5" height="6.5" fill="#6A8ECE"/><rect x="1173" y="2086" width="5" height="91" fill="#FDBF6F"/><rect x="1173" y="2177" width="5" height="31" fill="#FF7F00"/><rect x="1173" y="2208" width="5" height="4" fill="#E44B33"/><rect x="1178" y="2079.5" width="9" height="7.5" fill="#6A8ECE"/><rect x="1178" y="2087" width="9" height="97" fill="#FDBF6F"/><rect x="1178" y="2184" width="9" height="24" fill="#FF7F00"/><rect x="1178" y="2208" width="9" height="4" fill="#E44B33"/><rect x="1187" y="2079.5" width="4" height="7.5" fill="#6A8ECE"/><rect x="1187" y="2087" width="4" height="101" fill="#FDBF6F"/><rect x="1187" y="2188" width="4" height="20" fill="#FF7F00"/><rect x="1187" y="2208" width="4" height="4" fill="#E44B33"/><rect x="1191" y="2079.5" width="13" height="7.5" fill="#6A8ECE"/><rect x="1191" y="2087" width="13" height="113" fill="#FDBF6F"/><rect x="1191" y="2200" width="13" height="8" fill="#FF7F00"/><rect x="1191" y="2208" width="13" height="4" fill="#E44B33"/><rect x="1204" y="2079.5" width="5" height="7.5" fill="#6A8ECE"/><rect x="1204" y="2087" width="5" height="115" fill="#FDBF6F"/><rect x="1204" y="2202" width="5" height="6" fill="#FF7F00"/><rect x="1204" y="2208" width="5" height="4" fill="#E44B33"/><rect x="1209" y="2079.5" width="4" height="64.5" fill="#FDBF6F"/><rect x="1209" y="2144" width="4" height="68" fill="#FF7F00"/><rect x="1213" y="2079.5" width="5" height="71.5" fill="#FDBF6F"/><rect x="1213" y="2151" width="5" height="61" fill="#FF7F00"/><rect x="1218" y="2079.5" width="4" height="94.5" fill="#FDBF6F"/><rect x="1218" y="2174" width="4" height="38" fill="#FF7F00"/><rect x="1222" y="2079.5" width="5" height="109.5" fill="#FDBF6F"/><rect x="1222" y="2189" width="5" height="23" fill="#FF7F00"/><rect x="1227" y="2079.5" width="4" height="100.5" fill="#FDBF6F"/><rect x="1227" y="2180" width="4" height="32" fill="#FF7F00"/><rect x="1231" y="2079.5" width="5" height="84.5" fill="#FDBF6F"/><rect x="1231" y="2164" width="5" height="48" fill="#FF7F00"/><rect x="1236" y="2079.5" width="4" height="81.5" fill="#FDBF6F"/><rect x="1236" y="2161" width="4" height="51" fill="#FF7F00"/><rect x="1240" y="2079.5" width="4" height="52.5" fill="#FDBF6F"/><rect x="1240" y="2132" width="4" height="80" fill="#FF7F00"/><rect x="1244" y="2079.5" width="5" height="84.5" fill="#FDBF6F"/><rect x="1244" y="2164" width="5" height="48" fill="#FF7F00"/><rect x="1249" y="2079.5" width="4" height="5.5" fill="#6A8ECE"/><rect x="1249" y="2085" width="4" height="115" fill="#FDBF6F"/><rect x="1249" y="2200" width="4" height="8" fill="#FF7F00"/><rect x="1249" y="2208" width="4" height="4" fill="#C9191E"/><rect x="1253" y="2079.5" width="14" height="5.5" fill="#6A8ECE"/><rect x="1253" y="2085" width="14" height="123" fill="#FDBF6F"/><rect x="1253" y="2208" width="14" height="4" fill="#C9191E"/><rect x="1267" y="2079.5" width="9" height="96.5" fill="#FDBF6F"/><rect x="1267" y="2176" width="9" height="36" fill="#FF7F00"/><rect x="1276" y="2079.5" width="4" height="101.5" fill="#FDBF6F"/><rect x="1276" y="2181" width="4" height="31" fill="#FF7F00"/><rect x="1280" y="2079.5" width="4" height="111.5" fill="#FDBF6F"/><rect x="1280" y="2191" width="4" height="21" fill="#FF7F00"/><rect x="1284" y="2079.5" width="5" height="1.5" fill="#6A8ECE"/><rect x="1284" y="2081" width="5" height="110" fill="#FDBF6F"/><rect x="1284" y="2191" width="5" height="21" fill="#FF7F00"/><rect x="1289" y="2079.5" width="4" height="1.5" fill="#6A8ECE"/><rect x="1289" y="2081" width="4" height="122" fill="#FDBF6F"/><rect x="1289" y="2203" width="4" height="9" fill="#FF7F00"/><rect x="1293" y="2079.5" width="5" height="1.5" fill="#6A8ECE"/><rect x="1293" y="2081" width="5" height="111" fill="#FDBF6F"/><rect x="1293" y="2192" width="5" height="20" fill="#FF7F00"/><rect x="1298" y="2079.5" width="4" height="1.5" fill="#6A8ECE"/><rect x="1298" y="2081" width="4" height="117" fill="#FDBF6F"/><rect x="1298" y="2198" width="4" height="14" fill="#FF7F00"/><rect x="1302" y="2079.5" width="5" height="1.5" fill="#6A8ECE"/><rect x="1302" y="2081" width="5" height="122" fill="#FDBF6F"/><rect x="1302" y="2203" width="5" height="9" fill="#FF7F00"/><rect x="1307" y="2079.5" width="13" height="1.5" fill="#6A8ECE"/><rect x="1307" y="2081" width="13" height="131" fill="#FDBF6F"/><rect x="1320" y="2079.5" width="97" height="132.5" fill="#FDBF6F"/><rect x="1417" y="2079.5" width="4.4" height="7.5" fill="#6A8ECE"/><rect x="1417" y="2087" width="4.4" height="73" fill="#FDBF6F"/><rect x="1417" y="2160" width="4.4" height="6" fill="#FF7F00"/><rect x="1417" y="2166" width="4.4" height="10" fill="#E44B33"/><rect x="1417" y="2176" width="4.4" height="14" fill="#C7E2B6"/><rect x="1417" y="2190" width="4.4" height="22" fill="#4DAF4A"/><rect x="1421.4" y="2079.5" width="4.5" height="75.5" fill="#FDBF6F"/><rect x="1421.4" y="2155" width="4.5" height="2" fill="#E44B33"/><rect x="1421.4" y="2157" width="4.5" height="3" fill="#C7E2B6"/><rect x="1421.4" y="2160" width="4.5" height="52" fill="#4DAF4A"/><rect x="1425.9" y="2079.5" width="8.9" height="10.5" fill="#6A8ECE"/><rect x="1425.9" y="2090" width="8.9" height="78" fill="#FDBF6F"/><rect x="1425.9" y="2168" width="8.9" height="12" fill="#E44B33"/><rect x="1425.9" y="2180" width="8.9" height="28" fill="#C7E2B6"/><rect x="1425.9" y="2208" width="8.9" height="4" fill="#4DAF4A"/><rect x="1434.8" y="2079.5" width="4.5" height="10.5" fill="#6A8ECE"/><rect x="1434.8" y="2090" width="4.5" height="22" fill="#FDBF6F"/><rect x="1434.8" y="2112" width="4.5" height="12" fill="#FF7F00"/><rect x="1434.8" y="2124" width="4.5" height="19" fill="#E44B33"/><rect x="1434.8" y="2143" width="4.5" height="7" fill="#F3AF86"/><rect x="1434.8" y="2150" width="4.5" height="22" fill="#C7E2B6"/><rect x="1434.8" y="2172" width="4.5" height="40" fill="#4DAF4A"/><rect x="1439.3" y="2079.5" width="4.5" height="14.5" fill="#6A8ECE"/><rect x="1439.3" y="2094" width="4.5" height="14" fill="#FDBF6F"/><rect x="1439.3" y="2108" width="4.5" height="7" fill="#FF7F00"/><rect x="1439.3" y="2115" width="4.5" height="26" fill="#E44B33"/><rect x="1439.3" y="2141" width="4.5" height="6" fill="#F3AF86"/><rect x="1439.3" y="2147" width="4.5" height="35" fill="#C7E2B6"/><rect x="1439.3" y="2182" width="4.5" height="30" fill="#4DAF4A"/><rect x="1443.8" y="2079.5" width="4.5" height="13.5" fill="#6A8ECE"/><rect x="1443.8" y="2093" width="4.5" height="17" fill="#FDBF6F"/><rect x="1443.8" y="2110" width="4.5" height="7" fill="#FF7F00"/><rect x="1443.8" y="2117" width="4.5" height="23" fill="#E44B33"/><rect x="1443.8" y="2140" width="4.5" height="10" fill="#F3AF86"/><rect x="1443.8" y="2150" width="4.5" height="23" fill="#C7E2B6"/><rect x="1443.8" y="2173" width="4.5" height="39" fill="#4DAF4A"/><rect x="1448.2" y="2079.5" width="4.5" height="13.5" fill="#6A8ECE"/><rect x="1448.2" y="2093" width="4.5" height="29" fill="#FF7F00"/><rect x="1448.2" y="2122" width="4.5" height="28" fill="#E44B33"/><rect x="1448.2" y="2150" width="4.5" height="2" fill="#F3AF86"/><rect x="1448.2" y="2152" width="4.5" height="28" fill="#C7E2B6"/><rect x="1448.2" y="2180" width="4.5" height="32" fill="#4DAF4A"/><rect x="1452.7" y="2079.5" width="4.4" height="13.5" fill="#6A8ECE"/><rect x="1452.7" y="2093" width="4.4" height="16" fill="#FDBF6F"/><rect x="1452.7" y="2109" width="4.4" height="4" fill="#FF7F00"/><rect x="1452.7" y="2113" width="4.4" height="24" fill="#E44B33"/><rect x="1452.7" y="2137" width="4.4" height="8" fill="#F3AF86"/><rect x="1452.7" y="2145" width="4.4" height="36" fill="#C7E2B6"/><rect x="1452.7" y="2181" width="4.4" height="31" fill="#4DAF4A"/><rect x="1457.1" y="2079.5" width="4.2" height="10.5" fill="#E44B33"/><rect x="1457.1" y="2090" width="4.2" height="68" fill="#F3AF86"/><rect x="1457.1" y="2158" width="4.2" height="52" fill="#C7E2B6"/><rect x="1457.1" y="2210" width="4.2" height="2" fill="#4DAF4A"/><rect x="1461.2" y="2079.5" width="4.3" height="8.9" fill="#6A8ECE"/><rect x="1461.2" y="2088.4" width="4.3" height="7.2" fill="#E44B33"/><rect x="1461.2" y="2095.6" width="4.3" height="111.7" fill="#C7E2B6"/><rect x="1461.2" y="2207.3" width="4.3" height="4.7" fill="#4DAF4A"/><rect x="1465.6" y="2079.5" width="4.5" height="17.8" fill="#6A8ECE"/><rect x="1465.6" y="2097.3" width="4.5" height="19" fill="#E44B33"/><rect x="1465.6" y="2116.3" width="4.5" height="60.8" fill="#C7E2B6"/><rect x="1465.6" y="2177.1" width="4.5" height="34.9" fill="#4DAF4A"/><rect x="1470.1" y="2079.5" width="4.4" height="15" fill="#6A8ECE"/><rect x="1470.1" y="2094.5" width="4.4" height="16.2" fill="#E44B33"/><rect x="1470.1" y="2110.7" width="4.4" height="50.8" fill="#C7E2B6"/><rect x="1470.1" y="2161.5" width="4.4" height="50.5" fill="#4DAF4A"/><rect x="1474.5" y="2079.5" width="4.5" height="11.1" fill="#6A8ECE"/><rect x="1474.5" y="2090.6" width="4.5" height="11.2" fill="#E44B33"/><rect x="1474.5" y="2101.8" width="4.5" height="88.2" fill="#C7E2B6"/><rect x="1474.5" y="2190" width="4.5" height="22" fill="#4DAF4A"/><rect x="1479" y="2079.5" width="4.5" height="20.6" fill="#6A8ECE"/><rect x="1479" y="2100.1" width="4.5" height="5" fill="#FDBF6F"/><rect x="1479" y="2105.1" width="4.5" height="21.2" fill="#E44B33"/><rect x="1479" y="2126.3" width="4.5" height="44.7" fill="#C7E2B6"/><rect x="1479" y="2171" width="4.5" height="41" fill="#4DAF4A"/><rect x="1483.5" y="2079.5" width="4.4" height="20.6" fill="#6A8ECE"/><rect x="1483.5" y="2100.1" width="4.4" height="4.5" fill="#FDBF6F"/><rect x="1483.5" y="2104.6" width="4.4" height="21.7" fill="#E44B33"/><rect x="1483.5" y="2126.3" width="4.4" height="46.4" fill="#C7E2B6"/><rect x="1483.5" y="2172.7" width="4.4" height="39.3" fill="#4DAF4A"/><rect x="1487.9" y="2079.5" width="4.5" height="19.5" fill="#6A8ECE"/><rect x="1487.9" y="2099" width="4.5" height="3.9" fill="#FDBF6F"/><rect x="1487.9" y="2102.9" width="4.5" height="19" fill="#E44B33"/><rect x="1487.9" y="2121.9" width="4.5" height="49.1" fill="#C7E2B6"/><rect x="1487.9" y="2171" width="4.5" height="41" fill="#4DAF4A"/><rect x="1492.4" y="2079.5" width="3.9" height="23.4" fill="#6A8ECE"/><rect x="1492.4" y="2102.9" width="3.9" height="26.2" fill="#E44B33"/><rect x="1492.4" y="2129.1" width="3.9" height="1.1" fill="#F3AF86"/><rect x="1492.4" y="2130.2" width="3.9" height="59.8" fill="#C7E2B6"/><rect x="1492.4" y="2190" width="3.9" height="22" fill="#4DAF4A"/><rect x="1496.3" y="2079.5" width="4.5" height="11.7" fill="#6A8ECE"/><rect x="1496.3" y="2091.2" width="4.5" height="11.7" fill="#E44B33"/><rect x="1496.3" y="2102.9" width="4.5" height="96" fill="#C7E2B6"/><rect x="1496.3" y="2198.9" width="4.5" height="13.1" fill="#4DAF4A"/><rect x="1500.8" y="2079.5" width="4.4" height="12.2" fill="#6A8ECE"/><rect x="1500.8" y="2091.7" width="4.4" height="11.8" fill="#E44B33"/><rect x="1500.8" y="2103.5" width="4.4" height="90.4" fill="#C7E2B6"/><rect x="1500.8" y="2193.9" width="4.4" height="18.1" fill="#4DAF4A"/><rect x="1505.2" y="2079.5" width="4.5" height="11.7" fill="#6A8ECE"/><rect x="1505.2" y="2091.2" width="4.5" height="10.6" fill="#E44B33"/><rect x="1505.2" y="2101.8" width="4.5" height="99.9" fill="#C7E2B6"/><rect x="1505.2" y="2201.7" width="4.5" height="10.3" fill="#4DAF4A"/><rect x="1509.7" y="2079.5" width="4.5" height="13.4" fill="#6A8ECE"/><rect x="1509.7" y="2092.9" width="4.5" height="13.9" fill="#E44B33"/><rect x="1509.7" y="2106.8" width="4.5" height="91.5" fill="#C7E2B6"/><rect x="1509.7" y="2198.3" width="4.5" height="13.7" fill="#4DAF4A"/><rect x="1514.2" y="2079.5" width="4.4" height="11.7" fill="#6A8ECE"/><rect x="1514.2" y="2091.2" width="4.4" height="10.6" fill="#E44B33"/><rect x="1514.2" y="2101.8" width="4.4" height="98.2" fill="#C7E2B6"/><rect x="1514.2" y="2200" width="4.4" height="12" fill="#4DAF4A"/><rect x="1518.6" y="2079.5" width="4.5" height="15.6" fill="#6A8ECE"/><rect x="1518.6" y="2095.1" width="4.5" height="17.3" fill="#E44B33"/><rect x="1518.6" y="2112.4" width="4.5" height="96" fill="#C7E2B6"/><rect x="1518.6" y="2208.4" width="4.5" height="3.6" fill="#4DAF4A"/><rect x="1523.1" y="2079.5" width="4.4" height="15.6" fill="#6A8ECE"/><rect x="1523.1" y="2095.1" width="4.4" height="15.6" fill="#E44B33"/><rect x="1523.1" y="2110.7" width="4.4" height="97.1" fill="#C7E2B6"/><rect x="1523.1" y="2207.8" width="4.4" height="4.2" fill="#4DAF4A"/><rect x="1527.5" y="2079.5" width="4.5" height="7.2" fill="#6A8ECE"/><rect x="1527.5" y="2086.7" width="4.5" height="7.3" fill="#E44B33"/><rect x="1527.5" y="2094" width="4.5" height="96" fill="#C7E2B6"/><rect x="1527.5" y="2190" width="4.5" height="22" fill="#4DAF4A"/><rect x="1532" y="2079.5" width="4.5" height="11.7" fill="#6A8ECE"/><rect x="1532" y="2091.2" width="4.5" height="11.1" fill="#E44B33"/><rect x="1532" y="2102.3" width="4.5" height="105.5" fill="#C7E2B6"/><rect x="1532" y="2207.8" width="4.5" height="4.2" fill="#4DAF4A"/><rect x="1536.5" y="2079.5" width="4.4" height="10.6" fill="#6A8ECE"/><rect x="1536.5" y="2090.1" width="4.4" height="10" fill="#E44B33"/><rect x="1536.5" y="2100.1" width="4.4" height="111.9" fill="#C7E2B6"/><rect x="1540.9" y="2079.5" width="4.5" height="6.7" fill="#6A8ECE"/><rect x="1540.9" y="2086.2" width="4.5" height="7.8" fill="#E44B33"/><rect x="1540.9" y="2094" width="4.5" height="103.2" fill="#C7E2B6"/><rect x="1540.9" y="2197.2" width="4.5" height="14.8" fill="#4DAF4A"/><rect x="1545.4" y="2079.5" width="4.5" height="7.8" fill="#6A8ECE"/><rect x="1545.4" y="2087.3" width="4.5" height="8.9" fill="#E44B33"/><rect x="1545.4" y="2096.2" width="4.5" height="99.3" fill="#C7E2B6"/><rect x="1545.4" y="2195.5" width="4.5" height="16.5" fill="#4DAF4A"/><rect x="1549.9" y="2079.5" width="4.4" height="8.9" fill="#6A8ECE"/><rect x="1549.9" y="2088.4" width="4.4" height="8.4" fill="#E44B33"/><rect x="1549.9" y="2096.8" width="4.4" height="115.2" fill="#C7E2B6"/><rect x="1554.3" y="2079.5" width="4.5" height="6.7" fill="#6A8ECE"/><rect x="1554.3" y="2086.2" width="4.5" height="5.5" fill="#E44B33"/><rect x="1554.3" y="2091.7" width="4.5" height="120.3" fill="#C7E2B6"/><rect x="1558.8" y="2079.5" width="4.5" height="6.1" fill="#6A8ECE"/><rect x="1558.8" y="2085.6" width="4.5" height="5.6" fill="#E44B33"/><rect x="1558.8" y="2091.2" width="4.5" height="120.8" fill="#C7E2B6"/><rect x="1563.3" y="2079.5" width="4.4" height="6.7" fill="#6A8ECE"/><rect x="1563.3" y="2086.2" width="4.4" height="6.7" fill="#E44B33"/><rect x="1563.3" y="2092.9" width="4.4" height="119.1" fill="#C7E2B6"/><rect x="1567.7" y="2079.5" width="4.5" height="6.7" fill="#6A8ECE"/><rect x="1567.7" y="2086.2" width="4.5" height="6.7" fill="#E44B33"/><rect x="1567.7" y="2092.9" width="4.5" height="119.1" fill="#C7E2B6"/><rect x="1572.2" y="2079.5" width="4.5" height="11.7" fill="#6A8ECE"/><rect x="1572.2" y="2091.2" width="4.5" height="11.7" fill="#E44B33"/><rect x="1572.2" y="2102.9" width="4.5" height="85.9" fill="#C7E2B6"/><rect x="1572.2" y="2188.8" width="4.5" height="23.2" fill="#4DAF4A"/><rect x="1576.7" y="2079.5" width="4.4" height="12.2" fill="#6A8ECE"/><rect x="1576.7" y="2091.7" width="4.4" height="12.9" fill="#E44B33"/><rect x="1576.7" y="2104.6" width="4.4" height="89.8" fill="#C7E2B6"/><rect x="1576.7" y="2194.4" width="4.4" height="17.6" fill="#4DAF4A"/><rect x="1581.1" y="2079.5" width="3.9" height="10.6" fill="#6A8ECE"/><rect x="1581.1" y="2090.1" width="3.9" height="10.6" fill="#E44B33"/><rect x="1581.1" y="2100.7" width="3.9" height="84.2" fill="#C7E2B6"/><rect x="1581.1" y="2184.9" width="3.9" height="27.1" fill="#4DAF4A"/><rect x="1585" y="2079.5" width="4.5" height="15" fill="#6A8ECE"/><rect x="1585" y="2094.5" width="4.5" height="14" fill="#E44B33"/><rect x="1585" y="2108.5" width="4.5" height="91.5" fill="#C7E2B6"/><rect x="1585" y="2200" width="4.5" height="12" fill="#4DAF4A"/><rect x="1589.5" y="2079.5" width="13.4" height="26.2" fill="#6A8ECE"/><rect x="1589.5" y="2105.7" width="13.4" height="27.3" fill="#E44B33"/><rect x="1589.5" y="2133" width="13.4" height="3.4" fill="#F3AF86"/><rect x="1589.5" y="2136.4" width="13.4" height="75.6" fill="#C7E2B6"/><rect x="1602.9" y="2079.5" width="4.4" height="18.9" fill="#6A8ECE"/><rect x="1602.9" y="2098.4" width="4.4" height="18.5" fill="#E44B33"/><rect x="1602.9" y="2116.9" width="4.4" height="71.9" fill="#C7E2B6"/><rect x="1602.9" y="2188.8" width="4.4" height="23.2" fill="#4DAF4A"/><rect x="1607.3" y="2079.5" width="4.5" height="19.5" fill="#6A8ECE"/><rect x="1607.3" y="2099" width="4.5" height="20.6" fill="#E44B33"/><rect x="1607.3" y="2119.6" width="4.5" height="2.3" fill="#F3AF86"/><rect x="1607.3" y="2121.9" width="4.5" height="66.4" fill="#C7E2B6"/><rect x="1607.3" y="2188.3" width="4.5" height="23.7" fill="#4DAF4A"/><rect x="1611.8" y="2079.5" width="4.5" height="18.9" fill="#6A8ECE"/><rect x="1611.8" y="2098.4" width="4.5" height="19.6" fill="#E44B33"/><rect x="1611.8" y="2118" width="4.5" height="1.6" fill="#F3AF86"/><rect x="1611.8" y="2119.6" width="4.5" height="90.4" fill="#C7E2B6"/><rect x="1611.8" y="2210" width="4.5" height="2" fill="#4DAF4A"/><rect x="1616.3" y="2079.5" width="4.4" height="25.6" fill="#6A8ECE"/><rect x="1616.3" y="2105.1" width="4.4" height="27.9" fill="#E44B33"/><rect x="1616.3" y="2133" width="4.4" height="5.6" fill="#F3AF86"/><rect x="1616.3" y="2138.6" width="4.4" height="56.9" fill="#C7E2B6"/><rect x="1616.3" y="2195.5" width="4.4" height="16.5" fill="#4DAF4A"/><rect x="1620.7" y="2079.5" width="4.5" height="26.2" fill="#6A8ECE"/><rect x="1620.7" y="2105.7" width="4.5" height="27.9" fill="#E44B33"/><rect x="1620.7" y="2133.6" width="4.5" height="7.2" fill="#F3AF86"/><rect x="1620.7" y="2140.8" width="4.5" height="66.5" fill="#C7E2B6"/><rect x="1620.7" y="2207.3" width="4.5" height="4.7" fill="#4DAF4A"/><rect x="1625.2" y="2079.5" width="3.9" height="26.2" fill="#6A8ECE"/><rect x="1625.2" y="2105.7" width="3.9" height="27.3" fill="#E44B33"/><rect x="1625.2" y="2133" width="3.9" height="5.6" fill="#F3AF86"/><rect x="1625.2" y="2138.6" width="3.9" height="69.2" fill="#C7E2B6"/><rect x="1625.2" y="2207.8" width="3.9" height="4.2" fill="#4DAF4A"/><rect x="1629.1" y="2079.5" width="4.5" height="7.2" fill="#6A8ECE"/><rect x="1629.1" y="2086.7" width="4.5" height="7.3" fill="#E44B33"/><rect x="1629.1" y="2094" width="4.5" height="109.3" fill="#C7E2B6"/><rect x="1629.1" y="2203.3" width="4.5" height="8.7" fill="#4DAF4A"/><rect x="1633.6" y="2079.5" width="4.4" height="8.9" fill="#6A8ECE"/><rect x="1633.6" y="2088.4" width="4.4" height="7.8" fill="#E44B33"/><rect x="1633.6" y="2096.2" width="4.4" height="111.6" fill="#C7E2B6"/><rect x="1633.6" y="2207.8" width="4.4" height="4.2" fill="#4DAF4A"/><rect x="1638" y="2079.5" width="4.5" height="6.7" fill="#6A8ECE"/><rect x="1638" y="2086.2" width="4.5" height="6.1" fill="#E44B33"/><rect x="1638" y="2092.3" width="4.5" height="119.7" fill="#C7E2B6"/><rect x="1642.5" y="2079.5" width="4.5" height="5.5" fill="#6A8ECE"/><rect x="1642.5" y="2085" width="4.5" height="5.1" fill="#E44B33"/><rect x="1642.5" y="2090.1" width="4.5" height="121.9" fill="#C7E2B6"/><rect x="1647" y="2079.5" width="3" height="3.9" fill="#6A8ECE"/><rect x="1647" y="2083.4" width="3" height="2.8" fill="#E44B33"/><rect x="1647" y="2086.2" width="3" height="125.8" fill="#C7E2B6"/><rect x="1650" y="2079.5" width="5.6" height="3.9" fill="#6A8ECE"/><rect x="1650" y="2083.4" width="5.6" height="6.1" fill="#E44B33"/><rect x="1650" y="2089.5" width="5.6" height="122.5" fill="#C7E2B6"/><rect x="1655.6" y="2079.5" width="4.4" height="1.6" fill="#6A8ECE"/><rect x="1655.6" y="2081.1" width="4.4" height="1.2" fill="#E44B33"/><rect x="1655.6" y="2082.3" width="4.4" height="129.7" fill="#C7E2B6"/><rect x="1660" y="2079.5" width="4.5" height="1.1" fill="#E44B33"/><rect x="1660" y="2080.6" width="4.5" height="120.5" fill="#C7E2B6"/><rect x="1660" y="2201.1" width="4.5" height="10.9" fill="#4DAF4A"/><rect x="1664.5" y="2079.5" width="4.5" height="1.1" fill="#E44B33"/><rect x="1664.5" y="2080.6" width="4.5" height="127.2" fill="#C7E2B6"/><rect x="1664.5" y="2207.8" width="4.5" height="4.2" fill="#4DAF4A"/><rect x="1669" y="2079.5" width="44.1" height="132.5" fill="#C7E2B6"/><rect x="1713.1" y="2079.5" width="4.4" height="11.7" fill="#6A8ECE"/><rect x="1713.1" y="2091.2" width="4.4" height="11.1" fill="#E44B33"/><rect x="1713.1" y="2102.3" width="4.4" height="77.6" fill="#C7E2B6"/><rect x="1713.1" y="2179.9" width="4.4" height="32.1" fill="#4DAF4A"/><rect x="1717.5" y="2079.5" width="4.5" height="10" fill="#6A8ECE"/><rect x="1717.5" y="2089.5" width="4.5" height="10.6" fill="#E44B33"/><rect x="1717.5" y="2100.1" width="4.5" height="59.7" fill="#C7E2B6"/><rect x="1717.5" y="2159.8" width="4.5" height="52.2" fill="#4DAF4A"/><rect x="1722" y="2079.5" width="4.5" height="14.5" fill="#6A8ECE"/><rect x="1722" y="2094" width="4.5" height="13.9" fill="#E44B33"/><rect x="1722" y="2107.9" width="4.5" height="90.4" fill="#C7E2B6"/><rect x="1722" y="2198.3" width="4.5" height="13.7" fill="#4DAF4A"/><rect x="1726.5" y="2079.5" width="4.4" height="11.7" fill="#6A8ECE"/><rect x="1726.5" y="2091.2" width="4.4" height="10.6" fill="#E44B33"/><rect x="1726.5" y="2101.8" width="4.4" height="82.6" fill="#C7E2B6"/><rect x="1726.5" y="2184.4" width="4.4" height="27.6" fill="#4DAF4A"/><rect x="1730.9" y="2079.5" width="4.5" height="17.3" fill="#6A8ECE"/><rect x="1730.9" y="2096.8" width="4.5" height="16.7" fill="#E44B33"/><rect x="1730.9" y="2113.5" width="4.5" height="82.6" fill="#C7E2B6"/><rect x="1730.9" y="2196.1" width="4.5" height="15.9" fill="#4DAF4A"/><rect x="1735.4" y="2079.5" width="4.4" height="17.3" fill="#6A8ECE"/><rect x="1735.4" y="2096.8" width="4.4" height="17.3" fill="#E44B33"/><rect x="1735.4" y="2114.1" width="4.4" height="84.8" fill="#C7E2B6"/><rect x="1735.4" y="2198.9" width="4.4" height="13.1" fill="#4DAF4A"/><rect x="1739.8" y="2079.5" width="4.5" height="5.5" fill="#6A8ECE"/><rect x="1739.8" y="2085" width="4.5" height="7.3" fill="#E44B33"/><rect x="1739.8" y="2092.3" width="4.5" height="53.6" fill="#C7E2B6"/><rect x="1739.8" y="2145.9" width="4.5" height="66.1" fill="#4DAF4A"/><rect x="1744.3" y="2079.5" width="4.5" height="0.5" fill="#6A8ECE"/><rect x="1744.3" y="2080" width="4.5" height="2.8" fill="#E44B33"/><rect x="1744.3" y="2082.8" width="4.5" height="74.8" fill="#C7E2B6"/><rect x="1744.3" y="2157.6" width="4.5" height="54.4" fill="#4DAF4A"/><rect x="1748.8" y="2079.5" width="4.4" height="1.1" fill="#6A8ECE"/><rect x="1748.8" y="2080.6" width="4.4" height="5.6" fill="#E44B33"/><rect x="1748.8" y="2086.2" width="4.4" height="57.4" fill="#C7E2B6"/><rect x="1748.8" y="2143.6" width="4.4" height="68.4" fill="#4DAF4A"/><rect x="1753.2" y="2079.5" width="4.5" height="0.5" fill="#6A8ECE"/><rect x="1753.2" y="2080" width="4.5" height="2.3" fill="#E44B33"/><rect x="1753.2" y="2082.3" width="4.5" height="50.7" fill="#C7E2B6"/><rect x="1753.2" y="2133" width="4.5" height="79" fill="#4DAF4A"/><rect x="1757.7" y="2079.5" width="4.5" height="1.6" fill="#E44B33"/><rect x="1757.7" y="2081.1" width="4.5" height="67.6" fill="#C7E2B6"/><rect x="1757.7" y="2148.7" width="4.5" height="63.3" fill="#4DAF4A"/><rect x="1762.2" y="2079.5" width="4.4" height="1.6" fill="#E44B33"/><rect x="1762.2" y="2081.1" width="4.4" height="50.8" fill="#C7E2B6"/><rect x="1762.2" y="2131.9" width="4.4" height="80.1" fill="#4DAF4A"/><rect x="1766.6" y="2079.5" width="4.5" height="5.5" fill="#6A8ECE"/><rect x="1766.6" y="2085" width="4.5" height="4.5" fill="#E44B33"/><rect x="1766.6" y="2089.5" width="4.5" height="64.2" fill="#C7E2B6"/><rect x="1766.6" y="2153.7" width="4.5" height="58.3" fill="#4DAF4A"/><rect x="1771.1" y="2079.5" width="3.9" height="1.6" fill="#6A8ECE"/><rect x="1771.1" y="2081.1" width="3.9" height="1.2" fill="#E44B33"/><rect x="1771.1" y="2082.3" width="3.9" height="50.7" fill="#C7E2B6"/><rect x="1771.1" y="2133" width="3.9" height="79" fill="#4DAF4A"/><rect x="1775" y="2079.5" width="4.5" height="0.5" fill="#E44B33"/><rect x="1775" y="2080" width="4.5" height="69.8" fill="#C7E2B6"/><rect x="1775" y="2149.8" width="4.5" height="62.2" fill="#4DAF4A"/><rect x="1779.5" y="2079.5" width="4.4" height="1.6" fill="#6A8ECE"/><rect x="1779.5" y="2081.1" width="4.4" height="10.6" fill="#FDBF6F"/><rect x="1779.5" y="2091.7" width="4.4" height="2.8" fill="#E44B33"/><rect x="1779.5" y="2094.5" width="4.4" height="15.7" fill="#C7E2B6"/><rect x="1779.5" y="2110.2" width="4.4" height="101.8" fill="#4DAF4A"/><rect x="1783.9" y="2079.5" width="4.5" height="3.3" fill="#6A8ECE"/><rect x="1783.9" y="2082.8" width="4.5" height="1.1" fill="#E44B33"/><rect x="1783.9" y="2083.9" width="4.5" height="30.7" fill="#C7E2B6"/><rect x="1783.9" y="2114.6" width="4.5" height="97.4" fill="#4DAF4A"/><rect x="1788.4" y="2079.5" width="4.5" height="3.3" fill="#6A8ECE"/><rect x="1788.4" y="2082.8" width="4.5" height="1.7" fill="#E44B33"/><rect x="1788.4" y="2084.5" width="4.5" height="28.4" fill="#C7E2B6"/><rect x="1788.4" y="2112.9" width="4.5" height="99.1" fill="#4DAF4A"/><rect x="1792.9" y="2079.5" width="4.4" height="10.6" fill="#C7E2B6"/><rect x="1792.9" y="2090.1" width="4.4" height="121.9" fill="#4DAF4A"/><rect x="1797.3" y="2079.5" width="17.9" height="6.7" fill="#C7E2B6"/><rect x="1797.3" y="2086.2" width="17.9" height="125.8" fill="#4DAF4A"/><rect x="1815.2" y="2079.5" width="3.9" height="43.5" fill="#C7E2B6"/><rect x="1815.2" y="2123" width="3.9" height="89" fill="#4DAF4A"/><rect x="1819.1" y="2079.5" width="5" height="14.5" fill="#C7E2B6"/><rect x="1819.1" y="2094" width="5" height="118" fill="#4DAF4A"/><rect x="1824.1" y="2079.5" width="8.4" height="6.7" fill="#C7E2B6"/><rect x="1824.1" y="2086.2" width="8.4" height="125.8" fill="#4DAF4A"/><rect x="1832.5" y="2079.5" width="4.4" height="26.7" fill="#C7E2B6"/><rect x="1832.5" y="2106.2" width="4.4" height="105.8" fill="#4DAF4A"/><rect x="1836.9" y="2079.5" width="4.5" height="55.2" fill="#C7E2B6"/><rect x="1836.9" y="2134.7" width="4.5" height="77.3" fill="#4DAF4A"/><rect x="1841.4" y="2079.5" width="3.6" height="1.6" fill="#6A8ECE"/><rect x="1841.4" y="2081.1" width="3.6" height="1.2" fill="#E44B33"/><rect x="1841.4" y="2082.3" width="3.6" height="64.7" fill="#C7E2B6"/><rect x="1841.4" y="2147" width="3.6" height="65" fill="#4DAF4A"/><rect x="1845" y="2079.5" width="5.1" height="9.8" fill="#6A8ECE"/><rect x="1845" y="2089.3" width="5.1" height="9.7" fill="#E44B33"/><rect x="1845" y="2099" width="5.1" height="79.5" fill="#C7E2B6"/><rect x="1845" y="2178.5" width="5.1" height="33.5" fill="#4DAF4A"/><rect x="1850.1" y="2079.5" width="4.6" height="10.4" fill="#6A8ECE"/><rect x="1850.1" y="2089.9" width="4.6" height="11.4" fill="#E44B33"/><rect x="1850.1" y="2101.3" width="4.6" height="41.8" fill="#C7E2B6"/><rect x="1850.1" y="2143.1" width="4.6" height="68.9" fill="#4DAF4A"/><rect x="1854.7" y="2079.5" width="4.6" height="5.8" fill="#6A8ECE"/><rect x="1854.7" y="2085.3" width="4.6" height="5.7" fill="#E44B33"/><rect x="1854.7" y="2091" width="4.6" height="53.2" fill="#C7E2B6"/><rect x="1854.7" y="2144.2" width="4.6" height="67.8" fill="#4DAF4A"/><rect x="1859.3" y="2079.5" width="4.6" height="7.5" fill="#6A8ECE"/><rect x="1859.3" y="2087" width="4.6" height="8.6" fill="#E44B33"/><rect x="1859.3" y="2095.6" width="4.6" height="43.5" fill="#C7E2B6"/><rect x="1859.3" y="2139.1" width="4.6" height="72.9" fill="#4DAF4A"/><rect x="1863.9" y="2079.5" width="4" height="6.9" fill="#6A8ECE"/><rect x="1863.9" y="2086.4" width="4" height="7.5" fill="#E44B33"/><rect x="1863.9" y="2093.9" width="4" height="25.7" fill="#C7E2B6"/><rect x="1863.9" y="2119.6" width="4" height="92.4" fill="#4DAF4A"/><rect x="1867.9" y="2079.5" width="4.6" height="13.2" fill="#6A8ECE"/><rect x="1867.9" y="2092.7" width="4.6" height="2.9" fill="#FDBF6F"/><rect x="1867.9" y="2095.6" width="4.6" height="13.1" fill="#E44B33"/><rect x="1867.9" y="2108.7" width="4.6" height="36.6" fill="#C7E2B6"/><rect x="1867.9" y="2145.3" width="4.6" height="66.7" fill="#4DAF4A"/><rect x="1872.5" y="2079.5" width="4.5" height="7.5" fill="#6A8ECE"/><rect x="1872.5" y="2087" width="4.5" height="6.9" fill="#E44B33"/><rect x="1872.5" y="2093.9" width="4.5" height="27.4" fill="#C7E2B6"/><rect x="1872.5" y="2121.3" width="4.5" height="90.7" fill="#4DAF4A"/><rect x="1877" y="2079.5" width="4" height="8.7" fill="#6A8ECE"/><rect x="1877" y="2088.2" width="4" height="9.7" fill="#E44B33"/><rect x="1877" y="2097.9" width="4" height="29.1" fill="#C7E2B6"/><rect x="1877" y="2127" width="4" height="85" fill="#4DAF4A"/><rect x="1881" y="2079.5" width="4.6" height="1.8" fill="#6A8ECE"/><rect x="1881" y="2081.3" width="4.6" height="3.4" fill="#E44B33"/><rect x="1881" y="2084.7" width="4.6" height="10.3" fill="#C7E2B6"/><rect x="1881" y="2095" width="4.6" height="117" fill="#4DAF4A"/><rect x="1885.6" y="2079.5" width="4.6" height="8.1" fill="#6A8ECE"/><rect x="1885.6" y="2087.6" width="4.6" height="8.6" fill="#E44B33"/><rect x="1885.6" y="2096.2" width="4.6" height="32.6" fill="#C7E2B6"/><rect x="1885.6" y="2128.8" width="4.6" height="83.2" fill="#4DAF4A"/><rect x="1890.2" y="2079.5" width="4.6" height="5.8" fill="#6A8ECE"/><rect x="1890.2" y="2085.3" width="4.6" height="5.1" fill="#E44B33"/><rect x="1890.2" y="2090.4" width="4.6" height="30.4" fill="#C7E2B6"/><rect x="1890.2" y="2120.8" width="4.6" height="91.2" fill="#4DAF4A"/><rect x="1894.8" y="2079.5" width="4.5" height="4.7" fill="#6A8ECE"/><rect x="1894.8" y="2084.2" width="4.5" height="4" fill="#E44B33"/><rect x="1894.8" y="2088.2" width="4.5" height="22.8" fill="#C7E2B6"/><rect x="1894.8" y="2111" width="4.5" height="101" fill="#4DAF4A"/><rect x="1899.3" y="2079.5" width="4" height="4.1" fill="#6A8ECE"/><rect x="1899.3" y="2083.6" width="4" height="4" fill="#E44B33"/><rect x="1899.3" y="2087.6" width="4" height="18.3" fill="#C7E2B6"/><rect x="1899.3" y="2105.9" width="4" height="106.1" fill="#4DAF4A"/><rect x="1903.3" y="2079.5" width="4.6" height="2.9" fill="#6A8ECE"/><rect x="1903.3" y="2082.4" width="4.6" height="1.8" fill="#E44B33"/><rect x="1903.3" y="2084.2" width="4.6" height="30.3" fill="#C7E2B6"/><rect x="1903.3" y="2114.5" width="4.6" height="97.5" fill="#4DAF4A"/><rect x="1907.9" y="2079.5" width="4.6" height="1.8" fill="#6A8ECE"/><rect x="1907.9" y="2081.3" width="4.6" height="1.1" fill="#E44B33"/><rect x="1907.9" y="2082.4" width="4.6" height="18.3" fill="#C7E2B6"/><rect x="1907.9" y="2100.7" width="4.6" height="111.3" fill="#4DAF4A"/><rect x="1912.5" y="2079.5" width="4" height="6.4" fill="#6A8ECE"/><rect x="1912.5" y="2085.9" width="4" height="5.1" fill="#E44B33"/><rect x="1912.5" y="2091" width="4" height="45.8" fill="#C7E2B6"/><rect x="1912.5" y="2136.8" width="4" height="75.2" fill="#4DAF4A"/><rect x="1916.5" y="2079.5" width="4.6" height="2.9" fill="#6A8ECE"/><rect x="1916.5" y="2082.4" width="4.6" height="2.3" fill="#E44B33"/><rect x="1916.5" y="2084.7" width="4.6" height="34.3" fill="#C7E2B6"/><rect x="1916.5" y="2119" width="4.6" height="93" fill="#4DAF4A"/><rect x="1921.1" y="2079.5" width="4.6" height="2.4" fill="#6A8ECE"/><rect x="1921.1" y="2081.9" width="4.6" height="2.3" fill="#E44B33"/><rect x="1921.1" y="2084.2" width="4.6" height="20.5" fill="#C7E2B6"/><rect x="1921.1" y="2104.7" width="4.6" height="107.3" fill="#4DAF4A"/><rect x="1925.7" y="2079.5" width="4.5" height="0.1" fill="#6A8ECE"/><rect x="1925.7" y="2079.6" width="4.5" height="0.5" fill="#E44B33"/><rect x="1925.7" y="2080.1" width="4.5" height="12.1" fill="#C7E2B6"/><rect x="1925.7" y="2092.2" width="4.5" height="119.8" fill="#4DAF4A"/><rect x="1930.2" y="2079.5" width="4" height="4.1" fill="#6A8ECE"/><rect x="1930.2" y="2083.6" width="4" height="5.1" fill="#E44B33"/><rect x="1930.2" y="2088.7" width="4" height="16.6" fill="#C7E2B6"/><rect x="1930.2" y="2105.3" width="4" height="106.7" fill="#4DAF4A"/><rect x="1934.2" y="2079.5" width="4.6" height="1.8" fill="#6A8ECE"/><rect x="1934.2" y="2081.3" width="4.6" height="1.1" fill="#E44B33"/><rect x="1934.2" y="2082.4" width="4.6" height="12.6" fill="#C7E2B6"/><rect x="1934.2" y="2095" width="4.6" height="117" fill="#4DAF4A"/><rect x="1938.8" y="2079.5" width="4.6" height="0.6" fill="#6A8ECE"/><rect x="1938.8" y="2080.1" width="4.6" height="0.6" fill="#E44B33"/><rect x="1938.8" y="2080.7" width="4.6" height="12" fill="#C7E2B6"/><rect x="1938.8" y="2092.7" width="4.6" height="119.3" fill="#4DAF4A"/><rect x="1943.4" y="2079.5" width="4.6" height="0.1" fill="#6A8ECE"/><rect x="1943.4" y="2079.6" width="4.6" height="2.8" fill="#E44B33"/><rect x="1943.4" y="2082.4" width="4.6" height="15.5" fill="#C7E2B6"/><rect x="1943.4" y="2097.9" width="4.6" height="114.1" fill="#4DAF4A"/><rect x="1948" y="2079.5" width="4" height="0.1" fill="#6A8ECE"/><rect x="1948" y="2079.6" width="4" height="4" fill="#E44B33"/><rect x="1948" y="2083.6" width="4" height="40" fill="#C7E2B6"/><rect x="1948" y="2123.6" width="4" height="88.4" fill="#4DAF4A"/><rect x="1952" y="2079.5" width="4.5" height="0.1" fill="#6A8ECE"/><rect x="1952" y="2079.6" width="4.5" height="4" fill="#E44B33"/><rect x="1952" y="2083.6" width="4.5" height="20" fill="#C7E2B6"/><rect x="1952" y="2103.6" width="4.5" height="108.4" fill="#4DAF4A"/><rect x="1956.5" y="2079.5" width="4.6" height="0.1" fill="#6A8ECE"/><rect x="1956.5" y="2079.6" width="4.6" height="2.8" fill="#E44B33"/><rect x="1956.5" y="2082.4" width="4.6" height="7.5" fill="#C7E2B6"/><rect x="1956.5" y="2089.9" width="4.6" height="122.1" fill="#4DAF4A"/><rect x="1961.1" y="2079.5" width="4" height="2.9" fill="#6A8ECE"/><rect x="1961.1" y="2082.4" width="4" height="6.3" fill="#E44B33"/><rect x="1961.1" y="2088.7" width="4" height="10.9" fill="#C7E2B6"/><rect x="1961.1" y="2099.6" width="4" height="112.4" fill="#4DAF4A"/><rect x="1965.1" y="2079.5" width="4.6" height="0.1" fill="#6A8ECE"/><rect x="1965.1" y="2079.6" width="4.6" height="3.4" fill="#E44B33"/><rect x="1965.1" y="2083" width="4.6" height="6.9" fill="#C7E2B6"/><rect x="1965.1" y="2089.9" width="4.6" height="122.1" fill="#4DAF4A"/><rect x="1969.7" y="2079.5" width="4" height="0.1" fill="#6A8ECE"/><rect x="1969.7" y="2079.6" width="4" height="4" fill="#E44B33"/><rect x="1969.7" y="2083.6" width="4" height="37.2" fill="#C7E2B6"/><rect x="1969.7" y="2120.8" width="4" height="91.2" fill="#4DAF4A"/><rect x="1973.7" y="2079.5" width="4.6" height="0.6" fill="#6A8ECE"/><rect x="1973.7" y="2080.1" width="4.6" height="5.2" fill="#E44B33"/><rect x="1973.7" y="2085.3" width="4.6" height="9.7" fill="#C7E2B6"/><rect x="1973.7" y="2095" width="4.6" height="117" fill="#4DAF4A"/><rect x="1978.3" y="2079.5" width="4.6" height="0.6" fill="#6A8ECE"/><rect x="1978.3" y="2080.1" width="4.6" height="4.6" fill="#E44B33"/><rect x="1978.3" y="2084.7" width="4.6" height="9.2" fill="#C7E2B6"/><rect x="1978.3" y="2093.9" width="4.6" height="118.1" fill="#4DAF4A"/><rect x="1982.9" y="2079.5" width="4.5" height="0.1" fill="#6A8ECE"/><rect x="1982.9" y="2079.6" width="4.5" height="3.4" fill="#E44B33"/><rect x="1982.9" y="2083" width="4.5" height="6.3" fill="#C7E2B6"/><rect x="1982.9" y="2089.3" width="4.5" height="122.7" fill="#4DAF4A"/><rect x="1987.4" y="2079.5" width="4.6" height="0.1" fill="#6A8ECE"/><rect x="1987.4" y="2079.6" width="4.6" height="4.6" fill="#E44B33"/><rect x="1987.4" y="2084.2" width="4.6" height="6.8" fill="#C7E2B6"/><rect x="1987.4" y="2091" width="4.6" height="121" fill="#4DAF4A"/><rect x="1992" y="2079.5" width="4.6" height="0.6" fill="#6A8ECE"/><rect x="1992" y="2080.1" width="4.6" height="2.9" fill="#FDBF6F"/><rect x="1992" y="2083" width="4.6" height="4" fill="#E44B33"/><rect x="1992" y="2087" width="4.6" height="6.9" fill="#C7E2B6"/><rect x="1992" y="2093.9" width="4.6" height="118.1" fill="#4DAF4A"/><rect x="1996.6" y="2079.5" width="4.6" height="0.6" fill="#6A8ECE"/><rect x="1996.6" y="2080.1" width="4.6" height="5.2" fill="#FDBF6F"/><rect x="1996.6" y="2085.3" width="4.6" height="6.3" fill="#E44B33"/><rect x="1996.6" y="2091.6" width="4.6" height="6.8" fill="#C7E2B6"/><rect x="1996.6" y="2098.4" width="4.6" height="113.6" fill="#4DAF4A"/><rect x="2001.2" y="2079.5" width="4" height="0.1" fill="#6A8ECE"/><rect x="2001.2" y="2079.6" width="4" height="6.3" fill="#E44B33"/><rect x="2001.2" y="2085.9" width="4" height="6.8" fill="#C7E2B6"/><rect x="2001.2" y="2092.7" width="4" height="119.3" fill="#4DAF4A"/><rect x="2005.2" y="2079.5" width="4.5" height="1.2" fill="#6A8ECE"/><rect x="2005.2" y="2080.7" width="4.5" height="5.7" fill="#E44B33"/><rect x="2005.2" y="2086.4" width="4.5" height="8" fill="#C7E2B6"/><rect x="2005.2" y="2094.4" width="4.5" height="117.6" fill="#4DAF4A"/><rect x="2009.7" y="2079.5" width="4.6" height="0.1" fill="#6A8ECE"/><rect x="2009.7" y="2079.6" width="4.6" height="5.1" fill="#E44B33"/><rect x="2009.7" y="2084.7" width="4.6" height="8.6" fill="#C7E2B6"/><rect x="2009.7" y="2093.3" width="4.6" height="118.7" fill="#4DAF4A"/><rect x="2014.3" y="2079.5" width="4" height="0.1" fill="#6A8ECE"/><rect x="2014.3" y="2079.6" width="4" height="9.1" fill="#FDBF6F"/><rect x="2014.3" y="2088.7" width="4" height="6.9" fill="#E44B33"/><rect x="2014.3" y="2095.6" width="4" height="6.9" fill="#C7E2B6"/><rect x="2014.3" y="2102.5" width="4" height="109.5" fill="#4DAF4A"/><rect x="2018.3" y="2079.5" width="4.6" height="6.9" fill="#6A8ECE"/><rect x="2018.3" y="2086.4" width="4.6" height="11.5" fill="#E44B33"/><rect x="2018.3" y="2097.9" width="4.6" height="25.7" fill="#C7E2B6"/><rect x="2018.3" y="2123.6" width="4.6" height="88.4" fill="#4DAF4A"/><rect x="2022.9" y="2079.5" width="25.9" height="6.4" fill="#E44B33"/><rect x="2022.9" y="2085.9" width="25.9" height="6.8" fill="#C7E2B6"/><rect x="2022.9" y="2092.7" width="25.9" height="119.3" fill="#4DAF4A"/><rect x="546.6" y="2216.3" width="7.7" height="24.5" fill="#3B5289"/><rect x="581.4" y="2216.3" width="4.2" height="24.5" fill="#8190B6"/><rect x="669.8" y="2216.3" width="4.2" height="24.5" fill="#8190B6"/><rect x="1439.3" y="2216.3" width="4.5" height="24.5" fill="#8ECFBB"/><rect x="1448.2" y="2216.3" width="3.6" height="24.5" fill="#8ECFBB"/><rect x="1451.8" y="2216.3" width="5" height="24.5" fill="#7C5C44"/><rect x="104" y="2240.8" width="35" height="24.8" fill="#CD78A8"/><rect x="139" y="2240.8" width="159.4" height="24.8" fill="#984EA3"/><rect x="298.4" y="2240.8" width="247.3" height="24.8" fill="#4BB8D6"/><rect x="554.9" y="2240.8" width="26.5" height="24.8" fill="#FDBF6F"/><rect x="585.6" y="2240.8" width="84.2" height="24.8" fill="#FDBF6F"/><rect x="674" y="2240.8" width="765.3" height="24.8" fill="#FDBF6F"/><rect x="1443.8" y="2240.8" width="4.5" height="24.8" fill="#FDBF6F"/><rect x="1457.1" y="2240.8" width="4.2" height="24.8" fill="#FDBF6F"/><rect x="1461.2" y="2240.8" width="587.6" height="24.8" fill="#4DAF4A"/></g><line x1="104.5" y1="1938.8" x2="104.5" y2="2265.6" stroke="#000" stroke-width="1.5"/><line x1="139" y1="1938.8" x2="139" y2="2265.6" stroke="#000" stroke-width="1.5"/><line x1="298.4" y1="1938.8" x2="298.4" y2="2265.6" stroke="#000" stroke-width="1.5"/><line x1="545.7" y1="1938.8" x2="545.7" y2="2265.6" stroke="#000" stroke-width="1.5"/><line x1="554.9" y1="1938.8" x2="554.9" y2="2265.6" stroke="#000" stroke-width="1.5"/><line x1="1461.2" y1="1938.8" x2="1461.2" y2="2265.6" stroke="#000" stroke-width="1.5"/><line x1="2048.3" y1="1938.8" x2="2048.3" y2="2265.6" stroke="#000" stroke-width="1.5"/><line x1="638.8" y1="1939" x2="638.8" y2="2265.6" stroke="#000" stroke-width="1.5" stroke-dasharray="6,4"/><line x1="758.2" y1="1939" x2="758.2" y2="2265.6" stroke="#000" stroke-width="1.5" stroke-dasharray="6,4"/><line x1="842.1" y1="1939" x2="842.1" y2="2265.6" stroke="#000" stroke-width="1.5" stroke-dasharray="6,4"/><line x1="890.9" y1="1939" x2="890.9" y2="2265.6" stroke="#000" stroke-width="1.5" stroke-dasharray="6,4"/><line x1="1155.9" y1="1939" x2="1155.9" y2="2265.6" stroke="#000" stroke-width="1.5" stroke-dasharray="6,4"/><line x1="1416.9" y1="1939" x2="1416.9" y2="2265.6" stroke="#000" stroke-width="1.5" stroke-dasharray="6,4"/><text x="91.8" y="2013" font-size="26.1" text-anchor="end" fill="#000"><tspan font-style="italic">K</tspan> = 5</text><text x="91.8" y="2154.8" font-size="26.1" text-anchor="end" fill="#000"><tspan font-style="italic">K</tspan> = 10</text><text x="91.8" y="2261" font-size="26.1" text-anchor="end" fill="#000">Species</text><text x="11" y="1948.6" font-size="33" text-anchor="start" fill="#000" font-weight="bold">e</text><text x="0" y="9" font-size="26" text-anchor="middle" transform="translate(583.8,2294) rotate(-32)">CAS</text><text x="0" y="9" font-size="26" text-anchor="middle" transform="translate(679.5,2295.4) rotate(-32)">CAU</text><text x="0" y="9" font-size="26" text-anchor="middle" transform="translate(788.4,2296) rotate(-32)">WAS</text><text x="0" y="9" font-size="26" text-anchor="middle" transform="translate(811.3,2329.4) rotate(-32)">Turkey</text><text x="0" y="9" font-size="26" text-anchor="middle" transform="translate(1012.8,2292.2) rotate(-32)">SEU</text><text x="0" y="9" font-size="26" text-anchor="middle" transform="translate(1286.3,2293.8) rotate(-32)">EEU</text><line x1="846" y1="2300" x2="861.5" y2="2274.5" stroke="#000" stroke-width="1.8"/><path d="M864.4,2269.8L855.6,2275.6L863,2280.1Z" fill="#000"/></svg></body></html>
